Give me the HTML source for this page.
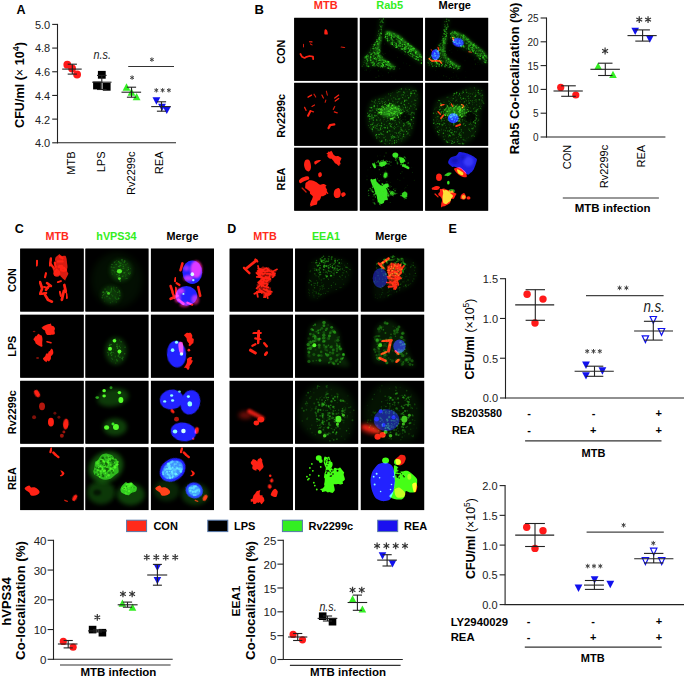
<!DOCTYPE html>
<html><head><meta charset="utf-8"><style>
html,body{margin:0;padding:0;background:#fff;}
svg{display:block;font-family:"Liberation Sans", sans-serif;}
</style></head><body>
<svg width="685" height="678" viewBox="0 0 685 678">
<text x="16.5" y="14.2" font-size="12.5" font-weight="bold" text-anchor="start" fill="#000">A</text>
<line x1="57.5" y1="23.9" x2="57.5" y2="143.3" stroke="#222" stroke-width="1.1"/>
<line x1="57.0" y1="142.8" x2="176" y2="142.8" stroke="#222" stroke-width="1.1"/>
<line x1="52.2" y1="142.8" x2="57.5" y2="142.8" stroke="#222" stroke-width="1.1"/>
<text x="50.2" y="147.2" font-size="11" font-weight="normal" text-anchor="end" fill="#222">4.0</text>
<line x1="52.2" y1="119.12" x2="57.5" y2="119.12" stroke="#222" stroke-width="1.1"/>
<text x="50.2" y="123.52" font-size="11" font-weight="normal" text-anchor="end" fill="#222">4.2</text>
<line x1="52.2" y1="95.44" x2="57.5" y2="95.44" stroke="#222" stroke-width="1.1"/>
<text x="50.2" y="99.84" font-size="11" font-weight="normal" text-anchor="end" fill="#222">4.4</text>
<line x1="52.2" y1="71.76" x2="57.5" y2="71.76" stroke="#222" stroke-width="1.1"/>
<text x="50.2" y="76.16" font-size="11" font-weight="normal" text-anchor="end" fill="#222">4.6</text>
<line x1="52.2" y1="48.08" x2="57.5" y2="48.08" stroke="#222" stroke-width="1.1"/>
<text x="50.2" y="52.48" font-size="11" font-weight="normal" text-anchor="end" fill="#222">4.8</text>
<line x1="52.2" y1="24.4" x2="57.5" y2="24.4" stroke="#222" stroke-width="1.1"/>
<text x="50.2" y="28.8" font-size="11" font-weight="normal" text-anchor="end" fill="#222">5.0</text>
<text transform="translate(24.3 85) rotate(-90)" text-anchor="middle" font-size="12.6" font-weight="bold">CFU/ml (<tspan font-weight="normal">×</tspan> 10<tspan dy="-5.5" font-size="9">4</tspan><tspan dy="5.5">)</tspan></text>
<text transform="translate(74.6 151.5) rotate(-90)" text-anchor="end" font-size="11">MTB</text>
<text transform="translate(104.7 151.5) rotate(-90)" text-anchor="end" font-size="11">LPS</text>
<text transform="translate(134.5 151.5) rotate(-90)" text-anchor="end" font-size="11">Rv2299c</text>
<text transform="translate(163.20000000000002 151.5) rotate(-90)" text-anchor="end" font-size="11">REA</text>
<circle cx="67.3" cy="64.7" r="3.9" fill="#ff1a1a"/>
<circle cx="72.1" cy="68.4" r="3.9" fill="#ff1a1a"/>
<circle cx="77.1" cy="74.5" r="3.9" fill="#ff1a1a"/>
<line x1="62.2" y1="69.1" x2="81.7" y2="69.1" stroke="#222" stroke-width="1.1"/>
<line x1="72.3" y1="64.2" x2="72.3" y2="74.1" stroke="#222" stroke-width="1.1"/>
<line x1="67.7" y1="64.2" x2="76.89999999999999" y2="64.2" stroke="#222" stroke-width="1.1"/>
<line x1="67.7" y1="74.1" x2="76.89999999999999" y2="74.1" stroke="#222" stroke-width="1.1"/>
<rect x="97.89999999999999" y="70.89999999999999" width="7.8" height="7.8" fill="#000"/>
<rect x="93.1" y="81.6" width="7.8" height="7.8" fill="#000"/>
<rect x="102.8" y="82.89999999999999" width="7.8" height="7.8" fill="#000"/>
<line x1="92.2" y1="82.2" x2="111.5" y2="82.2" stroke="#222" stroke-width="1.1"/>
<line x1="101.8" y1="75.4" x2="101.8" y2="89.5" stroke="#222" stroke-width="1.1"/>
<line x1="97.0" y1="75.4" x2="106.6" y2="75.4" stroke="#222" stroke-width="1.1"/>
<line x1="97.0" y1="89.5" x2="106.6" y2="89.5" stroke="#222" stroke-width="1.1"/>
<text x="93.5" y="59.2" font-size="12.7" font-style="italic" fill="#222" textLength="17.4" lengthAdjust="spacingAndGlyphs">n.s.</text>
<polygon points="126.5,83.295 122.6,90.705 130.4,90.705" fill="#33ee22"/>
<polygon points="131.5,88.295 127.6,95.705 135.4,95.705" fill="#33ee22"/>
<polygon points="136.6,92.895 132.7,100.30499999999999 140.5,100.30499999999999" fill="#33ee22"/>
<line x1="121.5" y1="92.2" x2="141.1" y2="92.2" stroke="#222" stroke-width="1.1"/>
<line x1="131.5" y1="87.2" x2="131.5" y2="97.2" stroke="#222" stroke-width="1.1"/>
<line x1="126.9" y1="87.2" x2="136.1" y2="87.2" stroke="#222" stroke-width="1.1"/>
<line x1="126.9" y1="97.2" x2="136.1" y2="97.2" stroke="#222" stroke-width="1.1"/>
<path d="M132.10,75.40L132.10,79.80M130.19,76.50L134.01,78.70M134.01,76.50L130.19,78.70" stroke="#444" stroke-width="1.0" fill="none"/>
<polygon points="156.4,104.705 152.5,97.295 160.3,97.295" fill="#1111ee"/>
<polygon points="162,111.205 158.1,103.795 165.9,103.795" fill="#1111ee"/>
<polygon points="166.8,114.105 162.9,106.69500000000001 170.70000000000002,106.69500000000001" fill="#1111ee"/>
<line x1="151.2" y1="106.6" x2="170.8" y2="106.6" stroke="#222" stroke-width="1.1"/>
<line x1="161.5" y1="101.8" x2="161.5" y2="111.2" stroke="#222" stroke-width="1.1"/>
<line x1="156.9" y1="101.8" x2="166.1" y2="101.8" stroke="#222" stroke-width="1.1"/>
<line x1="156.9" y1="111.2" x2="166.1" y2="111.2" stroke="#222" stroke-width="1.1"/>
<path d="M156.30,88.10L156.30,92.50M154.39,89.20L158.21,91.40M158.21,89.20L154.39,91.40" stroke="#444" stroke-width="1.0" fill="none"/>
<path d="M162.60,88.10L162.60,92.50M160.69,89.20L164.51,91.40M164.51,89.20L160.69,91.40" stroke="#444" stroke-width="1.0" fill="none"/>
<path d="M168.90,88.10L168.90,92.50M166.99,89.20L170.81,91.40M170.81,89.20L166.99,91.40" stroke="#444" stroke-width="1.0" fill="none"/>
<line x1="128.2" y1="66.5" x2="174" y2="66.5" stroke="#333" stroke-width="1.1"/>
<path d="M151.90,57.40L151.90,61.80M149.99,58.50L153.81,60.70M153.81,58.50L149.99,60.70" stroke="#444" stroke-width="1.0" fill="none"/>
<line x1="546.5" y1="17.5" x2="546.5" y2="137.5" stroke="#222" stroke-width="1.1"/>
<line x1="546.0" y1="137.0" x2="665.4" y2="137.0" stroke="#222" stroke-width="1.1"/>
<line x1="540.6" y1="137.0" x2="546.5" y2="137.0" stroke="#222" stroke-width="1.1"/>
<text x="538.6" y="141.0" font-size="10" font-weight="normal" text-anchor="end" fill="#222">0</text>
<line x1="540.6" y1="113.2" x2="546.5" y2="113.2" stroke="#222" stroke-width="1.1"/>
<text x="538.6" y="117.2" font-size="10" font-weight="normal" text-anchor="end" fill="#222">5</text>
<line x1="540.6" y1="89.4" x2="546.5" y2="89.4" stroke="#222" stroke-width="1.1"/>
<text x="538.6" y="93.4" font-size="10" font-weight="normal" text-anchor="end" fill="#222">10</text>
<line x1="540.6" y1="65.6" x2="546.5" y2="65.6" stroke="#222" stroke-width="1.1"/>
<text x="538.6" y="69.6" font-size="10" font-weight="normal" text-anchor="end" fill="#222">15</text>
<line x1="540.6" y1="41.8" x2="546.5" y2="41.8" stroke="#222" stroke-width="1.1"/>
<text x="538.6" y="45.8" font-size="10" font-weight="normal" text-anchor="end" fill="#222">20</text>
<line x1="540.6" y1="18.0" x2="546.5" y2="18.0" stroke="#222" stroke-width="1.1"/>
<text x="538.6" y="22.0" font-size="10" font-weight="normal" text-anchor="end" fill="#222">25</text>
<text transform="translate(519 78.5) rotate(-90)" text-anchor="middle" font-size="13" font-weight="bold">Rab5 Co-localization (%)</text>
<text transform="translate(570.5999999999999 144.8) rotate(-90)" text-anchor="end" font-size="11">CON</text>
<text transform="translate(608.0 144.8) rotate(-90)" text-anchor="end" font-size="11">Rv2299c</text>
<text transform="translate(644.9 144.8) rotate(-90)" text-anchor="end" font-size="11">REA</text>
<line x1="562.8" y1="198" x2="658.9" y2="198" stroke="#333" stroke-width="1.2"/>
<text x="612.65" y="211.9" font-size="11.5" font-weight="bold" text-anchor="middle" fill="#000">MTB infection</text>
<circle cx="560.7" cy="87.4" r="3.6" fill="#ff1a1a"/>
<circle cx="575.8" cy="95" r="3.6" fill="#ff1a1a"/>
<line x1="553.5" y1="91" x2="582.8" y2="91" stroke="#222" stroke-width="1.1"/>
<line x1="568.5" y1="85.8" x2="568.5" y2="96.3" stroke="#222" stroke-width="1.1"/>
<line x1="561.2" y1="85.8" x2="575.8" y2="85.8" stroke="#222" stroke-width="1.1"/>
<line x1="561.2" y1="96.3" x2="575.8" y2="96.3" stroke="#222" stroke-width="1.1"/>
<polygon points="598.1,62.39 594.3000000000001,69.61 601.9,69.61" fill="#33ee22"/>
<polygon points="613,70.79 609.2,78.01 616.8,78.01" fill="#33ee22"/>
<line x1="590.4" y1="69.3" x2="619.9" y2="69.3" stroke="#222" stroke-width="1.1"/>
<line x1="605.3" y1="63.2" x2="605.3" y2="75.5" stroke="#222" stroke-width="1.1"/>
<line x1="598.0999999999999" y1="63.2" x2="612.5" y2="63.2" stroke="#222" stroke-width="1.1"/>
<line x1="598.0999999999999" y1="75.5" x2="612.5" y2="75.5" stroke="#222" stroke-width="1.1"/>
<path d="M605.10,47.60L605.10,54.40M602.16,49.30L608.04,52.70M608.04,49.30L602.16,52.70" stroke="#333" stroke-width="1.2" fill="none"/>
<polygon points="635.2,35.01 631.4000000000001,27.79 639.0,27.79" fill="#1111ee"/>
<polygon points="649.8,42.71 646.0,35.49 653.5999999999999,35.49" fill="#1111ee"/>
<line x1="627.5" y1="35.6" x2="656.7" y2="35.6" stroke="#222" stroke-width="1.1"/>
<line x1="642.6" y1="29.9" x2="642.6" y2="41.1" stroke="#222" stroke-width="1.1"/>
<line x1="635.3000000000001" y1="29.9" x2="649.9" y2="29.9" stroke="#222" stroke-width="1.1"/>
<line x1="635.3000000000001" y1="41.1" x2="649.9" y2="41.1" stroke="#222" stroke-width="1.1"/>
<path d="M639.25,16.20L639.25,23.00M636.31,17.90L642.19,21.30M642.19,17.90L636.31,21.30" stroke="#333" stroke-width="1.2" fill="none"/>
<path d="M648.05,16.20L648.05,23.00M645.11,17.90L650.99,21.30M650.99,17.90L645.11,21.30" stroke="#333" stroke-width="1.2" fill="none"/>
<line x1="53.5" y1="539.8" x2="53.5" y2="659.8" stroke="#222" stroke-width="1.1"/>
<line x1="53.0" y1="659.3" x2="172.7" y2="659.3" stroke="#222" stroke-width="1.1"/>
<line x1="47.6" y1="659.3" x2="53.5" y2="659.3" stroke="#222" stroke-width="1.1"/>
<text x="46.5" y="663.9" font-size="11.5" font-weight="normal" text-anchor="end" fill="#222">0</text>
<line x1="47.6" y1="629.55" x2="53.5" y2="629.55" stroke="#222" stroke-width="1.1"/>
<text x="46.5" y="634.15" font-size="11.5" font-weight="normal" text-anchor="end" fill="#222">10</text>
<line x1="47.6" y1="599.8" x2="53.5" y2="599.8" stroke="#222" stroke-width="1.1"/>
<text x="46.5" y="604.4" font-size="11.5" font-weight="normal" text-anchor="end" fill="#222">20</text>
<line x1="47.6" y1="570.05" x2="53.5" y2="570.05" stroke="#222" stroke-width="1.1"/>
<text x="46.5" y="574.65" font-size="11.5" font-weight="normal" text-anchor="end" fill="#222">30</text>
<line x1="47.6" y1="540.3" x2="53.5" y2="540.3" stroke="#222" stroke-width="1.1"/>
<text x="46.5" y="544.9" font-size="11.5" font-weight="normal" text-anchor="end" fill="#222">40</text>
<text transform="translate(11 601.5) rotate(-90)" text-anchor="middle" font-size="13" font-weight="bold">hVPS34</text>
<text transform="translate(25.3 600.5) rotate(-90)" text-anchor="middle" font-size="13.3" font-weight="bold">Co-localization (%)</text>
<line x1="60" y1="665" x2="170.6" y2="665" stroke="#333" stroke-width="1.2"/>
<text x="118.4" y="676.3" font-size="11.5" font-weight="bold" text-anchor="middle" fill="#000">MTB infection</text>
<circle cx="63.3" cy="641.4" r="3.6" fill="#ff1a1a"/>
<circle cx="73.1" cy="647.2" r="3.6" fill="#ff1a1a"/>
<line x1="57.9" y1="644" x2="77.5" y2="644" stroke="#222" stroke-width="1.1"/>
<line x1="68.2" y1="640.5" x2="68.2" y2="647.9" stroke="#222" stroke-width="1.1"/>
<line x1="63.6" y1="640.5" x2="72.8" y2="640.5" stroke="#222" stroke-width="1.1"/>
<line x1="63.6" y1="647.9" x2="72.8" y2="647.9" stroke="#222" stroke-width="1.1"/>
<rect x="88.8" y="625.8000000000001" width="7.6" height="7.6" fill="#000"/>
<rect x="98.60000000000001" y="628.9000000000001" width="7.6" height="7.6" fill="#000"/>
<line x1="88" y1="630.9" x2="107" y2="630.9" stroke="#222" stroke-width="1.1"/>
<line x1="97.5" y1="629.8" x2="97.5" y2="632" stroke="#222" stroke-width="1.1"/>
<line x1="92.9" y1="629.8" x2="102.1" y2="629.8" stroke="#222" stroke-width="1.1"/>
<line x1="92.9" y1="632" x2="102.1" y2="632" stroke="#222" stroke-width="1.1"/>
<path d="M97.30,614.10L97.30,620.70M94.44,615.75L100.16,619.05M100.16,615.75L94.44,619.05" stroke="#333" stroke-width="1.2" fill="none"/>
<polygon points="122.4,599.49 118.60000000000001,606.71 126.2,606.71" fill="#33ee22"/>
<polygon points="132.5,603.59 128.7,610.8100000000001 136.3,610.8100000000001" fill="#33ee22"/>
<line x1="117.7" y1="604.8" x2="137.6" y2="604.8" stroke="#222" stroke-width="1.1"/>
<line x1="127.5" y1="602.1" x2="127.5" y2="607.2" stroke="#222" stroke-width="1.1"/>
<line x1="122.9" y1="602.1" x2="132.1" y2="602.1" stroke="#222" stroke-width="1.1"/>
<line x1="122.9" y1="607.2" x2="132.1" y2="607.2" stroke="#222" stroke-width="1.1"/>
<path d="M122.95,590.70L122.95,597.30M120.09,592.35L125.81,595.65M125.81,592.35L120.09,595.65" stroke="#333" stroke-width="1.2" fill="none"/>
<path d="M132.15,590.70L132.15,597.30M129.29,592.35L135.01,595.65M135.01,592.35L129.29,595.65" stroke="#333" stroke-width="1.2" fill="none"/>
<polygon points="157.4,571.11 153.6,563.89 161.20000000000002,563.89" fill="#1111ee"/>
<polygon points="157.4,584.3100000000001 153.6,577.09 161.20000000000002,577.09" fill="#1111ee"/>
<line x1="147.2" y1="575" x2="167.2" y2="575" stroke="#222" stroke-width="1.1"/>
<line x1="157.4" y1="564.4" x2="157.4" y2="585.2" stroke="#222" stroke-width="1.1"/>
<line x1="152.9" y1="564.4" x2="161.9" y2="564.4" stroke="#222" stroke-width="1.1"/>
<line x1="152.9" y1="585.2" x2="161.9" y2="585.2" stroke="#222" stroke-width="1.1"/>
<path d="M146.79,554.00L146.79,560.60M143.94,555.65L149.65,558.95M149.65,555.65L143.94,558.95" stroke="#333" stroke-width="1.2" fill="none"/>
<path d="M156.26,554.00L156.26,560.60M153.41,555.65L159.12,558.95M159.12,555.65L153.41,558.95" stroke="#333" stroke-width="1.2" fill="none"/>
<path d="M165.73,554.00L165.73,560.60M162.88,555.65L168.59,558.95M168.59,555.65L162.88,558.95" stroke="#333" stroke-width="1.2" fill="none"/>
<path d="M175.20,554.00L175.20,560.60M172.35,555.65L178.06,558.95M178.06,555.65L172.35,558.95" stroke="#333" stroke-width="1.2" fill="none"/>
<line x1="283.3" y1="539.8" x2="283.3" y2="660.0" stroke="#222" stroke-width="1.1"/>
<line x1="282.8" y1="659.5" x2="402.8" y2="659.5" stroke="#222" stroke-width="1.1"/>
<line x1="277.40000000000003" y1="659.5" x2="283.3" y2="659.5" stroke="#222" stroke-width="1.1"/>
<text x="276.3" y="664.1" font-size="11.5" font-weight="normal" text-anchor="end" fill="#222">0</text>
<line x1="277.40000000000003" y1="635.66" x2="283.3" y2="635.66" stroke="#222" stroke-width="1.1"/>
<text x="276.3" y="640.26" font-size="11.5" font-weight="normal" text-anchor="end" fill="#222">5</text>
<line x1="277.40000000000003" y1="611.82" x2="283.3" y2="611.82" stroke="#222" stroke-width="1.1"/>
<text x="276.3" y="616.42" font-size="11.5" font-weight="normal" text-anchor="end" fill="#222">10</text>
<line x1="277.40000000000003" y1="587.98" x2="283.3" y2="587.98" stroke="#222" stroke-width="1.1"/>
<text x="276.3" y="592.58" font-size="11.5" font-weight="normal" text-anchor="end" fill="#222">15</text>
<line x1="277.40000000000003" y1="564.14" x2="283.3" y2="564.14" stroke="#222" stroke-width="1.1"/>
<text x="276.3" y="568.74" font-size="11.5" font-weight="normal" text-anchor="end" fill="#222">20</text>
<line x1="277.40000000000003" y1="540.3" x2="283.3" y2="540.3" stroke="#222" stroke-width="1.1"/>
<text x="276.3" y="544.9" font-size="11.5" font-weight="normal" text-anchor="end" fill="#222">25</text>
<text transform="translate(239.8 601) rotate(-90)" text-anchor="middle" font-size="11.8" font-weight="bold">EEA1</text>
<text transform="translate(254.6 600.5) rotate(-90)" text-anchor="middle" font-size="13.3" font-weight="bold">Co-localization (%)</text>
<line x1="289.9" y1="665.4" x2="400.6" y2="665.4" stroke="#333" stroke-width="1.2"/>
<text x="348.0" y="676.3" font-size="11.5" font-weight="bold" text-anchor="middle" fill="#000">MTB infection</text>
<circle cx="293.1" cy="634.4" r="3.6" fill="#ff1a1a"/>
<circle cx="302.5" cy="639.8" r="3.6" fill="#ff1a1a"/>
<line x1="288.1" y1="637" x2="307.3" y2="637" stroke="#222" stroke-width="1.1"/>
<line x1="297.7" y1="633.5" x2="297.7" y2="640.5" stroke="#222" stroke-width="1.1"/>
<line x1="293.09999999999997" y1="633.5" x2="302.3" y2="633.5" stroke="#222" stroke-width="1.1"/>
<line x1="293.09999999999997" y1="640.5" x2="302.3" y2="640.5" stroke="#222" stroke-width="1.1"/>
<rect x="318.9" y="612.4000000000001" width="7.6" height="7.6" fill="#000"/>
<rect x="328.7" y="617.9000000000001" width="7.6" height="7.6" fill="#000"/>
<line x1="317.6" y1="618.4" x2="337.3" y2="618.4" stroke="#222" stroke-width="1.1"/>
<line x1="327.5" y1="616" x2="327.5" y2="621" stroke="#222" stroke-width="1.1"/>
<line x1="322.9" y1="616" x2="332.1" y2="616" stroke="#222" stroke-width="1.1"/>
<line x1="322.9" y1="621" x2="332.1" y2="621" stroke="#222" stroke-width="1.1"/>
<text x="319.4" y="610.7" font-size="12.7" font-style="italic" fill="#222" textLength="17.2" lengthAdjust="spacingAndGlyphs">n.s.</text>
<polygon points="352.6,595.1899999999999 348.8,602.41 356.40000000000003,602.41" fill="#33ee22"/>
<polygon points="362.4,605.39 358.59999999999997,612.61 366.2,612.61" fill="#33ee22"/>
<line x1="347.6" y1="602.5" x2="367.2" y2="602.5" stroke="#222" stroke-width="1.1"/>
<line x1="357.4" y1="595.1" x2="357.4" y2="610.3" stroke="#222" stroke-width="1.1"/>
<line x1="352.79999999999995" y1="595.1" x2="362.0" y2="595.1" stroke="#222" stroke-width="1.1"/>
<line x1="352.79999999999995" y1="610.3" x2="362.0" y2="610.3" stroke="#222" stroke-width="1.1"/>
<path d="M352.55,586.70L352.55,593.30M349.69,588.35L355.41,591.65M355.41,588.35L349.69,591.65" stroke="#333" stroke-width="1.2" fill="none"/>
<path d="M361.75,586.70L361.75,593.30M358.89,588.35L364.61,591.65M364.61,588.35L358.89,591.65" stroke="#333" stroke-width="1.2" fill="none"/>
<polygon points="382.5,559.41 378.7,552.1899999999999 386.3,552.1899999999999" fill="#1111ee"/>
<polygon points="392.5,567.41 388.7,560.1899999999999 396.3,560.1899999999999" fill="#1111ee"/>
<line x1="377.2" y1="560.1" x2="396.9" y2="560.1" stroke="#222" stroke-width="1.1"/>
<line x1="387.1" y1="554.7" x2="387.1" y2="566" stroke="#222" stroke-width="1.1"/>
<line x1="382.5" y1="554.7" x2="391.70000000000005" y2="554.7" stroke="#222" stroke-width="1.1"/>
<line x1="382.5" y1="566" x2="391.70000000000005" y2="566" stroke="#222" stroke-width="1.1"/>
<path d="M377.10,542.60L377.10,549.20M374.24,544.25L379.96,547.55M379.96,544.25L374.24,547.55" stroke="#333" stroke-width="1.2" fill="none"/>
<path d="M386.40,542.60L386.40,549.20M383.54,544.25L389.26,547.55M389.26,544.25L383.54,547.55" stroke="#333" stroke-width="1.2" fill="none"/>
<path d="M395.70,542.60L395.70,549.20M392.84,544.25L398.56,547.55M398.56,544.25L392.84,547.55" stroke="#333" stroke-width="1.2" fill="none"/>
<path d="M405.00,542.60L405.00,549.20M402.14,544.25L407.86,547.55M407.86,544.25L402.14,547.55" stroke="#333" stroke-width="1.2" fill="none"/>
<text x="448.6" y="232.7" font-size="12.5" font-weight="bold" text-anchor="start" fill="#000">E</text>
<line x1="505.5" y1="278.2" x2="505.5" y2="398.5" stroke="#222" stroke-width="1.1"/>
<line x1="505.0" y1="398.0" x2="684" y2="398.0" stroke="#222" stroke-width="1.1"/>
<line x1="500.0" y1="398.0" x2="505.5" y2="398.0" stroke="#222" stroke-width="1.1"/>
<text x="498" y="402.4" font-size="11" font-weight="normal" text-anchor="end" fill="#222">0.0</text>
<line x1="500.0" y1="358.23" x2="505.5" y2="358.23" stroke="#222" stroke-width="1.1"/>
<text x="498" y="362.63" font-size="11" font-weight="normal" text-anchor="end" fill="#222">0.5</text>
<line x1="500.0" y1="318.47" x2="505.5" y2="318.47" stroke="#222" stroke-width="1.1"/>
<text x="498" y="322.87" font-size="11" font-weight="normal" text-anchor="end" fill="#222">1.0</text>
<line x1="500.0" y1="278.7" x2="505.5" y2="278.7" stroke="#222" stroke-width="1.1"/>
<text x="498" y="283.1" font-size="11" font-weight="normal" text-anchor="end" fill="#222">1.5</text>
<text transform="translate(473.6 339) rotate(-90)" text-anchor="middle" font-size="12.4" font-weight="bold">CFU/ml <tspan font-weight="normal">(×10<tspan dy="-4.5" font-size="8.5">5</tspan><tspan dy="4.5">)</tspan></tspan></text>
<circle cx="527.1" cy="294.3" r="3.7" fill="#ff1a1a"/>
<circle cx="543" cy="299.1" r="3.7" fill="#ff1a1a"/>
<circle cx="535" cy="323" r="3.7" fill="#ff1a1a"/>
<line x1="515.2" y1="304.9" x2="554.2" y2="304.9" stroke="#222" stroke-width="1.1"/>
<line x1="535.3" y1="289.7" x2="535.3" y2="320.3" stroke="#222" stroke-width="1.1"/>
<line x1="525.5999999999999" y1="289.7" x2="545.0" y2="289.7" stroke="#222" stroke-width="1.1"/>
<line x1="525.5999999999999" y1="320.3" x2="545.0" y2="320.3" stroke="#222" stroke-width="1.1"/>
<polygon points="586,368.905 582.1,361.495 589.9,361.495" fill="#1111ee"/>
<polygon points="586,379.60499999999996 582.1,372.195 589.9,372.195" fill="#1111ee"/>
<polygon points="602.4,374.705 598.5,367.295 606.3,367.295" fill="#1111ee"/>
<line x1="574.6" y1="371.2" x2="613.8" y2="371.2" stroke="#222" stroke-width="1.1"/>
<line x1="594.5" y1="366.2" x2="594.5" y2="376.3" stroke="#222" stroke-width="1.1"/>
<line x1="585.7" y1="366.2" x2="603.3" y2="366.2" stroke="#222" stroke-width="1.1"/>
<line x1="585.7" y1="376.3" x2="603.3" y2="376.3" stroke="#222" stroke-width="1.1"/>
<path d="M587.20,349.00L587.20,353.60M585.21,350.15L589.19,352.45M589.19,350.15L585.21,352.45" stroke="#444" stroke-width="1.0" fill="none"/>
<path d="M593.50,349.00L593.50,353.60M591.51,350.15L595.49,352.45M595.49,350.15L591.51,352.45" stroke="#444" stroke-width="1.0" fill="none"/>
<path d="M599.80,349.00L599.80,353.60M597.81,350.15L601.79,352.45M601.79,350.15L597.81,352.45" stroke="#444" stroke-width="1.0" fill="none"/>
<polygon points="653.3,323.305 650.1,316.49500000000006 656.4999999999999,316.49500000000006" fill="#fff" stroke="#1111ee" stroke-width="1.2"/>
<polygon points="661.5,335.305 658.3000000000001,328.49500000000006 664.6999999999999,328.49500000000006" fill="#fff" stroke="#1111ee" stroke-width="1.2"/>
<polygon points="645.4,342.60499999999996 642.2,335.795 648.5999999999999,335.795" fill="#fff" stroke="#1111ee" stroke-width="1.2"/>
<line x1="634.1" y1="331" x2="673" y2="331" stroke="#222" stroke-width="1.1"/>
<line x1="653.3" y1="321.3" x2="653.3" y2="340.1" stroke="#222" stroke-width="1.1"/>
<line x1="643.9" y1="321.3" x2="662.6999999999999" y2="321.3" stroke="#222" stroke-width="1.1"/>
<line x1="643.9" y1="340.1" x2="662.6999999999999" y2="340.1" stroke="#222" stroke-width="1.1"/>
<text x="643.4" y="311.8" font-size="16" font-style="italic" fill="#222" textLength="21.6" lengthAdjust="spacingAndGlyphs">n.s.</text>
<line x1="586" y1="295.7" x2="663.6" y2="295.7" stroke="#444" stroke-width="1.2"/>
<path d="M619.60,285.60L619.60,290.20M617.61,286.75L621.59,289.05M621.59,286.75L617.61,289.05" stroke="#444" stroke-width="1.0" fill="none"/>
<path d="M626.40,285.60L626.40,290.20M624.41,286.75L628.39,289.05M628.39,286.75L624.41,289.05" stroke="#444" stroke-width="1.0" fill="none"/>
<text x="451" y="416.5" font-size="10.8" font-weight="bold" text-anchor="start" fill="#000">SB203580</text>
<text x="452" y="433.8" font-size="10.8" font-weight="bold" text-anchor="start" fill="#000">REA</text>
<text x="529.2" y="417.4" font-size="11" font-weight="bold" text-anchor="middle" fill="#000">-</text>
<text x="593.7" y="417.4" font-size="11" font-weight="bold" text-anchor="middle" fill="#000">-</text>
<text x="658.8" y="416.9" font-size="11" font-weight="bold" text-anchor="middle" fill="#000">+</text>
<text x="529.2" y="433.6" font-size="11" font-weight="bold" text-anchor="middle" fill="#000">-</text>
<text x="593.2" y="433.6" font-size="11" font-weight="bold" text-anchor="middle" fill="#000">+</text>
<text x="658.8" y="433.6" font-size="11" font-weight="bold" text-anchor="middle" fill="#000">+</text>
<line x1="525.1" y1="440.9" x2="661.5" y2="440.9" stroke="#333" stroke-width="1.2"/>
<text x="593.5" y="456.6" font-size="11" font-weight="bold" text-anchor="middle" fill="#000">MTB</text>
<line x1="505.1" y1="485.1" x2="505.1" y2="605.1" stroke="#222" stroke-width="1.1"/>
<line x1="504.6" y1="604.6" x2="684" y2="604.6" stroke="#222" stroke-width="1.1"/>
<line x1="499.6" y1="604.6" x2="505.1" y2="604.6" stroke="#222" stroke-width="1.1"/>
<text x="497.5" y="609.0" font-size="11" font-weight="normal" text-anchor="end" fill="#222">0.0</text>
<line x1="499.6" y1="574.85" x2="505.1" y2="574.85" stroke="#222" stroke-width="1.1"/>
<text x="497.5" y="579.25" font-size="11" font-weight="normal" text-anchor="end" fill="#222">0.5</text>
<line x1="499.6" y1="545.1" x2="505.1" y2="545.1" stroke="#222" stroke-width="1.1"/>
<text x="497.5" y="549.5" font-size="11" font-weight="normal" text-anchor="end" fill="#222">1.0</text>
<line x1="499.6" y1="515.35" x2="505.1" y2="515.35" stroke="#222" stroke-width="1.1"/>
<text x="497.5" y="519.75" font-size="11" font-weight="normal" text-anchor="end" fill="#222">1.5</text>
<line x1="499.6" y1="485.6" x2="505.1" y2="485.6" stroke="#222" stroke-width="1.1"/>
<text x="497.5" y="490.0" font-size="11" font-weight="normal" text-anchor="end" fill="#222">2.0</text>
<text transform="translate(474.6 538.5) rotate(-90)" text-anchor="middle" font-size="12.4" font-weight="bold">CFU/ml <tspan font-weight="normal">(×10<tspan dy="-4.5" font-size="8.5">5</tspan><tspan dy="4.5">)</tspan></tspan></text>
<circle cx="526.7" cy="527.2" r="3.7" fill="#ff1a1a"/>
<circle cx="543" cy="530.7" r="3.7" fill="#ff1a1a"/>
<circle cx="535" cy="548.4" r="3.7" fill="#ff1a1a"/>
<line x1="515.2" y1="535.1" x2="554.2" y2="535.1" stroke="#222" stroke-width="1.1"/>
<line x1="535" y1="523.5" x2="535" y2="546.5" stroke="#222" stroke-width="1.1"/>
<line x1="525.1" y1="523.5" x2="544.9" y2="523.5" stroke="#222" stroke-width="1.1"/>
<line x1="525.1" y1="546.5" x2="544.9" y2="546.5" stroke="#222" stroke-width="1.1"/>
<polygon points="578.5,592.005 574.6,584.5949999999999 582.4,584.5949999999999" fill="#1111ee"/>
<polygon points="594.6,583.605 590.7,576.1949999999999 598.5,576.1949999999999" fill="#1111ee"/>
<polygon points="610.3,588.205 606.4,580.795 614.1999999999999,580.795" fill="#1111ee"/>
<line x1="584" y1="585.1" x2="603.9" y2="585.1" stroke="#222" stroke-width="1.1"/>
<line x1="594.4" y1="580.5" x2="594.4" y2="589.4" stroke="#222" stroke-width="1.1"/>
<line x1="584.9" y1="580.5" x2="603.9" y2="580.5" stroke="#222" stroke-width="1.1"/>
<line x1="584.9" y1="589.4" x2="603.9" y2="589.4" stroke="#222" stroke-width="1.1"/>
<path d="M587.70,563.80L587.70,568.40M585.71,564.95L589.69,567.25M589.69,564.95L585.71,567.25" stroke="#444" stroke-width="1.0" fill="none"/>
<path d="M594.00,563.80L594.00,568.40M592.01,564.95L595.99,567.25M595.99,564.95L592.01,567.25" stroke="#444" stroke-width="1.0" fill="none"/>
<path d="M600.30,563.80L600.30,568.40M598.31,564.95L602.29,567.25M602.29,564.95L598.31,567.25" stroke="#444" stroke-width="1.0" fill="none"/>
<polygon points="653.7,555.005 650.5000000000001,548.1949999999999 656.9,548.1949999999999" fill="#fff" stroke="#1111ee" stroke-width="1.2"/>
<polygon points="645.4,564.505 642.2,557.6949999999999 648.5999999999999,557.6949999999999" fill="#fff" stroke="#1111ee" stroke-width="1.2"/>
<polygon points="661.7,564.505 658.5000000000001,557.6949999999999 664.9,557.6949999999999" fill="#fff" stroke="#1111ee" stroke-width="1.2"/>
<line x1="634.2" y1="558.7" x2="673.4" y2="558.7" stroke="#222" stroke-width="1.1"/>
<line x1="653.7" y1="553.4" x2="653.7" y2="562.9" stroke="#222" stroke-width="1.1"/>
<line x1="644.0" y1="553.4" x2="663.4000000000001" y2="553.4" stroke="#222" stroke-width="1.1"/>
<line x1="644.0" y1="562.9" x2="663.4000000000001" y2="562.9" stroke="#222" stroke-width="1.1"/>
<path d="M653.30,540.90L653.30,545.50M651.31,542.05L655.29,544.35M655.29,542.05L651.31,544.35" stroke="#444" stroke-width="1.0" fill="none"/>
<line x1="586.6" y1="532.2" x2="663.8" y2="532.2" stroke="#444" stroke-width="1.2"/>
<path d="M623.60,522.90L623.60,527.50M621.61,524.05L625.59,526.35M625.59,524.05L621.61,526.35" stroke="#444" stroke-width="1.0" fill="none"/>
<text x="450.7" y="625.5" font-size="11.3" font-weight="bold" text-anchor="start" fill="#000">LY2940029</text>
<text x="450.7" y="640.5" font-size="11.3" font-weight="bold" text-anchor="start" fill="#000">REA</text>
<text x="528.7" y="624.8" font-size="11" font-weight="bold" text-anchor="middle" fill="#000">-</text>
<text x="593.1" y="624.8" font-size="11" font-weight="bold" text-anchor="middle" fill="#000">-</text>
<text x="658.9" y="624.8" font-size="11" font-weight="bold" text-anchor="middle" fill="#000">+</text>
<text x="528.7" y="640.7" font-size="11" font-weight="bold" text-anchor="middle" fill="#000">-</text>
<text x="593.1" y="640.7" font-size="11" font-weight="bold" text-anchor="middle" fill="#000">+</text>
<text x="658.9" y="640.7" font-size="11" font-weight="bold" text-anchor="middle" fill="#000">+</text>
<line x1="524.8" y1="647.2" x2="661.7" y2="647.2" stroke="#333" stroke-width="1.2"/>
<text x="592.7" y="662" font-size="11" font-weight="bold" text-anchor="middle" fill="#000">MTB</text>
<text x="254.6" y="14.0" font-size="13" font-weight="bold" text-anchor="start" fill="#000">B</text>
<text x="325.7" y="8.9" font-size="11.0" font-weight="bold" text-anchor="middle" fill="#ff2a1a">MTB</text>
<text x="389.65" y="8.9" font-size="11.0" font-weight="bold" text-anchor="middle" fill="#33ee22">Rab5</text>
<text x="454.8" y="8.9" font-size="11.0" font-weight="bold" text-anchor="middle" fill="#000">Merge</text>
<text transform="translate(285.3 51.7) rotate(-90)" text-anchor="middle" font-size="10.8" font-weight="bold">CON</text>
<text transform="translate(285.3 115.9) rotate(-90)" text-anchor="middle" font-size="10.8" font-weight="bold">Rv2299c</text>
<text transform="translate(285.3 179) rotate(-90)" text-anchor="middle" font-size="10.8" font-weight="bold">REA</text>
<rect x="294.2" y="17.8" width="63.3" height="63.0" fill="#000"/>
<rect x="359.8" y="17.8" width="63.2" height="63.0" fill="#000"/>
<rect x="425.2" y="17.8" width="63.0" height="63.0" fill="#000"/>
<rect x="294.2" y="82.8" width="63.3" height="63.0" fill="#000"/>
<rect x="359.8" y="82.8" width="63.2" height="63.0" fill="#000"/>
<rect x="425.2" y="82.8" width="63.0" height="63.0" fill="#000"/>
<rect x="294.2" y="147.7" width="63.3" height="63.0" fill="#000"/>
<rect x="359.8" y="147.7" width="63.2" height="63.0" fill="#000"/>
<rect x="425.2" y="147.7" width="63.0" height="63.0" fill="#000"/>
<text x="14.7" y="232.9" font-size="12.5" font-weight="bold" text-anchor="start" fill="#000">C</text>
<text x="227.2" y="232.9" font-size="12.5" font-weight="bold" text-anchor="start" fill="#000">D</text>
<text x="57.2" y="239.6" font-size="10.8" font-weight="bold" text-anchor="middle" fill="#ff2a1a">MTB</text>
<text x="116.4" y="239.6" font-size="10.8" font-weight="bold" text-anchor="middle" fill="#33ee22">hVPS34</text>
<text x="182.5" y="239.6" font-size="10.8" font-weight="bold" text-anchor="middle" fill="#000">Merge</text>
<text x="265.0" y="239.6" font-size="10.8" font-weight="bold" text-anchor="middle" fill="#ff2a1a">MTB</text>
<text x="326.0" y="239.6" font-size="10.8" font-weight="bold" text-anchor="middle" fill="#33ee22">EEA1</text>
<text x="391.2" y="239.6" font-size="10.8" font-weight="bold" text-anchor="middle" fill="#000">Merge</text>
<text transform="translate(15.6 280.1) rotate(-90)" text-anchor="middle" font-size="10.8" font-weight="bold">CON</text>
<text transform="translate(15.6 346.2) rotate(-90)" text-anchor="middle" font-size="10.8" font-weight="bold">LPS</text>
<text transform="translate(15.6 412.25) rotate(-90)" text-anchor="middle" font-size="10.8" font-weight="bold">Rv2299c</text>
<text transform="translate(15.6 478.7) rotate(-90)" text-anchor="middle" font-size="10.8" font-weight="bold">REA</text>
<rect x="20.2" y="248.6" width="63.5" height="63.0" fill="#000"/>
<rect x="85.4" y="248.6" width="63.1" height="63.0" fill="#000"/>
<rect x="150.9" y="248.6" width="63.1" height="63.0" fill="#000"/>
<rect x="229.6" y="248.6" width="63.4" height="63.0" fill="#000"/>
<rect x="295.1" y="248.6" width="63.1" height="63.0" fill="#000"/>
<rect x="360.8" y="248.6" width="63.4" height="63.0" fill="#000"/>
<rect x="20.2" y="314.7" width="63.5" height="63.0" fill="#000"/>
<rect x="85.4" y="314.7" width="63.1" height="63.0" fill="#000"/>
<rect x="150.9" y="314.7" width="63.1" height="63.0" fill="#000"/>
<rect x="229.6" y="314.7" width="63.4" height="63.0" fill="#000"/>
<rect x="295.1" y="314.7" width="63.1" height="63.0" fill="#000"/>
<rect x="360.8" y="314.7" width="63.4" height="63.0" fill="#000"/>
<rect x="20.2" y="380.8" width="63.5" height="62.9" fill="#000"/>
<rect x="85.4" y="380.8" width="63.1" height="62.9" fill="#000"/>
<rect x="150.9" y="380.8" width="63.1" height="62.9" fill="#000"/>
<rect x="229.6" y="380.8" width="63.4" height="62.9" fill="#000"/>
<rect x="295.1" y="380.8" width="63.1" height="62.9" fill="#000"/>
<rect x="360.8" y="380.8" width="63.4" height="62.9" fill="#000"/>
<rect x="20.2" y="447.3" width="63.5" height="62.8" fill="#000"/>
<rect x="85.4" y="447.3" width="63.1" height="62.8" fill="#000"/>
<rect x="150.9" y="447.3" width="63.1" height="62.8" fill="#000"/>
<rect x="229.6" y="447.3" width="63.4" height="62.8" fill="#000"/>
<rect x="295.1" y="447.3" width="63.1" height="62.8" fill="#000"/>
<rect x="360.8" y="447.3" width="63.4" height="62.8" fill="#000"/>
<g clip-path="url(#c0)" style="isolation:isolate"><rect x="294.2" y="17.8" width="63.3" height="63.0" fill="#000"/><g transform="translate(294.2 17.8) scale(0.9891 0.9844)"><path d="M31.00,12.00 C31.42,11.33 32.50,11.75 33.00,12.50 C33.50,13.25 34.08,15.75 34.00,16.50 C33.92,17.25 33.08,17.00 32.50,17.00 C31.92,17.00 30.75,17.33 30.50,16.50 C30.25,15.67 30.58,12.67 31.00,12.00Z" fill="#ff2212" opacity="1" filter="url(#b03)"/><path d="M15.5,24.3 L18,24.5" fill="none" stroke="#ff2212" stroke-width="1.2" stroke-linecap="round" stroke-linejoin="round" opacity="1" filter="url(#b03)"/><path d="M16.5,26.5 L18,27.5" fill="none" stroke="#ff2212" stroke-width="1.2" stroke-linecap="round" stroke-linejoin="round" opacity="0.8" filter="url(#b03)"/><path d="M9.5,27 L9.4,29.5" fill="none" stroke="#ff2212" stroke-width="1.1" stroke-linecap="round" stroke-linejoin="round" opacity="0.8" filter="url(#b03)"/><path d="M47.5,29.7 L51,30.3" fill="none" stroke="#ff2212" stroke-width="1.2" stroke-linecap="round" stroke-linejoin="round" opacity="0.8" filter="url(#b03)"/><path d="M6.3,36.8 L7.8,39.5 L10.5,40.8 L12.5,39.6 L15.5,38.8 L19,39.5 L19.2,42" fill="none" stroke="#ff2212" stroke-width="1.8" stroke-linecap="round" stroke-linejoin="round" opacity="1" filter="url(#b03)"/></g></g>
<g clip-path="url(#c1)" style="isolation:isolate"><rect x="359.8" y="17.8" width="63.2" height="63.0" fill="#000"/><g transform="translate(359.8 17.8) scale(0.9875 0.9844)"><path d="M20.00,1.00 C20.92,-0.83 24.00,-0.83 24.50,1.00 C25.00,2.83 23.58,8.50 23.00,12.00 C22.42,15.50 21.50,19.00 21.00,22.00 C20.50,25.00 20.00,27.50 20.00,30.00 C20.00,32.50 20.17,35.00 21.00,37.00 C21.83,39.00 23.50,40.67 25.00,42.00 C26.50,43.33 28.17,43.83 30.00,45.00 C31.83,46.17 35.17,47.67 36.00,49.00 C36.83,50.33 36.67,52.67 35.00,53.00 C33.33,53.33 29.17,51.67 26.00,51.00 C22.83,50.33 19.00,49.17 16.00,49.00 C13.00,48.83 10.33,50.17 8.00,50.00 C5.67,49.83 2.83,49.33 2.00,48.00 C1.17,46.67 2.00,44.00 3.00,42.00 C4.00,40.00 6.33,38.00 8.00,36.00 C9.67,34.00 11.50,32.33 13.00,30.00 C14.50,27.67 16.00,25.00 17.00,22.00 C18.00,19.00 18.50,15.50 19.00,12.00 C19.50,8.50 19.08,2.83 20.00,1.00Z" fill="#2cb81e" opacity="0.22" filter="url(#b18)"/><path d="M26.00,13.00 C27.00,12.17 28.67,13.17 31.00,14.00 C33.33,14.83 37.33,16.33 40.00,18.00 C42.67,19.67 44.67,22.00 47.00,24.00 C49.33,26.00 51.83,28.17 54.00,30.00 C56.17,31.83 58.50,33.17 60.00,35.00 C61.50,36.83 62.50,39.00 63.00,41.00 C63.50,43.00 64.00,46.67 63.00,47.00 C62.00,47.33 59.17,44.50 57.00,43.00 C54.83,41.50 52.33,39.67 50.00,38.00 C47.67,36.33 45.33,34.33 43.00,33.00 C40.67,31.67 38.33,31.33 36.00,30.00 C33.67,28.67 30.83,26.83 29.00,25.00 C27.17,23.17 25.50,21.00 25.00,19.00 C24.50,17.00 25.00,13.83 26.00,13.00Z" fill="#2cb81e" opacity="0.26" filter="url(#b18)"/><g fill="#3ae626" filter="url(#b03)"><circle cx="21.7" cy="11.7" r="0.71" opacity="0.74"/><circle cx="19.7" cy="18.0" r="0.42" opacity="0.82"/><circle cx="6.5" cy="40.9" r="0.79" opacity="0.83"/><circle cx="22.9" cy="3.3" r="0.30" opacity="0.29"/><circle cx="14.4" cy="47.7" r="0.46" opacity="0.56"/><circle cx="21.9" cy="44.9" r="0.38" opacity="0.35"/><circle cx="18.9" cy="43.5" r="0.63" opacity="0.55"/><circle cx="21.3" cy="20.5" r="0.60" opacity="0.27"/><circle cx="7.7" cy="43.0" r="0.77" opacity="0.48"/><circle cx="11.3" cy="33.1" r="0.39" opacity="0.28"/><circle cx="24.1" cy="43.7" r="0.69" opacity="0.51"/><circle cx="22.5" cy="4.3" r="0.54" opacity="0.50"/><circle cx="17.6" cy="23.7" r="0.55" opacity="0.49"/><circle cx="26.7" cy="47.7" r="0.65" opacity="0.48"/><circle cx="24.1" cy="48.3" r="0.38" opacity="0.35"/><circle cx="29.5" cy="51.0" r="0.52" opacity="0.76"/><circle cx="26.4" cy="47.2" r="0.32" opacity="0.79"/><circle cx="28.1" cy="51.0" r="0.79" opacity="0.39"/><circle cx="22.2" cy="48.8" r="0.40" opacity="0.43"/><circle cx="17.8" cy="39.7" r="0.65" opacity="0.54"/><circle cx="16.4" cy="35.5" r="0.58" opacity="0.37"/><circle cx="14.4" cy="33.6" r="0.61" opacity="0.34"/><circle cx="22.7" cy="46.5" r="0.74" opacity="0.62"/><circle cx="11.6" cy="37.1" r="0.55" opacity="0.53"/><circle cx="13.6" cy="38.8" r="0.54" opacity="0.49"/><circle cx="18.2" cy="26.0" r="0.64" opacity="0.67"/><circle cx="29.0" cy="51.2" r="0.80" opacity="0.67"/><circle cx="4.2" cy="45.1" r="0.72" opacity="0.21"/><circle cx="28.9" cy="49.7" r="0.41" opacity="0.68"/><circle cx="19.8" cy="43.1" r="0.68" opacity="0.82"/><circle cx="21.2" cy="45.7" r="0.50" opacity="0.59"/><circle cx="22.6" cy="46.0" r="0.80" opacity="0.22"/><circle cx="6.9" cy="46.0" r="0.65" opacity="0.60"/><circle cx="8.0" cy="43.9" r="0.71" opacity="0.42"/><circle cx="7.2" cy="49.5" r="0.39" opacity="0.61"/><circle cx="28.4" cy="46.7" r="0.39" opacity="0.77"/><circle cx="19.5" cy="47.3" r="0.50" opacity="0.26"/><circle cx="24.1" cy="47.4" r="0.47" opacity="0.79"/><circle cx="20.1" cy="1.6" r="0.38" opacity="0.64"/><circle cx="4.5" cy="43.2" r="0.31" opacity="0.74"/><circle cx="13.5" cy="48.8" r="0.66" opacity="0.43"/><circle cx="11.8" cy="43.7" r="0.42" opacity="0.36"/><circle cx="16.2" cy="29.7" r="0.32" opacity="0.20"/><circle cx="18.6" cy="37.9" r="0.48" opacity="0.25"/><circle cx="19.3" cy="38.1" r="0.62" opacity="0.60"/><circle cx="12.2" cy="45.3" r="0.39" opacity="0.61"/><circle cx="17.3" cy="47.8" r="0.71" opacity="0.70"/><circle cx="13.5" cy="35.8" r="0.38" opacity="0.52"/><circle cx="19.7" cy="35.0" r="0.58" opacity="0.82"/><circle cx="20.9" cy="8.8" r="0.62" opacity="0.41"/><circle cx="17.6" cy="36.0" r="0.78" opacity="0.54"/><circle cx="14.9" cy="41.4" r="0.69" opacity="0.79"/><circle cx="35.7" cy="49.4" r="0.52" opacity="0.63"/><circle cx="30.4" cy="48.7" r="0.66" opacity="0.26"/><circle cx="15.6" cy="37.3" r="0.40" opacity="0.82"/><circle cx="15.0" cy="45.9" r="0.60" opacity="0.65"/><circle cx="34.6" cy="52.3" r="0.57" opacity="0.69"/><circle cx="17.5" cy="45.4" r="0.40" opacity="0.21"/><circle cx="13.4" cy="31.6" r="0.38" opacity="0.51"/><circle cx="28.4" cy="46.6" r="0.32" opacity="0.66"/><circle cx="17.6" cy="46.5" r="0.36" opacity="0.75"/><circle cx="17.7" cy="46.6" r="0.34" opacity="0.45"/><circle cx="21.4" cy="47.8" r="0.34" opacity="0.81"/><circle cx="27.6" cy="45.2" r="0.71" opacity="0.46"/><circle cx="27.5" cy="48.3" r="0.60" opacity="0.22"/><circle cx="20.5" cy="33.8" r="0.71" opacity="0.40"/><circle cx="7.5" cy="41.5" r="0.31" opacity="0.57"/><circle cx="12.5" cy="40.9" r="0.31" opacity="0.50"/><circle cx="16.3" cy="36.4" r="0.43" opacity="0.30"/><circle cx="18.1" cy="40.8" r="0.48" opacity="0.56"/><circle cx="20.7" cy="17.7" r="0.40" opacity="0.84"/><circle cx="21.9" cy="38.7" r="0.32" opacity="0.68"/><circle cx="18.7" cy="46.6" r="0.57" opacity="0.80"/><circle cx="10.3" cy="34.7" r="0.38" opacity="0.46"/><circle cx="25.9" cy="44.4" r="0.54" opacity="0.66"/><circle cx="19.8" cy="42.4" r="0.39" opacity="0.67"/><circle cx="22.5" cy="48.8" r="0.69" opacity="0.65"/><circle cx="13.1" cy="45.8" r="0.74" opacity="0.58"/><circle cx="15.6" cy="27.4" r="0.51" opacity="0.54"/><circle cx="11.4" cy="37.4" r="0.68" opacity="0.55"/><circle cx="25.8" cy="49.1" r="0.68" opacity="0.49"/><circle cx="22.9" cy="2.2" r="0.60" opacity="0.47"/><circle cx="25.9" cy="43.8" r="0.75" opacity="0.63"/><circle cx="20.2" cy="39.6" r="0.59" opacity="0.43"/><circle cx="17.8" cy="22.1" r="0.44" opacity="0.30"/><circle cx="20.9" cy="9.8" r="0.30" opacity="0.69"/><circle cx="29.3" cy="45.1" r="0.62" opacity="0.68"/><circle cx="10.4" cy="41.7" r="0.64" opacity="0.57"/><circle cx="11.1" cy="35.9" r="0.32" opacity="0.53"/><circle cx="22.4" cy="3.9" r="0.47" opacity="0.52"/><circle cx="5.1" cy="45.4" r="0.52" opacity="0.32"/><circle cx="19.3" cy="49.0" r="0.60" opacity="0.30"/><circle cx="23.3" cy="42.6" r="0.78" opacity="0.40"/><circle cx="21.6" cy="3.5" r="0.78" opacity="0.29"/><circle cx="24.2" cy="45.5" r="0.54" opacity="0.84"/><circle cx="15.8" cy="30.6" r="0.73" opacity="0.21"/><circle cx="7.6" cy="37.3" r="0.44" opacity="0.32"/><circle cx="19.4" cy="38.0" r="0.49" opacity="0.42"/><circle cx="21.8" cy="46.1" r="0.72" opacity="0.21"/><circle cx="11.2" cy="39.6" r="0.54" opacity="0.67"/><circle cx="8.9" cy="40.2" r="0.31" opacity="0.30"/><circle cx="19.6" cy="32.4" r="0.76" opacity="0.45"/><circle cx="18.9" cy="37.8" r="0.45" opacity="0.78"/><circle cx="19.5" cy="32.7" r="0.61" opacity="0.39"/><circle cx="20.9" cy="1.0" r="0.41" opacity="0.25"/><circle cx="23.7" cy="48.4" r="0.67" opacity="0.83"/><circle cx="11.7" cy="39.8" r="0.66" opacity="0.23"/><circle cx="21.5" cy="46.6" r="0.32" opacity="0.35"/><circle cx="20.2" cy="32.6" r="0.57" opacity="0.77"/><circle cx="14.9" cy="35.2" r="0.57" opacity="0.73"/><circle cx="15.3" cy="48.8" r="0.72" opacity="0.67"/><circle cx="14.9" cy="37.4" r="0.38" opacity="0.83"/><circle cx="8.3" cy="48.9" r="0.72" opacity="0.63"/><circle cx="4.7" cy="40.7" r="0.68" opacity="0.45"/><circle cx="16.7" cy="23.6" r="0.52" opacity="0.37"/><circle cx="27.6" cy="47.6" r="0.58" opacity="0.67"/><circle cx="5.8" cy="43.1" r="0.33" opacity="0.47"/><circle cx="30.7" cy="47.6" r="0.51" opacity="0.38"/><circle cx="22.9" cy="49.9" r="0.44" opacity="0.41"/><circle cx="13.7" cy="45.1" r="0.64" opacity="0.55"/><circle cx="5.6" cy="39.3" r="0.69" opacity="0.55"/><circle cx="25.8" cy="46.4" r="0.33" opacity="0.51"/><circle cx="27.5" cy="46.1" r="0.35" opacity="0.27"/><circle cx="23.8" cy="48.2" r="0.66" opacity="0.79"/><circle cx="17.2" cy="25.3" r="0.57" opacity="0.39"/><circle cx="12.1" cy="45.9" r="0.47" opacity="0.76"/><circle cx="8.3" cy="49.1" r="0.32" opacity="0.74"/><circle cx="25.1" cy="43.7" r="0.50" opacity="0.62"/><circle cx="2.6" cy="44.8" r="0.39" opacity="0.21"/><circle cx="31.4" cy="49.4" r="0.79" opacity="0.58"/><circle cx="28.8" cy="44.9" r="0.69" opacity="0.67"/><circle cx="21.5" cy="3.6" r="0.52" opacity="0.52"/><circle cx="6.8" cy="38.3" r="0.43" opacity="0.84"/><circle cx="9.3" cy="49.1" r="0.61" opacity="0.28"/><circle cx="21.4" cy="43.6" r="0.73" opacity="0.50"/><circle cx="21.3" cy="8.9" r="0.71" opacity="0.72"/><circle cx="11.1" cy="32.6" r="0.40" opacity="0.71"/><circle cx="17.9" cy="17.7" r="0.52" opacity="0.28"/><circle cx="14.4" cy="32.2" r="0.45" opacity="0.44"/><circle cx="11.0" cy="43.2" r="0.71" opacity="0.24"/><circle cx="17.0" cy="22.1" r="0.62" opacity="0.44"/><circle cx="30.7" cy="52.0" r="0.69" opacity="0.57"/><circle cx="19.7" cy="39.8" r="0.65" opacity="0.32"/><circle cx="20.5" cy="10.5" r="0.34" opacity="0.26"/><circle cx="21.4" cy="15.2" r="0.73" opacity="0.50"/><circle cx="22.9" cy="47.5" r="0.47" opacity="0.70"/><circle cx="17.3" cy="23.1" r="0.61" opacity="0.35"/><circle cx="20.9" cy="8.3" r="0.32" opacity="0.65"/><circle cx="7.2" cy="42.3" r="0.76" opacity="0.82"/><circle cx="22.3" cy="49.3" r="0.67" opacity="0.74"/><circle cx="6.1" cy="40.3" r="0.77" opacity="0.51"/><circle cx="16.7" cy="31.7" r="0.47" opacity="0.75"/><circle cx="20.5" cy="4.4" r="0.37" opacity="0.76"/><circle cx="14.9" cy="27.9" r="0.33" opacity="0.52"/><circle cx="4.0" cy="47.4" r="0.42" opacity="0.64"/><circle cx="17.4" cy="24.2" r="0.68" opacity="0.80"/><circle cx="14.5" cy="28.4" r="0.53" opacity="0.68"/><circle cx="18.0" cy="24.2" r="0.73" opacity="0.40"/><circle cx="11.2" cy="44.9" r="0.45" opacity="0.74"/><circle cx="12.5" cy="44.9" r="0.52" opacity="0.85"/><circle cx="13.7" cy="29.0" r="0.58" opacity="0.50"/><circle cx="19.3" cy="16.1" r="0.58" opacity="0.38"/><circle cx="19.7" cy="11.7" r="0.32" opacity="0.57"/><circle cx="21.6" cy="48.6" r="0.66" opacity="0.63"/><circle cx="20.2" cy="43.5" r="0.33" opacity="0.47"/><circle cx="20.2" cy="7.8" r="0.65" opacity="0.31"/><circle cx="7.4" cy="41.4" r="0.37" opacity="0.60"/><circle cx="29.9" cy="48.5" r="0.80" opacity="0.36"/><circle cx="19.7" cy="19.7" r="0.70" opacity="0.65"/><circle cx="19.0" cy="13.5" r="0.60" opacity="0.48"/><circle cx="19.8" cy="24.8" r="0.33" opacity="0.55"/><circle cx="21.8" cy="14.0" r="0.35" opacity="0.71"/><circle cx="14.9" cy="41.4" r="0.54" opacity="0.70"/><circle cx="17.1" cy="43.8" r="0.64" opacity="0.49"/><circle cx="15.6" cy="25.2" r="0.61" opacity="0.63"/><circle cx="19.7" cy="20.5" r="0.68" opacity="0.45"/><circle cx="6.8" cy="47.9" r="0.52" opacity="0.77"/><circle cx="14.1" cy="47.5" r="0.34" opacity="0.80"/><circle cx="23.4" cy="43.0" r="0.51" opacity="0.37"/><circle cx="13.4" cy="31.0" r="0.68" opacity="0.69"/><circle cx="20.8" cy="23.2" r="0.45" opacity="0.68"/><circle cx="19.3" cy="39.0" r="0.55" opacity="0.79"/><circle cx="26.4" cy="44.0" r="0.48" opacity="0.71"/><circle cx="33.9" cy="49.2" r="0.61" opacity="0.31"/><circle cx="23.5" cy="47.9" r="0.47" opacity="0.25"/><circle cx="16.3" cy="30.6" r="0.65" opacity="0.54"/><circle cx="8.3" cy="38.8" r="0.75" opacity="0.82"/><circle cx="11.4" cy="37.3" r="0.54" opacity="0.69"/><circle cx="23.6" cy="49.4" r="0.47" opacity="0.67"/><circle cx="15.7" cy="41.9" r="0.67" opacity="0.77"/><circle cx="24.2" cy="45.3" r="0.60" opacity="0.53"/><circle cx="21.7" cy="16.2" r="0.78" opacity="0.84"/><circle cx="5.6" cy="43.8" r="0.48" opacity="0.43"/><circle cx="14.4" cy="46.9" r="0.43" opacity="0.79"/><circle cx="22.1" cy="10.0" r="0.35" opacity="0.82"/><circle cx="17.2" cy="41.0" r="0.31" opacity="0.38"/><circle cx="22.9" cy="49.9" r="0.56" opacity="0.80"/><circle cx="20.6" cy="41.8" r="0.41" opacity="0.47"/><circle cx="20.9" cy="4.8" r="0.69" opacity="0.33"/><circle cx="21.0" cy="49.9" r="0.59" opacity="0.50"/><circle cx="20.7" cy="43.5" r="0.37" opacity="0.34"/><circle cx="19.7" cy="38.3" r="0.30" opacity="0.25"/><circle cx="14.4" cy="47.2" r="0.54" opacity="0.60"/><circle cx="31.8" cy="50.1" r="0.37" opacity="0.30"/><circle cx="15.9" cy="40.5" r="0.55" opacity="0.82"/><circle cx="20.2" cy="49.2" r="0.39" opacity="0.35"/><circle cx="14.3" cy="38.9" r="0.73" opacity="0.55"/><circle cx="9.3" cy="43.0" r="0.51" opacity="0.31"/><circle cx="17.9" cy="48.6" r="0.55" opacity="0.53"/><circle cx="8.9" cy="49.5" r="0.76" opacity="0.55"/><circle cx="11.1" cy="43.0" r="0.77" opacity="0.80"/><circle cx="19.8" cy="33.1" r="0.48" opacity="0.27"/><circle cx="22.5" cy="8.2" r="0.72" opacity="0.53"/><circle cx="16.1" cy="32.9" r="0.65" opacity="0.29"/><circle cx="18.7" cy="36.1" r="0.76" opacity="0.73"/><circle cx="11.2" cy="38.2" r="0.30" opacity="0.74"/><circle cx="17.0" cy="41.9" r="0.40" opacity="0.67"/><circle cx="20.4" cy="15.3" r="0.33" opacity="0.24"/><circle cx="18.9" cy="20.7" r="0.44" opacity="0.85"/><circle cx="15.3" cy="36.1" r="0.66" opacity="0.83"/><circle cx="21.4" cy="19.4" r="0.65" opacity="0.45"/><circle cx="17.1" cy="41.9" r="0.73" opacity="0.59"/><circle cx="16.9" cy="28.1" r="0.49" opacity="0.20"/><circle cx="18.3" cy="22.4" r="0.43" opacity="0.66"/><circle cx="9.3" cy="34.8" r="0.33" opacity="0.54"/><circle cx="6.2" cy="46.3" r="0.49" opacity="0.59"/><circle cx="23.6" cy="4.9" r="0.55" opacity="0.76"/><circle cx="31.9" cy="50.8" r="0.53" opacity="0.49"/><circle cx="10.2" cy="35.4" r="0.71" opacity="0.35"/><circle cx="12.5" cy="30.9" r="0.52" opacity="0.29"/><circle cx="14.3" cy="30.8" r="0.52" opacity="0.52"/><circle cx="24.5" cy="49.7" r="0.67" opacity="0.39"/><circle cx="7.0" cy="39.3" r="0.74" opacity="0.77"/><circle cx="22.3" cy="9.5" r="0.63" opacity="0.23"/><circle cx="30.5" cy="46.6" r="0.68" opacity="0.49"/><circle cx="13.2" cy="48.3" r="0.78" opacity="0.69"/><circle cx="17.6" cy="38.5" r="0.47" opacity="0.32"/><circle cx="29.2" cy="44.6" r="0.79" opacity="0.81"/><circle cx="20.0" cy="47.7" r="0.68" opacity="0.25"/><circle cx="28.5" cy="48.2" r="0.67" opacity="0.68"/><circle cx="8.2" cy="46.0" r="0.71" opacity="0.24"/><circle cx="13.1" cy="45.0" r="0.58" opacity="0.34"/><circle cx="13.6" cy="41.1" r="0.62" opacity="0.38"/><circle cx="14.5" cy="27.1" r="0.72" opacity="0.71"/><circle cx="14.3" cy="31.2" r="0.78" opacity="0.35"/><circle cx="19.1" cy="49.0" r="0.61" opacity="0.45"/><circle cx="21.4" cy="40.6" r="0.31" opacity="0.67"/><circle cx="7.5" cy="46.9" r="0.77" opacity="0.33"/><circle cx="28.0" cy="44.1" r="0.51" opacity="0.70"/><circle cx="14.5" cy="46.6" r="0.63" opacity="0.73"/><circle cx="18.5" cy="36.5" r="0.42" opacity="0.69"/><circle cx="20.0" cy="17.1" r="0.34" opacity="0.66"/><circle cx="18.3" cy="26.9" r="0.75" opacity="0.34"/><circle cx="10.9" cy="39.5" r="0.57" opacity="0.71"/><circle cx="13.3" cy="42.6" r="0.40" opacity="0.53"/><circle cx="15.4" cy="26.7" r="0.77" opacity="0.35"/><circle cx="21.6" cy="9.7" r="0.77" opacity="0.23"/><circle cx="19.4" cy="41.5" r="0.64" opacity="0.49"/><circle cx="9.3" cy="38.9" r="0.47" opacity="0.25"/><circle cx="8.0" cy="44.0" r="0.48" opacity="0.47"/><circle cx="12.3" cy="36.3" r="0.73" opacity="0.52"/><circle cx="17.9" cy="40.7" r="0.37" opacity="0.33"/><circle cx="23.1" cy="46.9" r="0.68" opacity="0.63"/><circle cx="16.5" cy="37.2" r="0.57" opacity="0.36"/><circle cx="6.3" cy="46.1" r="0.34" opacity="0.23"/><circle cx="32.5" cy="49.1" r="0.48" opacity="0.41"/><circle cx="12.7" cy="38.4" r="0.31" opacity="0.37"/><circle cx="16.5" cy="44.6" r="0.54" opacity="0.33"/><circle cx="28.4" cy="48.2" r="0.35" opacity="0.56"/><circle cx="15.9" cy="30.4" r="0.47" opacity="0.61"/><circle cx="23.9" cy="1.2" r="0.62" opacity="0.80"/><circle cx="29.4" cy="47.5" r="0.79" opacity="0.28"/><circle cx="29.0" cy="44.6" r="0.68" opacity="0.51"/><circle cx="18.1" cy="26.9" r="0.59" opacity="0.38"/><circle cx="35.1" cy="50.9" r="0.51" opacity="0.59"/><circle cx="20.8" cy="45.1" r="0.31" opacity="0.33"/><circle cx="8.3" cy="40.9" r="0.75" opacity="0.37"/><circle cx="20.8" cy="38.5" r="0.42" opacity="0.55"/><circle cx="14.2" cy="40.7" r="0.60" opacity="0.39"/><circle cx="19.3" cy="48.9" r="0.32" opacity="0.74"/><circle cx="27.6" cy="44.2" r="0.64" opacity="0.55"/><circle cx="16.9" cy="23.7" r="0.34" opacity="0.37"/><circle cx="10.7" cy="40.5" r="0.68" opacity="0.56"/><circle cx="18.5" cy="30.2" r="0.67" opacity="0.35"/><circle cx="7.7" cy="37.4" r="0.40" opacity="0.43"/><circle cx="23.4" cy="47.5" r="0.52" opacity="0.78"/><circle cx="24.8" cy="45.5" r="0.57" opacity="0.42"/><circle cx="31.5" cy="51.7" r="0.36" opacity="0.65"/><circle cx="20.8" cy="16.2" r="0.53" opacity="0.57"/><circle cx="19.1" cy="27.5" r="0.43" opacity="0.59"/><circle cx="23.0" cy="4.3" r="0.37" opacity="0.68"/><circle cx="13.8" cy="35.1" r="0.74" opacity="0.42"/><circle cx="7.1" cy="46.3" r="0.43" opacity="0.39"/><circle cx="22.2" cy="13.0" r="0.46" opacity="0.61"/><circle cx="22.5" cy="2.9" r="0.47" opacity="0.51"/><circle cx="17.4" cy="23.8" r="0.60" opacity="0.63"/><circle cx="25.8" cy="47.5" r="0.39" opacity="0.84"/><circle cx="26.5" cy="45.0" r="0.38" opacity="0.35"/><circle cx="23.2" cy="3.7" r="0.38" opacity="0.72"/><circle cx="17.4" cy="34.0" r="0.31" opacity="0.23"/><circle cx="21.1" cy="42.8" r="0.59" opacity="0.41"/><circle cx="16.0" cy="26.2" r="0.31" opacity="0.28"/><circle cx="19.7" cy="21.8" r="0.76" opacity="0.69"/><circle cx="19.3" cy="25.9" r="0.71" opacity="0.24"/><circle cx="19.5" cy="45.7" r="0.79" opacity="0.64"/><circle cx="17.8" cy="34.7" r="0.64" opacity="0.33"/><circle cx="22.8" cy="39.9" r="0.53" opacity="0.78"/><circle cx="8.0" cy="43.0" r="0.68" opacity="0.58"/><circle cx="23.2" cy="4.3" r="0.66" opacity="0.48"/><circle cx="20.2" cy="7.1" r="0.51" opacity="0.26"/><circle cx="20.3" cy="1.7" r="0.39" opacity="0.44"/><circle cx="22.2" cy="2.3" r="0.69" opacity="0.52"/><circle cx="7.7" cy="44.2" r="0.58" opacity="0.32"/><circle cx="7.1" cy="45.2" r="0.48" opacity="0.26"/><circle cx="27.1" cy="47.5" r="0.52" opacity="0.78"/><circle cx="11.3" cy="40.5" r="0.60" opacity="0.58"/><circle cx="20.6" cy="39.9" r="0.38" opacity="0.77"/><circle cx="14.9" cy="27.5" r="0.72" opacity="0.73"/><circle cx="23.3" cy="45.5" r="0.44" opacity="0.60"/><circle cx="17.7" cy="31.5" r="0.79" opacity="0.37"/></g><g fill="#3ae626" filter="url(#b03)"><circle cx="42.2" cy="32.0" r="0.76" opacity="0.55"/><circle cx="44.3" cy="33.0" r="0.39" opacity="0.58"/><circle cx="28.6" cy="23.3" r="0.35" opacity="0.78"/><circle cx="62.3" cy="45.8" r="0.63" opacity="0.65"/><circle cx="32.2" cy="21.2" r="0.32" opacity="0.55"/><circle cx="42.4" cy="22.5" r="0.80" opacity="0.90"/><circle cx="56.9" cy="37.1" r="0.46" opacity="0.40"/><circle cx="61.4" cy="41.8" r="0.30" opacity="0.39"/><circle cx="61.6" cy="38.8" r="0.36" opacity="0.41"/><circle cx="28.8" cy="15.0" r="0.70" opacity="0.37"/><circle cx="46.3" cy="28.2" r="0.40" opacity="0.73"/><circle cx="33.1" cy="22.2" r="0.79" opacity="0.77"/><circle cx="33.0" cy="26.4" r="0.73" opacity="0.67"/><circle cx="33.1" cy="21.8" r="0.69" opacity="0.46"/><circle cx="39.1" cy="28.4" r="0.78" opacity="0.56"/><circle cx="31.9" cy="18.2" r="0.75" opacity="0.78"/><circle cx="34.5" cy="19.5" r="0.67" opacity="0.86"/><circle cx="27.6" cy="20.8" r="0.58" opacity="0.80"/><circle cx="31.7" cy="25.5" r="0.59" opacity="0.34"/><circle cx="51.3" cy="32.9" r="0.37" opacity="0.27"/><circle cx="53.0" cy="36.9" r="0.70" opacity="0.84"/><circle cx="59.2" cy="42.6" r="0.51" opacity="0.76"/><circle cx="48.7" cy="26.0" r="0.59" opacity="0.65"/><circle cx="62.7" cy="42.9" r="0.66" opacity="0.50"/><circle cx="52.9" cy="32.8" r="0.52" opacity="0.79"/><circle cx="43.3" cy="20.8" r="0.65" opacity="0.57"/><circle cx="32.7" cy="18.8" r="0.75" opacity="0.68"/><circle cx="56.8" cy="41.9" r="0.66" opacity="0.87"/><circle cx="35.5" cy="18.8" r="0.53" opacity="0.43"/><circle cx="33.1" cy="27.1" r="0.61" opacity="0.57"/><circle cx="27.8" cy="14.1" r="0.74" opacity="0.28"/><circle cx="51.9" cy="32.4" r="0.45" opacity="0.76"/><circle cx="25.7" cy="17.6" r="0.53" opacity="0.27"/><circle cx="30.4" cy="14.6" r="0.61" opacity="0.54"/><circle cx="48.9" cy="35.3" r="0.70" opacity="0.87"/><circle cx="35.3" cy="24.8" r="0.65" opacity="0.59"/><circle cx="60.4" cy="37.6" r="0.36" opacity="0.54"/><circle cx="58.4" cy="40.1" r="0.77" opacity="0.55"/><circle cx="49.4" cy="37.4" r="0.41" opacity="0.83"/><circle cx="62.3" cy="46.2" r="0.57" opacity="0.76"/><circle cx="30.3" cy="18.1" r="0.56" opacity="0.72"/><circle cx="56.9" cy="36.4" r="0.77" opacity="0.57"/><circle cx="49.3" cy="30.8" r="0.72" opacity="0.61"/><circle cx="36.8" cy="26.0" r="0.72" opacity="0.84"/><circle cx="45.4" cy="30.1" r="0.60" opacity="0.27"/><circle cx="46.4" cy="29.7" r="0.65" opacity="0.29"/><circle cx="45.5" cy="27.1" r="0.78" opacity="0.85"/><circle cx="35.2" cy="29.1" r="0.36" opacity="0.53"/><circle cx="43.1" cy="23.8" r="0.40" opacity="0.65"/><circle cx="32.4" cy="20.7" r="0.64" opacity="0.46"/><circle cx="34.5" cy="19.7" r="0.57" opacity="0.53"/><circle cx="39.3" cy="27.1" r="0.56" opacity="0.35"/><circle cx="49.3" cy="31.0" r="0.73" opacity="0.65"/><circle cx="34.9" cy="16.3" r="0.72" opacity="0.52"/><circle cx="25.7" cy="19.8" r="0.64" opacity="0.84"/><circle cx="32.2" cy="15.4" r="0.35" opacity="0.27"/><circle cx="46.0" cy="30.5" r="0.58" opacity="0.35"/><circle cx="32.0" cy="19.9" r="0.72" opacity="0.89"/><circle cx="37.4" cy="28.9" r="0.56" opacity="0.53"/><circle cx="32.4" cy="18.6" r="0.56" opacity="0.26"/><circle cx="58.9" cy="40.3" r="0.65" opacity="0.81"/><circle cx="48.9" cy="26.8" r="0.60" opacity="0.58"/><circle cx="62.3" cy="40.4" r="0.43" opacity="0.84"/><circle cx="53.3" cy="39.5" r="0.71" opacity="0.51"/><circle cx="59.1" cy="42.9" r="0.65" opacity="0.75"/><circle cx="38.0" cy="28.9" r="0.31" opacity="0.48"/><circle cx="49.3" cy="34.2" r="0.42" opacity="0.86"/><circle cx="50.1" cy="32.4" r="0.57" opacity="0.50"/><circle cx="51.6" cy="38.9" r="0.79" opacity="0.26"/><circle cx="34.8" cy="26.7" r="0.33" opacity="0.38"/><circle cx="45.9" cy="30.3" r="0.78" opacity="0.62"/><circle cx="45.0" cy="33.3" r="0.48" opacity="0.44"/><circle cx="49.9" cy="32.1" r="0.44" opacity="0.72"/><circle cx="62.6" cy="45.1" r="0.34" opacity="0.84"/><circle cx="41.3" cy="29.2" r="0.79" opacity="0.41"/><circle cx="52.5" cy="28.9" r="0.79" opacity="0.78"/><circle cx="48.7" cy="28.5" r="0.40" opacity="0.28"/><circle cx="42.3" cy="21.9" r="0.59" opacity="0.52"/><circle cx="54.6" cy="31.0" r="0.80" opacity="0.87"/><circle cx="54.8" cy="34.2" r="0.48" opacity="0.43"/><circle cx="51.0" cy="32.2" r="0.60" opacity="0.66"/><circle cx="59.8" cy="42.9" r="0.32" opacity="0.29"/><circle cx="35.3" cy="27.5" r="0.61" opacity="0.32"/><circle cx="45.9" cy="34.5" r="0.49" opacity="0.56"/><circle cx="33.0" cy="24.7" r="0.67" opacity="0.80"/><circle cx="27.8" cy="17.1" r="0.70" opacity="0.66"/><circle cx="41.1" cy="21.8" r="0.70" opacity="0.49"/><circle cx="41.3" cy="25.6" r="0.35" opacity="0.82"/><circle cx="28.0" cy="15.8" r="0.58" opacity="0.57"/><circle cx="28.1" cy="23.3" r="0.66" opacity="0.70"/><circle cx="35.8" cy="17.9" r="0.48" opacity="0.72"/><circle cx="52.0" cy="32.4" r="0.76" opacity="0.86"/><circle cx="37.1" cy="26.6" r="0.77" opacity="0.83"/><circle cx="34.4" cy="25.3" r="0.48" opacity="0.49"/><circle cx="40.0" cy="26.2" r="0.40" opacity="0.62"/><circle cx="55.3" cy="31.4" r="0.72" opacity="0.62"/><circle cx="45.7" cy="32.3" r="0.78" opacity="0.67"/><circle cx="28.2" cy="15.8" r="0.67" opacity="0.83"/><circle cx="40.0" cy="24.5" r="0.78" opacity="0.69"/><circle cx="43.8" cy="31.3" r="0.66" opacity="0.71"/><circle cx="56.4" cy="35.7" r="0.73" opacity="0.77"/><circle cx="39.3" cy="18.7" r="0.40" opacity="0.53"/><circle cx="26.4" cy="16.7" r="0.39" opacity="0.39"/><circle cx="32.0" cy="22.6" r="0.39" opacity="0.74"/><circle cx="45.0" cy="30.5" r="0.44" opacity="0.89"/><circle cx="52.1" cy="33.6" r="0.38" opacity="0.35"/><circle cx="37.2" cy="21.8" r="0.73" opacity="0.59"/><circle cx="57.2" cy="41.0" r="0.34" opacity="0.43"/><circle cx="43.2" cy="28.9" r="0.78" opacity="0.63"/><circle cx="45.6" cy="30.9" r="0.38" opacity="0.79"/><circle cx="36.8" cy="23.6" r="0.34" opacity="0.45"/><circle cx="56.5" cy="35.2" r="0.31" opacity="0.50"/><circle cx="46.4" cy="28.6" r="0.31" opacity="0.89"/><circle cx="39.3" cy="31.4" r="0.45" opacity="0.47"/><circle cx="34.7" cy="19.8" r="0.67" opacity="0.46"/><circle cx="30.4" cy="16.2" r="0.64" opacity="0.71"/><circle cx="31.8" cy="26.7" r="0.72" opacity="0.64"/><circle cx="28.4" cy="20.7" r="0.38" opacity="0.33"/><circle cx="54.1" cy="40.9" r="0.49" opacity="0.47"/><circle cx="62.3" cy="39.8" r="0.63" opacity="0.65"/><circle cx="56.4" cy="33.8" r="0.38" opacity="0.75"/><circle cx="38.4" cy="30.0" r="0.37" opacity="0.71"/><circle cx="28.2" cy="21.3" r="0.59" opacity="0.70"/><circle cx="38.7" cy="28.7" r="0.36" opacity="0.88"/><circle cx="45.7" cy="32.1" r="0.58" opacity="0.42"/><circle cx="56.1" cy="33.5" r="0.36" opacity="0.79"/><circle cx="26.2" cy="19.1" r="0.79" opacity="0.86"/><circle cx="50.5" cy="38.1" r="0.49" opacity="0.63"/><circle cx="46.6" cy="24.3" r="0.62" opacity="0.27"/><circle cx="42.9" cy="27.0" r="0.61" opacity="0.70"/><circle cx="53.8" cy="38.6" r="0.54" opacity="0.90"/><circle cx="56.9" cy="42.1" r="0.50" opacity="0.53"/><circle cx="45.0" cy="30.9" r="0.52" opacity="0.84"/><circle cx="52.8" cy="33.3" r="0.68" opacity="0.45"/><circle cx="44.1" cy="26.5" r="0.33" opacity="0.70"/><circle cx="36.6" cy="26.4" r="0.42" opacity="0.29"/><circle cx="34.3" cy="23.2" r="0.46" opacity="0.29"/><circle cx="59.0" cy="40.7" r="0.50" opacity="0.48"/><circle cx="36.7" cy="29.9" r="0.77" opacity="0.89"/><circle cx="26.9" cy="16.6" r="0.66" opacity="0.45"/><circle cx="59.2" cy="42.6" r="0.66" opacity="0.34"/><circle cx="33.5" cy="23.4" r="0.66" opacity="0.38"/><circle cx="31.9" cy="21.0" r="0.63" opacity="0.76"/><circle cx="33.7" cy="23.2" r="0.76" opacity="0.68"/><circle cx="41.7" cy="31.0" r="0.57" opacity="0.28"/><circle cx="28.3" cy="22.7" r="0.68" opacity="0.41"/><circle cx="46.1" cy="34.9" r="0.48" opacity="0.68"/><circle cx="51.0" cy="30.7" r="0.78" opacity="0.36"/><circle cx="54.9" cy="39.9" r="0.42" opacity="0.57"/><circle cx="31.8" cy="18.2" r="0.31" opacity="0.57"/><circle cx="41.5" cy="28.0" r="0.43" opacity="0.77"/><circle cx="46.6" cy="31.5" r="0.70" opacity="0.40"/><circle cx="30.6" cy="23.6" r="0.32" opacity="0.45"/><circle cx="48.6" cy="30.9" r="0.43" opacity="0.63"/><circle cx="31.5" cy="21.7" r="0.38" opacity="0.70"/><circle cx="56.6" cy="39.7" r="0.33" opacity="0.52"/><circle cx="38.8" cy="20.4" r="0.79" opacity="0.28"/><circle cx="26.5" cy="21.2" r="0.75" opacity="0.34"/><circle cx="39.9" cy="23.1" r="0.51" opacity="0.30"/><circle cx="54.0" cy="38.0" r="0.41" opacity="0.41"/><circle cx="38.8" cy="24.5" r="0.79" opacity="0.65"/><circle cx="33.2" cy="24.8" r="0.39" opacity="0.61"/><circle cx="31.2" cy="19.9" r="0.41" opacity="0.55"/><circle cx="36.7" cy="28.2" r="0.80" opacity="0.69"/><circle cx="31.9" cy="21.9" r="0.50" opacity="0.85"/><circle cx="38.7" cy="18.2" r="0.77" opacity="0.48"/><circle cx="54.1" cy="37.6" r="0.75" opacity="0.26"/><circle cx="37.2" cy="26.1" r="0.34" opacity="0.82"/><circle cx="40.0" cy="21.1" r="0.32" opacity="0.35"/><circle cx="36.9" cy="27.4" r="0.57" opacity="0.34"/><circle cx="52.6" cy="35.6" r="0.37" opacity="0.38"/><circle cx="40.4" cy="26.1" r="0.73" opacity="0.40"/><circle cx="36.1" cy="24.7" r="0.41" opacity="0.28"/><circle cx="41.3" cy="26.3" r="0.33" opacity="0.50"/><circle cx="37.5" cy="29.9" r="0.44" opacity="0.35"/><circle cx="40.3" cy="29.2" r="0.38" opacity="0.68"/><circle cx="34.1" cy="16.2" r="0.47" opacity="0.52"/><circle cx="51.7" cy="31.8" r="0.65" opacity="0.26"/><circle cx="39.9" cy="25.4" r="0.33" opacity="0.51"/><circle cx="47.3" cy="28.9" r="0.46" opacity="0.41"/><circle cx="60.8" cy="39.2" r="0.61" opacity="0.65"/><circle cx="40.6" cy="27.1" r="0.44" opacity="0.79"/><circle cx="36.7" cy="25.3" r="0.79" opacity="0.35"/><circle cx="32.3" cy="20.8" r="0.64" opacity="0.40"/><circle cx="40.0" cy="21.1" r="0.55" opacity="0.67"/><circle cx="45.8" cy="34.2" r="0.58" opacity="0.79"/><circle cx="51.4" cy="36.3" r="0.78" opacity="0.79"/><circle cx="43.6" cy="32.2" r="0.48" opacity="0.44"/><circle cx="53.5" cy="31.2" r="0.42" opacity="0.41"/><circle cx="37.3" cy="19.0" r="0.56" opacity="0.33"/><circle cx="27.4" cy="15.3" r="0.35" opacity="0.71"/><circle cx="57.0" cy="41.2" r="0.58" opacity="0.52"/><circle cx="51.9" cy="34.2" r="0.72" opacity="0.77"/><circle cx="49.0" cy="26.5" r="0.77" opacity="0.89"/><circle cx="29.5" cy="14.4" r="0.44" opacity="0.73"/><circle cx="45.6" cy="29.4" r="0.49" opacity="0.45"/><circle cx="55.4" cy="41.5" r="0.44" opacity="0.50"/><circle cx="51.4" cy="31.6" r="0.70" opacity="0.35"/><circle cx="31.7" cy="16.6" r="0.77" opacity="0.41"/><circle cx="38.9" cy="21.8" r="0.33" opacity="0.29"/><circle cx="28.0" cy="19.2" r="0.54" opacity="0.90"/><circle cx="43.4" cy="27.1" r="0.70" opacity="0.51"/><circle cx="50.0" cy="34.2" r="0.44" opacity="0.86"/><circle cx="26.0" cy="18.7" r="0.36" opacity="0.30"/><circle cx="55.1" cy="38.0" r="0.50" opacity="0.77"/><circle cx="56.5" cy="39.1" r="0.79" opacity="0.32"/><circle cx="39.8" cy="25.6" r="0.63" opacity="0.78"/><circle cx="38.5" cy="22.5" r="0.75" opacity="0.46"/><circle cx="53.2" cy="31.6" r="0.64" opacity="0.37"/><circle cx="29.0" cy="17.9" r="0.48" opacity="0.53"/><circle cx="40.3" cy="23.9" r="0.57" opacity="0.87"/><circle cx="33.3" cy="26.9" r="0.65" opacity="0.37"/><circle cx="32.0" cy="25.1" r="0.79" opacity="0.35"/><circle cx="49.1" cy="25.9" r="0.62" opacity="0.39"/><circle cx="57.5" cy="34.4" r="0.55" opacity="0.62"/><circle cx="51.2" cy="28.4" r="0.63" opacity="0.52"/><circle cx="39.6" cy="20.8" r="0.60" opacity="0.62"/><circle cx="48.8" cy="28.2" r="0.60" opacity="0.64"/><circle cx="56.9" cy="35.1" r="0.77" opacity="0.79"/><circle cx="58.1" cy="37.2" r="0.43" opacity="0.77"/><circle cx="42.3" cy="31.2" r="0.73" opacity="0.38"/><circle cx="57.5" cy="39.2" r="0.57" opacity="0.84"/><circle cx="57.9" cy="41.4" r="0.36" opacity="0.37"/><circle cx="58.3" cy="37.7" r="0.40" opacity="0.68"/><circle cx="37.9" cy="23.7" r="0.61" opacity="0.43"/><circle cx="31.9" cy="17.4" r="0.65" opacity="0.55"/><circle cx="29.9" cy="16.9" r="0.77" opacity="0.65"/><circle cx="38.6" cy="19.7" r="0.80" opacity="0.70"/><circle cx="36.8" cy="26.9" r="0.37" opacity="0.66"/><circle cx="40.5" cy="28.5" r="0.55" opacity="0.86"/><circle cx="50.7" cy="28.5" r="0.77" opacity="0.50"/><circle cx="53.2" cy="33.4" r="0.52" opacity="0.29"/><circle cx="40.9" cy="22.6" r="0.52" opacity="0.87"/><circle cx="41.0" cy="24.6" r="0.71" opacity="0.80"/><circle cx="47.4" cy="31.6" r="0.35" opacity="0.83"/><circle cx="42.8" cy="25.3" r="0.53" opacity="0.46"/><circle cx="50.5" cy="33.6" r="0.79" opacity="0.88"/><circle cx="56.5" cy="35.1" r="0.65" opacity="0.90"/><circle cx="33.0" cy="25.6" r="0.37" opacity="0.51"/><circle cx="52.8" cy="39.4" r="0.36" opacity="0.55"/><circle cx="60.9" cy="43.5" r="0.31" opacity="0.48"/><circle cx="45.4" cy="31.1" r="0.36" opacity="0.76"/><circle cx="29.9" cy="16.0" r="0.56" opacity="0.44"/><circle cx="46.2" cy="28.6" r="0.73" opacity="0.32"/><circle cx="52.9" cy="37.2" r="0.38" opacity="0.60"/><circle cx="26.1" cy="16.7" r="0.45" opacity="0.88"/><circle cx="28.0" cy="21.9" r="0.36" opacity="0.85"/><circle cx="37.5" cy="29.6" r="0.63" opacity="0.83"/><circle cx="40.0" cy="23.2" r="0.67" opacity="0.42"/><circle cx="39.0" cy="27.6" r="0.54" opacity="0.48"/><circle cx="41.4" cy="28.3" r="0.32" opacity="0.79"/><circle cx="45.8" cy="26.6" r="0.41" opacity="0.31"/><circle cx="39.1" cy="23.7" r="0.54" opacity="0.40"/><circle cx="53.5" cy="29.6" r="0.30" opacity="0.51"/><circle cx="39.0" cy="23.2" r="0.60" opacity="0.63"/><circle cx="37.0" cy="29.9" r="0.56" opacity="0.74"/><circle cx="27.0" cy="16.2" r="0.43" opacity="0.43"/><circle cx="55.0" cy="34.8" r="0.33" opacity="0.75"/><circle cx="60.5" cy="38.6" r="0.59" opacity="0.25"/><circle cx="42.0" cy="27.9" r="0.36" opacity="0.46"/><circle cx="50.3" cy="31.6" r="0.36" opacity="0.33"/><circle cx="33.0" cy="27.1" r="0.57" opacity="0.80"/><circle cx="41.4" cy="25.8" r="0.64" opacity="0.85"/><circle cx="32.7" cy="24.8" r="0.38" opacity="0.48"/><circle cx="47.5" cy="30.7" r="0.49" opacity="0.62"/><circle cx="47.2" cy="29.3" r="0.79" opacity="0.46"/><circle cx="46.6" cy="31.8" r="0.47" opacity="0.35"/><circle cx="61.1" cy="39.0" r="0.70" opacity="0.31"/><circle cx="54.1" cy="32.8" r="0.75" opacity="0.85"/><circle cx="61.1" cy="37.4" r="0.45" opacity="0.81"/><circle cx="36.1" cy="21.6" r="0.37" opacity="0.57"/><circle cx="35.4" cy="22.7" r="0.44" opacity="0.58"/><circle cx="57.7" cy="42.1" r="0.60" opacity="0.60"/><circle cx="52.9" cy="31.2" r="0.63" opacity="0.85"/><circle cx="33.9" cy="28.4" r="0.49" opacity="0.72"/><circle cx="46.5" cy="24.9" r="0.42" opacity="0.87"/><circle cx="57.5" cy="39.7" r="0.56" opacity="0.30"/><circle cx="45.0" cy="25.0" r="0.55" opacity="0.38"/><circle cx="43.5" cy="32.0" r="0.79" opacity="0.61"/><circle cx="30.1" cy="23.2" r="0.47" opacity="0.71"/></g><path d="M27,15 L32,15.5 L40,19.5 L46,25 L53,30.5 L59,35 L62,40" fill="none" stroke="#3ae626" stroke-width="2.0" stroke-linecap="round" stroke-linejoin="round" opacity="0.55" filter="url(#b10)"/><path d="M21,20 L19,28 L18,36 L21,41 L27,45 L34,50" fill="none" stroke="#3ae626" stroke-width="2.2" stroke-linecap="round" stroke-linejoin="round" opacity="0.5" filter="url(#b10)"/><ellipse cx="36" cy="23" rx="5" ry="2.5" fill="#000" opacity="0.45" transform="rotate(30 36 23)" filter="url(#b10)"/><ellipse cx="21" cy="6" rx="4" ry="7" fill="#000" opacity="0.35" filter="url(#b10)"/><ellipse cx="5" cy="45" rx="4" ry="4" fill="#000" opacity="0.3" filter="url(#b10)"/><g fill="#3ae626" filter="url(#b03)"><circle cx="28.5" cy="51.4" r="0.50" opacity="0.11"/><circle cx="16.4" cy="60.6" r="0.51" opacity="0.21"/><circle cx="33.5" cy="51.7" r="0.34" opacity="0.18"/><circle cx="4.5" cy="53.2" r="0.40" opacity="0.17"/><circle cx="6.8" cy="37.4" r="0.34" opacity="0.15"/><circle cx="37.3" cy="21.8" r="0.51" opacity="0.09"/><circle cx="24.0" cy="37.1" r="0.48" opacity="0.18"/><circle cx="21.4" cy="33.8" r="0.51" opacity="0.23"/><circle cx="21.8" cy="42.7" r="0.54" opacity="0.19"/><circle cx="25.8" cy="43.1" r="0.37" opacity="0.17"/><circle cx="23.3" cy="58.3" r="0.33" opacity="0.20"/><circle cx="10.7" cy="53.8" r="0.31" opacity="0.14"/><circle cx="20.7" cy="50.2" r="0.32" opacity="0.18"/><circle cx="12.5" cy="28.9" r="0.44" opacity="0.29"/><circle cx="21.9" cy="23.4" r="0.52" opacity="0.28"/><circle cx="46.2" cy="32.5" r="0.37" opacity="0.08"/><circle cx="2.4" cy="49.1" r="0.60" opacity="0.30"/><circle cx="19.3" cy="59.2" r="0.55" opacity="0.22"/><circle cx="13.8" cy="43.6" r="0.44" opacity="0.22"/><circle cx="30.9" cy="53.8" r="0.51" opacity="0.13"/><circle cx="17.1" cy="27.3" r="0.50" opacity="0.23"/><circle cx="25.2" cy="26.5" r="0.43" opacity="0.30"/><circle cx="33.6" cy="49.5" r="0.58" opacity="0.29"/><circle cx="45.6" cy="37.1" r="0.48" opacity="0.28"/><circle cx="47.4" cy="46.8" r="0.40" opacity="0.16"/><circle cx="44.2" cy="45.8" r="0.31" opacity="0.24"/><circle cx="32.1" cy="59.3" r="0.41" opacity="0.10"/><circle cx="21.2" cy="30.7" r="0.58" opacity="0.23"/><circle cx="32.5" cy="49.3" r="0.34" opacity="0.20"/><circle cx="42.0" cy="35.6" r="0.37" opacity="0.17"/><circle cx="19.4" cy="53.1" r="0.34" opacity="0.10"/><circle cx="18.7" cy="53.7" r="0.53" opacity="0.23"/><circle cx="56.1" cy="33.9" r="0.31" opacity="0.19"/><circle cx="26.6" cy="22.8" r="0.50" opacity="0.16"/><circle cx="14.3" cy="31.6" r="0.58" opacity="0.08"/><circle cx="21.6" cy="28.8" r="0.36" opacity="0.18"/><circle cx="30.1" cy="53.9" r="0.35" opacity="0.18"/><circle cx="36.4" cy="62.6" r="0.37" opacity="0.18"/><circle cx="13.7" cy="44.3" r="0.53" opacity="0.17"/><circle cx="40.4" cy="51.8" r="0.59" opacity="0.20"/><circle cx="40.8" cy="33.0" r="0.52" opacity="0.15"/><circle cx="30.0" cy="33.7" r="0.39" opacity="0.11"/><circle cx="13.5" cy="44.7" r="0.38" opacity="0.09"/><circle cx="48.2" cy="29.1" r="0.58" opacity="0.21"/><circle cx="53.8" cy="31.3" r="0.34" opacity="0.22"/><circle cx="50.6" cy="48.5" r="0.54" opacity="0.17"/><circle cx="37.1" cy="27.8" r="0.42" opacity="0.16"/><circle cx="23.1" cy="36.0" r="0.54" opacity="0.12"/><circle cx="12.3" cy="27.3" r="0.59" opacity="0.20"/><circle cx="21.5" cy="56.1" r="0.39" opacity="0.11"/><circle cx="9.8" cy="54.9" r="0.39" opacity="0.12"/><circle cx="11.0" cy="30.7" r="0.56" opacity="0.21"/><circle cx="6.1" cy="53.1" r="0.46" opacity="0.18"/><circle cx="31.7" cy="51.1" r="0.54" opacity="0.19"/><circle cx="38.1" cy="40.0" r="0.49" opacity="0.17"/><circle cx="24.9" cy="43.0" r="0.51" opacity="0.14"/><circle cx="55.5" cy="41.5" r="0.56" opacity="0.23"/><circle cx="25.6" cy="36.4" r="0.48" opacity="0.25"/><circle cx="6.8" cy="53.1" r="0.48" opacity="0.29"/><circle cx="28.5" cy="24.4" r="0.53" opacity="0.17"/><circle cx="32.6" cy="31.0" r="0.37" opacity="0.10"/><circle cx="56.0" cy="33.7" r="0.39" opacity="0.28"/><circle cx="36.0" cy="52.1" r="0.30" opacity="0.13"/><circle cx="28.9" cy="55.9" r="0.55" opacity="0.25"/><circle cx="20.4" cy="34.9" r="0.56" opacity="0.30"/><circle cx="29.1" cy="23.7" r="0.49" opacity="0.20"/><circle cx="21.7" cy="25.8" r="0.42" opacity="0.21"/><circle cx="7.6" cy="44.5" r="0.59" opacity="0.24"/><circle cx="15.1" cy="37.1" r="0.33" opacity="0.24"/><circle cx="37.9" cy="22.4" r="0.46" opacity="0.21"/></g></g></g>
<g clip-path="url(#c2)" style="isolation:isolate"><rect x="425.2" y="17.8" width="63.0" height="63.0" fill="#000"/><g transform="translate(425.2 17.8) scale(0.9844 0.9844)"><g style="mix-blend-mode:screen"><path d="M20.00,1.00 C20.92,-0.83 24.00,-0.83 24.50,1.00 C25.00,2.83 23.58,8.50 23.00,12.00 C22.42,15.50 21.50,19.00 21.00,22.00 C20.50,25.00 20.00,27.50 20.00,30.00 C20.00,32.50 20.17,35.00 21.00,37.00 C21.83,39.00 23.50,40.67 25.00,42.00 C26.50,43.33 28.17,43.83 30.00,45.00 C31.83,46.17 35.17,47.67 36.00,49.00 C36.83,50.33 36.67,52.67 35.00,53.00 C33.33,53.33 29.17,51.67 26.00,51.00 C22.83,50.33 19.00,49.17 16.00,49.00 C13.00,48.83 10.33,50.17 8.00,50.00 C5.67,49.83 2.83,49.33 2.00,48.00 C1.17,46.67 2.00,44.00 3.00,42.00 C4.00,40.00 6.33,38.00 8.00,36.00 C9.67,34.00 11.50,32.33 13.00,30.00 C14.50,27.67 16.00,25.00 17.00,22.00 C18.00,19.00 18.50,15.50 19.00,12.00 C19.50,8.50 19.08,2.83 20.00,1.00Z" fill="#2cb81e" opacity="0.187" filter="url(#b18)"/><path d="M26.00,13.00 C27.00,12.17 28.67,13.17 31.00,14.00 C33.33,14.83 37.33,16.33 40.00,18.00 C42.67,19.67 44.67,22.00 47.00,24.00 C49.33,26.00 51.83,28.17 54.00,30.00 C56.17,31.83 58.50,33.17 60.00,35.00 C61.50,36.83 62.50,39.00 63.00,41.00 C63.50,43.00 64.00,46.67 63.00,47.00 C62.00,47.33 59.17,44.50 57.00,43.00 C54.83,41.50 52.33,39.67 50.00,38.00 C47.67,36.33 45.33,34.33 43.00,33.00 C40.67,31.67 38.33,31.33 36.00,30.00 C33.67,28.67 30.83,26.83 29.00,25.00 C27.17,23.17 25.50,21.00 25.00,19.00 C24.50,17.00 25.00,13.83 26.00,13.00Z" fill="#2cb81e" opacity="0.221" filter="url(#b18)"/><g fill="#3ae626" filter="url(#b03)"><circle cx="28.1" cy="48.0" r="0.43" opacity="0.52"/><circle cx="21.5" cy="9.8" r="0.51" opacity="0.72"/><circle cx="16.5" cy="33.6" r="0.70" opacity="0.44"/><circle cx="8.5" cy="37.1" r="0.44" opacity="0.55"/><circle cx="7.6" cy="49.3" r="0.73" opacity="0.55"/><circle cx="26.8" cy="50.5" r="0.57" opacity="0.59"/><circle cx="15.8" cy="45.0" r="0.75" opacity="0.33"/><circle cx="11.4" cy="46.7" r="0.49" opacity="0.71"/><circle cx="15.5" cy="44.5" r="0.53" opacity="0.22"/><circle cx="21.6" cy="12.0" r="0.76" opacity="0.56"/><circle cx="20.0" cy="49.0" r="0.57" opacity="0.70"/><circle cx="12.0" cy="45.0" r="0.35" opacity="0.71"/><circle cx="10.6" cy="42.6" r="0.76" opacity="0.22"/><circle cx="6.8" cy="41.3" r="0.30" opacity="0.55"/><circle cx="15.2" cy="28.9" r="0.65" opacity="0.33"/><circle cx="12.1" cy="40.7" r="0.34" opacity="0.44"/><circle cx="24.4" cy="45.3" r="0.54" opacity="0.37"/><circle cx="19.3" cy="17.0" r="0.54" opacity="0.27"/><circle cx="19.1" cy="22.8" r="0.78" opacity="0.42"/><circle cx="4.3" cy="41.0" r="0.68" opacity="0.52"/><circle cx="26.7" cy="46.2" r="0.40" opacity="0.33"/><circle cx="16.8" cy="25.6" r="0.48" opacity="0.31"/><circle cx="21.4" cy="43.3" r="0.38" opacity="0.36"/><circle cx="3.2" cy="46.0" r="0.74" opacity="0.48"/><circle cx="10.1" cy="39.0" r="0.56" opacity="0.42"/><circle cx="19.2" cy="15.9" r="0.75" opacity="0.59"/><circle cx="20.1" cy="34.0" r="0.75" opacity="0.68"/><circle cx="4.1" cy="46.0" r="0.31" opacity="0.49"/><circle cx="17.0" cy="44.4" r="0.30" opacity="0.59"/><circle cx="11.7" cy="45.1" r="0.53" opacity="0.56"/><circle cx="24.5" cy="43.6" r="0.45" opacity="0.23"/><circle cx="14.0" cy="35.5" r="0.39" opacity="0.33"/><circle cx="32.9" cy="52.3" r="0.62" opacity="0.38"/><circle cx="6.5" cy="46.9" r="0.73" opacity="0.18"/><circle cx="18.2" cy="44.0" r="0.41" opacity="0.71"/><circle cx="17.9" cy="46.3" r="0.36" opacity="0.19"/><circle cx="34.2" cy="51.5" r="0.48" opacity="0.58"/><circle cx="2.7" cy="45.1" r="0.51" opacity="0.42"/><circle cx="29.8" cy="47.3" r="0.51" opacity="0.56"/><circle cx="35.0" cy="49.2" r="0.56" opacity="0.62"/><circle cx="17.3" cy="25.0" r="0.32" opacity="0.19"/><circle cx="31.4" cy="48.4" r="0.68" opacity="0.43"/><circle cx="19.8" cy="12.3" r="0.61" opacity="0.72"/><circle cx="33.4" cy="51.3" r="0.72" opacity="0.57"/><circle cx="22.3" cy="48.8" r="0.46" opacity="0.44"/><circle cx="11.6" cy="45.8" r="0.60" opacity="0.56"/><circle cx="20.0" cy="4.1" r="0.69" opacity="0.30"/><circle cx="19.1" cy="33.8" r="0.35" opacity="0.23"/><circle cx="17.6" cy="27.9" r="0.41" opacity="0.67"/><circle cx="9.4" cy="38.5" r="0.53" opacity="0.53"/><circle cx="34.7" cy="51.5" r="0.31" opacity="0.25"/><circle cx="19.4" cy="26.1" r="0.43" opacity="0.23"/><circle cx="6.6" cy="47.5" r="0.77" opacity="0.38"/><circle cx="10.7" cy="38.6" r="0.79" opacity="0.70"/><circle cx="17.0" cy="22.9" r="0.67" opacity="0.21"/><circle cx="6.7" cy="38.3" r="0.77" opacity="0.23"/><circle cx="10.6" cy="44.3" r="0.58" opacity="0.63"/><circle cx="17.1" cy="22.7" r="0.36" opacity="0.52"/><circle cx="12.7" cy="46.7" r="0.74" opacity="0.64"/><circle cx="28.7" cy="45.9" r="0.51" opacity="0.20"/><circle cx="24.5" cy="41.7" r="0.35" opacity="0.21"/><circle cx="19.3" cy="48.8" r="0.31" opacity="0.53"/><circle cx="15.0" cy="29.9" r="0.40" opacity="0.62"/><circle cx="15.7" cy="26.1" r="0.61" opacity="0.40"/><circle cx="25.3" cy="46.9" r="0.56" opacity="0.46"/><circle cx="20.9" cy="14.3" r="0.69" opacity="0.60"/><circle cx="6.6" cy="46.8" r="0.40" opacity="0.67"/><circle cx="13.1" cy="38.6" r="0.32" opacity="0.35"/><circle cx="27.7" cy="47.6" r="0.74" opacity="0.68"/><circle cx="23.6" cy="41.3" r="0.58" opacity="0.28"/><circle cx="18.2" cy="34.3" r="0.55" opacity="0.37"/><circle cx="21.4" cy="11.7" r="0.79" opacity="0.68"/><circle cx="5.6" cy="45.6" r="0.58" opacity="0.59"/><circle cx="25.8" cy="49.6" r="0.70" opacity="0.60"/><circle cx="21.6" cy="10.2" r="0.48" opacity="0.62"/><circle cx="7.3" cy="46.4" r="0.44" opacity="0.44"/><circle cx="13.3" cy="48.5" r="0.32" opacity="0.63"/><circle cx="25.2" cy="49.6" r="0.43" opacity="0.54"/><circle cx="20.8" cy="47.7" r="0.66" opacity="0.61"/><circle cx="3.9" cy="48.6" r="0.33" opacity="0.70"/><circle cx="12.6" cy="32.7" r="0.50" opacity="0.29"/><circle cx="4.2" cy="46.0" r="0.32" opacity="0.56"/><circle cx="18.5" cy="24.3" r="0.72" opacity="0.71"/><circle cx="20.9" cy="40.1" r="0.61" opacity="0.24"/><circle cx="11.3" cy="49.3" r="0.76" opacity="0.56"/><circle cx="24.4" cy="41.7" r="0.42" opacity="0.24"/><circle cx="14.0" cy="39.9" r="0.33" opacity="0.31"/><circle cx="18.5" cy="31.4" r="0.52" opacity="0.45"/><circle cx="23.1" cy="44.9" r="0.51" opacity="0.54"/><circle cx="14.2" cy="43.0" r="0.34" opacity="0.27"/><circle cx="13.1" cy="34.8" r="0.68" opacity="0.50"/><circle cx="21.8" cy="1.4" r="0.73" opacity="0.57"/><circle cx="12.4" cy="36.5" r="0.47" opacity="0.39"/><circle cx="28.7" cy="46.9" r="0.77" opacity="0.21"/><circle cx="19.0" cy="32.9" r="0.60" opacity="0.27"/><circle cx="22.9" cy="46.3" r="0.76" opacity="0.40"/><circle cx="28.8" cy="48.3" r="0.44" opacity="0.20"/><circle cx="7.8" cy="38.6" r="0.56" opacity="0.30"/><circle cx="9.2" cy="44.3" r="0.43" opacity="0.41"/><circle cx="24.4" cy="1.7" r="0.35" opacity="0.45"/><circle cx="14.2" cy="28.0" r="0.79" opacity="0.58"/><circle cx="13.7" cy="36.4" r="0.63" opacity="0.54"/><circle cx="31.0" cy="50.0" r="0.58" opacity="0.72"/><circle cx="9.1" cy="48.1" r="0.50" opacity="0.45"/><circle cx="14.5" cy="43.1" r="0.69" opacity="0.54"/><circle cx="22.1" cy="14.4" r="0.61" opacity="0.23"/><circle cx="11.7" cy="45.6" r="0.71" opacity="0.45"/><circle cx="5.1" cy="45.8" r="0.36" opacity="0.38"/><circle cx="18.1" cy="33.2" r="0.49" opacity="0.26"/><circle cx="25.4" cy="45.9" r="0.49" opacity="0.43"/><circle cx="24.1" cy="48.2" r="0.50" opacity="0.24"/><circle cx="19.9" cy="37.7" r="0.65" opacity="0.62"/><circle cx="16.8" cy="46.4" r="0.40" opacity="0.49"/><circle cx="11.3" cy="32.1" r="0.48" opacity="0.61"/><circle cx="13.8" cy="33.6" r="0.61" opacity="0.37"/><circle cx="11.9" cy="40.4" r="0.58" opacity="0.35"/><circle cx="19.7" cy="36.2" r="0.61" opacity="0.20"/><circle cx="20.7" cy="16.7" r="0.56" opacity="0.63"/><circle cx="34.2" cy="50.0" r="0.43" opacity="0.24"/><circle cx="16.6" cy="43.6" r="0.52" opacity="0.61"/><circle cx="18.6" cy="24.8" r="0.43" opacity="0.24"/><circle cx="20.6" cy="45.8" r="0.40" opacity="0.59"/><circle cx="27.9" cy="47.5" r="0.77" opacity="0.25"/><circle cx="9.4" cy="35.8" r="0.64" opacity="0.68"/><circle cx="26.1" cy="46.8" r="0.71" opacity="0.63"/><circle cx="8.4" cy="38.9" r="0.30" opacity="0.67"/><circle cx="9.8" cy="37.0" r="0.67" opacity="0.51"/><circle cx="22.8" cy="45.2" r="0.60" opacity="0.24"/><circle cx="17.5" cy="47.3" r="0.67" opacity="0.68"/><circle cx="21.4" cy="43.5" r="0.66" opacity="0.35"/><circle cx="32.0" cy="49.3" r="0.36" opacity="0.62"/><circle cx="18.4" cy="27.3" r="0.53" opacity="0.25"/><circle cx="8.8" cy="41.8" r="0.59" opacity="0.30"/><circle cx="8.4" cy="44.0" r="0.31" opacity="0.61"/><circle cx="21.5" cy="37.6" r="0.54" opacity="0.45"/><circle cx="6.0" cy="44.6" r="0.30" opacity="0.61"/><circle cx="19.8" cy="13.8" r="0.56" opacity="0.44"/><circle cx="18.7" cy="38.2" r="0.52" opacity="0.20"/><circle cx="24.0" cy="44.2" r="0.68" opacity="0.41"/><circle cx="21.6" cy="15.3" r="0.69" opacity="0.30"/><circle cx="20.2" cy="49.8" r="0.76" opacity="0.47"/><circle cx="20.3" cy="19.2" r="0.61" opacity="0.23"/><circle cx="21.8" cy="15.9" r="0.43" opacity="0.30"/><circle cx="20.5" cy="21.5" r="0.73" opacity="0.60"/><circle cx="23.5" cy="42.2" r="0.70" opacity="0.65"/><circle cx="8.2" cy="38.9" r="0.44" opacity="0.40"/><circle cx="11.6" cy="42.0" r="0.63" opacity="0.72"/><circle cx="13.1" cy="38.9" r="0.79" opacity="0.40"/><circle cx="4.4" cy="47.7" r="0.40" opacity="0.50"/><circle cx="16.8" cy="48.9" r="0.50" opacity="0.51"/><circle cx="4.5" cy="42.0" r="0.66" opacity="0.44"/><circle cx="23.4" cy="41.7" r="0.69" opacity="0.24"/><circle cx="7.6" cy="44.5" r="0.51" opacity="0.19"/><circle cx="12.7" cy="40.6" r="0.41" opacity="0.18"/><circle cx="14.6" cy="32.9" r="0.53" opacity="0.41"/><circle cx="11.1" cy="42.1" r="0.62" opacity="0.41"/><circle cx="21.3" cy="16.8" r="0.57" opacity="0.56"/><circle cx="22.9" cy="9.3" r="0.73" opacity="0.61"/><circle cx="21.1" cy="11.1" r="0.35" opacity="0.46"/><circle cx="17.9" cy="27.2" r="0.77" opacity="0.19"/><circle cx="13.1" cy="35.0" r="0.74" opacity="0.23"/><circle cx="28.0" cy="48.3" r="0.54" opacity="0.54"/><circle cx="19.0" cy="12.4" r="0.66" opacity="0.66"/><circle cx="19.4" cy="16.4" r="0.67" opacity="0.44"/><circle cx="12.9" cy="46.2" r="0.57" opacity="0.71"/><circle cx="13.8" cy="41.6" r="0.34" opacity="0.29"/><circle cx="23.8" cy="2.4" r="0.65" opacity="0.45"/><circle cx="22.7" cy="7.4" r="0.70" opacity="0.54"/><circle cx="23.3" cy="8.6" r="0.60" opacity="0.66"/><circle cx="21.1" cy="19.0" r="0.78" opacity="0.60"/><circle cx="19.7" cy="25.4" r="0.64" opacity="0.44"/><circle cx="21.7" cy="43.9" r="0.62" opacity="0.34"/><circle cx="29.1" cy="49.1" r="0.77" opacity="0.27"/><circle cx="9.6" cy="42.3" r="0.52" opacity="0.70"/><circle cx="29.1" cy="51.2" r="0.64" opacity="0.64"/><circle cx="6.5" cy="45.6" r="0.38" opacity="0.38"/><circle cx="11.7" cy="44.5" r="0.65" opacity="0.43"/><circle cx="14.5" cy="49.1" r="0.65" opacity="0.47"/><circle cx="18.1" cy="30.2" r="0.48" opacity="0.42"/><circle cx="21.7" cy="3.6" r="0.68" opacity="0.71"/><circle cx="17.9" cy="32.3" r="0.80" opacity="0.26"/><circle cx="20.6" cy="24.9" r="0.38" opacity="0.42"/><circle cx="7.0" cy="45.8" r="0.72" opacity="0.32"/><circle cx="22.0" cy="6.9" r="0.48" opacity="0.20"/><circle cx="18.8" cy="40.7" r="0.46" opacity="0.65"/><circle cx="18.1" cy="33.6" r="0.66" opacity="0.48"/><circle cx="8.7" cy="41.1" r="0.31" opacity="0.72"/><circle cx="22.0" cy="45.6" r="0.60" opacity="0.38"/><circle cx="3.3" cy="42.6" r="0.75" opacity="0.17"/><circle cx="31.5" cy="49.0" r="0.79" opacity="0.53"/><circle cx="17.8" cy="45.2" r="0.43" opacity="0.17"/><circle cx="11.4" cy="49.2" r="0.52" opacity="0.40"/><circle cx="10.5" cy="43.2" r="0.33" opacity="0.34"/><circle cx="29.1" cy="51.4" r="0.79" opacity="0.30"/><circle cx="12.9" cy="34.0" r="0.75" opacity="0.70"/><circle cx="5.3" cy="40.4" r="0.43" opacity="0.72"/><circle cx="24.3" cy="50.4" r="0.49" opacity="0.56"/><circle cx="18.7" cy="25.6" r="0.66" opacity="0.65"/><circle cx="27.4" cy="46.0" r="0.76" opacity="0.71"/><circle cx="15.8" cy="32.4" r="0.75" opacity="0.61"/><circle cx="22.2" cy="15.9" r="0.56" opacity="0.56"/><circle cx="15.4" cy="36.5" r="0.78" opacity="0.49"/><circle cx="7.0" cy="39.1" r="0.47" opacity="0.35"/><circle cx="5.7" cy="43.4" r="0.69" opacity="0.60"/><circle cx="25.9" cy="44.3" r="0.68" opacity="0.68"/><circle cx="19.2" cy="23.5" r="0.36" opacity="0.39"/><circle cx="21.5" cy="44.0" r="0.56" opacity="0.18"/><circle cx="11.0" cy="47.3" r="0.38" opacity="0.70"/><circle cx="13.0" cy="33.4" r="0.72" opacity="0.68"/><circle cx="6.5" cy="38.6" r="0.49" opacity="0.71"/><circle cx="10.0" cy="45.4" r="0.68" opacity="0.23"/><circle cx="16.8" cy="40.1" r="0.46" opacity="0.72"/><circle cx="9.9" cy="36.1" r="0.48" opacity="0.35"/><circle cx="19.8" cy="13.6" r="0.73" opacity="0.48"/><circle cx="16.8" cy="48.6" r="0.67" opacity="0.72"/><circle cx="22.7" cy="40.9" r="0.62" opacity="0.23"/><circle cx="15.4" cy="26.8" r="0.33" opacity="0.67"/><circle cx="17.3" cy="25.1" r="0.33" opacity="0.30"/><circle cx="18.3" cy="21.3" r="0.71" opacity="0.70"/><circle cx="11.4" cy="34.1" r="0.62" opacity="0.42"/><circle cx="20.9" cy="13.4" r="0.45" opacity="0.69"/><circle cx="21.9" cy="11.1" r="0.63" opacity="0.59"/><circle cx="3.7" cy="43.8" r="0.44" opacity="0.52"/><circle cx="20.0" cy="26.2" r="0.42" opacity="0.34"/><circle cx="16.4" cy="38.2" r="0.30" opacity="0.44"/><circle cx="18.5" cy="29.4" r="0.51" opacity="0.56"/><circle cx="15.2" cy="45.0" r="0.33" opacity="0.51"/><circle cx="10.9" cy="32.8" r="0.79" opacity="0.47"/><circle cx="14.9" cy="26.3" r="0.49" opacity="0.31"/><circle cx="17.8" cy="37.7" r="0.41" opacity="0.65"/><circle cx="17.4" cy="32.3" r="0.53" opacity="0.37"/><circle cx="33.6" cy="49.3" r="0.52" opacity="0.52"/><circle cx="6.8" cy="44.3" r="0.71" opacity="0.31"/><circle cx="15.8" cy="43.2" r="0.64" opacity="0.52"/><circle cx="24.9" cy="47.6" r="0.77" opacity="0.59"/><circle cx="15.0" cy="31.7" r="0.48" opacity="0.72"/><circle cx="24.8" cy="49.7" r="0.53" opacity="0.64"/><circle cx="10.2" cy="45.9" r="0.44" opacity="0.44"/><circle cx="15.5" cy="41.6" r="0.47" opacity="0.62"/><circle cx="5.2" cy="40.0" r="0.69" opacity="0.53"/><circle cx="12.8" cy="47.4" r="0.41" opacity="0.31"/><circle cx="18.2" cy="20.8" r="0.65" opacity="0.36"/><circle cx="14.6" cy="39.4" r="0.72" opacity="0.71"/><circle cx="20.0" cy="30.7" r="0.52" opacity="0.55"/><circle cx="15.9" cy="30.6" r="0.79" opacity="0.53"/><circle cx="14.5" cy="47.0" r="0.58" opacity="0.61"/><circle cx="35.0" cy="51.1" r="0.47" opacity="0.47"/><circle cx="19.2" cy="20.5" r="0.70" opacity="0.31"/><circle cx="21.9" cy="10.2" r="0.66" opacity="0.31"/><circle cx="24.4" cy="41.8" r="0.35" opacity="0.21"/><circle cx="4.4" cy="44.3" r="0.50" opacity="0.32"/><circle cx="18.6" cy="31.8" r="0.48" opacity="0.36"/><circle cx="21.5" cy="48.3" r="0.68" opacity="0.66"/><circle cx="7.2" cy="42.9" r="0.59" opacity="0.41"/><circle cx="17.9" cy="33.8" r="0.34" opacity="0.70"/><circle cx="18.5" cy="23.1" r="0.78" opacity="0.36"/><circle cx="20.2" cy="3.8" r="0.57" opacity="0.24"/><circle cx="26.6" cy="46.3" r="0.34" opacity="0.38"/><circle cx="10.3" cy="36.0" r="0.59" opacity="0.54"/><circle cx="24.2" cy="3.1" r="0.55" opacity="0.64"/><circle cx="24.2" cy="50.4" r="0.31" opacity="0.68"/><circle cx="12.6" cy="39.0" r="0.34" opacity="0.51"/><circle cx="21.2" cy="39.3" r="0.35" opacity="0.18"/><circle cx="6.2" cy="42.9" r="0.31" opacity="0.42"/><circle cx="15.1" cy="32.7" r="0.58" opacity="0.50"/><circle cx="14.2" cy="47.6" r="0.79" opacity="0.65"/><circle cx="7.7" cy="48.2" r="0.36" opacity="0.48"/><circle cx="22.7" cy="6.7" r="0.51" opacity="0.57"/><circle cx="4.6" cy="43.3" r="0.49" opacity="0.44"/><circle cx="23.8" cy="46.0" r="0.31" opacity="0.39"/><circle cx="17.9" cy="44.0" r="0.68" opacity="0.38"/><circle cx="20.5" cy="44.8" r="0.39" opacity="0.59"/><circle cx="33.3" cy="48.9" r="0.40" opacity="0.43"/><circle cx="18.3" cy="34.3" r="0.63" opacity="0.22"/><circle cx="9.3" cy="35.6" r="0.52" opacity="0.46"/><circle cx="20.7" cy="40.8" r="0.54" opacity="0.35"/><circle cx="23.8" cy="41.0" r="0.52" opacity="0.59"/><circle cx="20.4" cy="43.8" r="0.74" opacity="0.17"/><circle cx="14.4" cy="43.9" r="0.58" opacity="0.23"/><circle cx="17.9" cy="24.9" r="0.64" opacity="0.18"/><circle cx="24.3" cy="42.1" r="0.40" opacity="0.67"/><circle cx="14.8" cy="38.2" r="0.56" opacity="0.32"/><circle cx="21.5" cy="42.8" r="0.44" opacity="0.18"/><circle cx="19.9" cy="23.8" r="0.77" opacity="0.30"/><circle cx="30.4" cy="50.8" r="0.49" opacity="0.23"/><circle cx="13.5" cy="40.2" r="0.43" opacity="0.44"/><circle cx="29.2" cy="46.4" r="0.42" opacity="0.45"/><circle cx="20.2" cy="36.1" r="0.65" opacity="0.55"/><circle cx="25.6" cy="49.0" r="0.66" opacity="0.41"/><circle cx="20.7" cy="6.3" r="0.33" opacity="0.45"/><circle cx="19.4" cy="25.4" r="0.39" opacity="0.69"/><circle cx="14.3" cy="29.7" r="0.35" opacity="0.21"/><circle cx="25.7" cy="49.3" r="0.38" opacity="0.23"/><circle cx="26.4" cy="45.7" r="0.71" opacity="0.21"/><circle cx="12.6" cy="40.4" r="0.80" opacity="0.19"/><circle cx="20.0" cy="9.2" r="0.78" opacity="0.53"/><circle cx="20.4" cy="26.1" r="0.53" opacity="0.41"/><circle cx="20.6" cy="10.3" r="0.50" opacity="0.54"/><circle cx="15.6" cy="34.9" r="0.47" opacity="0.72"/><circle cx="13.4" cy="49.3" r="0.34" opacity="0.57"/><circle cx="20.7" cy="8.4" r="0.75" opacity="0.39"/><circle cx="17.9" cy="22.4" r="0.59" opacity="0.47"/><circle cx="25.8" cy="44.8" r="0.79" opacity="0.32"/><circle cx="9.3" cy="38.2" r="0.31" opacity="0.60"/><circle cx="34.1" cy="50.9" r="0.76" opacity="0.28"/><circle cx="19.5" cy="7.1" r="0.53" opacity="0.64"/><circle cx="20.4" cy="38.6" r="0.76" opacity="0.30"/><circle cx="20.1" cy="10.3" r="0.38" opacity="0.66"/><circle cx="17.8" cy="19.0" r="0.59" opacity="0.44"/><circle cx="22.5" cy="49.0" r="0.42" opacity="0.35"/><circle cx="21.5" cy="9.8" r="0.57" opacity="0.40"/><circle cx="22.6" cy="5.5" r="0.53" opacity="0.38"/><circle cx="21.6" cy="18.2" r="0.66" opacity="0.71"/><circle cx="21.1" cy="19.3" r="0.33" opacity="0.71"/><circle cx="11.4" cy="45.5" r="0.64" opacity="0.63"/><circle cx="25.6" cy="45.1" r="0.59" opacity="0.30"/><circle cx="35.7" cy="49.0" r="0.57" opacity="0.46"/><circle cx="34.4" cy="50.9" r="0.34" opacity="0.22"/><circle cx="7.6" cy="43.1" r="0.64" opacity="0.66"/><circle cx="12.6" cy="34.6" r="0.75" opacity="0.31"/></g><g fill="#3ae626" filter="url(#b03)"><circle cx="49.1" cy="29.3" r="0.41" opacity="0.65"/><circle cx="58.3" cy="33.9" r="0.32" opacity="0.39"/><circle cx="42.2" cy="31.8" r="0.47" opacity="0.48"/><circle cx="61.8" cy="43.4" r="0.68" opacity="0.63"/><circle cx="60.1" cy="43.2" r="0.50" opacity="0.41"/><circle cx="42.2" cy="26.1" r="0.80" opacity="0.43"/><circle cx="26.0" cy="16.2" r="0.66" opacity="0.76"/><circle cx="43.8" cy="29.7" r="0.58" opacity="0.63"/><circle cx="46.1" cy="34.2" r="0.39" opacity="0.31"/><circle cx="51.0" cy="36.0" r="0.75" opacity="0.74"/><circle cx="39.3" cy="21.4" r="0.74" opacity="0.30"/><circle cx="34.8" cy="22.9" r="0.51" opacity="0.31"/><circle cx="26.1" cy="20.2" r="0.72" opacity="0.65"/><circle cx="28.6" cy="16.2" r="0.31" opacity="0.46"/><circle cx="45.5" cy="24.0" r="0.55" opacity="0.33"/><circle cx="31.3" cy="19.3" r="0.49" opacity="0.60"/><circle cx="54.4" cy="39.9" r="0.30" opacity="0.47"/><circle cx="39.8" cy="23.5" r="0.75" opacity="0.38"/><circle cx="44.1" cy="31.7" r="0.77" opacity="0.27"/><circle cx="47.8" cy="30.3" r="0.67" opacity="0.75"/><circle cx="45.0" cy="32.1" r="0.33" opacity="0.66"/><circle cx="29.1" cy="15.6" r="0.34" opacity="0.66"/><circle cx="49.5" cy="28.0" r="0.56" opacity="0.43"/><circle cx="40.3" cy="20.7" r="0.32" opacity="0.45"/><circle cx="56.1" cy="37.6" r="0.53" opacity="0.34"/><circle cx="39.6" cy="29.6" r="0.62" opacity="0.74"/><circle cx="58.8" cy="39.5" r="0.61" opacity="0.63"/><circle cx="51.6" cy="36.2" r="0.42" opacity="0.72"/><circle cx="36.9" cy="23.6" r="0.50" opacity="0.29"/><circle cx="35.5" cy="25.9" r="0.77" opacity="0.47"/><circle cx="35.7" cy="18.9" r="0.49" opacity="0.36"/><circle cx="60.5" cy="37.0" r="0.31" opacity="0.49"/><circle cx="28.6" cy="23.5" r="0.53" opacity="0.71"/><circle cx="39.1" cy="17.6" r="0.70" opacity="0.67"/><circle cx="32.1" cy="26.7" r="0.58" opacity="0.34"/><circle cx="55.5" cy="41.7" r="0.76" opacity="0.70"/><circle cx="53.4" cy="38.8" r="0.39" opacity="0.25"/><circle cx="56.0" cy="33.6" r="0.61" opacity="0.47"/><circle cx="35.2" cy="25.0" r="0.45" opacity="0.56"/><circle cx="50.9" cy="35.2" r="0.38" opacity="0.27"/><circle cx="52.7" cy="30.8" r="0.34" opacity="0.67"/><circle cx="52.0" cy="29.8" r="0.38" opacity="0.68"/><circle cx="60.8" cy="44.9" r="0.70" opacity="0.22"/><circle cx="54.5" cy="38.2" r="0.74" opacity="0.41"/><circle cx="30.0" cy="13.9" r="0.51" opacity="0.53"/><circle cx="33.0" cy="16.6" r="0.76" opacity="0.50"/><circle cx="29.7" cy="21.2" r="0.51" opacity="0.57"/><circle cx="54.3" cy="38.5" r="0.63" opacity="0.35"/><circle cx="41.3" cy="25.9" r="0.54" opacity="0.36"/><circle cx="45.4" cy="28.6" r="0.32" opacity="0.67"/><circle cx="53.0" cy="37.8" r="0.80" opacity="0.42"/><circle cx="50.2" cy="32.8" r="0.59" opacity="0.76"/><circle cx="32.5" cy="20.7" r="0.67" opacity="0.66"/><circle cx="44.0" cy="28.7" r="0.49" opacity="0.56"/><circle cx="57.9" cy="38.5" r="0.49" opacity="0.35"/><circle cx="54.7" cy="40.0" r="0.76" opacity="0.32"/><circle cx="33.3" cy="20.0" r="0.55" opacity="0.61"/><circle cx="39.0" cy="19.6" r="0.37" opacity="0.24"/><circle cx="52.5" cy="33.2" r="0.52" opacity="0.49"/><circle cx="49.2" cy="34.6" r="0.48" opacity="0.40"/><circle cx="53.7" cy="34.6" r="0.53" opacity="0.50"/><circle cx="42.3" cy="20.5" r="0.59" opacity="0.53"/><circle cx="37.4" cy="24.2" r="0.41" opacity="0.24"/><circle cx="32.1" cy="18.2" r="0.61" opacity="0.68"/><circle cx="33.4" cy="16.8" r="0.57" opacity="0.28"/><circle cx="28.7" cy="19.9" r="0.59" opacity="0.66"/><circle cx="58.9" cy="39.2" r="0.59" opacity="0.31"/><circle cx="61.7" cy="39.4" r="0.66" opacity="0.51"/><circle cx="31.2" cy="24.6" r="0.63" opacity="0.57"/><circle cx="28.4" cy="24.0" r="0.70" opacity="0.63"/><circle cx="30.7" cy="23.5" r="0.36" opacity="0.58"/><circle cx="41.8" cy="20.9" r="0.49" opacity="0.69"/><circle cx="48.9" cy="29.1" r="0.58" opacity="0.41"/><circle cx="36.6" cy="24.2" r="0.39" opacity="0.72"/><circle cx="41.2" cy="19.8" r="0.32" opacity="0.33"/><circle cx="49.7" cy="28.3" r="0.67" opacity="0.50"/><circle cx="39.3" cy="22.5" r="0.60" opacity="0.67"/><circle cx="51.3" cy="29.3" r="0.46" opacity="0.71"/><circle cx="31.4" cy="26.4" r="0.61" opacity="0.36"/><circle cx="59.0" cy="41.0" r="0.79" opacity="0.49"/><circle cx="51.7" cy="30.5" r="0.78" opacity="0.57"/><circle cx="36.2" cy="17.4" r="0.49" opacity="0.29"/><circle cx="36.2" cy="28.2" r="0.66" opacity="0.44"/><circle cx="29.4" cy="24.9" r="0.65" opacity="0.67"/><circle cx="30.1" cy="24.7" r="0.77" opacity="0.41"/><circle cx="31.3" cy="24.8" r="0.41" opacity="0.23"/><circle cx="46.8" cy="31.8" r="0.72" opacity="0.68"/><circle cx="34.6" cy="20.4" r="0.50" opacity="0.65"/><circle cx="57.5" cy="38.4" r="0.66" opacity="0.35"/><circle cx="37.2" cy="23.3" r="0.52" opacity="0.70"/><circle cx="61.7" cy="44.2" r="0.53" opacity="0.60"/><circle cx="36.8" cy="17.8" r="0.62" opacity="0.56"/><circle cx="46.8" cy="25.4" r="0.60" opacity="0.43"/><circle cx="32.1" cy="23.1" r="0.68" opacity="0.34"/><circle cx="36.9" cy="21.9" r="0.48" opacity="0.51"/><circle cx="26.9" cy="15.7" r="0.40" opacity="0.35"/><circle cx="38.0" cy="22.9" r="0.72" opacity="0.58"/><circle cx="49.4" cy="34.4" r="0.36" opacity="0.37"/><circle cx="44.4" cy="31.8" r="0.79" opacity="0.64"/><circle cx="34.0" cy="27.6" r="0.51" opacity="0.59"/><circle cx="39.3" cy="19.7" r="0.64" opacity="0.76"/><circle cx="39.2" cy="24.6" r="0.51" opacity="0.24"/><circle cx="33.9" cy="19.3" r="0.47" opacity="0.65"/><circle cx="52.4" cy="35.9" r="0.34" opacity="0.74"/><circle cx="57.7" cy="33.4" r="0.38" opacity="0.43"/><circle cx="26.6" cy="18.6" r="0.39" opacity="0.54"/><circle cx="49.5" cy="28.2" r="0.50" opacity="0.74"/><circle cx="31.8" cy="16.9" r="0.47" opacity="0.28"/><circle cx="38.6" cy="30.0" r="0.46" opacity="0.27"/><circle cx="56.0" cy="38.9" r="0.74" opacity="0.66"/><circle cx="42.9" cy="22.2" r="0.70" opacity="0.45"/><circle cx="28.4" cy="22.3" r="0.63" opacity="0.71"/><circle cx="37.5" cy="20.7" r="0.43" opacity="0.64"/><circle cx="48.9" cy="31.0" r="0.78" opacity="0.50"/><circle cx="61.8" cy="45.7" r="0.55" opacity="0.44"/><circle cx="33.6" cy="22.4" r="0.40" opacity="0.31"/><circle cx="47.8" cy="33.3" r="0.67" opacity="0.53"/><circle cx="60.0" cy="36.4" r="0.72" opacity="0.35"/><circle cx="43.4" cy="26.0" r="0.47" opacity="0.42"/><circle cx="46.0" cy="33.0" r="0.46" opacity="0.60"/><circle cx="33.3" cy="18.3" r="0.54" opacity="0.57"/><circle cx="43.2" cy="21.8" r="0.76" opacity="0.29"/><circle cx="49.5" cy="35.4" r="0.41" opacity="0.72"/><circle cx="60.8" cy="42.0" r="0.46" opacity="0.69"/><circle cx="30.0" cy="24.8" r="0.51" opacity="0.74"/><circle cx="36.4" cy="26.1" r="0.40" opacity="0.67"/><circle cx="47.0" cy="26.9" r="0.62" opacity="0.39"/><circle cx="48.0" cy="32.5" r="0.70" opacity="0.30"/><circle cx="50.6" cy="28.4" r="0.56" opacity="0.67"/><circle cx="44.7" cy="27.8" r="0.62" opacity="0.29"/><circle cx="41.2" cy="22.0" r="0.77" opacity="0.37"/><circle cx="55.9" cy="37.5" r="0.55" opacity="0.55"/><circle cx="58.6" cy="40.5" r="0.68" opacity="0.69"/><circle cx="55.3" cy="33.4" r="0.31" opacity="0.58"/><circle cx="27.7" cy="20.0" r="0.65" opacity="0.72"/><circle cx="27.9" cy="13.6" r="0.34" opacity="0.70"/><circle cx="48.7" cy="34.3" r="0.79" opacity="0.65"/><circle cx="28.6" cy="19.0" r="0.48" opacity="0.43"/><circle cx="46.2" cy="28.4" r="0.45" opacity="0.57"/><circle cx="49.2" cy="28.6" r="0.34" opacity="0.57"/><circle cx="52.1" cy="31.1" r="0.35" opacity="0.69"/><circle cx="36.9" cy="29.3" r="0.68" opacity="0.70"/><circle cx="46.0" cy="27.7" r="0.73" opacity="0.61"/><circle cx="38.2" cy="28.1" r="0.35" opacity="0.41"/><circle cx="47.8" cy="28.2" r="0.36" opacity="0.46"/><circle cx="41.5" cy="22.7" r="0.49" opacity="0.37"/><circle cx="43.2" cy="24.0" r="0.54" opacity="0.25"/><circle cx="36.7" cy="27.8" r="0.68" opacity="0.45"/><circle cx="58.2" cy="40.0" r="0.79" opacity="0.34"/><circle cx="38.9" cy="28.5" r="0.76" opacity="0.74"/><circle cx="29.5" cy="19.9" r="0.64" opacity="0.60"/><circle cx="45.1" cy="33.8" r="0.76" opacity="0.28"/><circle cx="48.1" cy="27.9" r="0.48" opacity="0.55"/><circle cx="60.9" cy="45.3" r="0.76" opacity="0.75"/><circle cx="30.0" cy="14.0" r="0.71" opacity="0.35"/><circle cx="44.8" cy="28.9" r="0.79" opacity="0.46"/><circle cx="30.1" cy="19.9" r="0.75" opacity="0.66"/><circle cx="42.0" cy="25.2" r="0.48" opacity="0.34"/><circle cx="31.8" cy="25.6" r="0.59" opacity="0.42"/><circle cx="35.2" cy="24.3" r="0.57" opacity="0.75"/><circle cx="30.5" cy="21.3" r="0.75" opacity="0.37"/><circle cx="50.3" cy="37.5" r="0.30" opacity="0.23"/><circle cx="51.4" cy="28.9" r="0.35" opacity="0.50"/><circle cx="29.2" cy="24.0" r="0.32" opacity="0.50"/><circle cx="42.8" cy="22.7" r="0.41" opacity="0.25"/><circle cx="26.1" cy="17.3" r="0.79" opacity="0.23"/><circle cx="52.2" cy="28.5" r="0.59" opacity="0.38"/><circle cx="62.3" cy="40.5" r="0.50" opacity="0.45"/><circle cx="58.2" cy="34.1" r="0.58" opacity="0.51"/><circle cx="34.5" cy="25.0" r="0.41" opacity="0.26"/><circle cx="44.5" cy="27.4" r="0.70" opacity="0.28"/><circle cx="45.7" cy="28.4" r="0.61" opacity="0.34"/><circle cx="53.6" cy="39.5" r="0.36" opacity="0.55"/><circle cx="30.6" cy="16.4" r="0.56" opacity="0.38"/><circle cx="50.0" cy="30.9" r="0.41" opacity="0.72"/><circle cx="48.1" cy="28.6" r="0.41" opacity="0.69"/><circle cx="59.0" cy="35.7" r="0.47" opacity="0.55"/><circle cx="58.9" cy="38.7" r="0.40" opacity="0.40"/><circle cx="31.0" cy="23.2" r="0.70" opacity="0.28"/><circle cx="59.9" cy="44.3" r="0.69" opacity="0.34"/><circle cx="36.0" cy="28.6" r="0.61" opacity="0.72"/><circle cx="25.8" cy="15.9" r="0.71" opacity="0.22"/><circle cx="34.7" cy="23.4" r="0.74" opacity="0.70"/><circle cx="27.7" cy="21.6" r="0.43" opacity="0.60"/><circle cx="38.5" cy="18.9" r="0.65" opacity="0.71"/><circle cx="31.3" cy="15.1" r="0.50" opacity="0.73"/><circle cx="27.3" cy="17.7" r="0.62" opacity="0.63"/><circle cx="27.8" cy="14.9" r="0.77" opacity="0.27"/><circle cx="32.6" cy="26.3" r="0.70" opacity="0.52"/><circle cx="62.8" cy="40.8" r="0.78" opacity="0.23"/><circle cx="48.8" cy="27.1" r="0.79" opacity="0.75"/><circle cx="30.1" cy="15.1" r="0.58" opacity="0.73"/><circle cx="61.5" cy="45.0" r="0.34" opacity="0.29"/><circle cx="61.3" cy="45.8" r="0.39" opacity="0.31"/><circle cx="29.0" cy="18.4" r="0.59" opacity="0.42"/><circle cx="59.1" cy="39.8" r="0.49" opacity="0.55"/><circle cx="38.6" cy="29.2" r="0.69" opacity="0.72"/><circle cx="32.2" cy="23.7" r="0.33" opacity="0.46"/><circle cx="46.7" cy="34.3" r="0.31" opacity="0.32"/><circle cx="49.2" cy="27.3" r="0.49" opacity="0.70"/><circle cx="56.2" cy="31.9" r="0.35" opacity="0.40"/><circle cx="52.8" cy="36.4" r="0.74" opacity="0.54"/><circle cx="44.7" cy="24.0" r="0.52" opacity="0.52"/><circle cx="51.5" cy="34.5" r="0.73" opacity="0.51"/><circle cx="57.9" cy="37.9" r="0.40" opacity="0.60"/><circle cx="27.3" cy="18.7" r="0.32" opacity="0.72"/><circle cx="31.8" cy="15.9" r="0.53" opacity="0.67"/><circle cx="26.8" cy="18.7" r="0.44" opacity="0.40"/><circle cx="47.8" cy="29.9" r="0.44" opacity="0.31"/><circle cx="45.4" cy="34.6" r="0.73" opacity="0.48"/><circle cx="56.8" cy="32.4" r="0.40" opacity="0.56"/><circle cx="62.8" cy="45.7" r="0.45" opacity="0.48"/><circle cx="39.3" cy="17.8" r="0.57" opacity="0.37"/><circle cx="32.7" cy="19.3" r="0.33" opacity="0.60"/><circle cx="35.9" cy="20.4" r="0.62" opacity="0.76"/><circle cx="33.3" cy="15.4" r="0.49" opacity="0.62"/><circle cx="49.1" cy="27.0" r="0.36" opacity="0.31"/><circle cx="47.8" cy="29.8" r="0.57" opacity="0.62"/><circle cx="38.7" cy="30.1" r="0.42" opacity="0.31"/><circle cx="55.6" cy="41.5" r="0.60" opacity="0.34"/><circle cx="33.8" cy="24.2" r="0.37" opacity="0.27"/><circle cx="44.3" cy="28.4" r="0.75" opacity="0.27"/><circle cx="52.1" cy="33.1" r="0.46" opacity="0.22"/><circle cx="36.1" cy="20.2" r="0.57" opacity="0.24"/><circle cx="45.4" cy="33.3" r="0.42" opacity="0.43"/><circle cx="38.9" cy="22.6" r="0.68" opacity="0.41"/><circle cx="56.8" cy="36.6" r="0.72" opacity="0.51"/><circle cx="27.8" cy="22.0" r="0.78" opacity="0.58"/><circle cx="46.1" cy="25.7" r="0.69" opacity="0.67"/><circle cx="54.6" cy="41.1" r="0.38" opacity="0.40"/><circle cx="34.4" cy="25.6" r="0.74" opacity="0.76"/><circle cx="28.8" cy="17.9" r="0.54" opacity="0.26"/><circle cx="46.9" cy="26.0" r="0.34" opacity="0.68"/><circle cx="60.3" cy="38.3" r="0.76" opacity="0.76"/><circle cx="29.8" cy="19.3" r="0.53" opacity="0.27"/><circle cx="27.9" cy="17.0" r="0.32" opacity="0.53"/><circle cx="54.6" cy="33.4" r="0.60" opacity="0.45"/><circle cx="44.7" cy="27.7" r="0.79" opacity="0.31"/><circle cx="30.8" cy="15.8" r="0.53" opacity="0.23"/><circle cx="40.8" cy="28.6" r="0.32" opacity="0.56"/><circle cx="39.8" cy="18.3" r="0.35" opacity="0.34"/><circle cx="56.0" cy="39.2" r="0.74" opacity="0.43"/><circle cx="30.8" cy="14.5" r="0.65" opacity="0.34"/><circle cx="31.5" cy="22.2" r="0.40" opacity="0.26"/><circle cx="56.0" cy="41.7" r="0.67" opacity="0.46"/><circle cx="38.5" cy="20.4" r="0.63" opacity="0.74"/><circle cx="61.7" cy="38.7" r="0.79" opacity="0.48"/><circle cx="50.0" cy="26.6" r="0.68" opacity="0.51"/><circle cx="37.8" cy="25.5" r="0.57" opacity="0.37"/><circle cx="42.3" cy="22.3" r="0.52" opacity="0.65"/><circle cx="54.6" cy="36.6" r="0.61" opacity="0.48"/><circle cx="38.6" cy="17.5" r="0.66" opacity="0.47"/><circle cx="37.2" cy="24.5" r="0.54" opacity="0.38"/><circle cx="54.2" cy="30.2" r="0.59" opacity="0.66"/><circle cx="35.7" cy="22.6" r="0.55" opacity="0.49"/><circle cx="59.9" cy="42.4" r="0.57" opacity="0.60"/><circle cx="48.2" cy="33.8" r="0.79" opacity="0.38"/><circle cx="36.7" cy="22.5" r="0.36" opacity="0.32"/><circle cx="54.9" cy="37.2" r="0.35" opacity="0.32"/><circle cx="48.8" cy="32.9" r="0.70" opacity="0.64"/><circle cx="38.1" cy="23.0" r="0.49" opacity="0.45"/><circle cx="44.2" cy="21.7" r="0.55" opacity="0.73"/><circle cx="38.3" cy="21.5" r="0.76" opacity="0.60"/><circle cx="59.4" cy="40.3" r="0.59" opacity="0.55"/><circle cx="40.9" cy="19.2" r="0.45" opacity="0.61"/><circle cx="43.8" cy="30.7" r="0.63" opacity="0.73"/><circle cx="29.5" cy="16.2" r="0.68" opacity="0.33"/><circle cx="46.6" cy="30.2" r="0.64" opacity="0.57"/><circle cx="60.5" cy="41.6" r="0.53" opacity="0.62"/><circle cx="45.6" cy="30.4" r="0.60" opacity="0.63"/><circle cx="34.7" cy="15.7" r="0.34" opacity="0.31"/><circle cx="54.7" cy="36.3" r="0.49" opacity="0.31"/><circle cx="56.8" cy="36.5" r="0.49" opacity="0.67"/><circle cx="44.3" cy="24.6" r="0.75" opacity="0.58"/><circle cx="27.1" cy="15.3" r="0.54" opacity="0.64"/><circle cx="41.6" cy="31.0" r="0.37" opacity="0.55"/><circle cx="40.5" cy="25.3" r="0.41" opacity="0.54"/><circle cx="48.0" cy="31.9" r="0.65" opacity="0.60"/><circle cx="52.5" cy="38.8" r="0.48" opacity="0.54"/><circle cx="28.4" cy="24.0" r="0.41" opacity="0.34"/></g><path d="M27,15 L32,15.5 L40,19.5 L46,25 L53,30.5 L59,35 L62,40" fill="none" stroke="#3ae626" stroke-width="2.0" stroke-linecap="round" stroke-linejoin="round" opacity="0.4675" filter="url(#b10)"/><path d="M21,20 L19,28 L18,36 L21,41 L27,45 L34,50" fill="none" stroke="#3ae626" stroke-width="2.2" stroke-linecap="round" stroke-linejoin="round" opacity="0.425" filter="url(#b10)"/><ellipse cx="36" cy="23" rx="5" ry="2.5" fill="#000" opacity="0.45" transform="rotate(30 36 23)" filter="url(#b10)"/><ellipse cx="21" cy="6" rx="4" ry="7" fill="#000" opacity="0.35" filter="url(#b10)"/><ellipse cx="5" cy="45" rx="4" ry="4" fill="#000" opacity="0.3" filter="url(#b10)"/><g fill="#3ae626" filter="url(#b03)"><circle cx="39.1" cy="32.7" r="0.57" opacity="0.11"/><circle cx="52.9" cy="47.4" r="0.39" opacity="0.10"/><circle cx="51.0" cy="47.0" r="0.58" opacity="0.21"/><circle cx="57.7" cy="46.0" r="0.51" opacity="0.18"/><circle cx="18.7" cy="58.9" r="0.59" opacity="0.19"/><circle cx="40.1" cy="23.1" r="0.31" opacity="0.17"/><circle cx="30.4" cy="43.0" r="0.42" opacity="0.19"/><circle cx="55.0" cy="30.4" r="0.41" opacity="0.18"/><circle cx="17.8" cy="47.7" r="0.46" opacity="0.15"/><circle cx="40.4" cy="43.7" r="0.33" opacity="0.25"/><circle cx="21.3" cy="37.9" r="0.42" opacity="0.24"/><circle cx="57.1" cy="42.7" r="0.42" opacity="0.09"/><circle cx="32.8" cy="32.9" r="0.40" opacity="0.13"/><circle cx="32.1" cy="59.8" r="0.49" opacity="0.11"/><circle cx="24.6" cy="61.7" r="0.58" opacity="0.15"/><circle cx="50.8" cy="41.9" r="0.46" opacity="0.18"/><circle cx="28.4" cy="55.6" r="0.49" opacity="0.13"/><circle cx="1.1" cy="42.0" r="0.49" opacity="0.13"/><circle cx="10.3" cy="53.5" r="0.43" opacity="0.12"/><circle cx="13.0" cy="27.3" r="0.56" opacity="0.10"/><circle cx="28.2" cy="24.5" r="0.40" opacity="0.21"/><circle cx="2.3" cy="34.7" r="0.55" opacity="0.07"/><circle cx="12.2" cy="41.4" r="0.41" opacity="0.21"/><circle cx="43.1" cy="39.9" r="0.37" opacity="0.11"/><circle cx="39.9" cy="21.5" r="0.57" opacity="0.19"/><circle cx="3.4" cy="41.9" r="0.48" opacity="0.08"/><circle cx="32.1" cy="20.4" r="0.40" opacity="0.23"/><circle cx="22.8" cy="50.4" r="0.35" opacity="0.22"/><circle cx="53.6" cy="45.1" r="0.41" opacity="0.23"/><circle cx="30.8" cy="23.3" r="0.38" opacity="0.10"/><circle cx="50.3" cy="42.6" r="0.51" opacity="0.22"/><circle cx="45.7" cy="35.2" r="0.50" opacity="0.10"/><circle cx="22.8" cy="26.2" r="0.46" opacity="0.25"/><circle cx="9.2" cy="45.5" r="0.56" opacity="0.18"/><circle cx="31.6" cy="58.1" r="0.31" opacity="0.25"/><circle cx="41.2" cy="60.4" r="0.55" opacity="0.09"/><circle cx="54.6" cy="36.7" r="0.49" opacity="0.21"/><circle cx="39.1" cy="31.3" r="0.38" opacity="0.11"/><circle cx="26.7" cy="31.9" r="0.35" opacity="0.16"/><circle cx="24.9" cy="33.2" r="0.54" opacity="0.13"/><circle cx="57.5" cy="34.5" r="0.31" opacity="0.25"/><circle cx="30.8" cy="25.1" r="0.34" opacity="0.11"/><circle cx="28.8" cy="60.1" r="0.45" opacity="0.08"/><circle cx="20.4" cy="34.8" r="0.57" opacity="0.18"/><circle cx="27.5" cy="49.8" r="0.31" opacity="0.20"/><circle cx="48.5" cy="52.2" r="0.41" opacity="0.12"/><circle cx="9.3" cy="39.2" r="0.53" opacity="0.11"/><circle cx="28.3" cy="50.2" r="0.49" opacity="0.07"/><circle cx="55.2" cy="47.1" r="0.39" opacity="0.11"/><circle cx="20.2" cy="35.9" r="0.47" opacity="0.10"/><circle cx="33.4" cy="61.4" r="0.38" opacity="0.23"/><circle cx="47.0" cy="25.5" r="0.46" opacity="0.20"/><circle cx="34.4" cy="48.1" r="0.37" opacity="0.17"/><circle cx="21.3" cy="59.9" r="0.41" opacity="0.25"/><circle cx="34.8" cy="25.7" r="0.42" opacity="0.09"/><circle cx="36.3" cy="30.5" r="0.53" opacity="0.09"/><circle cx="40.8" cy="54.8" r="0.37" opacity="0.09"/><circle cx="22.4" cy="50.9" r="0.38" opacity="0.07"/><circle cx="26.5" cy="60.5" r="0.35" opacity="0.24"/><circle cx="30.5" cy="21.6" r="0.33" opacity="0.14"/><circle cx="28.6" cy="22.5" r="0.33" opacity="0.16"/><circle cx="15.2" cy="38.7" r="0.44" opacity="0.20"/><circle cx="34.7" cy="25.7" r="0.35" opacity="0.23"/><circle cx="37.6" cy="32.1" r="0.43" opacity="0.20"/><circle cx="13.9" cy="60.2" r="0.42" opacity="0.08"/><circle cx="20.6" cy="45.6" r="0.34" opacity="0.24"/><circle cx="55.6" cy="42.7" r="0.57" opacity="0.20"/><circle cx="32.3" cy="21.5" r="0.59" opacity="0.24"/><circle cx="27.1" cy="35.1" r="0.32" opacity="0.18"/><circle cx="51.3" cy="35.3" r="0.39" opacity="0.18"/></g></g><g style="mix-blend-mode:screen"><ellipse cx="33.5" cy="25" rx="5.8" ry="4.4" fill="#2222ff" opacity="1" transform="rotate(15 33.5 25)" filter="url(#b06)"/><ellipse cx="10.5" cy="37.5" rx="4.3" ry="5.6" fill="#2222ff" opacity="1" filter="url(#b06)"/></g><g style="mix-blend-mode:screen"><path d="M28,20 L29,23" fill="none" stroke="#ff2212" stroke-width="1.4" stroke-linecap="round" stroke-linejoin="round" opacity="1" filter="url(#b03)"/><path d="M4,41.5 L7,44 L11,43.5 L15,44 L16.5,46" fill="none" stroke="#ff2212" stroke-width="1.6" stroke-linecap="round" stroke-linejoin="round" opacity="1" filter="url(#b03)"/><path d="M13,30 L14,33" fill="none" stroke="#ff2212" stroke-width="1.2" stroke-linecap="round" stroke-linejoin="round" opacity="1" filter="url(#b03)"/><path d="M44,34.5 L47,35" fill="none" stroke="#ff2212" stroke-width="1.2" stroke-linecap="round" stroke-linejoin="round" opacity="0.7" filter="url(#b03)"/><path d="M6,32 L7,34" fill="none" stroke="#ff2212" stroke-width="1" stroke-linecap="round" stroke-linejoin="round" opacity="0.7" filter="url(#b03)"/></g></g></g>
<g clip-path="url(#c3)" style="isolation:isolate"><rect x="294.2" y="82.8" width="63.3" height="63.0" fill="#000"/><g transform="translate(294.2 82.8) scale(0.9891 0.9844)"><path d="M14,14.5 L17.5,12.5" fill="none" stroke="#ff2212" stroke-width="1.4" stroke-linecap="round" stroke-linejoin="round" opacity="1" filter="url(#b03)"/><path d="M20,11.5 L21.8,14.5" fill="none" stroke="#ff2212" stroke-width="1.1" stroke-linecap="round" stroke-linejoin="round" opacity="0.8" filter="url(#b03)"/><path d="M28,12.5 L29.5,15.5" fill="none" stroke="#ff2212" stroke-width="1.2" stroke-linecap="round" stroke-linejoin="round" opacity="0.9" filter="url(#b03)"/><path d="M32.5,8.5 L33.5,12.5" fill="none" stroke="#ff2212" stroke-width="1.1" stroke-linecap="round" stroke-linejoin="round" opacity="0.8" filter="url(#b03)"/><path d="M32,17.5 L31.3,19.8" fill="none" stroke="#ff2212" stroke-width="1.1" stroke-linecap="round" stroke-linejoin="round" opacity="0.8" filter="url(#b03)"/><path d="M41,15.5 L45,12.5" fill="none" stroke="#ff2212" stroke-width="1.3" stroke-linecap="round" stroke-linejoin="round" opacity="1" filter="url(#b03)"/><path d="M41.5,18.5 L45,16" fill="none" stroke="#ff2212" stroke-width="1.3" stroke-linecap="round" stroke-linejoin="round" opacity="1" filter="url(#b03)"/><path d="M10.5,25 L12,28" fill="none" stroke="#ff2212" stroke-width="1.3" stroke-linecap="round" stroke-linejoin="round" opacity="0.9" filter="url(#b03)"/><path d="M18,24 L20.5,22.5" fill="none" stroke="#ff2212" stroke-width="1.2" stroke-linecap="round" stroke-linejoin="round" opacity="0.9" filter="url(#b03)"/><path d="M14,33.5 L16.3,28.8" fill="none" stroke="#ff2212" stroke-width="2.1" stroke-linecap="round" stroke-linejoin="round" opacity="1" filter="url(#b03)"/><path d="M16.5,28.5 L19.5,29.5" fill="none" stroke="#ff2212" stroke-width="1.3" stroke-linecap="round" stroke-linejoin="round" opacity="0.9" filter="url(#b03)"/><path d="M39.5,27 L41,24" fill="none" stroke="#ff2212" stroke-width="1.2" stroke-linecap="round" stroke-linejoin="round" opacity="0.8" filter="url(#b03)"/><path d="M40.5,29.5 L43.5,30.5" fill="none" stroke="#ff2212" stroke-width="1.3" stroke-linecap="round" stroke-linejoin="round" opacity="0.9" filter="url(#b03)"/><path d="M34.8,46 L36.3,43 L40.5,42.3" fill="none" stroke="#ff2212" stroke-width="2.4" stroke-linecap="round" stroke-linejoin="round" opacity="1" filter="url(#b03)"/></g></g>
<g clip-path="url(#c4)" style="isolation:isolate"><rect x="359.8" y="82.8" width="63.2" height="63.0" fill="#000"/><g transform="translate(359.8 82.8) scale(0.9875 0.9844)"><path d="M12.00,18.00 C14.33,15.67 18.00,15.67 22.00,14.00 C26.00,12.33 31.67,9.67 36.00,8.00 C40.33,6.33 44.33,4.00 48.00,4.00 C51.67,4.00 56.00,5.33 58.00,8.00 C60.00,10.67 60.33,16.33 60.00,20.00 C59.67,23.67 56.83,26.33 56.00,30.00 C55.17,33.67 56.00,37.83 55.00,42.00 C54.00,46.17 52.50,51.67 50.00,55.00 C47.50,58.33 44.17,60.67 40.00,62.00 C35.83,63.33 29.17,64.17 25.00,63.00 C20.83,61.83 17.83,58.50 15.00,55.00 C12.17,51.50 9.17,46.50 8.00,42.00 C6.83,37.50 7.33,32.00 8.00,28.00 C8.67,24.00 9.67,20.33 12.00,18.00Z" fill="#2cb81e" opacity="0.16" filter="url(#b18)"/><g fill="#3ae626" filter="url(#b03)"><circle cx="36.0" cy="21.1" r="0.31" opacity="0.50"/><circle cx="18.9" cy="19.2" r="0.48" opacity="0.49"/><circle cx="16.3" cy="53.7" r="0.57" opacity="0.65"/><circle cx="42.9" cy="49.0" r="0.55" opacity="0.51"/><circle cx="41.2" cy="56.8" r="0.35" opacity="0.41"/><circle cx="24.1" cy="52.9" r="0.69" opacity="0.27"/><circle cx="12.2" cy="18.4" r="0.44" opacity="0.57"/><circle cx="29.3" cy="48.2" r="0.44" opacity="0.42"/><circle cx="17.7" cy="42.1" r="0.53" opacity="0.62"/><circle cx="33.3" cy="59.0" r="0.41" opacity="0.27"/><circle cx="44.2" cy="43.8" r="0.61" opacity="0.60"/><circle cx="34.6" cy="28.8" r="0.40" opacity="0.24"/><circle cx="27.2" cy="29.5" r="0.63" opacity="0.48"/><circle cx="34.6" cy="26.4" r="0.58" opacity="0.34"/><circle cx="49.5" cy="42.0" r="0.61" opacity="0.34"/><circle cx="34.9" cy="46.6" r="0.73" opacity="0.43"/><circle cx="24.7" cy="44.7" r="0.35" opacity="0.31"/><circle cx="9.7" cy="36.6" r="0.41" opacity="0.35"/><circle cx="49.0" cy="41.5" r="0.32" opacity="0.38"/><circle cx="33.8" cy="54.2" r="0.42" opacity="0.60"/><circle cx="18.1" cy="38.1" r="0.51" opacity="0.20"/><circle cx="30.1" cy="61.4" r="0.47" opacity="0.56"/><circle cx="47.5" cy="49.4" r="0.58" opacity="0.64"/><circle cx="25.8" cy="32.2" r="0.50" opacity="0.18"/><circle cx="33.4" cy="49.0" r="0.56" opacity="0.22"/><circle cx="20.6" cy="32.6" r="0.35" opacity="0.24"/><circle cx="46.4" cy="10.3" r="0.35" opacity="0.21"/><circle cx="43.7" cy="37.4" r="0.64" opacity="0.57"/><circle cx="45.6" cy="34.5" r="0.44" opacity="0.47"/><circle cx="15.8" cy="17.5" r="0.61" opacity="0.47"/><circle cx="15.2" cy="30.1" r="0.57" opacity="0.25"/><circle cx="41.8" cy="12.5" r="0.37" opacity="0.36"/><circle cx="23.0" cy="46.4" r="0.49" opacity="0.29"/><circle cx="50.6" cy="53.2" r="0.65" opacity="0.19"/><circle cx="46.7" cy="31.4" r="0.34" opacity="0.66"/><circle cx="54.8" cy="30.7" r="0.68" opacity="0.46"/><circle cx="15.1" cy="32.4" r="0.64" opacity="0.13"/><circle cx="48.4" cy="24.7" r="0.53" opacity="0.31"/><circle cx="49.0" cy="32.5" r="0.50" opacity="0.16"/><circle cx="45.9" cy="14.2" r="0.57" opacity="0.12"/><circle cx="13.6" cy="41.0" r="0.43" opacity="0.47"/><circle cx="44.0" cy="24.9" r="0.54" opacity="0.35"/><circle cx="35.6" cy="55.2" r="0.59" opacity="0.49"/><circle cx="13.8" cy="40.6" r="0.49" opacity="0.28"/><circle cx="11.6" cy="43.0" r="0.49" opacity="0.19"/><circle cx="37.5" cy="55.7" r="0.72" opacity="0.17"/><circle cx="40.3" cy="40.3" r="0.52" opacity="0.34"/><circle cx="32.3" cy="24.2" r="0.48" opacity="0.22"/><circle cx="44.1" cy="54.4" r="0.74" opacity="0.34"/><circle cx="20.1" cy="19.0" r="0.31" opacity="0.51"/><circle cx="15.5" cy="33.6" r="0.69" opacity="0.53"/><circle cx="40.8" cy="49.2" r="0.57" opacity="0.60"/><circle cx="39.8" cy="17.3" r="0.33" opacity="0.66"/><circle cx="13.9" cy="35.4" r="0.69" opacity="0.61"/><circle cx="47.3" cy="6.8" r="0.31" opacity="0.42"/><circle cx="21.3" cy="51.1" r="0.67" opacity="0.58"/><circle cx="26.0" cy="45.7" r="0.65" opacity="0.25"/><circle cx="44.0" cy="25.8" r="0.63" opacity="0.23"/><circle cx="25.3" cy="45.7" r="0.69" opacity="0.45"/><circle cx="37.7" cy="8.2" r="0.51" opacity="0.24"/><circle cx="23.3" cy="27.5" r="0.52" opacity="0.31"/><circle cx="45.1" cy="11.0" r="0.32" opacity="0.53"/><circle cx="32.7" cy="61.9" r="0.58" opacity="0.45"/><circle cx="37.8" cy="10.0" r="0.59" opacity="0.36"/><circle cx="28.3" cy="35.5" r="0.69" opacity="0.16"/><circle cx="32.7" cy="30.7" r="0.31" opacity="0.30"/><circle cx="16.3" cy="19.6" r="0.44" opacity="0.38"/><circle cx="26.8" cy="43.3" r="0.44" opacity="0.36"/><circle cx="51.7" cy="10.7" r="0.66" opacity="0.49"/><circle cx="49.6" cy="50.2" r="0.50" opacity="0.35"/><circle cx="37.2" cy="42.1" r="0.48" opacity="0.68"/><circle cx="33.3" cy="27.4" r="0.65" opacity="0.41"/><circle cx="29.6" cy="24.9" r="0.63" opacity="0.25"/><circle cx="47.6" cy="22.6" r="0.35" opacity="0.18"/><circle cx="28.2" cy="43.9" r="0.68" opacity="0.13"/><circle cx="55.0" cy="36.5" r="0.33" opacity="0.37"/><circle cx="29.0" cy="11.2" r="0.33" opacity="0.32"/><circle cx="16.7" cy="33.2" r="0.54" opacity="0.50"/><circle cx="30.5" cy="26.8" r="0.51" opacity="0.40"/><circle cx="12.4" cy="47.4" r="0.63" opacity="0.16"/><circle cx="30.7" cy="58.1" r="0.62" opacity="0.31"/><circle cx="51.1" cy="42.9" r="0.73" opacity="0.60"/><circle cx="12.3" cy="33.8" r="0.63" opacity="0.61"/><circle cx="48.6" cy="50.5" r="0.40" opacity="0.38"/><circle cx="26.5" cy="19.6" r="0.35" opacity="0.15"/><circle cx="44.5" cy="20.3" r="0.73" opacity="0.15"/><circle cx="55.1" cy="7.7" r="0.44" opacity="0.13"/><circle cx="30.9" cy="43.6" r="0.69" opacity="0.48"/><circle cx="9.6" cy="32.2" r="0.72" opacity="0.50"/><circle cx="41.9" cy="21.0" r="0.61" opacity="0.55"/><circle cx="41.7" cy="57.0" r="0.39" opacity="0.21"/><circle cx="39.9" cy="50.4" r="0.66" opacity="0.33"/><circle cx="38.0" cy="30.7" r="0.64" opacity="0.20"/><circle cx="28.9" cy="22.4" r="0.72" opacity="0.68"/><circle cx="33.6" cy="45.7" r="0.47" opacity="0.29"/><circle cx="39.4" cy="23.6" r="0.71" opacity="0.54"/><circle cx="27.2" cy="22.9" r="0.34" opacity="0.50"/><circle cx="40.7" cy="53.4" r="0.42" opacity="0.63"/><circle cx="34.6" cy="54.8" r="0.74" opacity="0.59"/><circle cx="49.6" cy="15.0" r="0.58" opacity="0.51"/><circle cx="40.5" cy="51.9" r="0.46" opacity="0.68"/><circle cx="31.5" cy="44.6" r="0.40" opacity="0.67"/><circle cx="40.5" cy="31.8" r="0.57" opacity="0.49"/><circle cx="9.2" cy="33.3" r="0.69" opacity="0.44"/><circle cx="35.6" cy="35.8" r="0.42" opacity="0.56"/><circle cx="26.7" cy="30.6" r="0.43" opacity="0.23"/><circle cx="52.9" cy="30.0" r="0.66" opacity="0.64"/><circle cx="40.8" cy="9.0" r="0.56" opacity="0.19"/><circle cx="18.4" cy="54.9" r="0.39" opacity="0.67"/><circle cx="9.5" cy="39.3" r="0.40" opacity="0.70"/><circle cx="12.8" cy="41.9" r="0.44" opacity="0.35"/><circle cx="50.4" cy="41.1" r="0.65" opacity="0.41"/><circle cx="31.5" cy="49.1" r="0.66" opacity="0.14"/><circle cx="15.2" cy="24.2" r="0.42" opacity="0.18"/><circle cx="12.9" cy="49.0" r="0.72" opacity="0.23"/><circle cx="43.9" cy="12.2" r="0.69" opacity="0.57"/><circle cx="35.1" cy="44.2" r="0.49" opacity="0.57"/><circle cx="44.5" cy="9.5" r="0.60" opacity="0.66"/><circle cx="23.9" cy="49.1" r="0.51" opacity="0.53"/><circle cx="55.4" cy="10.5" r="0.74" opacity="0.52"/><circle cx="10.2" cy="34.4" r="0.68" opacity="0.46"/><circle cx="49.0" cy="40.7" r="0.38" opacity="0.62"/><circle cx="45.9" cy="48.6" r="0.37" opacity="0.32"/><circle cx="41.6" cy="45.7" r="0.72" opacity="0.32"/><circle cx="11.4" cy="26.1" r="0.40" opacity="0.60"/><circle cx="42.4" cy="38.4" r="0.61" opacity="0.24"/><circle cx="49.0" cy="31.9" r="0.73" opacity="0.49"/><circle cx="33.0" cy="10.2" r="0.44" opacity="0.30"/><circle cx="19.7" cy="43.3" r="0.48" opacity="0.65"/><circle cx="46.7" cy="27.3" r="0.42" opacity="0.37"/><circle cx="42.7" cy="48.1" r="0.67" opacity="0.63"/><circle cx="49.6" cy="20.9" r="0.51" opacity="0.45"/><circle cx="42.8" cy="33.6" r="0.33" opacity="0.49"/><circle cx="21.2" cy="15.5" r="0.31" opacity="0.41"/><circle cx="14.1" cy="22.8" r="0.75" opacity="0.12"/><circle cx="39.0" cy="34.6" r="0.73" opacity="0.36"/><circle cx="34.5" cy="15.2" r="0.60" opacity="0.50"/><circle cx="22.2" cy="51.5" r="0.52" opacity="0.35"/><circle cx="33.6" cy="24.4" r="0.54" opacity="0.25"/><circle cx="13.8" cy="37.9" r="0.68" opacity="0.68"/><circle cx="21.7" cy="43.4" r="0.72" opacity="0.57"/><circle cx="24.8" cy="42.4" r="0.69" opacity="0.32"/><circle cx="45.1" cy="10.2" r="0.39" opacity="0.67"/><circle cx="39.6" cy="12.2" r="0.31" opacity="0.25"/><circle cx="34.6" cy="21.1" r="0.61" opacity="0.15"/><circle cx="10.3" cy="31.3" r="0.47" opacity="0.15"/><circle cx="21.3" cy="60.0" r="0.72" opacity="0.43"/><circle cx="18.0" cy="32.5" r="0.57" opacity="0.13"/><circle cx="51.2" cy="22.9" r="0.43" opacity="0.19"/><circle cx="39.8" cy="16.2" r="0.65" opacity="0.46"/><circle cx="40.0" cy="37.9" r="0.33" opacity="0.20"/><circle cx="56.3" cy="21.4" r="0.50" opacity="0.26"/><circle cx="22.7" cy="19.3" r="0.72" opacity="0.34"/><circle cx="29.3" cy="11.4" r="0.52" opacity="0.36"/><circle cx="15.0" cy="45.7" r="0.60" opacity="0.17"/><circle cx="27.3" cy="23.0" r="0.52" opacity="0.64"/><circle cx="45.6" cy="22.6" r="0.62" opacity="0.46"/><circle cx="44.5" cy="27.6" r="0.50" opacity="0.70"/><circle cx="10.7" cy="44.6" r="0.53" opacity="0.21"/><circle cx="40.3" cy="6.6" r="0.41" opacity="0.32"/><circle cx="50.2" cy="47.6" r="0.47" opacity="0.49"/><circle cx="51.1" cy="13.0" r="0.44" opacity="0.29"/><circle cx="28.1" cy="34.5" r="0.38" opacity="0.58"/><circle cx="52.5" cy="31.1" r="0.45" opacity="0.42"/><circle cx="24.7" cy="24.3" r="0.38" opacity="0.18"/><circle cx="53.7" cy="26.5" r="0.38" opacity="0.16"/><circle cx="12.3" cy="35.8" r="0.70" opacity="0.52"/><circle cx="25.0" cy="19.9" r="0.53" opacity="0.40"/><circle cx="13.2" cy="42.5" r="0.33" opacity="0.66"/><circle cx="36.6" cy="16.7" r="0.57" opacity="0.45"/><circle cx="43.4" cy="15.0" r="0.56" opacity="0.54"/><circle cx="12.4" cy="36.0" r="0.37" opacity="0.70"/><circle cx="54.9" cy="10.8" r="0.38" opacity="0.47"/><circle cx="54.2" cy="41.4" r="0.36" opacity="0.56"/><circle cx="13.5" cy="44.3" r="0.65" opacity="0.34"/><circle cx="24.4" cy="35.1" r="0.59" opacity="0.31"/><circle cx="38.2" cy="29.1" r="0.43" opacity="0.50"/><circle cx="13.7" cy="45.1" r="0.71" opacity="0.60"/><circle cx="45.5" cy="8.8" r="0.40" opacity="0.14"/><circle cx="28.2" cy="23.6" r="0.74" opacity="0.13"/><circle cx="18.6" cy="35.6" r="0.42" opacity="0.70"/><circle cx="44.7" cy="49.0" r="0.67" opacity="0.42"/><circle cx="24.0" cy="38.7" r="0.50" opacity="0.22"/><circle cx="50.5" cy="44.7" r="0.30" opacity="0.67"/><circle cx="47.1" cy="40.9" r="0.70" opacity="0.13"/><circle cx="51.4" cy="31.9" r="0.34" opacity="0.43"/><circle cx="26.2" cy="57.8" r="0.74" opacity="0.39"/><circle cx="46.2" cy="6.2" r="0.38" opacity="0.63"/><circle cx="35.7" cy="50.6" r="0.69" opacity="0.30"/><circle cx="39.8" cy="32.8" r="0.40" opacity="0.19"/><circle cx="29.8" cy="44.8" r="0.45" opacity="0.18"/><circle cx="46.1" cy="47.2" r="0.50" opacity="0.38"/><circle cx="27.4" cy="49.3" r="0.37" opacity="0.21"/><circle cx="21.8" cy="19.4" r="0.56" opacity="0.17"/><circle cx="39.2" cy="50.6" r="0.58" opacity="0.30"/><circle cx="14.9" cy="24.1" r="0.69" opacity="0.44"/><circle cx="58.0" cy="12.0" r="0.60" opacity="0.14"/><circle cx="43.2" cy="55.1" r="0.36" opacity="0.60"/><circle cx="51.5" cy="11.6" r="0.55" opacity="0.22"/><circle cx="10.9" cy="28.5" r="0.75" opacity="0.15"/><circle cx="50.3" cy="26.1" r="0.44" opacity="0.46"/><circle cx="27.6" cy="49.4" r="0.47" opacity="0.40"/><circle cx="16.0" cy="45.9" r="0.43" opacity="0.33"/><circle cx="39.2" cy="57.6" r="0.48" opacity="0.33"/><circle cx="44.9" cy="29.1" r="0.66" opacity="0.49"/><circle cx="14.1" cy="24.4" r="0.38" opacity="0.16"/><circle cx="36.9" cy="33.6" r="0.33" opacity="0.13"/><circle cx="26.0" cy="14.4" r="0.49" opacity="0.23"/><circle cx="29.4" cy="42.3" r="0.51" opacity="0.22"/><circle cx="41.8" cy="47.3" r="0.59" opacity="0.58"/><circle cx="42.7" cy="56.9" r="0.62" opacity="0.31"/><circle cx="8.4" cy="34.4" r="0.60" opacity="0.42"/><circle cx="23.2" cy="52.2" r="0.49" opacity="0.61"/><circle cx="14.8" cy="23.5" r="0.62" opacity="0.54"/><circle cx="10.2" cy="34.1" r="0.69" opacity="0.68"/><circle cx="12.1" cy="25.4" r="0.74" opacity="0.46"/><circle cx="22.1" cy="41.0" r="0.58" opacity="0.67"/><circle cx="31.8" cy="55.9" r="0.61" opacity="0.17"/><circle cx="28.5" cy="23.2" r="0.68" opacity="0.40"/><circle cx="8.0" cy="31.0" r="0.45" opacity="0.56"/><circle cx="38.1" cy="32.9" r="0.71" opacity="0.67"/><circle cx="26.1" cy="58.0" r="0.42" opacity="0.63"/><circle cx="39.9" cy="24.1" r="0.70" opacity="0.49"/><circle cx="38.3" cy="13.5" r="0.63" opacity="0.23"/><circle cx="53.2" cy="45.9" r="0.60" opacity="0.13"/><circle cx="8.4" cy="33.7" r="0.62" opacity="0.60"/><circle cx="18.6" cy="26.6" r="0.75" opacity="0.65"/><circle cx="47.3" cy="25.9" r="0.46" opacity="0.13"/><circle cx="51.2" cy="41.5" r="0.65" opacity="0.40"/><circle cx="22.1" cy="25.9" r="0.64" opacity="0.67"/><circle cx="17.1" cy="37.8" r="0.66" opacity="0.61"/><circle cx="38.7" cy="19.1" r="0.67" opacity="0.31"/><circle cx="40.5" cy="22.7" r="0.33" opacity="0.30"/><circle cx="28.3" cy="46.8" r="0.36" opacity="0.32"/><circle cx="27.7" cy="26.1" r="0.32" opacity="0.32"/><circle cx="49.4" cy="40.9" r="0.46" opacity="0.51"/><circle cx="44.8" cy="43.5" r="0.64" opacity="0.37"/><circle cx="36.0" cy="22.5" r="0.32" opacity="0.32"/><circle cx="42.8" cy="19.2" r="0.69" opacity="0.16"/><circle cx="51.6" cy="10.6" r="0.71" opacity="0.35"/><circle cx="41.4" cy="31.2" r="0.70" opacity="0.49"/><circle cx="12.6" cy="46.8" r="0.72" opacity="0.62"/><circle cx="46.5" cy="30.9" r="0.64" opacity="0.23"/><circle cx="37.0" cy="58.9" r="0.60" opacity="0.45"/><circle cx="43.8" cy="30.1" r="0.50" opacity="0.38"/><circle cx="17.7" cy="23.4" r="0.73" opacity="0.28"/><circle cx="28.5" cy="38.0" r="0.48" opacity="0.54"/><circle cx="24.2" cy="35.3" r="0.61" opacity="0.16"/><circle cx="44.3" cy="41.1" r="0.52" opacity="0.32"/><circle cx="30.0" cy="19.9" r="0.56" opacity="0.13"/><circle cx="35.1" cy="41.5" r="0.40" opacity="0.20"/><circle cx="38.3" cy="32.4" r="0.61" opacity="0.22"/><circle cx="52.3" cy="37.6" r="0.73" opacity="0.63"/><circle cx="42.2" cy="28.0" r="0.63" opacity="0.46"/><circle cx="8.0" cy="30.7" r="0.64" opacity="0.29"/><circle cx="27.8" cy="50.3" r="0.69" opacity="0.66"/><circle cx="19.6" cy="41.8" r="0.34" opacity="0.31"/><circle cx="46.3" cy="37.5" r="0.75" opacity="0.32"/><circle cx="17.4" cy="54.4" r="0.39" opacity="0.30"/><circle cx="37.2" cy="51.1" r="0.56" opacity="0.56"/><circle cx="38.0" cy="53.8" r="0.74" opacity="0.23"/><circle cx="17.2" cy="27.9" r="0.74" opacity="0.60"/><circle cx="8.5" cy="29.8" r="0.39" opacity="0.20"/><circle cx="58.2" cy="16.2" r="0.41" opacity="0.25"/><circle cx="20.4" cy="38.1" r="0.47" opacity="0.55"/><circle cx="42.4" cy="35.5" r="0.37" opacity="0.41"/><circle cx="54.8" cy="21.8" r="0.68" opacity="0.23"/><circle cx="44.9" cy="21.9" r="0.63" opacity="0.70"/><circle cx="54.0" cy="8.0" r="0.62" opacity="0.54"/><circle cx="12.0" cy="28.6" r="0.68" opacity="0.28"/><circle cx="19.8" cy="16.4" r="0.52" opacity="0.61"/><circle cx="23.0" cy="43.8" r="0.32" opacity="0.28"/><circle cx="16.9" cy="26.1" r="0.47" opacity="0.52"/><circle cx="16.0" cy="26.5" r="0.38" opacity="0.58"/><circle cx="38.3" cy="60.0" r="0.47" opacity="0.26"/><circle cx="11.9" cy="45.8" r="0.41" opacity="0.40"/><circle cx="35.9" cy="29.6" r="0.74" opacity="0.61"/><circle cx="10.2" cy="36.6" r="0.66" opacity="0.67"/><circle cx="21.7" cy="28.6" r="0.36" opacity="0.52"/><circle cx="24.5" cy="17.6" r="0.31" opacity="0.23"/><circle cx="49.2" cy="47.7" r="0.50" opacity="0.43"/><circle cx="24.1" cy="45.6" r="0.40" opacity="0.45"/><circle cx="34.2" cy="24.7" r="0.67" opacity="0.62"/><circle cx="48.7" cy="39.7" r="0.61" opacity="0.50"/><circle cx="44.5" cy="52.7" r="0.46" opacity="0.67"/><circle cx="27.2" cy="39.4" r="0.69" opacity="0.22"/><circle cx="20.1" cy="59.0" r="0.66" opacity="0.17"/><circle cx="28.1" cy="45.9" r="0.65" opacity="0.70"/><circle cx="38.9" cy="16.6" r="0.68" opacity="0.28"/><circle cx="24.7" cy="30.0" r="0.61" opacity="0.38"/><circle cx="22.3" cy="17.8" r="0.40" opacity="0.38"/><circle cx="56.2" cy="7.3" r="0.35" opacity="0.22"/><circle cx="23.1" cy="21.2" r="0.48" opacity="0.65"/><circle cx="36.6" cy="45.5" r="0.36" opacity="0.45"/><circle cx="19.3" cy="52.5" r="0.75" opacity="0.46"/><circle cx="48.4" cy="42.5" r="0.51" opacity="0.19"/><circle cx="41.9" cy="46.1" r="0.43" opacity="0.38"/><circle cx="46.5" cy="43.2" r="0.33" opacity="0.29"/><circle cx="10.9" cy="31.1" r="0.38" opacity="0.47"/><circle cx="44.1" cy="51.0" r="0.40" opacity="0.27"/><circle cx="51.7" cy="23.4" r="0.45" opacity="0.65"/><circle cx="14.0" cy="24.1" r="0.43" opacity="0.57"/><circle cx="14.7" cy="22.9" r="0.68" opacity="0.39"/><circle cx="39.4" cy="57.6" r="0.45" opacity="0.33"/><circle cx="45.1" cy="39.0" r="0.49" opacity="0.23"/><circle cx="41.0" cy="35.9" r="0.30" opacity="0.41"/><circle cx="33.1" cy="53.3" r="0.60" opacity="0.55"/><circle cx="35.0" cy="39.1" r="0.53" opacity="0.13"/><circle cx="16.9" cy="54.6" r="0.34" opacity="0.22"/><circle cx="39.0" cy="44.2" r="0.57" opacity="0.14"/><circle cx="33.4" cy="55.2" r="0.69" opacity="0.46"/><circle cx="13.1" cy="27.6" r="0.56" opacity="0.53"/><circle cx="17.3" cy="26.8" r="0.41" opacity="0.57"/><circle cx="49.0" cy="51.8" r="0.54" opacity="0.40"/><circle cx="32.1" cy="54.8" r="0.54" opacity="0.49"/><circle cx="36.6" cy="19.6" r="0.49" opacity="0.27"/><circle cx="29.8" cy="21.5" r="0.39" opacity="0.14"/><circle cx="47.3" cy="52.5" r="0.45" opacity="0.28"/><circle cx="15.9" cy="45.6" r="0.42" opacity="0.46"/><circle cx="45.8" cy="17.6" r="0.70" opacity="0.39"/><circle cx="46.6" cy="43.4" r="0.31" opacity="0.15"/><circle cx="46.3" cy="25.8" r="0.53" opacity="0.22"/><circle cx="27.6" cy="44.5" r="0.42" opacity="0.21"/><circle cx="42.0" cy="6.2" r="0.59" opacity="0.65"/><circle cx="30.8" cy="34.2" r="0.35" opacity="0.31"/><circle cx="27.9" cy="43.9" r="0.33" opacity="0.36"/><circle cx="51.9" cy="8.9" r="0.57" opacity="0.34"/><circle cx="15.9" cy="21.2" r="0.34" opacity="0.56"/><circle cx="33.7" cy="32.1" r="0.59" opacity="0.22"/><circle cx="32.1" cy="28.2" r="0.40" opacity="0.56"/><circle cx="39.3" cy="55.0" r="0.51" opacity="0.65"/><circle cx="31.7" cy="25.4" r="0.57" opacity="0.30"/><circle cx="39.7" cy="39.6" r="0.49" opacity="0.42"/><circle cx="47.9" cy="9.0" r="0.55" opacity="0.13"/><circle cx="31.5" cy="30.7" r="0.56" opacity="0.70"/><circle cx="45.0" cy="37.7" r="0.33" opacity="0.39"/><circle cx="12.7" cy="47.5" r="0.70" opacity="0.44"/><circle cx="41.8" cy="30.4" r="0.75" opacity="0.19"/><circle cx="41.5" cy="51.8" r="0.40" opacity="0.55"/><circle cx="30.9" cy="24.8" r="0.43" opacity="0.65"/><circle cx="13.1" cy="40.1" r="0.60" opacity="0.19"/><circle cx="28.9" cy="22.8" r="0.65" opacity="0.52"/><circle cx="37.0" cy="60.3" r="0.51" opacity="0.57"/><circle cx="20.6" cy="38.9" r="0.38" opacity="0.29"/><circle cx="29.8" cy="33.0" r="0.70" opacity="0.69"/><circle cx="22.1" cy="59.5" r="0.51" opacity="0.61"/><circle cx="18.0" cy="24.5" r="0.36" opacity="0.64"/><circle cx="10.3" cy="24.8" r="0.52" opacity="0.51"/><circle cx="21.2" cy="25.8" r="0.36" opacity="0.41"/><circle cx="40.5" cy="40.8" r="0.44" opacity="0.58"/><circle cx="49.9" cy="41.6" r="0.61" opacity="0.56"/><circle cx="22.1" cy="44.2" r="0.57" opacity="0.17"/><circle cx="17.3" cy="43.8" r="0.69" opacity="0.64"/><circle cx="55.0" cy="22.3" r="0.37" opacity="0.41"/><circle cx="27.5" cy="27.6" r="0.38" opacity="0.19"/><circle cx="47.0" cy="31.8" r="0.42" opacity="0.19"/><circle cx="17.7" cy="21.3" r="0.42" opacity="0.37"/><circle cx="31.0" cy="54.1" r="0.68" opacity="0.17"/><circle cx="23.6" cy="16.0" r="0.40" opacity="0.55"/><circle cx="37.9" cy="20.2" r="0.45" opacity="0.70"/><circle cx="29.2" cy="17.5" r="0.63" opacity="0.47"/><circle cx="25.7" cy="45.5" r="0.56" opacity="0.63"/><circle cx="12.6" cy="42.0" r="0.64" opacity="0.55"/><circle cx="45.6" cy="17.9" r="0.60" opacity="0.63"/><circle cx="26.4" cy="62.1" r="0.36" opacity="0.66"/><circle cx="45.0" cy="41.9" r="0.66" opacity="0.62"/><circle cx="8.7" cy="43.3" r="0.51" opacity="0.35"/><circle cx="24.5" cy="16.4" r="0.49" opacity="0.18"/><circle cx="20.5" cy="19.8" r="0.41" opacity="0.18"/><circle cx="35.2" cy="60.1" r="0.61" opacity="0.30"/><circle cx="31.5" cy="11.2" r="0.69" opacity="0.24"/><circle cx="30.3" cy="48.9" r="0.61" opacity="0.70"/><circle cx="46.1" cy="34.5" r="0.73" opacity="0.53"/><circle cx="53.6" cy="43.8" r="0.35" opacity="0.37"/><circle cx="22.2" cy="52.4" r="0.60" opacity="0.40"/><circle cx="16.9" cy="52.6" r="0.60" opacity="0.66"/><circle cx="47.6" cy="18.0" r="0.70" opacity="0.30"/><circle cx="12.2" cy="32.6" r="0.73" opacity="0.52"/><circle cx="14.4" cy="25.5" r="0.38" opacity="0.60"/><circle cx="46.2" cy="13.4" r="0.66" opacity="0.12"/><circle cx="13.5" cy="45.0" r="0.34" opacity="0.35"/><circle cx="17.1" cy="56.0" r="0.75" opacity="0.42"/><circle cx="18.6" cy="48.0" r="0.53" opacity="0.68"/><circle cx="35.1" cy="61.1" r="0.71" opacity="0.64"/><circle cx="48.7" cy="27.2" r="0.72" opacity="0.16"/><circle cx="39.5" cy="9.0" r="0.74" opacity="0.38"/><circle cx="55.6" cy="31.8" r="0.32" opacity="0.65"/><circle cx="39.9" cy="44.2" r="0.48" opacity="0.16"/><circle cx="42.6" cy="12.2" r="0.53" opacity="0.26"/><circle cx="35.4" cy="38.0" r="0.42" opacity="0.58"/><circle cx="50.5" cy="32.5" r="0.43" opacity="0.37"/><circle cx="32.2" cy="16.4" r="0.63" opacity="0.18"/><circle cx="35.9" cy="38.4" r="0.68" opacity="0.35"/><circle cx="13.1" cy="34.7" r="0.49" opacity="0.21"/><circle cx="40.9" cy="15.7" r="0.68" opacity="0.15"/><circle cx="31.9" cy="56.4" r="0.50" opacity="0.23"/><circle cx="55.9" cy="11.9" r="0.31" opacity="0.49"/><circle cx="34.1" cy="19.1" r="0.46" opacity="0.21"/><circle cx="29.0" cy="41.3" r="0.46" opacity="0.17"/><circle cx="32.6" cy="60.0" r="0.32" opacity="0.57"/><circle cx="35.4" cy="55.3" r="0.39" opacity="0.62"/><circle cx="52.6" cy="46.0" r="0.66" opacity="0.34"/><circle cx="52.7" cy="33.4" r="0.42" opacity="0.33"/><circle cx="20.6" cy="36.7" r="0.53" opacity="0.28"/><circle cx="20.8" cy="37.1" r="0.43" opacity="0.36"/><circle cx="56.0" cy="7.6" r="0.63" opacity="0.36"/><circle cx="38.3" cy="44.3" r="0.57" opacity="0.17"/><circle cx="38.2" cy="31.3" r="0.57" opacity="0.13"/><circle cx="19.0" cy="16.6" r="0.68" opacity="0.15"/><circle cx="32.3" cy="56.1" r="0.74" opacity="0.29"/><circle cx="57.0" cy="8.4" r="0.72" opacity="0.36"/><circle cx="10.7" cy="46.6" r="0.56" opacity="0.16"/><circle cx="52.2" cy="24.0" r="0.37" opacity="0.38"/><circle cx="14.6" cy="20.6" r="0.33" opacity="0.32"/><circle cx="41.5" cy="31.0" r="0.47" opacity="0.46"/><circle cx="19.4" cy="30.4" r="0.56" opacity="0.48"/><circle cx="27.6" cy="22.5" r="0.65" opacity="0.48"/><circle cx="48.6" cy="41.5" r="0.48" opacity="0.45"/><circle cx="51.4" cy="13.2" r="0.61" opacity="0.61"/><circle cx="22.4" cy="59.2" r="0.74" opacity="0.23"/><circle cx="22.5" cy="16.3" r="0.34" opacity="0.67"/><circle cx="42.5" cy="13.3" r="0.42" opacity="0.28"/><circle cx="30.4" cy="41.4" r="0.74" opacity="0.60"/><circle cx="48.8" cy="39.2" r="0.74" opacity="0.57"/><circle cx="51.6" cy="23.8" r="0.47" opacity="0.48"/><circle cx="22.1" cy="23.8" r="0.57" opacity="0.51"/><circle cx="23.6" cy="31.6" r="0.54" opacity="0.36"/><circle cx="45.4" cy="18.9" r="0.56" opacity="0.69"/><circle cx="31.9" cy="42.2" r="0.54" opacity="0.58"/><circle cx="52.6" cy="10.6" r="0.64" opacity="0.62"/><circle cx="14.7" cy="19.4" r="0.75" opacity="0.36"/><circle cx="35.0" cy="22.6" r="0.67" opacity="0.46"/><circle cx="27.9" cy="27.7" r="0.44" opacity="0.49"/><circle cx="27.6" cy="34.4" r="0.44" opacity="0.57"/><circle cx="47.6" cy="16.9" r="0.42" opacity="0.37"/><circle cx="22.3" cy="43.9" r="0.44" opacity="0.47"/><circle cx="20.2" cy="52.5" r="0.61" opacity="0.51"/><circle cx="30.9" cy="42.4" r="0.40" opacity="0.16"/><circle cx="49.6" cy="44.9" r="0.39" opacity="0.37"/><circle cx="32.9" cy="31.4" r="0.39" opacity="0.34"/><circle cx="48.4" cy="51.8" r="0.59" opacity="0.48"/><circle cx="44.5" cy="16.1" r="0.44" opacity="0.23"/><circle cx="41.8" cy="20.1" r="0.53" opacity="0.30"/><circle cx="37.0" cy="29.1" r="0.40" opacity="0.70"/><circle cx="22.3" cy="47.2" r="0.59" opacity="0.18"/><circle cx="43.0" cy="27.1" r="0.60" opacity="0.34"/><circle cx="37.5" cy="42.0" r="0.66" opacity="0.21"/><circle cx="47.9" cy="33.4" r="0.35" opacity="0.29"/><circle cx="47.2" cy="30.3" r="0.36" opacity="0.46"/><circle cx="21.3" cy="44.2" r="0.47" opacity="0.20"/><circle cx="31.2" cy="13.1" r="0.50" opacity="0.54"/><circle cx="24.0" cy="19.6" r="0.42" opacity="0.37"/><circle cx="15.1" cy="33.4" r="0.64" opacity="0.45"/><circle cx="29.4" cy="22.7" r="0.45" opacity="0.14"/><circle cx="18.7" cy="17.2" r="0.38" opacity="0.13"/><circle cx="17.6" cy="33.8" r="0.60" opacity="0.27"/><circle cx="24.5" cy="55.8" r="0.74" opacity="0.35"/><circle cx="33.7" cy="19.5" r="0.70" opacity="0.15"/><circle cx="51.9" cy="44.7" r="0.50" opacity="0.52"/><circle cx="53.8" cy="39.0" r="0.35" opacity="0.42"/><circle cx="25.9" cy="54.8" r="0.57" opacity="0.20"/><circle cx="22.3" cy="59.2" r="0.72" opacity="0.42"/><circle cx="12.4" cy="37.6" r="0.40" opacity="0.67"/><circle cx="33.4" cy="18.5" r="0.47" opacity="0.63"/><circle cx="39.3" cy="51.5" r="0.39" opacity="0.51"/><circle cx="11.3" cy="42.5" r="0.58" opacity="0.65"/><circle cx="52.0" cy="31.8" r="0.44" opacity="0.54"/><circle cx="28.6" cy="29.3" r="0.66" opacity="0.36"/><circle cx="15.3" cy="43.7" r="0.68" opacity="0.53"/><circle cx="33.8" cy="56.4" r="0.40" opacity="0.60"/><circle cx="20.9" cy="47.0" r="0.73" opacity="0.69"/><circle cx="28.5" cy="32.2" r="0.43" opacity="0.65"/><circle cx="14.0" cy="45.2" r="0.51" opacity="0.16"/><circle cx="51.6" cy="10.2" r="0.55" opacity="0.18"/><circle cx="20.7" cy="27.8" r="0.74" opacity="0.41"/><circle cx="36.1" cy="32.2" r="0.74" opacity="0.35"/><circle cx="44.2" cy="30.8" r="0.61" opacity="0.37"/><circle cx="48.8" cy="29.5" r="0.49" opacity="0.59"/><circle cx="20.1" cy="55.7" r="0.43" opacity="0.41"/><circle cx="36.5" cy="40.3" r="0.63" opacity="0.16"/><circle cx="49.4" cy="15.4" r="0.71" opacity="0.35"/><circle cx="42.8" cy="23.5" r="0.45" opacity="0.62"/><circle cx="17.7" cy="25.9" r="0.44" opacity="0.42"/><circle cx="46.3" cy="24.8" r="0.71" opacity="0.60"/><circle cx="16.5" cy="52.5" r="0.54" opacity="0.36"/><circle cx="30.9" cy="52.2" r="0.36" opacity="0.57"/><circle cx="47.8" cy="28.2" r="0.71" opacity="0.38"/><circle cx="33.7" cy="45.5" r="0.43" opacity="0.60"/><circle cx="46.6" cy="37.8" r="0.59" opacity="0.37"/><circle cx="15.8" cy="30.2" r="0.60" opacity="0.22"/><circle cx="44.4" cy="52.5" r="0.63" opacity="0.47"/><circle cx="51.9" cy="34.9" r="0.40" opacity="0.36"/><circle cx="52.2" cy="11.3" r="0.65" opacity="0.23"/><circle cx="55.5" cy="17.6" r="0.61" opacity="0.35"/><circle cx="20.3" cy="21.0" r="0.55" opacity="0.65"/><circle cx="26.6" cy="31.8" r="0.68" opacity="0.67"/><circle cx="30.6" cy="58.4" r="0.50" opacity="0.64"/><circle cx="39.8" cy="54.8" r="0.55" opacity="0.15"/><circle cx="32.9" cy="41.5" r="0.41" opacity="0.43"/><circle cx="41.5" cy="51.4" r="0.68" opacity="0.15"/><circle cx="19.1" cy="41.1" r="0.43" opacity="0.37"/><circle cx="40.2" cy="37.5" r="0.41" opacity="0.47"/><circle cx="10.3" cy="28.5" r="0.68" opacity="0.65"/><circle cx="9.7" cy="37.4" r="0.71" opacity="0.22"/><circle cx="20.3" cy="48.5" r="0.56" opacity="0.37"/><circle cx="40.9" cy="48.5" r="0.54" opacity="0.18"/><circle cx="44.4" cy="54.2" r="0.46" opacity="0.61"/><circle cx="13.1" cy="24.8" r="0.35" opacity="0.17"/><circle cx="52.8" cy="30.7" r="0.36" opacity="0.54"/><circle cx="10.1" cy="45.2" r="0.35" opacity="0.62"/><circle cx="42.4" cy="59.1" r="0.50" opacity="0.26"/><circle cx="44.2" cy="41.2" r="0.43" opacity="0.37"/><circle cx="21.4" cy="31.3" r="0.43" opacity="0.61"/><circle cx="28.0" cy="59.0" r="0.46" opacity="0.51"/><circle cx="32.5" cy="54.7" r="0.60" opacity="0.20"/><circle cx="50.2" cy="6.9" r="0.70" opacity="0.40"/><circle cx="33.7" cy="21.7" r="0.71" opacity="0.23"/><circle cx="25.9" cy="18.9" r="0.48" opacity="0.51"/><circle cx="21.2" cy="45.5" r="0.51" opacity="0.53"/><circle cx="56.1" cy="23.2" r="0.56" opacity="0.34"/><circle cx="13.1" cy="19.1" r="0.46" opacity="0.41"/><circle cx="12.3" cy="18.6" r="0.32" opacity="0.68"/><circle cx="16.7" cy="46.5" r="0.68" opacity="0.27"/><circle cx="28.2" cy="49.4" r="0.53" opacity="0.70"/><circle cx="51.4" cy="31.8" r="0.38" opacity="0.46"/><circle cx="58.7" cy="12.5" r="0.38" opacity="0.27"/><circle cx="36.0" cy="15.7" r="0.40" opacity="0.49"/><circle cx="11.4" cy="22.4" r="0.59" opacity="0.17"/><circle cx="31.8" cy="44.7" r="0.75" opacity="0.50"/><circle cx="23.3" cy="34.8" r="0.31" opacity="0.33"/><circle cx="51.8" cy="37.0" r="0.40" opacity="0.49"/><circle cx="35.8" cy="45.5" r="0.47" opacity="0.44"/><circle cx="50.3" cy="25.5" r="0.52" opacity="0.37"/><circle cx="45.6" cy="55.0" r="0.67" opacity="0.18"/><circle cx="56.9" cy="13.4" r="0.45" opacity="0.36"/><circle cx="56.0" cy="26.9" r="0.35" opacity="0.27"/><circle cx="11.5" cy="25.0" r="0.72" opacity="0.61"/><circle cx="27.9" cy="31.4" r="0.75" opacity="0.51"/><circle cx="57.1" cy="26.7" r="0.70" opacity="0.57"/><circle cx="52.7" cy="19.3" r="0.40" opacity="0.50"/><circle cx="14.7" cy="26.4" r="0.62" opacity="0.14"/><circle cx="53.6" cy="22.4" r="0.37" opacity="0.19"/><circle cx="48.6" cy="12.8" r="0.43" opacity="0.49"/><circle cx="26.3" cy="59.2" r="0.71" opacity="0.28"/><circle cx="35.2" cy="58.6" r="0.55" opacity="0.63"/><circle cx="38.8" cy="43.7" r="0.33" opacity="0.23"/><circle cx="45.7" cy="33.5" r="0.30" opacity="0.37"/><circle cx="56.7" cy="17.7" r="0.54" opacity="0.60"/><circle cx="25.3" cy="46.0" r="0.62" opacity="0.13"/><circle cx="32.3" cy="56.2" r="0.50" opacity="0.27"/><circle cx="25.4" cy="61.4" r="0.41" opacity="0.57"/><circle cx="26.9" cy="20.4" r="0.32" opacity="0.47"/><circle cx="9.0" cy="33.3" r="0.52" opacity="0.42"/><circle cx="12.4" cy="35.1" r="0.35" opacity="0.59"/><circle cx="38.4" cy="31.6" r="0.46" opacity="0.70"/><circle cx="39.2" cy="27.7" r="0.49" opacity="0.45"/><circle cx="18.1" cy="46.6" r="0.56" opacity="0.22"/><circle cx="55.4" cy="25.1" r="0.65" opacity="0.13"/><circle cx="47.6" cy="39.7" r="0.68" opacity="0.60"/><circle cx="54.4" cy="35.3" r="0.75" opacity="0.66"/></g><ellipse cx="31" cy="29" rx="11" ry="6" fill="#3ae626" opacity="0.45" transform="rotate(-5 31 29)" filter="url(#b10)"/><g fill="#55ff2a" filter="url(#b03)"><circle cx="32.3" cy="36.5" r="0.76" opacity="0.87"/><circle cx="32.7" cy="36.4" r="0.77" opacity="0.91"/><circle cx="25.1" cy="26.5" r="0.74" opacity="0.70"/><circle cx="37.5" cy="26.5" r="0.88" opacity="0.36"/><circle cx="36.8" cy="26.7" r="0.36" opacity="0.76"/><circle cx="41.6" cy="31.2" r="0.80" opacity="0.93"/><circle cx="30.9" cy="27.3" r="0.56" opacity="0.51"/><circle cx="31.1" cy="36.7" r="0.84" opacity="0.85"/><circle cx="35.4" cy="31.3" r="0.40" opacity="0.58"/><circle cx="40.2" cy="28.5" r="0.72" opacity="0.51"/><circle cx="33.2" cy="22.7" r="0.78" opacity="0.84"/><circle cx="41.2" cy="33.0" r="0.36" opacity="0.63"/><circle cx="37.6" cy="24.6" r="0.59" opacity="0.59"/><circle cx="19.4" cy="27.1" r="0.64" opacity="0.72"/><circle cx="32.0" cy="21.4" r="0.68" opacity="0.52"/><circle cx="32.6" cy="26.1" r="0.60" opacity="0.76"/><circle cx="41.0" cy="33.9" r="0.41" opacity="0.77"/><circle cx="39.1" cy="26.7" r="0.83" opacity="0.45"/><circle cx="29.8" cy="23.3" r="0.80" opacity="0.53"/><circle cx="28.7" cy="29.1" r="0.74" opacity="0.46"/><circle cx="39.1" cy="34.9" r="0.62" opacity="0.83"/><circle cx="43.0" cy="30.6" r="0.78" opacity="0.76"/><circle cx="28.4" cy="23.7" r="0.48" opacity="0.68"/><circle cx="31.1" cy="27.3" r="0.77" opacity="0.44"/><circle cx="29.5" cy="28.5" r="0.69" opacity="0.87"/><circle cx="33.5" cy="26.3" r="0.58" opacity="0.69"/><circle cx="27.6" cy="26.5" r="0.65" opacity="0.38"/><circle cx="21.1" cy="27.1" r="0.77" opacity="0.63"/><circle cx="39.9" cy="28.1" r="0.54" opacity="0.36"/><circle cx="37.4" cy="28.9" r="0.41" opacity="0.70"/><circle cx="20.3" cy="26.1" r="0.51" opacity="0.81"/><circle cx="33.6" cy="22.6" r="0.53" opacity="0.62"/><circle cx="39.6" cy="26.1" r="0.76" opacity="0.39"/><circle cx="23.2" cy="28.0" r="0.40" opacity="0.58"/><circle cx="27.2" cy="25.3" r="0.43" opacity="0.92"/><circle cx="25.2" cy="22.1" r="0.59" opacity="0.39"/><circle cx="30.3" cy="21.6" r="0.62" opacity="0.44"/><circle cx="40.6" cy="30.1" r="0.71" opacity="0.48"/><circle cx="25.7" cy="21.8" r="0.80" opacity="0.52"/><circle cx="32.4" cy="30.6" r="0.62" opacity="0.38"/><circle cx="35.8" cy="25.5" r="0.82" opacity="0.93"/><circle cx="22.4" cy="24.3" r="0.60" opacity="0.43"/><circle cx="30.4" cy="29.1" r="0.51" opacity="0.95"/><circle cx="33.9" cy="29.6" r="0.42" opacity="0.79"/><circle cx="21.5" cy="32.0" r="0.77" opacity="0.72"/><circle cx="42.2" cy="30.0" r="0.55" opacity="0.54"/><circle cx="23.1" cy="23.5" r="0.78" opacity="0.43"/><circle cx="24.6" cy="32.3" r="0.42" opacity="0.82"/><circle cx="18.1" cy="29.0" r="0.44" opacity="0.38"/><circle cx="35.1" cy="30.9" r="0.62" opacity="0.55"/><circle cx="18.7" cy="29.7" r="0.73" opacity="0.50"/><circle cx="31.2" cy="30.2" r="0.57" opacity="0.48"/><circle cx="32.5" cy="26.0" r="0.59" opacity="0.82"/><circle cx="33.6" cy="37.6" r="0.78" opacity="0.71"/><circle cx="31.2" cy="38.4" r="0.39" opacity="0.74"/><circle cx="23.7" cy="24.9" r="0.79" opacity="0.72"/><circle cx="32.4" cy="23.5" r="0.64" opacity="0.85"/><circle cx="35.3" cy="29.2" r="0.77" opacity="0.52"/><circle cx="39.1" cy="30.3" r="0.37" opacity="0.55"/><circle cx="22.1" cy="30.6" r="0.58" opacity="0.87"/><circle cx="18.5" cy="31.5" r="0.73" opacity="0.44"/><circle cx="33.8" cy="35.8" r="0.82" opacity="0.95"/><circle cx="28.4" cy="23.9" r="0.43" opacity="0.58"/><circle cx="33.1" cy="32.9" r="0.71" opacity="0.38"/><circle cx="22.3" cy="27.6" r="0.61" opacity="0.94"/><circle cx="22.8" cy="30.2" r="0.47" opacity="0.42"/><circle cx="29.0" cy="23.6" r="0.82" opacity="0.77"/><circle cx="39.3" cy="35.7" r="0.36" opacity="0.80"/><circle cx="34.5" cy="31.4" r="0.77" opacity="0.80"/><circle cx="22.4" cy="26.4" r="0.39" opacity="0.50"/><circle cx="29.7" cy="31.2" r="0.89" opacity="0.44"/><circle cx="30.4" cy="21.1" r="0.75" opacity="0.71"/><circle cx="35.4" cy="34.9" r="0.66" opacity="0.75"/><circle cx="31.6" cy="25.4" r="0.57" opacity="0.66"/><circle cx="29.7" cy="21.9" r="0.59" opacity="0.46"/><circle cx="28.2" cy="36.5" r="0.41" opacity="0.62"/><circle cx="36.7" cy="36.5" r="0.39" opacity="0.43"/><circle cx="30.2" cy="32.5" r="0.40" opacity="0.88"/><circle cx="32.3" cy="30.7" r="0.86" opacity="0.57"/><circle cx="41.2" cy="26.9" r="0.36" opacity="0.82"/><circle cx="29.5" cy="31.6" r="0.62" opacity="0.43"/><circle cx="42.8" cy="31.9" r="0.86" opacity="0.35"/><circle cx="38.2" cy="33.2" r="0.68" opacity="0.45"/><circle cx="36.2" cy="29.8" r="0.48" opacity="0.50"/><circle cx="19.9" cy="30.2" r="0.88" opacity="0.90"/><circle cx="35.8" cy="24.3" r="0.51" opacity="0.79"/><circle cx="24.6" cy="37.0" r="0.43" opacity="0.53"/><circle cx="25.3" cy="30.4" r="0.60" opacity="0.54"/><circle cx="29.3" cy="25.6" r="0.45" opacity="0.40"/><circle cx="21.5" cy="29.9" r="0.88" opacity="0.91"/></g><ellipse cx="46" cy="35" rx="5" ry="5" fill="#000" opacity="0.7" filter="url(#b06)"/></g></g>
<g clip-path="url(#c5)" style="isolation:isolate"><rect x="425.2" y="82.8" width="63.0" height="63.0" fill="#000"/><g transform="translate(425.2 82.8) scale(0.9844 0.9844)"><g style="mix-blend-mode:screen"><path d="M12.00,18.00 C14.33,15.67 18.00,15.67 22.00,14.00 C26.00,12.33 31.67,9.67 36.00,8.00 C40.33,6.33 44.33,4.00 48.00,4.00 C51.67,4.00 56.00,5.33 58.00,8.00 C60.00,10.67 60.33,16.33 60.00,20.00 C59.67,23.67 56.83,26.33 56.00,30.00 C55.17,33.67 56.00,37.83 55.00,42.00 C54.00,46.17 52.50,51.67 50.00,55.00 C47.50,58.33 44.17,60.67 40.00,62.00 C35.83,63.33 29.17,64.17 25.00,63.00 C20.83,61.83 17.83,58.50 15.00,55.00 C12.17,51.50 9.17,46.50 8.00,42.00 C6.83,37.50 7.33,32.00 8.00,28.00 C8.67,24.00 9.67,20.33 12.00,18.00Z" fill="#2cb81e" opacity="0.136" filter="url(#b18)"/><g fill="#3ae626" filter="url(#b03)"><circle cx="31.8" cy="55.8" r="0.31" opacity="0.24"/><circle cx="14.7" cy="24.6" r="0.70" opacity="0.32"/><circle cx="14.8" cy="41.8" r="0.58" opacity="0.33"/><circle cx="58.0" cy="14.4" r="0.57" opacity="0.16"/><circle cx="58.2" cy="12.5" r="0.53" opacity="0.51"/><circle cx="53.9" cy="9.8" r="0.69" opacity="0.52"/><circle cx="24.4" cy="48.6" r="0.40" opacity="0.18"/><circle cx="16.5" cy="22.2" r="0.67" opacity="0.33"/><circle cx="18.9" cy="29.6" r="0.33" opacity="0.39"/><circle cx="39.7" cy="38.5" r="0.34" opacity="0.40"/><circle cx="32.0" cy="9.9" r="0.74" opacity="0.57"/><circle cx="25.3" cy="58.8" r="0.43" opacity="0.36"/><circle cx="37.8" cy="50.6" r="0.33" opacity="0.12"/><circle cx="15.7" cy="26.7" r="0.66" opacity="0.46"/><circle cx="13.6" cy="47.3" r="0.39" opacity="0.11"/><circle cx="32.9" cy="57.7" r="0.71" opacity="0.32"/><circle cx="49.5" cy="15.4" r="0.37" opacity="0.57"/><circle cx="42.9" cy="14.2" r="0.45" opacity="0.48"/><circle cx="49.8" cy="17.9" r="0.49" opacity="0.31"/><circle cx="32.8" cy="22.3" r="0.41" opacity="0.50"/><circle cx="52.3" cy="22.4" r="0.66" opacity="0.25"/><circle cx="28.5" cy="43.5" r="0.49" opacity="0.36"/><circle cx="40.2" cy="19.1" r="0.51" opacity="0.42"/><circle cx="10.1" cy="25.6" r="0.63" opacity="0.16"/><circle cx="38.6" cy="37.1" r="0.56" opacity="0.12"/><circle cx="46.1" cy="49.1" r="0.45" opacity="0.40"/><circle cx="33.1" cy="44.5" r="0.38" opacity="0.12"/><circle cx="59.2" cy="19.6" r="0.63" opacity="0.22"/><circle cx="39.1" cy="27.0" r="0.55" opacity="0.55"/><circle cx="51.2" cy="32.2" r="0.39" opacity="0.51"/><circle cx="41.6" cy="12.5" r="0.48" opacity="0.13"/><circle cx="8.5" cy="41.2" r="0.70" opacity="0.54"/><circle cx="46.0" cy="11.1" r="0.55" opacity="0.27"/><circle cx="38.2" cy="25.1" r="0.39" opacity="0.40"/><circle cx="40.3" cy="47.6" r="0.35" opacity="0.14"/><circle cx="57.1" cy="21.4" r="0.31" opacity="0.34"/><circle cx="36.0" cy="29.5" r="0.56" opacity="0.14"/><circle cx="16.2" cy="39.2" r="0.32" opacity="0.32"/><circle cx="20.4" cy="48.6" r="0.54" opacity="0.40"/><circle cx="23.5" cy="33.1" r="0.51" opacity="0.33"/><circle cx="39.6" cy="33.3" r="0.64" opacity="0.31"/><circle cx="12.4" cy="45.1" r="0.59" opacity="0.25"/><circle cx="51.6" cy="18.4" r="0.48" opacity="0.44"/><circle cx="18.4" cy="28.7" r="0.44" opacity="0.45"/><circle cx="16.9" cy="29.1" r="0.62" opacity="0.44"/><circle cx="37.8" cy="15.8" r="0.45" opacity="0.48"/><circle cx="57.2" cy="26.7" r="0.35" opacity="0.44"/><circle cx="12.4" cy="19.8" r="0.33" opacity="0.42"/><circle cx="48.0" cy="11.4" r="0.63" opacity="0.26"/><circle cx="30.3" cy="37.1" r="0.53" opacity="0.38"/><circle cx="24.9" cy="32.5" r="0.70" opacity="0.21"/><circle cx="32.7" cy="18.7" r="0.45" opacity="0.20"/><circle cx="49.7" cy="31.4" r="0.32" opacity="0.50"/><circle cx="30.8" cy="14.5" r="0.56" opacity="0.17"/><circle cx="36.3" cy="46.0" r="0.48" opacity="0.25"/><circle cx="28.6" cy="12.7" r="0.60" opacity="0.25"/><circle cx="18.5" cy="54.8" r="0.69" opacity="0.19"/><circle cx="41.5" cy="13.5" r="0.42" opacity="0.30"/><circle cx="50.6" cy="25.3" r="0.45" opacity="0.18"/><circle cx="28.5" cy="42.3" r="0.31" opacity="0.21"/><circle cx="20.9" cy="31.2" r="0.40" opacity="0.45"/><circle cx="49.7" cy="50.7" r="0.32" opacity="0.36"/><circle cx="52.4" cy="33.3" r="0.54" opacity="0.52"/><circle cx="46.2" cy="13.9" r="0.37" opacity="0.54"/><circle cx="23.6" cy="35.5" r="0.60" opacity="0.28"/><circle cx="36.7" cy="53.8" r="0.55" opacity="0.33"/><circle cx="20.7" cy="43.0" r="0.39" opacity="0.52"/><circle cx="47.3" cy="54.1" r="0.56" opacity="0.56"/><circle cx="54.3" cy="42.6" r="0.32" opacity="0.23"/><circle cx="19.4" cy="38.1" r="0.52" opacity="0.49"/><circle cx="36.7" cy="29.5" r="0.40" opacity="0.44"/><circle cx="34.1" cy="36.8" r="0.53" opacity="0.14"/><circle cx="23.3" cy="30.7" r="0.44" opacity="0.16"/><circle cx="11.7" cy="31.0" r="0.48" opacity="0.41"/><circle cx="52.1" cy="29.4" r="0.50" opacity="0.54"/><circle cx="40.2" cy="28.1" r="0.30" opacity="0.58"/><circle cx="32.4" cy="46.5" r="0.66" opacity="0.17"/><circle cx="13.1" cy="41.4" r="0.69" opacity="0.35"/><circle cx="14.9" cy="21.7" r="0.36" opacity="0.19"/><circle cx="29.1" cy="28.6" r="0.49" opacity="0.49"/><circle cx="32.4" cy="30.0" r="0.40" opacity="0.15"/><circle cx="24.7" cy="40.7" r="0.49" opacity="0.35"/><circle cx="51.1" cy="13.5" r="0.62" opacity="0.54"/><circle cx="20.0" cy="32.7" r="0.47" opacity="0.30"/><circle cx="46.4" cy="39.1" r="0.41" opacity="0.17"/><circle cx="40.6" cy="22.8" r="0.60" opacity="0.26"/><circle cx="39.5" cy="32.2" r="0.54" opacity="0.23"/><circle cx="41.1" cy="16.4" r="0.61" opacity="0.29"/><circle cx="18.1" cy="36.1" r="0.46" opacity="0.47"/><circle cx="33.7" cy="54.5" r="0.43" opacity="0.53"/><circle cx="49.6" cy="26.4" r="0.46" opacity="0.43"/><circle cx="44.9" cy="11.7" r="0.48" opacity="0.18"/><circle cx="51.1" cy="44.7" r="0.57" opacity="0.30"/><circle cx="25.8" cy="49.6" r="0.31" opacity="0.18"/><circle cx="29.2" cy="56.9" r="0.35" opacity="0.53"/><circle cx="11.3" cy="36.8" r="0.35" opacity="0.52"/><circle cx="11.2" cy="41.8" r="0.35" opacity="0.51"/><circle cx="50.0" cy="54.5" r="0.57" opacity="0.27"/><circle cx="37.6" cy="10.5" r="0.67" opacity="0.29"/><circle cx="36.3" cy="55.2" r="0.67" opacity="0.39"/><circle cx="15.0" cy="23.8" r="0.37" opacity="0.15"/><circle cx="27.6" cy="48.2" r="0.56" opacity="0.29"/><circle cx="12.6" cy="41.3" r="0.54" opacity="0.50"/><circle cx="44.0" cy="18.4" r="0.65" opacity="0.32"/><circle cx="31.5" cy="42.9" r="0.42" opacity="0.42"/><circle cx="12.3" cy="34.4" r="0.61" opacity="0.37"/><circle cx="39.3" cy="14.5" r="0.32" opacity="0.54"/><circle cx="30.8" cy="35.4" r="0.33" opacity="0.24"/><circle cx="44.3" cy="15.7" r="0.53" opacity="0.55"/><circle cx="41.4" cy="33.7" r="0.54" opacity="0.14"/><circle cx="59.5" cy="20.8" r="0.59" opacity="0.48"/><circle cx="16.2" cy="48.6" r="0.56" opacity="0.13"/><circle cx="57.3" cy="25.7" r="0.35" opacity="0.13"/><circle cx="26.0" cy="25.3" r="0.59" opacity="0.54"/><circle cx="18.9" cy="42.4" r="0.47" opacity="0.31"/><circle cx="14.4" cy="48.4" r="0.68" opacity="0.41"/><circle cx="46.3" cy="39.6" r="0.54" opacity="0.39"/><circle cx="14.6" cy="18.1" r="0.56" opacity="0.59"/><circle cx="28.1" cy="61.4" r="0.57" opacity="0.47"/><circle cx="43.5" cy="45.6" r="0.53" opacity="0.11"/><circle cx="40.9" cy="43.2" r="0.62" opacity="0.52"/><circle cx="34.1" cy="38.9" r="0.48" opacity="0.59"/><circle cx="35.3" cy="28.2" r="0.75" opacity="0.52"/><circle cx="49.2" cy="39.4" r="0.65" opacity="0.48"/><circle cx="38.6" cy="8.2" r="0.31" opacity="0.48"/><circle cx="56.4" cy="11.2" r="0.49" opacity="0.37"/><circle cx="34.8" cy="51.8" r="0.55" opacity="0.46"/><circle cx="44.8" cy="42.3" r="0.68" opacity="0.34"/><circle cx="24.9" cy="27.6" r="0.46" opacity="0.13"/><circle cx="50.3" cy="43.7" r="0.43" opacity="0.28"/><circle cx="51.8" cy="27.9" r="0.66" opacity="0.56"/><circle cx="25.3" cy="53.9" r="0.68" opacity="0.56"/><circle cx="45.6" cy="5.4" r="0.37" opacity="0.42"/><circle cx="28.3" cy="57.3" r="0.35" opacity="0.20"/><circle cx="36.8" cy="55.7" r="0.39" opacity="0.43"/><circle cx="17.0" cy="43.7" r="0.42" opacity="0.57"/><circle cx="16.9" cy="42.2" r="0.64" opacity="0.36"/><circle cx="55.6" cy="20.5" r="0.61" opacity="0.17"/><circle cx="18.8" cy="40.9" r="0.68" opacity="0.37"/><circle cx="34.9" cy="41.2" r="0.64" opacity="0.34"/><circle cx="29.2" cy="41.1" r="0.62" opacity="0.48"/><circle cx="11.9" cy="31.6" r="0.46" opacity="0.44"/><circle cx="42.1" cy="33.7" r="0.54" opacity="0.22"/><circle cx="20.4" cy="32.7" r="0.30" opacity="0.31"/><circle cx="37.8" cy="39.4" r="0.57" opacity="0.16"/><circle cx="36.7" cy="49.2" r="0.64" opacity="0.28"/><circle cx="46.2" cy="38.8" r="0.58" opacity="0.56"/><circle cx="44.9" cy="48.5" r="0.51" opacity="0.47"/><circle cx="32.1" cy="49.3" r="0.31" opacity="0.37"/><circle cx="51.4" cy="7.6" r="0.56" opacity="0.21"/><circle cx="11.4" cy="30.7" r="0.33" opacity="0.43"/><circle cx="34.9" cy="10.5" r="0.42" opacity="0.42"/><circle cx="25.6" cy="53.9" r="0.60" opacity="0.21"/><circle cx="53.6" cy="9.3" r="0.41" opacity="0.51"/><circle cx="43.6" cy="10.9" r="0.31" opacity="0.15"/><circle cx="50.6" cy="38.3" r="0.67" opacity="0.54"/><circle cx="24.5" cy="19.2" r="0.50" opacity="0.39"/><circle cx="13.4" cy="34.5" r="0.69" opacity="0.13"/><circle cx="45.9" cy="41.0" r="0.75" opacity="0.13"/><circle cx="13.6" cy="39.0" r="0.74" opacity="0.13"/><circle cx="50.2" cy="5.7" r="0.50" opacity="0.21"/><circle cx="18.5" cy="25.9" r="0.49" opacity="0.25"/><circle cx="46.4" cy="37.1" r="0.57" opacity="0.24"/><circle cx="8.8" cy="27.8" r="0.34" opacity="0.23"/><circle cx="33.8" cy="56.1" r="0.38" opacity="0.19"/><circle cx="47.0" cy="29.0" r="0.74" opacity="0.22"/><circle cx="34.0" cy="39.3" r="0.45" opacity="0.37"/><circle cx="49.9" cy="20.2" r="0.30" opacity="0.32"/><circle cx="55.8" cy="25.5" r="0.34" opacity="0.38"/><circle cx="28.6" cy="12.7" r="0.60" opacity="0.17"/><circle cx="21.2" cy="22.1" r="0.68" opacity="0.28"/><circle cx="43.7" cy="25.1" r="0.66" opacity="0.37"/><circle cx="50.7" cy="40.6" r="0.42" opacity="0.46"/><circle cx="32.7" cy="49.0" r="0.37" opacity="0.13"/><circle cx="38.3" cy="38.1" r="0.36" opacity="0.30"/><circle cx="42.7" cy="23.4" r="0.62" opacity="0.43"/><circle cx="25.9" cy="20.1" r="0.48" opacity="0.43"/><circle cx="45.2" cy="32.9" r="0.46" opacity="0.21"/><circle cx="17.0" cy="38.4" r="0.64" opacity="0.35"/><circle cx="45.8" cy="29.1" r="0.54" opacity="0.58"/><circle cx="11.7" cy="25.1" r="0.43" opacity="0.17"/><circle cx="24.0" cy="30.9" r="0.58" opacity="0.57"/><circle cx="22.6" cy="52.5" r="0.39" opacity="0.36"/><circle cx="34.1" cy="61.6" r="0.54" opacity="0.47"/><circle cx="15.3" cy="31.5" r="0.50" opacity="0.12"/><circle cx="29.8" cy="11.3" r="0.47" opacity="0.46"/><circle cx="29.7" cy="35.7" r="0.30" opacity="0.59"/><circle cx="41.4" cy="7.9" r="0.63" opacity="0.22"/><circle cx="41.9" cy="21.7" r="0.53" opacity="0.53"/><circle cx="40.4" cy="25.5" r="0.52" opacity="0.25"/><circle cx="10.4" cy="46.0" r="0.33" opacity="0.46"/><circle cx="56.1" cy="26.0" r="0.72" opacity="0.34"/><circle cx="50.6" cy="29.0" r="0.56" opacity="0.45"/><circle cx="22.2" cy="60.3" r="0.56" opacity="0.30"/><circle cx="14.2" cy="41.3" r="0.57" opacity="0.17"/><circle cx="16.9" cy="33.1" r="0.63" opacity="0.17"/><circle cx="34.9" cy="45.3" r="0.60" opacity="0.50"/><circle cx="48.7" cy="45.2" r="0.53" opacity="0.18"/><circle cx="27.4" cy="17.6" r="0.68" opacity="0.22"/><circle cx="22.9" cy="14.6" r="0.59" opacity="0.22"/><circle cx="31.0" cy="11.0" r="0.50" opacity="0.28"/><circle cx="15.5" cy="17.9" r="0.31" opacity="0.17"/><circle cx="35.4" cy="50.5" r="0.65" opacity="0.29"/><circle cx="44.0" cy="27.2" r="0.59" opacity="0.11"/><circle cx="31.8" cy="11.6" r="0.44" opacity="0.29"/><circle cx="50.6" cy="13.8" r="0.63" opacity="0.53"/><circle cx="42.4" cy="35.2" r="0.32" opacity="0.20"/><circle cx="48.3" cy="22.3" r="0.39" opacity="0.48"/><circle cx="39.1" cy="22.4" r="0.35" opacity="0.38"/><circle cx="30.9" cy="30.3" r="0.33" opacity="0.32"/><circle cx="37.9" cy="27.7" r="0.59" opacity="0.26"/><circle cx="35.9" cy="39.7" r="0.71" opacity="0.36"/><circle cx="28.9" cy="11.5" r="0.68" opacity="0.26"/><circle cx="12.9" cy="32.7" r="0.39" opacity="0.13"/><circle cx="38.6" cy="57.5" r="0.63" opacity="0.30"/><circle cx="18.1" cy="29.4" r="0.49" opacity="0.18"/><circle cx="25.9" cy="20.8" r="0.49" opacity="0.15"/><circle cx="36.5" cy="31.6" r="0.66" opacity="0.14"/><circle cx="14.7" cy="38.2" r="0.40" opacity="0.14"/><circle cx="38.7" cy="9.6" r="0.61" opacity="0.51"/><circle cx="22.9" cy="24.7" r="0.75" opacity="0.30"/><circle cx="48.4" cy="46.6" r="0.68" opacity="0.55"/><circle cx="27.4" cy="52.0" r="0.52" opacity="0.12"/><circle cx="44.4" cy="10.9" r="0.48" opacity="0.45"/><circle cx="55.2" cy="33.6" r="0.31" opacity="0.18"/><circle cx="25.2" cy="15.7" r="0.31" opacity="0.40"/><circle cx="17.3" cy="35.4" r="0.58" opacity="0.11"/><circle cx="11.6" cy="38.8" r="0.55" opacity="0.22"/><circle cx="18.6" cy="29.4" r="0.57" opacity="0.42"/><circle cx="24.7" cy="53.6" r="0.73" opacity="0.24"/><circle cx="34.9" cy="11.7" r="0.51" opacity="0.51"/><circle cx="19.6" cy="19.5" r="0.31" opacity="0.28"/><circle cx="31.7" cy="50.0" r="0.53" opacity="0.31"/><circle cx="47.2" cy="46.8" r="0.63" opacity="0.19"/><circle cx="26.0" cy="47.8" r="0.75" opacity="0.36"/><circle cx="29.8" cy="38.2" r="0.58" opacity="0.44"/><circle cx="35.6" cy="19.3" r="0.67" opacity="0.24"/><circle cx="26.9" cy="61.4" r="0.72" opacity="0.50"/><circle cx="51.8" cy="33.3" r="0.31" opacity="0.39"/><circle cx="24.0" cy="18.6" r="0.69" opacity="0.34"/><circle cx="12.8" cy="36.8" r="0.40" opacity="0.51"/><circle cx="22.7" cy="48.9" r="0.69" opacity="0.37"/><circle cx="17.7" cy="42.8" r="0.67" opacity="0.56"/><circle cx="41.8" cy="18.2" r="0.57" opacity="0.46"/><circle cx="31.4" cy="17.8" r="0.54" opacity="0.58"/><circle cx="13.6" cy="17.9" r="0.61" opacity="0.36"/><circle cx="28.5" cy="16.0" r="0.65" opacity="0.50"/><circle cx="26.5" cy="21.1" r="0.31" opacity="0.35"/><circle cx="23.0" cy="28.8" r="0.31" opacity="0.50"/><circle cx="16.3" cy="30.4" r="0.75" opacity="0.57"/><circle cx="23.8" cy="26.9" r="0.45" opacity="0.35"/><circle cx="35.8" cy="28.2" r="0.73" opacity="0.54"/><circle cx="19.0" cy="27.5" r="0.40" opacity="0.24"/><circle cx="33.4" cy="31.7" r="0.48" opacity="0.11"/><circle cx="52.2" cy="19.6" r="0.41" opacity="0.26"/><circle cx="41.0" cy="39.4" r="0.32" opacity="0.35"/><circle cx="24.7" cy="45.6" r="0.67" opacity="0.21"/><circle cx="56.8" cy="13.2" r="0.67" opacity="0.39"/><circle cx="30.4" cy="51.1" r="0.43" opacity="0.22"/><circle cx="16.1" cy="29.2" r="0.59" opacity="0.24"/><circle cx="23.5" cy="24.6" r="0.71" opacity="0.16"/><circle cx="34.3" cy="52.2" r="0.65" opacity="0.41"/><circle cx="53.2" cy="38.9" r="0.55" opacity="0.21"/><circle cx="44.4" cy="16.8" r="0.46" opacity="0.15"/><circle cx="54.2" cy="38.1" r="0.68" opacity="0.30"/><circle cx="54.2" cy="26.2" r="0.37" opacity="0.43"/><circle cx="49.4" cy="53.2" r="0.62" opacity="0.18"/><circle cx="14.8" cy="41.5" r="0.53" opacity="0.45"/><circle cx="18.9" cy="51.0" r="0.40" opacity="0.15"/><circle cx="34.1" cy="59.0" r="0.61" opacity="0.20"/><circle cx="29.2" cy="42.4" r="0.48" opacity="0.59"/><circle cx="43.8" cy="55.2" r="0.46" opacity="0.38"/><circle cx="50.0" cy="25.0" r="0.45" opacity="0.26"/><circle cx="28.9" cy="32.3" r="0.73" opacity="0.52"/><circle cx="28.8" cy="40.8" r="0.62" opacity="0.33"/><circle cx="47.2" cy="44.8" r="0.42" opacity="0.16"/><circle cx="29.8" cy="43.1" r="0.38" opacity="0.26"/><circle cx="16.1" cy="38.9" r="0.36" opacity="0.58"/><circle cx="21.1" cy="19.5" r="0.35" opacity="0.11"/><circle cx="10.8" cy="42.1" r="0.58" opacity="0.26"/><circle cx="35.3" cy="61.8" r="0.54" opacity="0.59"/><circle cx="13.7" cy="33.9" r="0.50" opacity="0.17"/><circle cx="34.2" cy="24.8" r="0.71" opacity="0.59"/><circle cx="44.7" cy="32.2" r="0.60" opacity="0.35"/><circle cx="26.1" cy="41.7" r="0.38" opacity="0.27"/><circle cx="13.1" cy="33.8" r="0.63" opacity="0.13"/><circle cx="36.6" cy="47.7" r="0.62" opacity="0.54"/><circle cx="31.5" cy="55.9" r="0.45" opacity="0.36"/><circle cx="51.6" cy="12.5" r="0.55" opacity="0.56"/><circle cx="9.8" cy="26.7" r="0.46" opacity="0.43"/><circle cx="20.3" cy="24.7" r="0.41" opacity="0.14"/><circle cx="51.2" cy="35.3" r="0.36" opacity="0.24"/><circle cx="19.8" cy="41.1" r="0.56" opacity="0.48"/><circle cx="24.3" cy="33.3" r="0.39" opacity="0.52"/><circle cx="39.6" cy="57.4" r="0.39" opacity="0.41"/><circle cx="31.1" cy="32.3" r="0.30" opacity="0.34"/><circle cx="38.4" cy="32.9" r="0.30" opacity="0.25"/><circle cx="41.9" cy="29.6" r="0.38" opacity="0.47"/><circle cx="8.5" cy="37.5" r="0.59" opacity="0.49"/><circle cx="47.0" cy="37.5" r="0.46" opacity="0.15"/><circle cx="9.0" cy="40.8" r="0.64" opacity="0.44"/><circle cx="51.9" cy="19.1" r="0.35" opacity="0.21"/><circle cx="13.2" cy="30.7" r="0.32" opacity="0.12"/><circle cx="23.0" cy="27.9" r="0.45" opacity="0.21"/><circle cx="54.7" cy="11.3" r="0.69" opacity="0.42"/><circle cx="15.9" cy="21.1" r="0.47" opacity="0.57"/><circle cx="21.1" cy="58.4" r="0.48" opacity="0.12"/><circle cx="17.3" cy="21.1" r="0.58" opacity="0.11"/><circle cx="50.8" cy="11.2" r="0.69" opacity="0.15"/><circle cx="49.6" cy="54.1" r="0.47" opacity="0.54"/><circle cx="36.6" cy="31.5" r="0.62" opacity="0.20"/><circle cx="39.7" cy="43.7" r="0.69" opacity="0.20"/><circle cx="23.7" cy="25.1" r="0.71" opacity="0.25"/><circle cx="21.4" cy="59.1" r="0.61" opacity="0.59"/><circle cx="25.4" cy="46.7" r="0.36" opacity="0.41"/><circle cx="51.7" cy="36.9" r="0.67" opacity="0.50"/><circle cx="29.6" cy="10.9" r="0.71" opacity="0.51"/><circle cx="44.0" cy="13.4" r="0.43" opacity="0.49"/><circle cx="29.8" cy="53.2" r="0.36" opacity="0.28"/><circle cx="41.8" cy="30.8" r="0.63" opacity="0.35"/><circle cx="19.3" cy="57.5" r="0.55" opacity="0.46"/><circle cx="14.9" cy="31.8" r="0.32" opacity="0.55"/><circle cx="25.4" cy="50.3" r="0.41" opacity="0.50"/><circle cx="14.6" cy="50.8" r="0.45" opacity="0.22"/><circle cx="50.7" cy="40.5" r="0.72" opacity="0.41"/><circle cx="18.9" cy="36.0" r="0.58" opacity="0.34"/><circle cx="44.5" cy="20.8" r="0.67" opacity="0.52"/><circle cx="29.3" cy="39.4" r="0.51" opacity="0.32"/><circle cx="51.8" cy="30.9" r="0.46" opacity="0.14"/><circle cx="16.6" cy="37.4" r="0.56" opacity="0.48"/><circle cx="20.8" cy="27.4" r="0.33" opacity="0.44"/><circle cx="23.9" cy="38.4" r="0.73" opacity="0.45"/><circle cx="13.2" cy="50.4" r="0.71" opacity="0.52"/><circle cx="58.0" cy="17.8" r="0.43" opacity="0.14"/><circle cx="22.4" cy="37.6" r="0.68" opacity="0.49"/><circle cx="36.0" cy="15.2" r="0.63" opacity="0.55"/><circle cx="30.1" cy="47.0" r="0.44" opacity="0.47"/><circle cx="30.5" cy="18.9" r="0.34" opacity="0.54"/><circle cx="58.1" cy="18.2" r="0.40" opacity="0.37"/><circle cx="24.1" cy="60.5" r="0.73" opacity="0.27"/><circle cx="40.1" cy="32.3" r="0.49" opacity="0.39"/><circle cx="15.9" cy="21.3" r="0.71" opacity="0.49"/><circle cx="22.0" cy="15.0" r="0.71" opacity="0.13"/><circle cx="26.8" cy="15.1" r="0.52" opacity="0.12"/><circle cx="28.1" cy="53.0" r="0.44" opacity="0.56"/><circle cx="20.8" cy="26.5" r="0.59" opacity="0.45"/><circle cx="35.4" cy="53.2" r="0.74" opacity="0.57"/><circle cx="35.3" cy="43.0" r="0.50" opacity="0.30"/><circle cx="14.6" cy="27.3" r="0.74" opacity="0.57"/><circle cx="45.3" cy="28.2" r="0.43" opacity="0.43"/><circle cx="39.6" cy="19.7" r="0.66" opacity="0.39"/><circle cx="27.2" cy="56.7" r="0.33" opacity="0.12"/><circle cx="45.9" cy="41.0" r="0.34" opacity="0.51"/><circle cx="41.6" cy="33.4" r="0.56" opacity="0.28"/><circle cx="48.4" cy="42.9" r="0.58" opacity="0.16"/><circle cx="49.3" cy="31.2" r="0.48" opacity="0.58"/><circle cx="18.7" cy="38.3" r="0.34" opacity="0.30"/><circle cx="28.9" cy="28.8" r="0.54" opacity="0.32"/><circle cx="33.6" cy="38.7" r="0.62" opacity="0.17"/><circle cx="30.8" cy="35.2" r="0.51" opacity="0.20"/><circle cx="32.9" cy="48.5" r="0.45" opacity="0.12"/><circle cx="24.4" cy="35.8" r="0.65" opacity="0.14"/><circle cx="41.5" cy="34.3" r="0.38" opacity="0.49"/><circle cx="17.8" cy="34.4" r="0.42" opacity="0.46"/><circle cx="24.0" cy="42.0" r="0.69" opacity="0.14"/><circle cx="29.5" cy="59.3" r="0.54" opacity="0.18"/><circle cx="21.0" cy="26.5" r="0.66" opacity="0.47"/><circle cx="24.4" cy="53.2" r="0.67" opacity="0.57"/><circle cx="13.3" cy="44.2" r="0.37" opacity="0.46"/><circle cx="39.9" cy="30.4" r="0.47" opacity="0.37"/><circle cx="34.9" cy="11.1" r="0.63" opacity="0.42"/><circle cx="27.2" cy="50.5" r="0.65" opacity="0.54"/><circle cx="38.3" cy="50.2" r="0.40" opacity="0.31"/><circle cx="54.5" cy="36.8" r="0.57" opacity="0.24"/><circle cx="25.7" cy="23.2" r="0.32" opacity="0.36"/><circle cx="14.9" cy="30.2" r="0.54" opacity="0.14"/><circle cx="35.4" cy="9.4" r="0.30" opacity="0.58"/><circle cx="29.6" cy="60.3" r="0.54" opacity="0.40"/><circle cx="29.2" cy="41.9" r="0.74" opacity="0.31"/><circle cx="39.0" cy="16.0" r="0.74" opacity="0.55"/><circle cx="57.9" cy="19.2" r="0.51" opacity="0.33"/><circle cx="26.8" cy="24.6" r="0.62" opacity="0.31"/><circle cx="51.8" cy="29.2" r="0.71" opacity="0.41"/><circle cx="29.2" cy="52.8" r="0.59" opacity="0.45"/><circle cx="28.9" cy="23.1" r="0.52" opacity="0.49"/><circle cx="48.6" cy="32.1" r="0.63" opacity="0.12"/><circle cx="52.1" cy="36.0" r="0.51" opacity="0.52"/><circle cx="24.7" cy="21.4" r="0.59" opacity="0.36"/><circle cx="35.4" cy="36.3" r="0.31" opacity="0.55"/><circle cx="22.5" cy="60.2" r="0.63" opacity="0.52"/><circle cx="24.0" cy="14.4" r="0.45" opacity="0.14"/><circle cx="47.9" cy="10.7" r="0.35" opacity="0.19"/><circle cx="53.5" cy="27.6" r="0.61" opacity="0.32"/><circle cx="55.2" cy="24.1" r="0.72" opacity="0.32"/><circle cx="27.1" cy="58.8" r="0.75" opacity="0.28"/><circle cx="46.6" cy="42.5" r="0.72" opacity="0.26"/><circle cx="12.9" cy="49.9" r="0.38" opacity="0.34"/><circle cx="31.6" cy="10.7" r="0.60" opacity="0.47"/><circle cx="17.0" cy="36.3" r="0.47" opacity="0.49"/><circle cx="51.0" cy="9.6" r="0.60" opacity="0.15"/><circle cx="32.2" cy="16.8" r="0.62" opacity="0.15"/><circle cx="13.5" cy="29.3" r="0.49" opacity="0.32"/><circle cx="43.6" cy="27.0" r="0.38" opacity="0.30"/><circle cx="22.6" cy="60.3" r="0.70" opacity="0.33"/><circle cx="29.3" cy="60.6" r="0.54" opacity="0.54"/><circle cx="41.4" cy="59.9" r="0.45" opacity="0.17"/><circle cx="38.3" cy="9.0" r="0.54" opacity="0.52"/><circle cx="26.4" cy="50.7" r="0.75" opacity="0.45"/><circle cx="26.1" cy="42.3" r="0.51" opacity="0.23"/><circle cx="15.9" cy="23.0" r="0.70" opacity="0.26"/><circle cx="25.1" cy="43.1" r="0.35" opacity="0.42"/><circle cx="36.2" cy="14.6" r="0.33" opacity="0.14"/><circle cx="46.7" cy="18.8" r="0.44" opacity="0.24"/><circle cx="47.8" cy="17.9" r="0.51" opacity="0.34"/><circle cx="37.6" cy="61.0" r="0.36" opacity="0.56"/><circle cx="45.8" cy="18.0" r="0.60" opacity="0.42"/><circle cx="48.8" cy="45.1" r="0.45" opacity="0.34"/><circle cx="27.7" cy="29.5" r="0.38" opacity="0.24"/><circle cx="23.5" cy="31.8" r="0.73" opacity="0.31"/><circle cx="55.7" cy="23.5" r="0.44" opacity="0.21"/><circle cx="54.9" cy="17.2" r="0.74" opacity="0.54"/><circle cx="48.9" cy="40.2" r="0.56" opacity="0.43"/><circle cx="54.1" cy="37.1" r="0.50" opacity="0.11"/><circle cx="48.2" cy="20.2" r="0.73" opacity="0.17"/><circle cx="54.0" cy="7.8" r="0.64" opacity="0.56"/><circle cx="42.1" cy="9.5" r="0.64" opacity="0.28"/><circle cx="15.7" cy="20.0" r="0.68" opacity="0.12"/><circle cx="49.2" cy="26.4" r="0.51" opacity="0.49"/><circle cx="17.1" cy="35.3" r="0.65" opacity="0.24"/><circle cx="12.5" cy="49.4" r="0.69" opacity="0.57"/><circle cx="30.0" cy="49.7" r="0.70" opacity="0.52"/><circle cx="15.8" cy="35.3" r="0.48" opacity="0.15"/><circle cx="40.7" cy="58.3" r="0.52" opacity="0.14"/><circle cx="51.0" cy="41.4" r="0.71" opacity="0.46"/><circle cx="28.7" cy="29.1" r="0.45" opacity="0.40"/><circle cx="35.6" cy="37.5" r="0.69" opacity="0.27"/><circle cx="41.4" cy="6.9" r="0.67" opacity="0.24"/><circle cx="47.1" cy="11.0" r="0.43" opacity="0.16"/><circle cx="49.5" cy="51.6" r="0.37" opacity="0.24"/><circle cx="38.4" cy="31.4" r="0.33" opacity="0.59"/><circle cx="39.2" cy="57.0" r="0.38" opacity="0.20"/><circle cx="40.7" cy="24.1" r="0.54" opacity="0.29"/><circle cx="47.4" cy="46.5" r="0.68" opacity="0.26"/><circle cx="42.7" cy="28.7" r="0.55" opacity="0.27"/><circle cx="38.0" cy="42.0" r="0.31" opacity="0.26"/><circle cx="27.7" cy="59.7" r="0.53" opacity="0.55"/><circle cx="26.7" cy="37.1" r="0.69" opacity="0.49"/><circle cx="22.6" cy="29.1" r="0.65" opacity="0.45"/><circle cx="10.1" cy="29.8" r="0.43" opacity="0.23"/><circle cx="21.3" cy="26.0" r="0.63" opacity="0.24"/><circle cx="35.7" cy="22.5" r="0.74" opacity="0.13"/><circle cx="44.6" cy="10.1" r="0.60" opacity="0.11"/><circle cx="37.8" cy="61.9" r="0.67" opacity="0.52"/><circle cx="21.8" cy="25.3" r="0.73" opacity="0.43"/><circle cx="39.5" cy="41.0" r="0.51" opacity="0.47"/><circle cx="49.9" cy="4.9" r="0.55" opacity="0.26"/><circle cx="21.6" cy="59.9" r="0.58" opacity="0.21"/><circle cx="21.6" cy="45.9" r="0.63" opacity="0.38"/><circle cx="41.8" cy="39.4" r="0.31" opacity="0.54"/><circle cx="28.8" cy="43.2" r="0.58" opacity="0.15"/><circle cx="48.8" cy="10.2" r="0.45" opacity="0.34"/><circle cx="35.8" cy="13.2" r="0.45" opacity="0.53"/><circle cx="48.3" cy="53.4" r="0.50" opacity="0.43"/><circle cx="58.7" cy="13.2" r="0.32" opacity="0.47"/><circle cx="55.9" cy="22.6" r="0.43" opacity="0.29"/><circle cx="48.1" cy="47.7" r="0.53" opacity="0.11"/><circle cx="11.9" cy="44.8" r="0.32" opacity="0.35"/><circle cx="18.0" cy="27.6" r="0.62" opacity="0.25"/><circle cx="26.7" cy="34.3" r="0.69" opacity="0.31"/><circle cx="28.9" cy="24.5" r="0.51" opacity="0.20"/><circle cx="17.2" cy="25.3" r="0.49" opacity="0.39"/><circle cx="45.6" cy="25.6" r="0.41" opacity="0.56"/><circle cx="38.2" cy="7.4" r="0.37" opacity="0.31"/><circle cx="41.4" cy="58.2" r="0.37" opacity="0.17"/><circle cx="33.9" cy="13.1" r="0.32" opacity="0.58"/><circle cx="18.7" cy="48.0" r="0.57" opacity="0.32"/><circle cx="42.3" cy="56.3" r="0.52" opacity="0.13"/><circle cx="51.2" cy="49.7" r="0.50" opacity="0.53"/><circle cx="38.8" cy="50.8" r="0.64" opacity="0.33"/><circle cx="32.8" cy="59.9" r="0.71" opacity="0.37"/><circle cx="43.5" cy="32.6" r="0.34" opacity="0.19"/><circle cx="8.5" cy="31.0" r="0.74" opacity="0.47"/><circle cx="10.9" cy="35.4" r="0.41" opacity="0.46"/><circle cx="21.5" cy="38.9" r="0.65" opacity="0.13"/><circle cx="36.5" cy="52.0" r="0.53" opacity="0.34"/><circle cx="39.4" cy="58.7" r="0.74" opacity="0.17"/><circle cx="49.7" cy="20.3" r="0.33" opacity="0.30"/><circle cx="54.4" cy="32.7" r="0.32" opacity="0.22"/><circle cx="23.6" cy="54.7" r="0.51" opacity="0.42"/><circle cx="33.1" cy="26.9" r="0.64" opacity="0.38"/><circle cx="44.5" cy="38.0" r="0.45" opacity="0.43"/><circle cx="39.3" cy="55.5" r="0.48" opacity="0.15"/><circle cx="14.5" cy="42.0" r="0.53" opacity="0.50"/><circle cx="26.4" cy="34.0" r="0.52" opacity="0.41"/><circle cx="52.9" cy="26.8" r="0.54" opacity="0.52"/><circle cx="33.3" cy="46.9" r="0.58" opacity="0.43"/><circle cx="39.1" cy="24.8" r="0.60" opacity="0.16"/><circle cx="50.2" cy="33.5" r="0.32" opacity="0.12"/><circle cx="41.8" cy="25.4" r="0.41" opacity="0.51"/><circle cx="57.3" cy="18.2" r="0.48" opacity="0.43"/><circle cx="44.4" cy="47.0" r="0.63" opacity="0.47"/><circle cx="23.8" cy="51.5" r="0.41" opacity="0.15"/><circle cx="42.2" cy="10.0" r="0.57" opacity="0.34"/><circle cx="47.9" cy="30.6" r="0.54" opacity="0.26"/><circle cx="41.3" cy="17.6" r="0.34" opacity="0.22"/><circle cx="31.3" cy="40.0" r="0.39" opacity="0.24"/><circle cx="32.5" cy="22.3" r="0.50" opacity="0.47"/><circle cx="29.4" cy="56.2" r="0.39" opacity="0.37"/><circle cx="16.6" cy="47.0" r="0.44" opacity="0.54"/><circle cx="27.9" cy="52.3" r="0.45" opacity="0.49"/><circle cx="45.1" cy="20.3" r="0.56" opacity="0.43"/><circle cx="58.4" cy="19.7" r="0.30" opacity="0.51"/><circle cx="36.3" cy="14.6" r="0.40" opacity="0.14"/><circle cx="8.9" cy="38.7" r="0.70" opacity="0.15"/><circle cx="57.5" cy="7.9" r="0.55" opacity="0.28"/><circle cx="20.1" cy="29.7" r="0.59" opacity="0.19"/><circle cx="48.6" cy="52.2" r="0.39" opacity="0.24"/><circle cx="35.7" cy="56.9" r="0.39" opacity="0.11"/><circle cx="19.8" cy="47.7" r="0.51" opacity="0.13"/><circle cx="25.6" cy="18.1" r="0.41" opacity="0.17"/><circle cx="39.1" cy="62.0" r="0.71" opacity="0.54"/><circle cx="38.9" cy="41.9" r="0.63" opacity="0.48"/><circle cx="47.7" cy="18.4" r="0.51" opacity="0.28"/><circle cx="50.4" cy="43.7" r="0.58" opacity="0.37"/><circle cx="21.4" cy="28.0" r="0.46" opacity="0.24"/><circle cx="56.8" cy="17.0" r="0.35" opacity="0.49"/><circle cx="51.6" cy="25.5" r="0.54" opacity="0.16"/><circle cx="33.8" cy="55.8" r="0.31" opacity="0.33"/><circle cx="34.2" cy="13.3" r="0.40" opacity="0.51"/><circle cx="16.2" cy="23.5" r="0.66" opacity="0.53"/><circle cx="51.6" cy="17.3" r="0.58" opacity="0.54"/><circle cx="40.9" cy="43.4" r="0.35" opacity="0.26"/><circle cx="26.0" cy="32.1" r="0.72" opacity="0.18"/><circle cx="58.4" cy="15.5" r="0.50" opacity="0.25"/><circle cx="20.3" cy="54.0" r="0.57" opacity="0.26"/><circle cx="24.3" cy="58.1" r="0.54" opacity="0.27"/><circle cx="51.4" cy="35.2" r="0.64" opacity="0.30"/><circle cx="28.7" cy="51.9" r="0.52" opacity="0.53"/><circle cx="38.1" cy="23.4" r="0.35" opacity="0.28"/><circle cx="24.5" cy="48.9" r="0.73" opacity="0.57"/><circle cx="36.1" cy="55.6" r="0.50" opacity="0.23"/><circle cx="44.0" cy="13.4" r="0.53" opacity="0.26"/><circle cx="13.8" cy="52.7" r="0.72" opacity="0.31"/><circle cx="38.7" cy="9.9" r="0.43" opacity="0.33"/><circle cx="57.3" cy="24.0" r="0.30" opacity="0.54"/><circle cx="13.2" cy="18.0" r="0.36" opacity="0.55"/><circle cx="27.1" cy="51.5" r="0.52" opacity="0.23"/><circle cx="31.0" cy="25.1" r="0.31" opacity="0.38"/><circle cx="58.0" cy="16.5" r="0.32" opacity="0.37"/><circle cx="37.1" cy="16.9" r="0.58" opacity="0.33"/><circle cx="33.4" cy="12.8" r="0.43" opacity="0.15"/><circle cx="18.5" cy="51.2" r="0.73" opacity="0.56"/><circle cx="27.6" cy="51.6" r="0.43" opacity="0.12"/><circle cx="35.4" cy="30.2" r="0.67" opacity="0.12"/><circle cx="29.4" cy="11.2" r="0.33" opacity="0.19"/><circle cx="28.7" cy="34.7" r="0.50" opacity="0.40"/><circle cx="13.7" cy="30.5" r="0.47" opacity="0.22"/><circle cx="25.6" cy="19.8" r="0.34" opacity="0.51"/><circle cx="42.1" cy="30.4" r="0.63" opacity="0.29"/><circle cx="18.9" cy="19.7" r="0.69" opacity="0.17"/></g><ellipse cx="31" cy="29" rx="11" ry="6" fill="#3ae626" opacity="0.3825" transform="rotate(-5 31 29)" filter="url(#b10)"/><g fill="#55ff2a" filter="url(#b03)"><circle cx="25.1" cy="29.7" r="0.40" opacity="0.47"/><circle cx="26.1" cy="36.3" r="0.37" opacity="0.62"/><circle cx="37.2" cy="22.5" r="0.82" opacity="0.66"/><circle cx="19.9" cy="27.6" r="0.74" opacity="0.77"/><circle cx="22.5" cy="23.5" r="0.78" opacity="0.79"/><circle cx="37.5" cy="25.2" r="0.56" opacity="0.74"/><circle cx="37.4" cy="34.2" r="0.83" opacity="0.67"/><circle cx="39.1" cy="33.7" r="0.68" opacity="0.33"/><circle cx="27.1" cy="33.3" r="0.36" opacity="0.55"/><circle cx="34.2" cy="24.6" r="0.58" opacity="0.72"/><circle cx="21.7" cy="28.8" r="0.40" opacity="0.49"/><circle cx="40.9" cy="32.9" r="0.37" opacity="0.74"/><circle cx="35.1" cy="30.5" r="0.51" opacity="0.45"/><circle cx="22.8" cy="33.2" r="0.38" opacity="0.78"/><circle cx="20.7" cy="33.2" r="0.67" opacity="0.48"/><circle cx="25.2" cy="28.4" r="0.53" opacity="0.79"/><circle cx="34.8" cy="30.5" r="0.71" opacity="0.55"/><circle cx="20.5" cy="32.9" r="0.78" opacity="0.75"/><circle cx="28.2" cy="32.7" r="0.40" opacity="0.65"/><circle cx="37.6" cy="28.6" r="0.82" opacity="0.50"/><circle cx="39.7" cy="26.9" r="0.57" opacity="0.49"/><circle cx="19.9" cy="32.3" r="0.81" opacity="0.65"/><circle cx="24.1" cy="26.5" r="0.84" opacity="0.41"/><circle cx="42.8" cy="27.2" r="0.64" opacity="0.66"/><circle cx="35.7" cy="32.4" r="0.83" opacity="0.62"/><circle cx="41.8" cy="33.9" r="0.67" opacity="0.33"/><circle cx="34.2" cy="26.6" r="0.71" opacity="0.71"/><circle cx="39.8" cy="26.9" r="0.38" opacity="0.69"/><circle cx="43.9" cy="29.0" r="0.84" opacity="0.59"/><circle cx="28.0" cy="38.6" r="0.38" opacity="0.48"/><circle cx="32.4" cy="27.1" r="0.47" opacity="0.50"/><circle cx="37.3" cy="34.4" r="0.68" opacity="0.69"/><circle cx="28.6" cy="32.1" r="0.40" opacity="0.63"/><circle cx="35.3" cy="33.3" r="0.79" opacity="0.80"/><circle cx="35.0" cy="24.2" r="0.83" opacity="0.64"/><circle cx="32.7" cy="25.8" r="0.67" opacity="0.77"/><circle cx="21.2" cy="31.0" r="0.81" opacity="0.32"/><circle cx="28.7" cy="25.8" r="0.59" opacity="0.62"/><circle cx="31.1" cy="24.1" r="0.83" opacity="0.71"/><circle cx="31.9" cy="23.1" r="0.40" opacity="0.77"/><circle cx="35.1" cy="28.9" r="0.77" opacity="0.73"/><circle cx="41.4" cy="30.2" r="0.58" opacity="0.40"/><circle cx="31.6" cy="33.5" r="0.73" opacity="0.51"/><circle cx="33.4" cy="36.4" r="0.62" opacity="0.66"/><circle cx="27.0" cy="26.5" r="0.54" opacity="0.45"/><circle cx="37.6" cy="32.8" r="0.54" opacity="0.62"/><circle cx="29.0" cy="21.5" r="0.44" opacity="0.35"/><circle cx="35.8" cy="26.8" r="0.89" opacity="0.76"/><circle cx="27.6" cy="36.8" r="0.87" opacity="0.53"/><circle cx="29.5" cy="33.0" r="0.81" opacity="0.66"/><circle cx="18.6" cy="30.8" r="0.70" opacity="0.44"/><circle cx="24.2" cy="28.7" r="0.58" opacity="0.77"/><circle cx="42.2" cy="30.0" r="0.69" opacity="0.48"/><circle cx="29.9" cy="29.8" r="0.81" opacity="0.63"/><circle cx="22.4" cy="29.1" r="0.82" opacity="0.48"/><circle cx="28.3" cy="21.9" r="0.51" opacity="0.41"/><circle cx="35.0" cy="36.5" r="0.83" opacity="0.37"/><circle cx="25.0" cy="34.5" r="0.69" opacity="0.48"/><circle cx="27.7" cy="34.0" r="0.60" opacity="0.42"/><circle cx="29.2" cy="22.8" r="0.59" opacity="0.40"/><circle cx="26.1" cy="34.8" r="0.86" opacity="0.76"/><circle cx="39.7" cy="29.9" r="0.63" opacity="0.31"/><circle cx="35.6" cy="30.1" r="0.54" opacity="0.73"/><circle cx="37.6" cy="37.5" r="0.54" opacity="0.56"/><circle cx="30.7" cy="35.6" r="0.66" opacity="0.41"/><circle cx="40.7" cy="31.0" r="0.45" opacity="0.59"/><circle cx="22.3" cy="33.5" r="0.43" opacity="0.69"/><circle cx="33.8" cy="29.4" r="0.60" opacity="0.79"/><circle cx="25.9" cy="31.7" r="0.59" opacity="0.79"/><circle cx="29.6" cy="31.1" r="0.76" opacity="0.62"/><circle cx="34.5" cy="38.7" r="0.84" opacity="0.71"/><circle cx="35.2" cy="27.9" r="0.86" opacity="0.68"/><circle cx="28.8" cy="27.5" r="0.89" opacity="0.31"/><circle cx="22.9" cy="33.4" r="0.56" opacity="0.68"/><circle cx="39.9" cy="24.4" r="0.63" opacity="0.54"/><circle cx="36.7" cy="34.8" r="0.54" opacity="0.77"/><circle cx="26.4" cy="33.6" r="0.42" opacity="0.44"/><circle cx="21.0" cy="35.4" r="0.62" opacity="0.35"/><circle cx="39.8" cy="31.1" r="0.71" opacity="0.42"/><circle cx="35.7" cy="25.8" r="0.89" opacity="0.33"/><circle cx="19.2" cy="27.1" r="0.42" opacity="0.37"/><circle cx="37.7" cy="31.3" r="0.73" opacity="0.39"/><circle cx="34.7" cy="37.0" r="0.40" opacity="0.39"/><circle cx="29.9" cy="25.5" r="0.82" opacity="0.58"/><circle cx="30.2" cy="27.1" r="0.44" opacity="0.39"/><circle cx="22.3" cy="32.3" r="0.63" opacity="0.55"/><circle cx="32.1" cy="32.0" r="0.90" opacity="0.56"/><circle cx="38.0" cy="24.9" r="0.79" opacity="0.57"/><circle cx="25.4" cy="25.4" r="0.71" opacity="0.48"/><circle cx="32.2" cy="38.7" r="0.56" opacity="0.80"/></g><ellipse cx="46" cy="35" rx="5" ry="5" fill="#000" opacity="0.7" filter="url(#b06)"/></g><g style="mix-blend-mode:screen"><ellipse cx="28.5" cy="36" rx="5.5" ry="5" fill="#2222ff" opacity="1" filter="url(#b06)"/></g><g style="mix-blend-mode:screen"><path d="M16,22.8 L19,22" fill="none" stroke="#ff2212" stroke-width="1.6" stroke-linecap="round" stroke-linejoin="round" opacity="1" filter="url(#b03)"/><path d="M26.5,21.5 L28,24" fill="none" stroke="#ff2212" stroke-width="1.3" stroke-linecap="round" stroke-linejoin="round" opacity="1" filter="url(#b03)"/><path d="M37,22 L39,23" fill="none" stroke="#ff2212" stroke-width="1.2" stroke-linecap="round" stroke-linejoin="round" opacity="1" filter="url(#b03)"/><path d="M13,29.5 L15.5,32" fill="none" stroke="#ff2212" stroke-width="1.4" stroke-linecap="round" stroke-linejoin="round" opacity="1" filter="url(#b03)"/><path d="M16,36 L18.5,33" fill="none" stroke="#ff2212" stroke-width="1.8" stroke-linecap="round" stroke-linejoin="round" opacity="1" filter="url(#b03)"/><path d="M31.5,44 L35.5,42.5" fill="none" stroke="#ff2212" stroke-width="2.0" stroke-linecap="round" stroke-linejoin="round" opacity="1" filter="url(#b03)"/><path d="M37.5,25.5 L39,24" fill="none" stroke="#ff2212" stroke-width="1.2" stroke-linecap="round" stroke-linejoin="round" opacity="1" filter="url(#b03)"/></g></g></g>
<g clip-path="url(#c6)" style="isolation:isolate"><rect x="294.2" y="147.7" width="63.3" height="63.0" fill="#000"/><g transform="translate(294.2 147.7) scale(0.9891 0.9844)"><path d="M34.62,3.84 C34.91,3.69 35.80,4.17 36.14,4.08 C36.49,3.98 37.22,2.83 37.57,3.03 C37.91,3.22 38.94,5.33 39.13,5.72 C39.33,6.10 38.95,5.98 39.25,6.31 C39.55,6.64 41.09,8.27 41.71,8.52 C42.33,8.77 44.03,8.30 44.55,8.42 C45.07,8.54 45.80,9.28 46.17,9.54 C46.54,9.81 47.73,10.15 47.75,10.70 C47.77,11.25 46.44,13.59 46.35,14.26 C46.26,14.93 47.01,16.12 46.97,16.45 C46.92,16.78 46.13,16.82 45.94,17.07 C45.76,17.32 45.81,18.66 45.40,18.57 C44.98,18.48 42.89,16.68 42.38,16.31 C41.86,15.95 41.39,15.85 41.01,15.45 C40.63,15.04 39.52,13.35 39.14,12.87 C38.76,12.39 38.16,11.52 37.77,11.31 C37.37,11.10 36.24,11.40 35.74,11.09 C35.24,10.79 33.70,9.16 33.49,8.68 C33.28,8.21 34.07,7.39 33.94,7.03 C33.81,6.67 32.41,5.79 32.38,5.60 C32.35,5.40 33.42,5.54 33.68,5.34 C33.94,5.13 34.33,3.99 34.62,3.84Z" fill="#ff2212" opacity="1" filter="url(#b03)"/><path d="M11.00,13.00 C11.67,12.00 13.17,11.83 14.00,12.00 C14.83,12.17 15.50,12.67 16.00,14.00 C16.50,15.33 17.17,18.33 17.00,20.00 C16.83,21.67 15.83,23.50 15.00,24.00 C14.17,24.50 12.83,24.00 12.00,23.00 C11.17,22.00 10.17,19.67 10.00,18.00 C9.83,16.33 10.33,14.00 11.00,13.00Z" fill="#ff2212" opacity="1" filter="url(#b03)"/><path d="M20.50,14.00 C21.17,13.25 23.92,12.67 25.00,12.50 C26.08,12.33 27.33,12.42 27.00,13.00 C26.67,13.58 24.00,15.33 23.00,16.00 C22.00,16.67 21.42,17.33 21.00,17.00 C20.58,16.67 19.83,14.75 20.50,14.00Z" fill="#ff2212" opacity="1" filter="url(#b03)"/><path d="M24.50,26.00 C24.92,25.33 26.42,24.67 27.00,25.00 C27.58,25.33 28.17,27.17 28.00,28.00 C27.83,28.83 26.58,29.83 26.00,30.00 C25.42,30.17 24.75,29.67 24.50,29.00 C24.25,28.33 24.08,26.67 24.50,26.00Z" fill="#ff2212" opacity="1" filter="url(#b03)"/><path d="M5.00,33.00 C5.50,32.00 7.50,30.67 9.00,30.00 C10.50,29.33 13.00,28.67 14.00,29.00 C15.00,29.33 15.67,31.17 15.00,32.00 C14.33,32.83 11.50,33.33 10.00,34.00 C8.50,34.67 6.83,36.17 6.00,36.00 C5.17,35.83 4.50,34.00 5.00,33.00Z" fill="#ff2212" opacity="1" filter="url(#b03)"/><path d="M11.54,35.98 C11.77,35.56 12.74,35.02 13.16,34.68 C13.58,34.33 14.51,33.19 15.14,33.02 C15.78,32.85 17.81,33.06 18.57,33.24 C19.32,33.41 21.04,34.19 21.62,34.49 C22.21,34.78 23.03,35.39 23.57,35.75 C24.11,36.11 25.52,37.45 26.27,37.59 C27.02,37.73 29.22,36.82 29.97,36.92 C30.72,37.02 32.50,38.10 32.70,38.43 C32.89,38.77 31.57,39.30 31.65,39.82 C31.73,40.33 33.26,42.42 33.40,42.85 C33.54,43.28 32.71,43.03 32.84,43.50 C32.98,43.98 34.63,46.61 34.55,46.93 C34.47,47.24 32.43,46.10 32.19,46.18 C31.95,46.26 32.84,47.28 32.50,47.63 C32.16,47.99 29.86,49.06 29.27,49.25 C28.69,49.45 27.79,49.06 27.49,49.32 C27.20,49.58 26.95,51.00 26.74,51.46 C26.52,51.93 25.98,52.98 25.62,53.29 C25.26,53.60 24.01,53.59 23.69,54.12 C23.36,54.65 23.34,57.28 22.82,57.82 C22.30,58.36 19.99,58.50 19.20,58.75 C18.41,59.01 16.32,60.02 16.03,60.00 C15.75,59.98 16.77,58.74 16.75,58.59 C16.72,58.43 15.82,59.10 15.83,58.67 C15.83,58.24 16.51,55.72 16.79,54.91 C17.06,54.11 17.94,52.43 18.17,51.77 C18.40,51.11 19.01,49.81 18.77,49.22 C18.52,48.64 16.40,47.26 16.06,46.72 C15.71,46.17 16.11,45.02 15.82,44.54 C15.53,44.06 13.98,42.93 13.58,42.60 C13.17,42.28 12.65,41.94 12.37,41.74 C12.08,41.54 11.23,41.30 11.10,40.89 C10.96,40.48 11.15,38.82 11.21,38.25 C11.26,37.67 11.32,36.39 11.54,35.98Z" fill="#ff2212" opacity="1" filter="url(#b03)"/><path d="M41.00,43.00 C41.83,41.83 44.00,40.67 45.00,41.00 C46.00,41.33 46.83,43.50 47.00,45.00 C47.17,46.50 46.83,49.00 46.00,50.00 C45.17,51.00 43.00,51.33 42.00,51.00 C41.00,50.67 40.17,49.33 40.00,48.00 C39.83,46.67 40.17,44.17 41.00,43.00Z" fill="#ff2212" opacity="1" filter="url(#b03)"/><path d="M48.00,46.00 C48.58,45.58 50.33,45.17 51.00,45.50 C51.67,45.83 52.33,47.25 52.00,48.00 C51.67,48.75 49.75,50.00 49.00,50.00 C48.25,50.00 47.67,48.67 47.50,48.00 C47.33,47.33 47.42,46.42 48.00,46.00Z" fill="#ff2212" opacity="1" filter="url(#b03)"/><path d="M8,41 L10,43 L12,45" fill="none" stroke="#ff2212" stroke-width="1.3" stroke-linecap="round" stroke-linejoin="round" opacity="0.8" filter="url(#b03)"/></g></g>
<g clip-path="url(#c7)" style="isolation:isolate"><rect x="359.8" y="147.7" width="63.2" height="63.0" fill="#000"/><g transform="translate(359.8 147.7) scale(0.9875 0.9844)"><ellipse cx="36" cy="7.5" rx="3" ry="2.6" fill="#3ae626" opacity="1" filter="url(#b03)"/><path d="M39.82,9.92 C40.11,9.26 43.22,9.85 43.94,10.31 C44.67,10.77 46.31,13.22 46.01,13.87 C45.72,14.52 42.17,16.36 41.45,15.90 C40.73,15.44 39.53,10.57 39.82,9.92Z" fill="#3ae626" opacity="1" filter="url(#b03)"/><path d="M44,18 L49,20.5" fill="none" stroke="#3ae626" stroke-width="2.6" stroke-linecap="round" stroke-linejoin="round" opacity="1" filter="url(#b03)"/><path d="M12.50,16.00 C12.58,15.33 14.33,15.83 15.00,16.50 C15.67,17.17 16.58,19.33 16.50,20.00 C16.42,20.67 15.17,21.17 14.50,20.50 C13.83,19.83 12.42,16.67 12.50,16.00Z" fill="#3ae626" opacity="1" filter="url(#b03)"/><path d="M19.35,15.27 C19.67,15.01 21.70,14.36 22.50,14.20 C23.30,14.04 25.72,13.82 26.24,13.91 C26.76,14.00 26.81,14.71 26.93,15.00 C27.06,15.29 27.57,16.03 27.33,16.41 C27.08,16.78 25.44,17.90 24.82,18.24 C24.21,18.59 22.52,19.32 22.07,19.36 C21.61,19.39 21.09,18.54 20.91,18.55 C20.72,18.56 20.62,19.69 20.49,19.45 C20.37,19.20 19.96,16.92 19.83,16.43 C19.69,15.95 19.04,15.54 19.35,15.27Z" fill="#3ae626" opacity="1" filter="url(#b03)"/><g fill="#3ae626" filter="url(#b03)"><circle cx="26.9" cy="16.5" r="0.64" opacity="0.27"/><circle cx="23.9" cy="16.2" r="0.70" opacity="0.48"/><circle cx="26.5" cy="14.9" r="0.58" opacity="0.33"/><circle cx="29.8" cy="13.9" r="0.63" opacity="0.45"/><circle cx="29.1" cy="16.5" r="0.39" opacity="0.38"/><circle cx="31.5" cy="18.2" r="0.44" opacity="0.53"/><circle cx="29.8" cy="16.5" r="0.70" opacity="0.34"/><circle cx="24.2" cy="17.7" r="0.63" opacity="0.45"/><circle cx="25.5" cy="17.7" r="0.41" opacity="0.20"/><circle cx="25.3" cy="18.3" r="0.55" opacity="0.28"/><circle cx="29.2" cy="16.6" r="0.50" opacity="0.31"/><circle cx="25.6" cy="14.8" r="0.52" opacity="0.58"/><circle cx="22.9" cy="15.3" r="0.56" opacity="0.56"/><circle cx="24.9" cy="18.4" r="0.52" opacity="0.23"/><circle cx="25.3" cy="14.9" r="0.36" opacity="0.58"/><circle cx="29.2" cy="16.3" r="0.43" opacity="0.33"/><circle cx="31.6" cy="14.6" r="0.69" opacity="0.50"/><circle cx="30.2" cy="15.4" r="0.39" opacity="0.48"/><circle cx="25.7" cy="16.4" r="0.38" opacity="0.25"/><circle cx="23.4" cy="14.7" r="0.50" opacity="0.46"/></g><ellipse cx="26" cy="28" rx="2" ry="3" fill="#3ae626" opacity="1" transform="rotate(15 26 28)" filter="url(#b03)"/><path d="M11.76,31.46 C12.06,31.43 12.82,32.34 13.33,32.33 C13.84,32.32 15.77,31.33 16.16,31.38 C16.54,31.43 16.45,32.33 16.61,32.77 C16.76,33.21 17.06,34.62 17.46,35.15 C17.87,35.68 19.45,36.89 20.06,37.32 C20.67,37.76 22.18,38.88 22.68,38.88 C23.17,38.88 23.64,37.60 24.31,37.30 C24.98,37.00 27.86,36.23 28.45,36.34 C29.03,36.44 29.23,37.86 29.31,38.24 C29.39,38.62 29.38,39.22 29.12,39.57 C28.86,39.92 27.35,41.02 27.07,41.23 C26.78,41.45 26.58,41.05 26.68,41.43 C26.79,41.81 27.77,43.89 27.95,44.46 C28.14,45.04 28.27,45.71 28.25,46.34 C28.23,46.97 27.73,49.05 27.75,49.83 C27.76,50.60 28.69,52.52 28.38,52.96 C28.07,53.40 25.59,53.26 25.11,53.64 C24.62,54.02 24.68,55.79 24.24,56.22 C23.80,56.64 21.78,57.23 21.36,57.28 C20.95,57.32 21.05,56.89 20.69,56.60 C20.33,56.32 18.63,55.33 18.29,54.84 C17.96,54.34 17.97,53.09 17.81,52.33 C17.66,51.56 17.31,49.23 16.99,48.29 C16.66,47.35 15.28,44.89 15.04,44.27 C14.80,43.65 15.06,43.40 14.92,42.96 C14.78,42.52 14.12,41.04 13.85,40.49 C13.58,39.94 12.88,38.94 12.58,38.26 C12.28,37.58 11.52,35.30 11.31,34.64 C11.10,33.99 10.72,33.00 10.78,32.63 C10.83,32.26 11.46,31.50 11.76,31.46Z" fill="#3ae626" opacity="1" filter="url(#b03)"/><g fill="#3ae626" filter="url(#b03)"><circle cx="13.7" cy="37.2" r="0.67" opacity="0.54"/><circle cx="17.8" cy="31.8" r="0.41" opacity="0.45"/><circle cx="24.2" cy="46.3" r="0.41" opacity="0.49"/><circle cx="28.6" cy="50.5" r="0.47" opacity="0.28"/><circle cx="29.7" cy="47.9" r="0.70" opacity="0.56"/><circle cx="21.0" cy="58.2" r="0.49" opacity="0.48"/><circle cx="29.2" cy="48.3" r="0.73" opacity="0.49"/><circle cx="12.4" cy="39.1" r="0.34" opacity="0.32"/><circle cx="23.8" cy="41.2" r="0.49" opacity="0.30"/><circle cx="24.1" cy="48.1" r="0.39" opacity="0.56"/><circle cx="10.6" cy="41.6" r="0.79" opacity="0.52"/><circle cx="21.6" cy="50.2" r="0.72" opacity="0.59"/><circle cx="14.8" cy="38.5" r="0.41" opacity="0.67"/><circle cx="30.5" cy="39.8" r="0.63" opacity="0.40"/><circle cx="31.6" cy="43.8" r="0.43" opacity="0.32"/><circle cx="21.7" cy="38.4" r="0.59" opacity="0.65"/><circle cx="17.2" cy="37.1" r="0.80" opacity="0.45"/><circle cx="9.1" cy="48.6" r="0.70" opacity="0.41"/><circle cx="25.1" cy="46.0" r="0.43" opacity="0.52"/><circle cx="9.1" cy="43.2" r="0.53" opacity="0.68"/><circle cx="30.5" cy="38.4" r="0.55" opacity="0.29"/><circle cx="14.4" cy="48.9" r="0.60" opacity="0.28"/><circle cx="27.4" cy="46.1" r="0.69" opacity="0.47"/><circle cx="14.6" cy="32.6" r="0.74" opacity="0.67"/><circle cx="8.4" cy="44.6" r="0.33" opacity="0.58"/><circle cx="27.4" cy="34.6" r="0.54" opacity="0.47"/><circle cx="13.4" cy="55.4" r="0.51" opacity="0.31"/><circle cx="21.1" cy="51.4" r="0.40" opacity="0.36"/><circle cx="18.3" cy="45.5" r="0.36" opacity="0.31"/><circle cx="15.5" cy="47.5" r="0.42" opacity="0.31"/><circle cx="12.7" cy="49.7" r="0.41" opacity="0.27"/><circle cx="19.2" cy="53.0" r="0.70" opacity="0.30"/><circle cx="8.7" cy="43.1" r="0.51" opacity="0.43"/><circle cx="26.4" cy="49.9" r="0.79" opacity="0.25"/><circle cx="17.3" cy="40.5" r="0.73" opacity="0.32"/><circle cx="11.3" cy="43.6" r="0.51" opacity="0.34"/><circle cx="18.4" cy="55.1" r="0.58" opacity="0.23"/><circle cx="19.6" cy="37.0" r="0.50" opacity="0.23"/><circle cx="13.4" cy="53.0" r="0.53" opacity="0.41"/><circle cx="21.6" cy="51.1" r="0.38" opacity="0.35"/><circle cx="21.2" cy="51.9" r="0.33" opacity="0.49"/><circle cx="20.1" cy="54.9" r="0.38" opacity="0.68"/><circle cx="22.7" cy="49.9" r="0.42" opacity="0.26"/><circle cx="22.6" cy="48.3" r="0.51" opacity="0.49"/><circle cx="20.6" cy="57.2" r="0.40" opacity="0.56"/><circle cx="12.7" cy="42.1" r="0.64" opacity="0.35"/><circle cx="14.9" cy="52.1" r="0.34" opacity="0.43"/><circle cx="16.3" cy="35.4" r="0.72" opacity="0.55"/><circle cx="28.9" cy="39.4" r="0.63" opacity="0.67"/><circle cx="9.0" cy="46.5" r="0.44" opacity="0.50"/><circle cx="26.1" cy="36.7" r="0.62" opacity="0.33"/><circle cx="19.7" cy="56.3" r="0.72" opacity="0.25"/><circle cx="17.9" cy="38.7" r="0.30" opacity="0.59"/><circle cx="23.8" cy="38.3" r="0.67" opacity="0.48"/><circle cx="18.0" cy="31.3" r="0.34" opacity="0.64"/><circle cx="31.3" cy="46.3" r="0.72" opacity="0.49"/><circle cx="14.6" cy="56.2" r="0.70" opacity="0.63"/><circle cx="13.0" cy="33.9" r="0.69" opacity="0.64"/><circle cx="17.4" cy="48.4" r="0.38" opacity="0.66"/><circle cx="15.3" cy="57.1" r="0.70" opacity="0.63"/></g><ellipse cx="33" cy="46.5" rx="2.5" ry="2.2" fill="#3ae626" opacity="0.7" filter="url(#b06)"/><path d="M43.00,46.00 C43.67,45.33 46.17,44.50 47.00,45.00 C47.83,45.50 48.33,48.00 48.00,49.00 C47.67,50.00 45.83,51.00 45.00,51.00 C44.17,51.00 43.33,49.83 43.00,49.00 C42.67,48.17 42.33,46.67 43.00,46.00Z" fill="#3ae626" opacity="0.9" filter="url(#b03)"/><g fill="#3ae626" filter="url(#b03)"><circle cx="11.8" cy="42.4" r="0.64" opacity="0.32"/><circle cx="19.7" cy="22.3" r="0.59" opacity="0.39"/><circle cx="38.5" cy="32.1" r="0.46" opacity="0.22"/><circle cx="41.4" cy="26.3" r="0.51" opacity="0.29"/><circle cx="36.9" cy="6.1" r="0.39" opacity="0.31"/><circle cx="33.7" cy="47.6" r="0.32" opacity="0.17"/><circle cx="30.1" cy="42.8" r="0.38" opacity="0.33"/><circle cx="25.3" cy="19.9" r="0.63" opacity="0.13"/><circle cx="52.6" cy="20.1" r="0.44" opacity="0.16"/><circle cx="28.3" cy="47.8" r="0.39" opacity="0.27"/><circle cx="26.9" cy="19.7" r="0.35" opacity="0.31"/><circle cx="25.6" cy="28.4" r="0.54" opacity="0.13"/><circle cx="17.2" cy="46.4" r="0.58" opacity="0.19"/><circle cx="18.0" cy="8.4" r="0.47" opacity="0.24"/><circle cx="29.3" cy="29.0" r="0.52" opacity="0.14"/><circle cx="15.7" cy="33.1" r="0.49" opacity="0.15"/><circle cx="45.5" cy="41.8" r="0.44" opacity="0.23"/><circle cx="40.7" cy="33.2" r="0.56" opacity="0.11"/><circle cx="41.1" cy="14.4" r="0.43" opacity="0.26"/><circle cx="53.4" cy="25.1" r="0.56" opacity="0.16"/><circle cx="32.1" cy="39.4" r="0.58" opacity="0.23"/><circle cx="55.2" cy="33.0" r="0.54" opacity="0.18"/><circle cx="29.0" cy="37.4" r="0.46" opacity="0.14"/><circle cx="14.2" cy="49.4" r="0.38" opacity="0.25"/><circle cx="41.0" cy="15.5" r="0.62" opacity="0.24"/><circle cx="26.1" cy="22.9" r="0.41" opacity="0.23"/><circle cx="26.2" cy="24.5" r="0.65" opacity="0.20"/><circle cx="26.6" cy="5.3" r="0.60" opacity="0.32"/><circle cx="38.1" cy="46.6" r="0.41" opacity="0.35"/><circle cx="22.9" cy="48.7" r="0.70" opacity="0.27"/><circle cx="25.9" cy="42.2" r="0.59" opacity="0.25"/><circle cx="8.2" cy="22.5" r="0.57" opacity="0.10"/><circle cx="25.3" cy="51.7" r="0.59" opacity="0.18"/><circle cx="11.1" cy="33.7" r="0.55" opacity="0.19"/><circle cx="30.8" cy="55.6" r="0.56" opacity="0.26"/><circle cx="7.3" cy="28.7" r="0.31" opacity="0.39"/><circle cx="30.9" cy="35.3" r="0.57" opacity="0.11"/><circle cx="46.7" cy="40.3" r="0.33" opacity="0.37"/><circle cx="44.5" cy="17.2" r="0.33" opacity="0.30"/><circle cx="7.3" cy="32.5" r="0.62" opacity="0.22"/><circle cx="21.3" cy="25.7" r="0.35" opacity="0.12"/><circle cx="33.3" cy="46.6" r="0.70" opacity="0.13"/><circle cx="19.8" cy="46.5" r="0.42" opacity="0.33"/><circle cx="36.5" cy="41.9" r="0.64" opacity="0.14"/><circle cx="21.5" cy="42.2" r="0.49" opacity="0.33"/><circle cx="34.7" cy="41.6" r="0.67" opacity="0.13"/><circle cx="48.4" cy="38.2" r="0.48" opacity="0.18"/><circle cx="48.4" cy="16.0" r="0.59" opacity="0.13"/><circle cx="21.0" cy="27.3" r="0.51" opacity="0.40"/><circle cx="36.8" cy="9.6" r="0.62" opacity="0.33"/><circle cx="44.6" cy="30.9" r="0.57" opacity="0.12"/><circle cx="23.5" cy="25.2" r="0.59" opacity="0.12"/><circle cx="14.7" cy="16.5" r="0.38" opacity="0.24"/><circle cx="42.8" cy="24.5" r="0.69" opacity="0.17"/><circle cx="24.8" cy="8.6" r="0.55" opacity="0.28"/><circle cx="37.1" cy="11.4" r="0.64" opacity="0.20"/><circle cx="20.5" cy="7.9" r="0.31" opacity="0.23"/><circle cx="10.9" cy="20.0" r="0.60" opacity="0.33"/><circle cx="27.2" cy="15.7" r="0.55" opacity="0.22"/><circle cx="48.6" cy="18.1" r="0.61" opacity="0.23"/></g><g fill="#3ae626" filter="url(#b03)"><circle cx="41.6" cy="13.4" r="0.78" opacity="0.79"/><circle cx="40.7" cy="8.7" r="0.59" opacity="0.33"/><circle cx="42.9" cy="11.2" r="0.42" opacity="0.38"/><circle cx="43.8" cy="13.9" r="0.62" opacity="0.66"/><circle cx="36.2" cy="12.9" r="0.72" opacity="0.30"/><circle cx="44.8" cy="14.3" r="0.40" opacity="0.58"/><circle cx="43.8" cy="11.2" r="0.58" opacity="0.70"/><circle cx="37.1" cy="12.4" r="0.65" opacity="0.32"/><circle cx="46.7" cy="12.5" r="0.40" opacity="0.45"/><circle cx="43.3" cy="12.4" r="0.86" opacity="0.31"/><circle cx="36.6" cy="13.1" r="0.42" opacity="0.59"/><circle cx="45.1" cy="9.6" r="0.79" opacity="0.42"/><circle cx="45.9" cy="9.8" r="0.51" opacity="0.63"/><circle cx="44.2" cy="15.6" r="0.42" opacity="0.64"/><circle cx="36.2" cy="9.1" r="0.75" opacity="0.37"/><circle cx="43.3" cy="18.9" r="0.68" opacity="0.65"/><circle cx="37.7" cy="14.5" r="0.78" opacity="0.37"/><circle cx="38.5" cy="14.7" r="0.47" opacity="0.65"/><circle cx="44.1" cy="15.5" r="0.59" opacity="0.50"/><circle cx="42.2" cy="10.3" r="0.59" opacity="0.36"/><circle cx="46.2" cy="14.2" r="0.45" opacity="0.53"/><circle cx="39.8" cy="9.9" r="0.67" opacity="0.72"/><circle cx="38.2" cy="16.1" r="0.85" opacity="0.50"/><circle cx="36.2" cy="11.3" r="0.56" opacity="0.57"/><circle cx="44.8" cy="12.4" r="0.61" opacity="0.42"/><circle cx="46.6" cy="10.7" r="0.49" opacity="0.54"/><circle cx="43.3" cy="14.7" r="0.86" opacity="0.79"/><circle cx="45.3" cy="12.5" r="0.75" opacity="0.36"/><circle cx="44.4" cy="14.2" r="0.51" opacity="0.45"/><circle cx="43.9" cy="14.1" r="0.43" opacity="0.54"/><circle cx="42.6" cy="15.8" r="0.46" opacity="0.75"/><circle cx="42.5" cy="17.1" r="0.77" opacity="0.44"/><circle cx="37.0" cy="9.5" r="0.78" opacity="0.42"/><circle cx="49.1" cy="15.6" r="0.71" opacity="0.50"/><circle cx="41.6" cy="17.3" r="0.64" opacity="0.73"/><circle cx="36.3" cy="10.8" r="0.86" opacity="0.34"/><circle cx="38.1" cy="10.3" r="0.66" opacity="0.57"/><circle cx="45.3" cy="17.8" r="0.78" opacity="0.57"/><circle cx="46.1" cy="17.3" r="0.86" opacity="0.70"/><circle cx="39.4" cy="11.7" r="0.41" opacity="0.57"/></g><g fill="#3ae626" filter="url(#b03)"><circle cx="13.7" cy="17.4" r="0.41" opacity="0.56"/><circle cx="24.8" cy="16.3" r="0.70" opacity="0.49"/><circle cx="22.9" cy="17.0" r="0.47" opacity="0.58"/><circle cx="15.5" cy="17.4" r="0.61" opacity="0.68"/><circle cx="22.4" cy="13.8" r="0.66" opacity="0.41"/><circle cx="20.1" cy="18.2" r="0.62" opacity="0.77"/><circle cx="20.5" cy="17.2" r="0.55" opacity="0.80"/><circle cx="18.6" cy="13.9" r="0.70" opacity="0.43"/><circle cx="17.1" cy="14.7" r="0.47" opacity="0.65"/><circle cx="13.7" cy="16.8" r="0.41" opacity="0.38"/><circle cx="24.4" cy="15.1" r="0.86" opacity="0.77"/><circle cx="20.1" cy="16.5" r="0.59" opacity="0.38"/><circle cx="22.2" cy="18.3" r="0.53" opacity="0.60"/><circle cx="18.7" cy="13.1" r="0.60" opacity="0.58"/><circle cx="18.9" cy="14.4" r="0.61" opacity="0.58"/><circle cx="24.7" cy="18.1" r="0.41" opacity="0.32"/><circle cx="23.6" cy="12.9" r="0.75" opacity="0.67"/><circle cx="28.1" cy="16.3" r="0.64" opacity="0.39"/><circle cx="21.8" cy="16.6" r="0.62" opacity="0.65"/><circle cx="16.1" cy="18.1" r="0.89" opacity="0.37"/><circle cx="18.5" cy="18.2" r="0.67" opacity="0.41"/><circle cx="24.0" cy="12.6" r="0.50" opacity="0.56"/><circle cx="20.9" cy="14.2" r="0.84" opacity="0.45"/><circle cx="28.4" cy="13.7" r="0.41" opacity="0.49"/><circle cx="18.3" cy="14.4" r="0.53" opacity="0.66"/><circle cx="26.8" cy="13.5" r="0.77" opacity="0.45"/><circle cx="14.9" cy="15.7" r="0.74" opacity="0.65"/><circle cx="13.6" cy="17.5" r="0.49" opacity="0.70"/><circle cx="24.9" cy="17.7" r="0.82" opacity="0.59"/><circle cx="16.5" cy="19.2" r="0.47" opacity="0.49"/><circle cx="17.2" cy="15.3" r="0.48" opacity="0.48"/><circle cx="28.0" cy="13.9" r="0.60" opacity="0.50"/><circle cx="14.8" cy="16.6" r="0.49" opacity="0.75"/><circle cx="22.1" cy="13.1" r="0.66" opacity="0.45"/><circle cx="20.1" cy="16.1" r="0.84" opacity="0.39"/></g><g fill="#3ae626" filter="url(#b03)"><circle cx="23.1" cy="37.3" r="0.79" opacity="0.77"/><circle cx="17.2" cy="39.5" r="0.93" opacity="0.78"/><circle cx="28.9" cy="42.9" r="0.92" opacity="0.35"/><circle cx="20.7" cy="44.2" r="0.44" opacity="0.58"/><circle cx="17.8" cy="41.6" r="0.46" opacity="0.63"/><circle cx="23.9" cy="50.9" r="0.86" opacity="0.76"/><circle cx="12.1" cy="43.7" r="0.48" opacity="0.66"/><circle cx="13.9" cy="38.8" r="0.55" opacity="0.66"/><circle cx="20.4" cy="53.6" r="0.75" opacity="0.59"/><circle cx="25.4" cy="40.7" r="0.64" opacity="0.44"/><circle cx="23.9" cy="43.8" r="0.77" opacity="0.39"/><circle cx="15.8" cy="50.1" r="0.69" opacity="0.65"/><circle cx="21.5" cy="32.9" r="0.44" opacity="0.40"/><circle cx="20.8" cy="46.4" r="0.83" opacity="0.44"/><circle cx="20.6" cy="50.3" r="0.76" opacity="0.46"/><circle cx="18.7" cy="51.3" r="0.86" opacity="0.54"/><circle cx="22.9" cy="51.7" r="0.43" opacity="0.59"/><circle cx="28.1" cy="41.3" r="0.65" opacity="0.73"/><circle cx="21.0" cy="48.8" r="0.62" opacity="0.33"/><circle cx="21.8" cy="48.0" r="0.83" opacity="0.50"/><circle cx="18.2" cy="38.2" r="0.86" opacity="0.53"/><circle cx="18.0" cy="55.2" r="0.50" opacity="0.36"/><circle cx="16.0" cy="43.0" r="0.41" opacity="0.61"/><circle cx="28.7" cy="47.0" r="0.69" opacity="0.72"/><circle cx="17.5" cy="35.4" r="0.55" opacity="0.74"/><circle cx="24.6" cy="43.4" r="0.58" opacity="0.43"/><circle cx="23.3" cy="50.1" r="0.59" opacity="0.38"/><circle cx="23.2" cy="45.6" r="0.94" opacity="0.40"/><circle cx="14.1" cy="37.7" r="0.53" opacity="0.37"/><circle cx="21.0" cy="44.3" r="0.49" opacity="0.39"/><circle cx="20.1" cy="57.3" r="0.77" opacity="0.75"/><circle cx="18.8" cy="44.0" r="0.95" opacity="0.66"/><circle cx="27.6" cy="53.1" r="0.46" opacity="0.55"/><circle cx="15.0" cy="41.0" r="0.88" opacity="0.39"/><circle cx="19.8" cy="43.9" r="0.76" opacity="0.39"/><circle cx="13.5" cy="45.2" r="0.68" opacity="0.77"/><circle cx="12.7" cy="44.3" r="0.71" opacity="0.80"/><circle cx="18.5" cy="41.1" r="0.60" opacity="0.66"/><circle cx="22.2" cy="54.4" r="0.88" opacity="0.50"/><circle cx="22.4" cy="36.5" r="0.71" opacity="0.44"/><circle cx="20.4" cy="51.7" r="0.62" opacity="0.75"/><circle cx="18.9" cy="36.8" r="0.47" opacity="0.48"/><circle cx="25.5" cy="45.3" r="0.84" opacity="0.36"/><circle cx="29.7" cy="49.4" r="0.49" opacity="0.45"/><circle cx="29.0" cy="42.3" r="0.62" opacity="0.67"/><circle cx="16.3" cy="42.4" r="0.61" opacity="0.50"/><circle cx="13.6" cy="47.9" r="0.49" opacity="0.30"/><circle cx="26.3" cy="50.4" r="0.87" opacity="0.31"/><circle cx="24.4" cy="45.7" r="0.99" opacity="0.65"/><circle cx="19.6" cy="33.6" r="0.91" opacity="0.36"/><circle cx="16.9" cy="39.1" r="0.59" opacity="0.41"/><circle cx="19.6" cy="37.5" r="0.72" opacity="0.35"/><circle cx="26.7" cy="48.3" r="0.47" opacity="0.36"/><circle cx="19.3" cy="49.1" r="0.67" opacity="0.46"/><circle cx="20.4" cy="43.7" r="0.63" opacity="0.51"/><circle cx="15.8" cy="46.2" r="0.79" opacity="0.53"/><circle cx="20.7" cy="53.8" r="0.78" opacity="0.66"/><circle cx="19.9" cy="45.2" r="0.55" opacity="0.76"/><circle cx="13.5" cy="44.6" r="0.68" opacity="0.59"/><circle cx="26.7" cy="44.5" r="0.97" opacity="0.73"/><circle cx="21.6" cy="42.0" r="0.91" opacity="0.71"/><circle cx="17.2" cy="42.8" r="0.50" opacity="0.71"/><circle cx="13.0" cy="40.3" r="0.80" opacity="0.71"/><circle cx="25.5" cy="50.7" r="0.88" opacity="0.59"/><circle cx="28.1" cy="51.9" r="0.43" opacity="0.43"/><circle cx="17.2" cy="41.1" r="0.99" opacity="0.33"/><circle cx="14.5" cy="47.8" r="0.66" opacity="0.75"/><circle cx="25.7" cy="41.9" r="0.64" opacity="0.46"/><circle cx="17.8" cy="43.1" r="0.99" opacity="0.55"/><circle cx="26.9" cy="42.5" r="0.59" opacity="0.43"/><circle cx="16.1" cy="38.6" r="0.91" opacity="0.76"/><circle cx="15.9" cy="46.7" r="0.89" opacity="0.75"/><circle cx="23.2" cy="45.5" r="0.67" opacity="0.46"/><circle cx="23.0" cy="37.0" r="0.86" opacity="0.70"/><circle cx="17.8" cy="47.6" r="0.45" opacity="0.50"/><circle cx="18.0" cy="51.1" r="0.79" opacity="0.56"/><circle cx="14.5" cy="47.6" r="0.61" opacity="0.38"/><circle cx="19.0" cy="52.6" r="0.79" opacity="0.67"/><circle cx="21.6" cy="39.5" r="0.42" opacity="0.44"/><circle cx="28.7" cy="48.9" r="0.99" opacity="0.77"/></g><g fill="#3ae626" filter="url(#b03)"><circle cx="47.8" cy="49.7" r="0.74" opacity="0.31"/><circle cx="47.6" cy="47.0" r="0.80" opacity="0.57"/><circle cx="47.1" cy="49.8" r="0.57" opacity="0.63"/><circle cx="46.1" cy="50.8" r="0.55" opacity="0.32"/><circle cx="47.0" cy="48.5" r="0.88" opacity="0.43"/><circle cx="41.7" cy="48.6" r="0.82" opacity="0.62"/><circle cx="41.8" cy="46.7" r="0.46" opacity="0.50"/><circle cx="47.2" cy="47.6" r="0.67" opacity="0.41"/><circle cx="45.1" cy="51.9" r="0.60" opacity="0.45"/><circle cx="46.5" cy="51.1" r="0.43" opacity="0.62"/><circle cx="45.8" cy="48.8" r="0.66" opacity="0.64"/><circle cx="47.8" cy="46.0" r="0.47" opacity="0.37"/><circle cx="45.4" cy="45.9" r="0.64" opacity="0.56"/><circle cx="44.5" cy="49.0" r="0.66" opacity="0.57"/><circle cx="47.2" cy="47.0" r="0.41" opacity="0.75"/><circle cx="43.9" cy="47.2" r="0.46" opacity="0.59"/><circle cx="45.5" cy="44.4" r="0.61" opacity="0.38"/><circle cx="46.8" cy="51.4" r="0.67" opacity="0.48"/><circle cx="46.9" cy="50.5" r="0.43" opacity="0.54"/><circle cx="46.8" cy="51.3" r="0.48" opacity="0.74"/><circle cx="42.9" cy="48.9" r="0.82" opacity="0.71"/><circle cx="43.5" cy="49.7" r="0.58" opacity="0.42"/><circle cx="47.7" cy="46.0" r="0.57" opacity="0.30"/><circle cx="45.6" cy="50.0" r="0.81" opacity="0.41"/><circle cx="42.1" cy="48.9" r="0.49" opacity="0.37"/></g><g fill="#3ae626" filter="url(#b03)"><circle cx="31.5" cy="46.6" r="0.53" opacity="0.62"/><circle cx="32.7" cy="44.7" r="0.85" opacity="0.62"/><circle cx="35.9" cy="47.3" r="0.49" opacity="0.46"/><circle cx="30.9" cy="48.3" r="0.40" opacity="0.62"/><circle cx="30.3" cy="44.4" r="0.71" opacity="0.57"/><circle cx="33.1" cy="46.4" r="0.69" opacity="0.54"/><circle cx="29.9" cy="44.4" r="0.41" opacity="0.53"/><circle cx="31.4" cy="43.9" r="0.54" opacity="0.68"/><circle cx="35.6" cy="43.6" r="0.72" opacity="0.35"/><circle cx="31.5" cy="46.0" r="0.59" opacity="0.63"/><circle cx="34.2" cy="42.3" r="0.68" opacity="0.34"/><circle cx="30.4" cy="45.1" r="0.56" opacity="0.52"/><circle cx="33.4" cy="48.7" r="0.48" opacity="0.59"/><circle cx="33.1" cy="46.7" r="0.59" opacity="0.48"/><circle cx="35.8" cy="43.8" r="0.68" opacity="0.52"/><circle cx="29.4" cy="45.9" r="0.41" opacity="0.68"/><circle cx="36.5" cy="46.6" r="0.78" opacity="0.59"/><circle cx="32.0" cy="45.4" r="0.65" opacity="0.57"/><circle cx="35.1" cy="46.5" r="0.40" opacity="0.43"/><circle cx="34.0" cy="49.1" r="0.41" opacity="0.59"/></g></g></g>
<g clip-path="url(#c8)" style="isolation:isolate"><rect x="425.2" y="147.7" width="63.0" height="63.0" fill="#000"/><g transform="translate(425.2 147.7) scale(0.9844 0.9844)"><g style="mix-blend-mode:screen"><path d="M23.65,13.24 C23.93,12.53 25.08,10.58 26.02,9.97 C26.95,9.35 30.65,8.65 31.64,8.00 C32.64,7.35 33.66,4.76 34.53,4.40 C35.40,4.04 38.00,4.66 39.11,4.89 C40.22,5.12 42.93,5.95 44.05,6.38 C45.17,6.82 47.74,8.01 48.73,8.63 C49.72,9.25 52.22,10.76 52.52,11.70 C52.82,12.64 51.74,15.46 51.33,16.70 C50.93,17.93 49.64,21.29 49.06,22.30 C48.48,23.30 47.00,24.71 46.38,25.30 C45.76,25.89 44.42,27.30 43.78,27.37 C43.14,27.45 41.76,26.65 40.89,25.96 C40.02,25.28 37.56,22.25 36.33,21.50 C35.09,20.74 31.33,19.72 30.30,19.49 C29.26,19.26 28.25,19.93 27.47,19.52 C26.69,19.12 24.04,16.77 23.60,16.03 C23.15,15.30 23.37,13.95 23.65,13.24Z" fill="#2222ee" opacity="0.95" filter="url(#b06)"/><ellipse cx="44" cy="14" rx="5" ry="5" fill="#4040ff" opacity="0.8" filter="url(#b10)"/><ellipse cx="30" cy="13" rx="4" ry="3" fill="#1010a0" opacity="0.6" filter="url(#b10)"/><ellipse cx="38" cy="10" rx="3" ry="2" fill="#1010a0" opacity="0.5" filter="url(#b10)"/></g><g style="mix-blend-mode:screen"><ellipse cx="14" cy="30" rx="3" ry="3.8" fill="#ff2212" opacity="1" filter="url(#b03)"/><path d="M29.32,21.15 C29.84,20.71 33.76,19.67 34.78,19.75 C35.80,19.83 37.30,21.15 38.07,21.80 C38.84,22.45 40.91,24.37 41.38,25.30 C41.86,26.23 42.51,29.24 42.16,29.76 C41.80,30.28 39.30,30.05 38.32,29.75 C37.35,29.45 34.74,27.94 33.81,27.21 C32.87,26.49 30.83,24.26 30.31,23.56 C29.78,22.85 28.80,21.59 29.32,21.15Z" fill="#ff2212" opacity="1" filter="url(#b03)"/><path d="M6.74,41.00 C7.15,40.56 10.10,39.07 11.08,38.95 C12.05,38.83 14.88,39.55 15.10,39.98 C15.33,40.42 13.90,42.33 13.02,42.64 C12.14,42.96 8.27,42.90 7.53,42.71 C6.80,42.51 6.32,41.44 6.74,41.00Z" fill="#ff2212" opacity="1" filter="url(#b03)"/><path d="M36.43,48.02 C36.85,47.33 38.91,45.76 39.54,46.04 C40.16,46.33 41.77,49.66 41.77,50.45 C41.77,51.24 40.20,52.65 39.52,52.82 C38.84,53.00 36.29,52.51 35.93,51.95 C35.57,51.39 36.01,48.71 36.43,48.02Z" fill="#ff2212" opacity="1" filter="url(#b03)"/><ellipse cx="44" cy="51" rx="2" ry="1.6" fill="#ff2212" opacity="1" filter="url(#b03)"/><path d="M14.90,41.87 C15.04,41.54 15.56,42.10 16.08,42.04 C16.60,41.97 18.72,41.31 19.35,41.34 C19.97,41.38 20.81,42.11 21.45,42.35 C22.08,42.58 24.27,43.16 24.76,43.38 C25.26,43.61 25.36,44.32 25.69,44.29 C26.03,44.27 27.25,43.03 27.63,43.17 C28.02,43.31 28.53,45.08 29.00,45.49 C29.48,45.90 31.51,46.34 31.72,46.70 C31.94,47.05 31.13,47.92 30.82,48.54 C30.51,49.15 29.37,51.56 29.05,51.95 C28.74,52.35 28.46,51.89 28.15,51.93 C27.83,51.96 26.63,51.95 26.35,52.26 C26.07,52.58 25.92,54.13 25.75,54.60 C25.59,55.08 25.36,55.93 24.92,56.34 C24.47,56.75 22.47,57.79 21.93,58.12 C21.38,58.44 20.74,58.94 20.23,59.12 C19.73,59.30 18.09,59.47 17.61,59.65 C17.13,59.82 16.28,60.92 16.12,60.63 C15.96,60.33 16.13,57.86 16.24,57.11 C16.35,56.37 16.97,54.82 17.04,54.23 C17.12,53.64 17.13,52.64 16.91,52.08 C16.68,51.52 15.53,49.87 15.13,49.42 C14.73,48.98 13.69,48.59 13.49,48.26 C13.29,47.93 13.25,46.98 13.41,46.59 C13.58,46.19 14.73,45.42 14.90,44.87 C15.08,44.32 14.76,42.20 14.90,41.87Z" fill="#ff2212" opacity="1" filter="url(#b03)"/><path d="M10,47 L13,50" fill="none" stroke="#ff2212" stroke-width="1.3" stroke-linecap="round" stroke-linejoin="round" opacity="1" filter="url(#b03)"/></g><g style="mix-blend-mode:screen"><path d="M19.87,27.45 C20.30,27.07 22.88,25.50 23.70,25.30 C24.52,25.10 26.91,25.32 26.92,25.74 C26.93,26.15 24.61,28.51 23.80,28.84 C22.99,29.17 20.45,28.75 19.99,28.58 C19.53,28.42 19.44,27.83 19.87,27.45Z" fill="#3ae626" opacity="0.9" filter="url(#b03)"/><path d="M32.30,21.83 C32.54,21.50 35.00,22.90 35.74,23.32 C36.48,23.75 38.34,24.92 38.62,25.48 C38.89,26.03 38.64,28.03 38.06,28.11 C37.48,28.19 34.32,26.86 33.65,26.13 C32.97,25.40 32.05,22.15 32.30,21.83Z" fill="#99ff22" opacity="0.85" filter="url(#b03)"/><ellipse cx="23.5" cy="35.5" rx="1.3" ry="2" fill="#3ae626" opacity="1" filter="url(#b03)"/><path d="M17.63,42.19 C17.82,41.89 19.51,43.38 19.85,43.46 C20.19,43.54 20.26,42.87 20.51,42.85 C20.77,42.84 21.51,42.98 22.07,43.29 C22.63,43.61 24.86,45.12 25.30,45.54 C25.75,45.96 25.59,46.60 25.88,46.89 C26.16,47.19 27.49,47.79 27.76,48.09 C28.02,48.39 28.33,49.03 28.17,49.47 C28.00,49.91 26.61,51.34 26.35,51.85 C26.09,52.36 26.27,53.40 25.96,53.81 C25.64,54.22 24.20,54.95 23.68,55.35 C23.16,55.75 22.09,57.09 21.51,57.22 C20.93,57.34 19.17,56.93 18.73,56.41 C18.29,55.89 17.84,53.51 17.70,52.79 C17.57,52.06 17.52,50.98 17.58,50.19 C17.65,49.40 18.24,46.95 18.25,46.01 C18.25,45.08 17.44,42.49 17.63,42.19Z" fill="#3ae626" opacity="0.95" filter="url(#b03)"/><ellipse cx="39" cy="50" rx="2" ry="2" fill="#3ae626" opacity="0.7" filter="url(#b03)"/><ellipse cx="27" cy="44" rx="3" ry="2" fill="#3ae626" opacity="0.7" filter="url(#b03)"/></g></g></g>
<g clip-path="url(#c9)" style="isolation:isolate"><rect x="20.2" y="248.6" width="63.5" height="63.0" fill="#000"/><g transform="translate(20.2 248.6) scale(0.9922 0.9844)"><path d="M35.92,8.47 C36.38,7.81 38.58,6.26 39.00,5.93 C39.42,5.60 39.14,5.45 39.53,5.62 C39.92,5.80 41.62,7.24 42.32,7.43 C43.03,7.63 45.06,7.01 45.57,7.30 C46.08,7.60 46.52,9.46 46.67,9.98 C46.83,10.51 46.84,11.09 46.94,11.82 C47.03,12.55 47.40,15.39 47.49,16.22 C47.57,17.05 47.71,18.33 47.68,18.96 C47.65,19.58 47.24,21.01 47.22,21.56 C47.20,22.12 47.36,23.25 47.51,23.71 C47.66,24.18 48.74,24.68 48.53,25.56 C48.31,26.43 46.03,30.81 45.68,31.25 C45.33,31.68 45.55,29.15 45.53,29.27 C45.50,29.40 45.95,32.40 45.46,32.34 C44.97,32.28 41.99,29.46 41.34,28.77 C40.69,28.08 40.08,26.70 39.91,26.44 C39.73,26.17 40.02,26.47 39.86,26.49 C39.71,26.52 39.16,26.48 38.59,26.65 C38.02,26.82 35.58,28.05 35.01,27.95 C34.44,27.84 33.84,26.23 33.70,25.76 C33.56,25.29 33.91,24.53 33.79,23.93 C33.67,23.33 32.55,21.00 32.65,20.59 C32.76,20.18 34.24,20.88 34.68,20.40 C35.12,19.92 36.38,17.52 36.43,16.49 C36.47,15.46 35.13,12.52 35.07,11.59 C35.01,10.65 35.47,9.13 35.92,8.47Z" fill="#ff2212" opacity="0.85" filter="url(#b06)"/><ellipse cx="37" cy="25" rx="3.5" ry="3.5" fill="#ff2212" opacity="0.9" filter="url(#b06)"/><path d="M42.1,17.7L38.8,18.5M39.6,17.6L42.6,19.5M41.1,21.8L44.0,22.7M36.8,21.5L35.4,23.6M41.7,18.5L44.0,19.7M40.1,8.2L42.6,9.9M35.0,14.3L35.7,18.4M41.2,17.6L41.2,21.4M42.7,13.0L38.2,13.0M44.3,19.5L45.9,22.0" stroke="#ff2212" stroke-width="2.4" stroke-linecap="round" fill="none" opacity="1" filter="url(#b03)"/><path d="M17,12.5 L16.5,17" fill="none" stroke="#ff2212" stroke-width="2.4" stroke-linecap="round" stroke-linejoin="round" opacity="1" filter="url(#b03)"/><path d="M31,10 L30,17" fill="none" stroke="#ff2212" stroke-width="2.6" stroke-linecap="round" stroke-linejoin="round" opacity="1" filter="url(#b03)"/><path d="M31,16 L34,20" fill="none" stroke="#ff2212" stroke-width="2.4" stroke-linecap="round" stroke-linejoin="round" opacity="1" filter="url(#b03)"/><path d="M26,25 L25,29" fill="none" stroke="#ff2212" stroke-width="2.2" stroke-linecap="round" stroke-linejoin="round" opacity="1" filter="url(#b03)"/><path d="M20,30 L23,30" fill="none" stroke="#ff2212" stroke-width="2.4" stroke-linecap="round" stroke-linejoin="round" opacity="1" filter="url(#b03)"/><path d="M20,34 L22,40" fill="none" stroke="#ff2212" stroke-width="2.8" stroke-linecap="round" stroke-linejoin="round" opacity="1" filter="url(#b03)"/><path d="M22,41 L20,46" fill="none" stroke="#ff2212" stroke-width="2.6" stroke-linecap="round" stroke-linejoin="round" opacity="1" filter="url(#b03)"/><path d="M21,46 L26,45" fill="none" stroke="#ff2212" stroke-width="2.6" stroke-linecap="round" stroke-linejoin="round" opacity="1" filter="url(#b03)"/><path d="M25,47 L28,52" fill="none" stroke="#ff2212" stroke-width="2.8" stroke-linecap="round" stroke-linejoin="round" opacity="1" filter="url(#b03)"/><path d="M28,52 L32,54" fill="none" stroke="#ff2212" stroke-width="2.6" stroke-linecap="round" stroke-linejoin="round" opacity="1" filter="url(#b03)"/><path d="M27,35 L31,38" fill="none" stroke="#ff2212" stroke-width="2.6" stroke-linecap="round" stroke-linejoin="round" opacity="1" filter="url(#b03)"/><path d="M29,38 L26,42" fill="none" stroke="#ff2212" stroke-width="2.6" stroke-linecap="round" stroke-linejoin="round" opacity="1" filter="url(#b03)"/><path d="M44.5,37 L46,44" fill="none" stroke="#ff2212" stroke-width="2.8" stroke-linecap="round" stroke-linejoin="round" opacity="1" filter="url(#b03)"/><path d="M44,43 L42,52" fill="none" stroke="#ff2212" stroke-width="2.8" stroke-linecap="round" stroke-linejoin="round" opacity="1" filter="url(#b03)"/><path d="M46.5,46 L47,50" fill="none" stroke="#ff2212" stroke-width="2.2" stroke-linecap="round" stroke-linejoin="round" opacity="1" filter="url(#b03)"/><path d="M40,44 L41,48" fill="none" stroke="#ff2212" stroke-width="2.2" stroke-linecap="round" stroke-linejoin="round" opacity="1" filter="url(#b03)"/><path d="M38,34 L41,33" fill="none" stroke="#ff2212" stroke-width="2.0" stroke-linecap="round" stroke-linejoin="round" opacity="1" filter="url(#b03)"/><path d="M24,39 L28,40" fill="none" stroke="#ff2212" stroke-width="2.0" stroke-linecap="round" stroke-linejoin="round" opacity="1" filter="url(#b03)"/></g></g>
<g clip-path="url(#c10)" style="isolation:isolate"><rect x="85.4" y="248.6" width="63.1" height="63.0" fill="#000"/><g transform="translate(85.4 248.6) scale(0.9859 0.9844)"><ellipse cx="32" cy="32" rx="26" ry="28" fill="#2cb81e" opacity="0.08" filter="url(#b30)"/><ellipse cx="36" cy="22" rx="11" ry="11" fill="#2cb81e" opacity="0.26" filter="url(#b18)"/><ellipse cx="26" cy="47" rx="10" ry="9" fill="#2cb81e" opacity="0.24" filter="url(#b18)"/><g fill="#3ae626" filter="url(#b03)"><circle cx="35.9" cy="23.2" r="0.80" opacity="0.20"/><circle cx="32.1" cy="26.2" r="0.64" opacity="0.21"/><circle cx="33.9" cy="18.3" r="0.48" opacity="0.29"/><circle cx="44.7" cy="26.2" r="0.72" opacity="0.20"/><circle cx="34.5" cy="14.2" r="0.76" opacity="0.19"/><circle cx="38.6" cy="27.7" r="0.71" opacity="0.15"/><circle cx="40.7" cy="16.7" r="0.60" opacity="0.14"/><circle cx="26.3" cy="19.1" r="0.41" opacity="0.22"/><circle cx="34.3" cy="13.4" r="0.57" opacity="0.12"/><circle cx="29.8" cy="24.7" r="0.71" opacity="0.11"/><circle cx="35.7" cy="20.3" r="0.60" opacity="0.14"/><circle cx="33.7" cy="13.2" r="0.74" opacity="0.29"/><circle cx="38.8" cy="20.0" r="0.88" opacity="0.21"/><circle cx="29.5" cy="19.2" r="0.86" opacity="0.15"/><circle cx="43.7" cy="21.2" r="0.63" opacity="0.36"/><circle cx="40.6" cy="28.7" r="0.49" opacity="0.28"/><circle cx="41.2" cy="16.2" r="0.50" opacity="0.35"/><circle cx="37.5" cy="20.0" r="0.64" opacity="0.18"/><circle cx="30.5" cy="13.3" r="0.60" opacity="0.14"/><circle cx="38.0" cy="13.0" r="0.70" opacity="0.15"/><circle cx="33.2" cy="13.8" r="0.65" opacity="0.12"/><circle cx="31.2" cy="16.1" r="0.63" opacity="0.38"/><circle cx="37.7" cy="28.2" r="0.76" opacity="0.26"/><circle cx="28.0" cy="22.4" r="0.57" opacity="0.38"/><circle cx="29.4" cy="13.9" r="0.72" opacity="0.28"/><circle cx="26.2" cy="18.6" r="0.62" opacity="0.35"/><circle cx="42.1" cy="30.2" r="0.67" opacity="0.38"/><circle cx="35.3" cy="17.4" r="0.47" opacity="0.35"/><circle cx="39.3" cy="24.6" r="0.89" opacity="0.29"/><circle cx="31.8" cy="26.3" r="0.86" opacity="0.15"/><circle cx="45.8" cy="20.2" r="0.46" opacity="0.25"/><circle cx="42.2" cy="21.8" r="0.53" opacity="0.33"/><circle cx="27.2" cy="25.8" r="0.58" opacity="0.28"/><circle cx="36.2" cy="17.2" r="0.50" opacity="0.35"/><circle cx="35.1" cy="17.2" r="0.70" opacity="0.33"/><circle cx="27.0" cy="21.1" r="0.48" opacity="0.33"/><circle cx="37.3" cy="22.4" r="0.67" opacity="0.18"/><circle cx="34.9" cy="14.7" r="0.58" opacity="0.28"/><circle cx="38.4" cy="18.1" r="0.71" opacity="0.34"/><circle cx="36.0" cy="14.8" r="0.81" opacity="0.27"/><circle cx="34.7" cy="24.4" r="0.66" opacity="0.16"/><circle cx="28.1" cy="19.2" r="0.71" opacity="0.22"/><circle cx="37.1" cy="28.7" r="0.44" opacity="0.38"/><circle cx="34.7" cy="18.4" r="0.86" opacity="0.22"/><circle cx="42.6" cy="15.0" r="0.72" opacity="0.13"/><circle cx="33.1" cy="28.5" r="0.85" opacity="0.17"/><circle cx="35.4" cy="33.0" r="0.88" opacity="0.27"/><circle cx="37.1" cy="11.5" r="0.82" opacity="0.38"/><circle cx="37.4" cy="16.1" r="0.46" opacity="0.29"/><circle cx="40.3" cy="24.2" r="0.82" opacity="0.11"/><circle cx="31.8" cy="12.1" r="0.52" opacity="0.16"/><circle cx="42.9" cy="22.6" r="0.50" opacity="0.25"/><circle cx="27.0" cy="16.2" r="0.69" opacity="0.37"/><circle cx="39.4" cy="14.0" r="0.70" opacity="0.32"/><circle cx="45.5" cy="25.0" r="0.53" opacity="0.35"/><circle cx="40.4" cy="30.6" r="0.50" opacity="0.35"/><circle cx="35.6" cy="15.9" r="0.53" opacity="0.13"/><circle cx="38.9" cy="16.5" r="0.53" opacity="0.21"/><circle cx="33.6" cy="18.2" r="0.64" opacity="0.29"/><circle cx="44.0" cy="25.0" r="0.83" opacity="0.36"/><circle cx="26.4" cy="22.5" r="0.50" opacity="0.21"/><circle cx="36.7" cy="22.7" r="0.78" opacity="0.33"/><circle cx="29.8" cy="23.6" r="0.64" opacity="0.23"/><circle cx="41.0" cy="26.7" r="0.75" opacity="0.22"/><circle cx="26.8" cy="23.9" r="0.53" opacity="0.19"/><circle cx="34.8" cy="32.1" r="0.71" opacity="0.18"/><circle cx="39.9" cy="12.6" r="0.88" opacity="0.37"/><circle cx="43.4" cy="19.4" r="0.63" opacity="0.25"/><circle cx="45.3" cy="23.8" r="0.52" opacity="0.37"/><circle cx="34.3" cy="27.1" r="0.87" opacity="0.33"/></g><g fill="#3ae626" filter="url(#b03)"><circle cx="25.3" cy="55.0" r="0.58" opacity="0.25"/><circle cx="18.5" cy="46.5" r="0.66" opacity="0.33"/><circle cx="22.9" cy="48.8" r="0.48" opacity="0.16"/><circle cx="17.6" cy="47.9" r="0.68" opacity="0.29"/><circle cx="34.7" cy="43.1" r="0.57" opacity="0.24"/><circle cx="34.9" cy="43.1" r="0.55" opacity="0.23"/><circle cx="29.8" cy="42.6" r="0.49" opacity="0.32"/><circle cx="27.5" cy="48.6" r="0.41" opacity="0.17"/><circle cx="18.0" cy="44.3" r="0.85" opacity="0.40"/><circle cx="32.9" cy="44.4" r="0.68" opacity="0.37"/><circle cx="22.9" cy="45.0" r="0.76" opacity="0.20"/><circle cx="25.5" cy="44.2" r="0.81" opacity="0.26"/><circle cx="28.8" cy="39.3" r="0.73" opacity="0.17"/><circle cx="26.6" cy="43.9" r="0.73" opacity="0.14"/><circle cx="24.2" cy="50.1" r="0.53" opacity="0.40"/><circle cx="27.4" cy="53.8" r="0.60" opacity="0.12"/><circle cx="21.2" cy="44.5" r="0.52" opacity="0.31"/><circle cx="19.4" cy="53.3" r="0.42" opacity="0.22"/><circle cx="31.6" cy="46.7" r="0.47" opacity="0.11"/><circle cx="21.6" cy="49.0" r="0.55" opacity="0.11"/><circle cx="31.9" cy="51.5" r="0.71" opacity="0.13"/><circle cx="26.2" cy="42.1" r="0.87" opacity="0.20"/><circle cx="26.5" cy="40.3" r="0.83" opacity="0.30"/><circle cx="26.6" cy="46.9" r="0.57" opacity="0.24"/><circle cx="30.3" cy="52.1" r="0.41" opacity="0.14"/><circle cx="30.3" cy="43.9" r="0.47" opacity="0.31"/><circle cx="27.8" cy="48.0" r="0.68" opacity="0.28"/><circle cx="33.8" cy="50.8" r="0.78" opacity="0.33"/><circle cx="30.8" cy="50.7" r="0.78" opacity="0.12"/><circle cx="19.4" cy="50.0" r="0.61" opacity="0.17"/><circle cx="28.9" cy="41.0" r="0.78" opacity="0.20"/><circle cx="34.3" cy="43.3" r="0.88" opacity="0.20"/><circle cx="31.7" cy="39.7" r="0.65" opacity="0.21"/><circle cx="33.2" cy="51.2" r="0.69" opacity="0.13"/><circle cx="26.5" cy="41.8" r="0.45" opacity="0.31"/><circle cx="34.9" cy="47.6" r="0.90" opacity="0.19"/><circle cx="25.4" cy="50.9" r="0.53" opacity="0.22"/><circle cx="22.7" cy="43.8" r="0.67" opacity="0.25"/><circle cx="33.7" cy="41.9" r="0.52" opacity="0.19"/><circle cx="23.0" cy="38.9" r="0.66" opacity="0.13"/><circle cx="28.2" cy="41.0" r="0.48" opacity="0.12"/><circle cx="31.3" cy="54.2" r="0.58" opacity="0.27"/><circle cx="30.3" cy="50.2" r="0.72" opacity="0.11"/><circle cx="21.6" cy="43.5" r="0.78" opacity="0.38"/><circle cx="17.0" cy="49.9" r="0.70" opacity="0.29"/><circle cx="19.8" cy="45.3" r="0.84" opacity="0.20"/><circle cx="20.0" cy="41.2" r="0.80" opacity="0.17"/><circle cx="30.1" cy="49.3" r="0.81" opacity="0.12"/><circle cx="26.0" cy="38.7" r="0.46" opacity="0.16"/><circle cx="29.2" cy="43.4" r="0.45" opacity="0.18"/><circle cx="32.0" cy="51.4" r="0.64" opacity="0.18"/><circle cx="33.7" cy="49.3" r="0.41" opacity="0.33"/><circle cx="34.9" cy="44.9" r="0.85" opacity="0.20"/><circle cx="22.9" cy="45.2" r="0.66" opacity="0.21"/><circle cx="21.9" cy="48.4" r="0.83" opacity="0.31"/></g><ellipse cx="34.5" cy="23" rx="2.6" ry="2.3" fill="#55ff2a" opacity="0.9" filter="url(#b03)"/><ellipse cx="34.5" cy="30.5" rx="1.5" ry="1.5" fill="#55ff2a" opacity="0.8" filter="url(#b03)"/><ellipse cx="23.5" cy="45.5" rx="1.5" ry="1.5" fill="#55ff2a" opacity="0.7" filter="url(#b03)"/></g></g>
<g clip-path="url(#c11)" style="isolation:isolate"><rect x="150.9" y="248.6" width="63.1" height="63.0" fill="#000"/><g transform="translate(150.9 248.6) scale(0.9859 0.9844)"><g style="mix-blend-mode:screen"><ellipse cx="42" cy="24" rx="10" ry="12" fill="#2222ff" opacity="1" filter="url(#b06)"/><ellipse cx="36" cy="48" rx="11" ry="10" fill="#2222ff" opacity="1" filter="url(#b06)"/></g><g style="mix-blend-mode:screen"><ellipse cx="46" cy="21" rx="6" ry="9" fill="#ff2299" opacity="0.85" filter="url(#b10)"/><ellipse cx="38" cy="30" rx="5" ry="3" fill="#ff2299" opacity="0.7" filter="url(#b10)"/><ellipse cx="30" cy="43" rx="4" ry="3" fill="#ff2299" opacity="0.7" filter="url(#b10)"/><ellipse cx="27" cy="50" rx="3" ry="5" fill="#ff2299" opacity="0.7" filter="url(#b10)"/><ellipse cx="45" cy="52" rx="4" ry="5" fill="#ff2299" opacity="0.6" filter="url(#b10)"/><ellipse cx="34" cy="57" rx="5" ry="2.5" fill="#ff2299" opacity="0.6" filter="url(#b10)"/><ellipse cx="36" cy="20" rx="3" ry="3" fill="#ff2299" opacity="0.5" filter="url(#b10)"/></g><g style="mix-blend-mode:screen"><path d="M17,17 L17,21" fill="none" stroke="#ff2212" stroke-width="2.4" stroke-linecap="round" stroke-linejoin="round" opacity="1" filter="url(#b03)"/><path d="M32,15 L30,22" fill="none" stroke="#ff2212" stroke-width="2.6" stroke-linecap="round" stroke-linejoin="round" opacity="1" filter="url(#b03)"/><path d="M25,30 L24.5,33" fill="none" stroke="#ff2212" stroke-width="2.2" stroke-linecap="round" stroke-linejoin="round" opacity="1" filter="url(#b03)"/><path d="M20,34 L23,34" fill="none" stroke="#ff2212" stroke-width="2.4" stroke-linecap="round" stroke-linejoin="round" opacity="1" filter="url(#b03)"/><path d="M20,38 L22,44" fill="none" stroke="#ff2212" stroke-width="2.6" stroke-linecap="round" stroke-linejoin="round" opacity="1" filter="url(#b03)"/><path d="M25,40 L26,46" fill="none" stroke="#ff2212" stroke-width="2.6" stroke-linecap="round" stroke-linejoin="round" opacity="1" filter="url(#b03)"/><path d="M20,51 L27,48" fill="none" stroke="#ff2212" stroke-width="2.8" stroke-linecap="round" stroke-linejoin="round" opacity="1" filter="url(#b03)"/><path d="M28,52 L33,56" fill="none" stroke="#ff2212" stroke-width="2.6" stroke-linecap="round" stroke-linejoin="round" opacity="1" filter="url(#b03)"/><path d="M48,39 L50,48" fill="none" stroke="#ff2212" stroke-width="2.6" stroke-linecap="round" stroke-linejoin="round" opacity="1" filter="url(#b03)"/><path d="M47,47 L47,54" fill="none" stroke="#ff2212" stroke-width="2.6" stroke-linecap="round" stroke-linejoin="round" opacity="1" filter="url(#b03)"/><path d="M37,55 L42,57" fill="none" stroke="#ff2212" stroke-width="2.2" stroke-linecap="round" stroke-linejoin="round" opacity="1" filter="url(#b03)"/><path d="M22,45 L24,50" fill="none" stroke="#ff2212" stroke-width="2.4" stroke-linecap="round" stroke-linejoin="round" opacity="1" filter="url(#b03)"/><path d="M26,35 L29,37" fill="none" stroke="#ff2212" stroke-width="2.2" stroke-linecap="round" stroke-linejoin="round" opacity="1" filter="url(#b03)"/></g><g style="mix-blend-mode:screen"><ellipse cx="42" cy="26" rx="1.8" ry="2" fill="#88ffcc" opacity="1" filter="url(#b03)"/><ellipse cx="43" cy="32" rx="1.2" ry="1.2" fill="#88ffcc" opacity="1" filter="url(#b03)"/><ellipse cx="33" cy="46" rx="1" ry="1" fill="#88ffcc" opacity="1" filter="url(#b03)"/></g></g></g>
<g clip-path="url(#c12)" style="isolation:isolate"><rect x="20.2" y="314.7" width="63.5" height="63.0" fill="#000"/><g transform="translate(20.2 314.7) scale(0.9922 0.9844)"><path d="M22.33,12.38 C22.57,12.17 24.79,10.98 25.27,10.71 C25.75,10.44 25.93,10.22 26.43,10.09 C26.94,9.95 29.08,9.65 29.62,9.52 C30.15,9.40 30.79,8.80 31.01,8.97 C31.23,9.14 31.14,10.62 31.51,10.99 C31.88,11.36 33.75,11.73 34.17,12.14 C34.59,12.54 35.05,14.00 35.09,14.46 C35.12,14.92 34.48,15.56 34.47,16.08 C34.45,16.61 35.08,18.49 35.00,18.98 C34.91,19.46 34.27,20.04 33.75,20.23 C33.23,20.43 31.01,20.54 30.57,20.66 C30.13,20.77 30.07,21.22 30.00,21.23 C29.92,21.24 30.22,20.81 29.90,20.74 C29.59,20.67 27.79,20.85 27.31,20.64 C26.82,20.42 26.03,19.38 25.75,18.86 C25.47,18.33 25.21,16.56 24.91,16.10 C24.61,15.65 23.60,15.32 23.19,14.97 C22.77,14.62 21.37,13.37 21.37,13.07 C21.38,12.78 23.12,12.55 23.23,12.47 C23.34,12.39 22.09,12.59 22.33,12.38Z" fill="#ff2212" opacity="1" filter="url(#b03)"/><path d="M15.92,21.28 C16.21,21.00 15.76,22.24 16.05,22.00 C16.33,21.76 17.87,19.39 18.37,19.24 C18.86,19.09 19.90,20.43 20.30,20.69 C20.70,20.95 21.53,21.00 21.78,21.46 C22.03,21.92 22.37,23.78 22.42,24.64 C22.47,25.50 22.21,28.08 22.20,28.86 C22.20,29.65 22.35,30.97 22.37,31.35 C22.40,31.72 22.55,31.94 22.42,32.10 C22.29,32.25 21.71,32.76 21.26,32.68 C20.82,32.60 19.04,31.62 18.62,31.38 C18.21,31.15 18.02,30.88 17.70,30.67 C17.38,30.45 16.20,29.96 15.88,29.55 C15.55,29.14 15.21,27.64 14.92,27.13 C14.63,26.63 13.56,25.54 13.40,25.22 C13.23,24.91 13.22,24.87 13.52,24.41 C13.81,23.95 15.62,21.56 15.92,21.28Z" fill="#ff2212" opacity="1" filter="url(#b03)"/><path d="M27,27.5 L31,28.5" fill="none" stroke="#ff2212" stroke-width="1.6" stroke-linecap="round" stroke-linejoin="round" opacity="1" filter="url(#b03)"/><path d="M29.85,36.90 C30.15,36.58 31.01,34.91 31.28,34.67 C31.56,34.43 31.98,34.66 32.18,34.85 C32.39,35.03 32.92,35.79 33.06,36.26 C33.20,36.73 33.46,38.35 33.38,38.89 C33.31,39.43 32.71,40.53 32.44,40.91 C32.17,41.29 31.23,41.71 31.05,42.17 C30.87,42.63 31.16,44.22 30.92,44.84 C30.68,45.46 29.46,47.26 29.03,47.47 C28.59,47.68 27.50,46.53 27.22,46.62 C26.93,46.70 26.90,48.16 26.57,48.18 C26.23,48.19 24.74,47.14 24.32,46.74 C23.89,46.34 22.98,45.13 22.94,44.73 C22.91,44.32 23.76,43.52 24.02,43.24 C24.28,42.96 24.90,42.74 25.14,42.32 C25.39,41.91 25.80,40.01 26.13,39.67 C26.46,39.33 27.65,39.70 27.95,39.44 C28.25,39.17 28.46,37.69 28.68,37.39 C28.90,37.10 29.55,37.22 29.85,36.90Z" fill="#ff2212" opacity="1" filter="url(#b03)"/><ellipse cx="17.5" cy="44" rx="1.5" ry="1" fill="#ff2212" opacity="0.5" filter="url(#b03)"/><ellipse cx="14" cy="17" rx="1.4" ry="0.8" fill="#ff2212" opacity="0.5" filter="url(#b03)"/></g></g>
<g clip-path="url(#c13)" style="isolation:isolate"><rect x="85.4" y="314.7" width="63.1" height="63.0" fill="#000"/><g transform="translate(85.4 314.7) scale(0.9859 0.9844)"><ellipse cx="31" cy="37" rx="11" ry="14" fill="#2cb81e" opacity="0.28" filter="url(#b18)"/><g fill="#3ae626" filter="url(#b03)"><circle cx="26.4" cy="40.1" r="0.40" opacity="0.44"/><circle cx="24.8" cy="29.2" r="0.43" opacity="0.17"/><circle cx="27.5" cy="45.2" r="0.78" opacity="0.22"/><circle cx="22.3" cy="33.0" r="0.42" opacity="0.33"/><circle cx="35.3" cy="30.5" r="0.47" opacity="0.19"/><circle cx="37.2" cy="37.3" r="0.55" opacity="0.11"/><circle cx="27.1" cy="34.2" r="0.43" opacity="0.19"/><circle cx="25.7" cy="34.8" r="0.65" opacity="0.30"/><circle cx="40.1" cy="31.7" r="0.45" opacity="0.21"/><circle cx="23.6" cy="39.0" r="0.64" opacity="0.21"/><circle cx="34.2" cy="40.2" r="0.75" opacity="0.40"/><circle cx="30.3" cy="42.2" r="0.65" opacity="0.28"/><circle cx="26.0" cy="30.3" r="0.84" opacity="0.44"/><circle cx="31.0" cy="36.2" r="0.46" opacity="0.31"/><circle cx="23.5" cy="40.3" r="0.54" opacity="0.26"/><circle cx="31.9" cy="32.3" r="0.64" opacity="0.40"/><circle cx="30.8" cy="49.1" r="0.60" opacity="0.26"/><circle cx="34.8" cy="37.0" r="0.74" opacity="0.20"/><circle cx="33.5" cy="41.9" r="0.85" opacity="0.34"/><circle cx="32.4" cy="33.0" r="0.64" opacity="0.20"/><circle cx="34.4" cy="32.0" r="0.77" opacity="0.29"/><circle cx="26.0" cy="46.1" r="0.41" opacity="0.19"/><circle cx="26.3" cy="41.5" r="0.53" opacity="0.44"/><circle cx="30.2" cy="43.4" r="0.53" opacity="0.16"/><circle cx="37.3" cy="44.5" r="0.69" opacity="0.42"/><circle cx="28.3" cy="35.7" r="0.65" opacity="0.14"/><circle cx="29.7" cy="27.8" r="0.84" opacity="0.17"/><circle cx="29.8" cy="24.4" r="0.47" opacity="0.27"/><circle cx="36.2" cy="27.4" r="0.78" opacity="0.33"/><circle cx="30.5" cy="24.1" r="0.43" opacity="0.40"/><circle cx="35.0" cy="43.2" r="0.78" opacity="0.30"/><circle cx="26.5" cy="47.4" r="0.41" opacity="0.19"/><circle cx="39.9" cy="39.6" r="0.72" opacity="0.32"/><circle cx="29.7" cy="45.9" r="0.43" opacity="0.20"/><circle cx="38.1" cy="43.2" r="0.72" opacity="0.34"/><circle cx="25.6" cy="39.6" r="0.69" opacity="0.39"/><circle cx="24.0" cy="31.4" r="0.56" opacity="0.17"/><circle cx="36.9" cy="36.8" r="0.43" opacity="0.41"/><circle cx="31.6" cy="45.4" r="0.77" opacity="0.24"/><circle cx="26.3" cy="38.3" r="0.87" opacity="0.38"/><circle cx="32.2" cy="31.8" r="0.67" opacity="0.29"/><circle cx="37.8" cy="45.8" r="0.85" opacity="0.19"/><circle cx="34.8" cy="25.7" r="0.54" opacity="0.31"/><circle cx="32.0" cy="30.2" r="0.61" opacity="0.36"/><circle cx="35.1" cy="37.7" r="0.50" opacity="0.32"/><circle cx="40.2" cy="33.1" r="0.79" opacity="0.27"/><circle cx="32.6" cy="34.1" r="0.81" opacity="0.37"/><circle cx="28.1" cy="38.5" r="0.54" opacity="0.42"/><circle cx="29.9" cy="39.6" r="0.69" opacity="0.13"/><circle cx="26.7" cy="44.2" r="0.69" opacity="0.19"/><circle cx="22.6" cy="38.3" r="0.62" opacity="0.25"/><circle cx="27.4" cy="40.7" r="0.69" opacity="0.13"/><circle cx="35.4" cy="33.6" r="0.67" opacity="0.32"/><circle cx="24.6" cy="31.1" r="0.83" opacity="0.42"/><circle cx="32.1" cy="29.1" r="0.41" opacity="0.32"/><circle cx="32.2" cy="46.8" r="0.86" opacity="0.29"/><circle cx="34.8" cy="37.4" r="0.62" opacity="0.25"/><circle cx="24.0" cy="35.6" r="0.80" opacity="0.36"/><circle cx="23.3" cy="41.2" r="0.82" opacity="0.15"/><circle cx="22.8" cy="35.1" r="0.68" opacity="0.12"/></g><ellipse cx="29.5" cy="26.5" rx="1.9" ry="1.7" fill="#55ff2a" opacity="1" filter="url(#b03)"/><ellipse cx="25" cy="34.5" rx="2" ry="2" fill="#55ff2a" opacity="1" filter="url(#b03)"/><ellipse cx="34.5" cy="37.5" rx="2" ry="2.2" fill="#55ff2a" opacity="1" filter="url(#b03)"/></g></g>
<g clip-path="url(#c14)" style="isolation:isolate"><rect x="150.9" y="314.7" width="63.1" height="63.0" fill="#000"/><g transform="translate(150.9 314.7) scale(0.9859 0.9844)"><g style="mix-blend-mode:screen"><ellipse cx="26" cy="40" rx="9.8" ry="13.5" fill="#2222ff" opacity="1" transform="rotate(-5 26 40)" filter="url(#b06)"/></g><g style="mix-blend-mode:screen"><path d="M28.00,29.00 C28.50,27.33 31.17,26.83 32.00,28.00 C32.83,29.17 33.00,33.83 33.00,36.00 C33.00,38.17 32.67,40.67 32.00,41.00 C31.33,41.33 29.67,40.00 29.00,38.00 C28.33,36.00 27.50,30.67 28.00,29.00Z" fill="#ff44cc" opacity="0.9" filter="url(#b06)"/></g><g style="mix-blend-mode:screen"><path d="M33.42,20.68 C33.32,20.35 34.02,20.27 34.37,20.00 C34.71,19.72 35.94,18.51 36.39,18.34 C36.83,18.17 37.73,18.51 38.18,18.52 C38.64,18.52 39.86,18.12 40.30,18.41 C40.74,18.71 41.76,20.41 41.95,21.03 C42.13,21.65 41.70,23.30 41.88,23.73 C42.06,24.16 43.34,24.13 43.48,24.73 C43.61,25.34 43.21,28.37 43.03,28.92 C42.86,29.46 42.38,29.04 41.98,29.39 C41.58,29.74 40.05,31.72 39.61,31.91 C39.16,32.10 38.28,31.32 38.17,31.02 C38.06,30.72 38.86,29.83 38.69,29.32 C38.51,28.80 36.96,27.26 36.65,26.61 C36.35,25.96 36.24,24.17 36.08,23.73 C35.92,23.30 35.60,23.21 35.29,22.85 C34.98,22.49 33.53,21.01 33.42,20.68Z" fill="#ff2212" opacity="1" filter="url(#b03)"/><ellipse cx="38.5" cy="36" rx="1.4" ry="1.4" fill="#ff2212" opacity="1" filter="url(#b03)"/><path d="M36.75,44.85 C37.11,44.40 39.10,43.11 39.69,42.93 C40.27,42.74 41.58,42.93 41.74,43.27 C41.91,43.62 41.00,45.52 41.08,45.91 C41.17,46.30 42.48,46.17 42.51,46.61 C42.54,47.05 41.73,49.00 41.35,49.68 C40.97,50.35 39.50,51.87 39.25,52.37 C38.99,52.88 39.36,53.57 39.16,54.02 C38.97,54.48 37.94,56.21 37.59,56.25 C37.24,56.29 36.60,54.63 36.15,54.36 C35.70,54.09 33.94,54.10 33.72,53.94 C33.49,53.77 33.91,53.50 34.21,52.95 C34.51,52.39 35.99,49.91 36.27,49.20 C36.56,48.48 36.61,47.34 36.67,46.83 C36.72,46.32 36.40,45.31 36.75,44.85Z" fill="#ff2212" opacity="1" filter="url(#b03)"/></g><g style="mix-blend-mode:screen"><ellipse cx="26" cy="28" rx="1.6" ry="1.6" fill="#80ffff" opacity="1" filter="url(#b03)"/><ellipse cx="22" cy="36" rx="1.8" ry="1.8" fill="#80ffff" opacity="1" filter="url(#b03)"/><ellipse cx="31" cy="40" rx="1.8" ry="1.8" fill="#80ffff" opacity="1" filter="url(#b03)"/></g></g></g>
<g clip-path="url(#c15)" style="isolation:isolate"><rect x="20.2" y="380.8" width="63.5" height="62.9" fill="#000"/><g transform="translate(20.2 380.8) scale(0.9922 0.9828)"><ellipse cx="17" cy="13" rx="2.5" ry="4" fill="#ff2212" opacity="1" transform="rotate(-30 17 13)" filter="url(#b06)"/><ellipse cx="22" cy="26" rx="3" ry="4" fill="#ff2212" opacity="0.7" filter="url(#b06)"/><ellipse cx="14" cy="37" rx="2" ry="2" fill="#ff2212" opacity="0.5" filter="url(#b06)"/><ellipse cx="31" cy="42" rx="3" ry="4.5" fill="#ff2212" opacity="1" filter="url(#b06)"/><ellipse cx="46" cy="44" rx="2.8" ry="5.5" fill="#ff2212" opacity="1" transform="rotate(5 46 44)" filter="url(#b06)"/><ellipse cx="42" cy="56" rx="2" ry="2" fill="#ff2212" opacity="0.6" filter="url(#b06)"/><ellipse cx="35" cy="33" rx="1.5" ry="1.5" fill="#ff2212" opacity="0.4" filter="url(#b06)"/><ellipse cx="39" cy="37" rx="1.5" ry="1.5" fill="#ff2212" opacity="0.4" filter="url(#b06)"/><ellipse cx="44" cy="52" rx="1.5" ry="1.5" fill="#ff2212" opacity="0.6" filter="url(#b06)"/></g></g>
<g clip-path="url(#c16)" style="isolation:isolate"><rect x="85.4" y="380.8" width="63.1" height="62.9" fill="#000"/><g transform="translate(85.4 380.8) scale(0.9859 0.9828)"><ellipse cx="28" cy="17" rx="16" ry="9" fill="#2cb81e" opacity="0.32" transform="rotate(-10 28 17)" filter="url(#b18)"/><ellipse cx="30" cy="47" rx="12" ry="9" fill="#2cb81e" opacity="0.35" filter="url(#b18)"/><ellipse cx="19" cy="10" rx="1.8" ry="1.6" fill="#55ff2a" opacity="1" filter="url(#b06)"/><ellipse cx="26" cy="7" rx="1.5" ry="1.5" fill="#3ae626" opacity="0.6" filter="url(#b06)"/><ellipse cx="19" cy="15.5" rx="1.8" ry="1.5" fill="#55ff2a" opacity="1" filter="url(#b06)"/><ellipse cx="12" cy="17" rx="1.8" ry="1.4" fill="#3ae626" opacity="0.7" filter="url(#b06)"/><ellipse cx="34.5" cy="12" rx="1.8" ry="1.7" fill="#55ff2a" opacity="1" filter="url(#b06)"/><ellipse cx="36" cy="19.5" rx="2.5" ry="3" fill="#55ff2a" opacity="1" filter="url(#b06)"/><ellipse cx="21.5" cy="47.5" rx="2.6" ry="2.3" fill="#55ff2a" opacity="1" filter="url(#b06)"/><ellipse cx="31" cy="47" rx="3" ry="3" fill="#55ff2a" opacity="1" filter="url(#b06)"/><ellipse cx="28" cy="44" rx="1.5" ry="1.5" fill="#3ae626" opacity="1" filter="url(#b06)"/></g></g>
<g clip-path="url(#c17)" style="isolation:isolate"><rect x="150.9" y="380.8" width="63.1" height="62.9" fill="#000"/><g transform="translate(150.9 380.8) scale(0.9859 0.9828)"><g style="mix-blend-mode:screen"><ellipse cx="21" cy="19" rx="12" ry="10" fill="#2222ff" opacity="1" transform="rotate(-10 21 19)" filter="url(#b06)"/><ellipse cx="40" cy="22" rx="10" ry="12.5" fill="#2222ff" opacity="1" transform="rotate(15 40 22)" filter="url(#b06)"/><ellipse cx="33" cy="52" rx="13" ry="9.5" fill="#2222ff" opacity="1" transform="rotate(10 33 52)" filter="url(#b06)"/></g><g style="mix-blend-mode:screen"><ellipse cx="21" cy="15" rx="1.6" ry="1.2" fill="#80ffff" opacity="1" filter="url(#b03)"/><ellipse cx="22" cy="20" rx="1.6" ry="1.2" fill="#80ffff" opacity="1" filter="url(#b03)"/><ellipse cx="14" cy="21" rx="1.6" ry="1.2" fill="#80ffff" opacity="1" filter="url(#b03)"/><ellipse cx="29" cy="11" rx="1.4" ry="1.2" fill="#80ffff" opacity="0.8" filter="url(#b03)"/><ellipse cx="38" cy="16" rx="1.6" ry="1.4" fill="#80ffff" opacity="1" filter="url(#b03)"/><ellipse cx="39.5" cy="23.5" rx="2.4" ry="2.6" fill="#80ffff" opacity="1" filter="url(#b03)"/><ellipse cx="24.5" cy="51.5" rx="2.3" ry="2" fill="#80ffff" opacity="1" filter="url(#b03)"/><ellipse cx="33" cy="51" rx="2.3" ry="2.3" fill="#ccffff" opacity="1" filter="url(#b03)"/></g><g style="mix-blend-mode:screen"><ellipse cx="22" cy="31" rx="1.5" ry="2.5" fill="#ff2212" opacity="1" transform="rotate(-40 22 31)" filter="url(#b03)"/><ellipse cx="26" cy="39" rx="2.5" ry="2.5" fill="#ff2212" opacity="0.7" filter="url(#b06)"/><ellipse cx="46.5" cy="50.5" rx="2" ry="3.5" fill="#ff2212" opacity="1" transform="rotate(10 46.5 50.5)" filter="url(#b03)"/><ellipse cx="43" cy="59" rx="1.2" ry="1.2" fill="#ff2212" opacity="0.7" filter="url(#b03)"/></g></g></g>
<g clip-path="url(#c18)" style="isolation:isolate"><rect x="20.2" y="447.3" width="63.5" height="62.8" fill="#000"/><g transform="translate(20.2 447.3) scale(0.9922 0.9813)"><path d="M31.5,1.2 L30.5,4.8" fill="none" stroke="#ff2212" stroke-width="2.4" stroke-linecap="round" stroke-linejoin="round" opacity="1" filter="url(#b03)"/><path d="M33.5,5.5 L35.5,7.5" fill="none" stroke="#ff2212" stroke-width="2.6" stroke-linecap="round" stroke-linejoin="round" opacity="1" filter="url(#b03)"/><path d="M36,8 L38.5,10" fill="none" stroke="#ff2212" stroke-width="2.4" stroke-linecap="round" stroke-linejoin="round" opacity="1" filter="url(#b03)"/><path d="M40.50,23.50 C40.75,23.17 42.83,24.42 43.50,25.00 C44.17,25.58 44.75,26.25 44.50,27.00 C44.25,27.75 42.75,29.17 42.00,29.50 C41.25,29.83 40.00,29.42 40.00,29.00 C40.00,28.58 41.92,27.92 42.00,27.00 C42.08,26.08 40.25,23.83 40.50,23.50Z" fill="#ff2212" opacity="1" filter="url(#b03)"/><path d="M5.00,41.00 C5.67,40.33 8.00,39.00 9.00,39.00 C10.00,39.00 10.00,40.67 11.00,41.00 C12.00,41.33 13.67,40.50 15.00,41.00 C16.33,41.50 18.33,43.00 19.00,44.00 C19.67,45.00 19.67,46.17 19.00,47.00 C18.33,47.83 16.33,48.67 15.00,49.00 C13.67,49.33 12.00,49.50 11.00,49.00 C10.00,48.50 10.00,47.00 9.00,46.00 C8.00,45.00 5.67,43.83 5.00,43.00 C4.33,42.17 4.33,41.67 5.00,41.00Z" fill="#ff2212" opacity="1" filter="url(#b03)"/><ellipse cx="55" cy="51.5" rx="2" ry="3.5" fill="#ff2212" opacity="1" transform="rotate(30 55 51.5)" filter="url(#b03)"/><path d="M45,54 L47.5,55" fill="none" stroke="#ff2212" stroke-width="1.4" stroke-linecap="round" stroke-linejoin="round" opacity="0.8" filter="url(#b03)"/></g></g>
<g clip-path="url(#c19)" style="isolation:isolate"><rect x="85.4" y="447.3" width="63.1" height="62.8" fill="#000"/><g transform="translate(85.4 447.3) scale(0.9859 0.9813)"><ellipse cx="16" cy="46" rx="14" ry="12" fill="#2cb81e" opacity="0.3" filter="url(#b18)"/><ellipse cx="46" cy="48" rx="14" ry="11" fill="#2cb81e" opacity="0.35" filter="url(#b18)"/><ellipse cx="21" cy="20" rx="18" ry="15" fill="#2cb81e" opacity="0.45" transform="rotate(-30 21 20)" filter="url(#b18)"/><ellipse cx="12" cy="46" rx="4" ry="3" fill="#000" opacity="0.6" filter="url(#b10)"/><path d="M31.80,12.10 C32.27,12.83 32.84,16.00 33.00,16.87 C33.17,17.73 33.16,18.54 33.23,19.54 C33.30,20.55 34.02,24.43 33.63,25.47 C33.23,26.51 30.80,27.73 29.85,28.49 C28.91,29.24 26.74,31.44 25.56,31.97 C24.39,32.49 20.84,32.94 19.78,32.98 C18.73,33.02 17.43,32.74 16.51,32.30 C15.58,31.87 12.68,29.75 11.85,29.26 C11.01,28.76 9.79,28.63 9.35,28.07 C8.90,27.50 8.03,25.25 8.01,24.42 C7.99,23.60 8.97,22.08 9.19,20.98 C9.40,19.88 9.53,15.83 9.88,14.99 C10.22,14.15 11.42,14.58 12.14,13.77 C12.86,12.96 15.02,8.92 16.03,8.06 C17.04,7.20 19.52,6.39 20.80,6.40 C22.09,6.42 26.09,7.71 27.04,8.19 C27.99,8.68 28.38,10.10 28.93,10.56 C29.49,11.02 31.32,11.36 31.80,12.10Z" fill="#3ae626" opacity="0.7" filter="url(#b06)"/><path d="M52.20,40.87 C52.41,41.61 51.96,44.14 51.31,44.81 C50.65,45.48 47.43,46.13 46.58,46.60 C45.73,47.06 44.65,48.61 44.01,48.82 C43.36,49.03 41.89,48.70 41.02,48.39 C40.15,48.08 37.19,46.78 36.55,46.12 C35.91,45.47 35.43,43.60 35.53,42.77 C35.63,41.93 36.79,39.77 37.41,38.94 C38.03,38.12 40.23,35.97 40.87,35.67 C41.52,35.38 42.24,36.40 42.95,36.42 C43.66,36.45 46.20,35.61 46.96,35.85 C47.73,36.10 48.89,37.91 49.50,38.50 C50.11,39.08 51.99,40.14 52.20,40.87Z" fill="#3ae626" opacity="0.85" filter="url(#b06)"/><g fill="#55ff2a" filter="url(#b06)"><circle cx="29.8" cy="21.1" r="0.82" opacity="0.57"/><circle cx="22.1" cy="15.5" r="1.17" opacity="0.46"/><circle cx="17.5" cy="14.2" r="1.20" opacity="0.82"/><circle cx="21.4" cy="30.2" r="0.66" opacity="0.74"/><circle cx="23.5" cy="24.0" r="1.25" opacity="0.56"/><circle cx="17.0" cy="12.1" r="1.08" opacity="0.64"/><circle cx="23.0" cy="14.7" r="1.34" opacity="0.45"/><circle cx="27.6" cy="23.3" r="1.37" opacity="0.64"/><circle cx="9.6" cy="20.9" r="0.69" opacity="0.76"/><circle cx="13.2" cy="18.2" r="0.61" opacity="0.68"/><circle cx="18.1" cy="13.1" r="0.78" opacity="0.57"/><circle cx="25.0" cy="12.0" r="1.38" opacity="0.42"/><circle cx="15.7" cy="24.8" r="0.77" opacity="0.67"/><circle cx="19.1" cy="14.9" r="0.93" opacity="0.52"/><circle cx="23.9" cy="15.5" r="0.63" opacity="0.78"/><circle cx="13.4" cy="16.1" r="0.62" opacity="0.70"/><circle cx="13.4" cy="27.5" r="0.78" opacity="0.86"/><circle cx="23.0" cy="16.7" r="0.86" opacity="0.49"/><circle cx="29.4" cy="15.4" r="0.73" opacity="0.50"/><circle cx="19.0" cy="14.8" r="0.88" opacity="0.78"/><circle cx="20.3" cy="26.4" r="0.83" opacity="0.83"/><circle cx="25.5" cy="22.4" r="1.00" opacity="0.77"/><circle cx="12.6" cy="14.3" r="1.04" opacity="0.43"/><circle cx="23.1" cy="18.2" r="0.68" opacity="0.54"/><circle cx="26.8" cy="14.7" r="0.61" opacity="0.46"/><circle cx="12.8" cy="23.3" r="1.12" opacity="0.62"/><circle cx="22.5" cy="16.1" r="1.28" opacity="0.74"/><circle cx="25.9" cy="17.8" r="1.22" opacity="0.78"/><circle cx="25.2" cy="13.4" r="0.69" opacity="0.49"/><circle cx="18.8" cy="23.9" r="1.24" opacity="0.51"/><circle cx="28.0" cy="26.8" r="0.86" opacity="0.68"/><circle cx="13.7" cy="13.8" r="0.61" opacity="0.64"/><circle cx="27.1" cy="12.0" r="1.03" opacity="0.76"/><circle cx="19.3" cy="19.1" r="1.32" opacity="0.46"/><circle cx="14.5" cy="30.1" r="0.91" opacity="0.60"/><circle cx="13.4" cy="20.7" r="0.62" opacity="0.79"/><circle cx="32.7" cy="15.0" r="1.17" opacity="0.67"/><circle cx="11.9" cy="15.8" r="0.73" opacity="0.45"/><circle cx="28.1" cy="23.7" r="0.73" opacity="0.49"/><circle cx="22.5" cy="9.5" r="1.10" opacity="0.61"/><circle cx="20.9" cy="19.4" r="0.73" opacity="0.76"/><circle cx="15.2" cy="19.3" r="1.04" opacity="0.89"/><circle cx="20.0" cy="23.8" r="0.94" opacity="0.76"/><circle cx="29.7" cy="20.3" r="0.96" opacity="0.56"/><circle cx="17.1" cy="15.7" r="1.10" opacity="0.89"/><circle cx="25.4" cy="21.1" r="1.07" opacity="0.68"/><circle cx="26.4" cy="21.3" r="1.02" opacity="0.80"/><circle cx="24.3" cy="9.8" r="0.66" opacity="0.62"/><circle cx="18.6" cy="24.4" r="1.10" opacity="0.65"/><circle cx="15.0" cy="24.7" r="1.30" opacity="0.64"/><circle cx="15.5" cy="26.5" r="1.20" opacity="0.42"/><circle cx="32.4" cy="17.4" r="1.20" opacity="0.84"/><circle cx="23.5" cy="28.4" r="1.28" opacity="0.67"/><circle cx="22.1" cy="20.4" r="1.13" opacity="0.61"/><circle cx="29.6" cy="20.4" r="1.26" opacity="0.68"/><circle cx="20.1" cy="19.0" r="1.09" opacity="0.68"/><circle cx="30.0" cy="12.0" r="0.81" opacity="0.62"/><circle cx="13.9" cy="22.8" r="0.90" opacity="0.50"/><circle cx="16.2" cy="13.2" r="1.31" opacity="0.67"/><circle cx="17.8" cy="14.9" r="0.88" opacity="0.81"/><circle cx="22.5" cy="11.3" r="1.39" opacity="0.42"/><circle cx="16.6" cy="22.3" r="1.24" opacity="0.89"/><circle cx="29.9" cy="18.8" r="1.31" opacity="0.50"/><circle cx="23.5" cy="13.6" r="0.99" opacity="0.69"/><circle cx="28.7" cy="11.8" r="1.14" opacity="0.42"/><circle cx="12.0" cy="16.4" r="1.29" opacity="0.46"/><circle cx="30.6" cy="20.4" r="1.08" opacity="0.67"/><circle cx="16.8" cy="20.2" r="1.04" opacity="0.52"/><circle cx="31.3" cy="18.1" r="0.92" opacity="0.69"/><circle cx="16.8" cy="21.1" r="1.20" opacity="0.45"/></g><g fill="#55ff2a" filter="url(#b06)"><circle cx="42.7" cy="38.0" r="1.23" opacity="0.71"/><circle cx="44.3" cy="44.6" r="1.20" opacity="0.74"/><circle cx="39.8" cy="40.8" r="1.07" opacity="0.47"/><circle cx="39.6" cy="41.5" r="1.20" opacity="0.43"/><circle cx="37.8" cy="42.0" r="0.86" opacity="0.59"/><circle cx="44.0" cy="41.9" r="0.87" opacity="0.47"/><circle cx="43.1" cy="39.5" r="1.20" opacity="0.41"/><circle cx="39.2" cy="42.7" r="0.66" opacity="0.54"/><circle cx="43.5" cy="40.2" r="0.83" opacity="0.71"/><circle cx="42.6" cy="40.0" r="1.08" opacity="0.66"/><circle cx="44.9" cy="39.9" r="0.93" opacity="0.71"/><circle cx="40.6" cy="41.3" r="1.14" opacity="0.75"/><circle cx="44.8" cy="38.1" r="1.29" opacity="0.73"/><circle cx="47.2" cy="41.2" r="0.93" opacity="0.47"/><circle cx="46.3" cy="37.3" r="1.29" opacity="0.85"/><circle cx="41.4" cy="43.5" r="0.80" opacity="0.84"/><circle cx="41.2" cy="46.9" r="1.24" opacity="0.49"/><circle cx="41.7" cy="38.1" r="0.87" opacity="0.70"/><circle cx="39.9" cy="42.4" r="0.88" opacity="0.75"/><circle cx="46.6" cy="38.7" r="1.21" opacity="0.42"/></g><g fill="#0a3a06" filter="url(#b06)"><circle cx="21.2" cy="18.8" r="1.10" opacity="0.45"/><circle cx="29.7" cy="11.1" r="1.01" opacity="0.61"/><circle cx="15.5" cy="16.3" r="0.87" opacity="0.35"/><circle cx="10.0" cy="20.4" r="0.87" opacity="0.53"/><circle cx="28.2" cy="15.6" r="0.95" opacity="0.66"/><circle cx="14.1" cy="28.4" r="0.82" opacity="0.48"/><circle cx="17.1" cy="16.1" r="1.38" opacity="0.53"/><circle cx="26.7" cy="9.6" r="0.66" opacity="0.47"/><circle cx="16.0" cy="13.9" r="1.33" opacity="0.67"/><circle cx="26.8" cy="16.9" r="1.48" opacity="0.31"/><circle cx="21.9" cy="10.5" r="1.36" opacity="0.45"/><circle cx="14.3" cy="22.2" r="1.39" opacity="0.31"/><circle cx="19.1" cy="12.1" r="0.62" opacity="0.60"/><circle cx="28.1" cy="26.2" r="1.22" opacity="0.44"/><circle cx="15.5" cy="21.9" r="1.31" opacity="0.49"/><circle cx="21.4" cy="17.1" r="1.34" opacity="0.68"/><circle cx="29.1" cy="17.5" r="0.83" opacity="0.57"/><circle cx="22.1" cy="22.4" r="1.49" opacity="0.69"/><circle cx="26.3" cy="20.5" r="0.75" opacity="0.33"/><circle cx="29.3" cy="13.6" r="1.21" opacity="0.42"/><circle cx="13.6" cy="24.8" r="0.75" opacity="0.33"/><circle cx="17.4" cy="27.5" r="0.79" opacity="0.62"/><circle cx="14.0" cy="25.9" r="1.28" opacity="0.34"/><circle cx="18.0" cy="29.0" r="1.04" opacity="0.47"/><circle cx="21.5" cy="24.2" r="0.72" opacity="0.68"/><circle cx="24.3" cy="25.9" r="1.37" opacity="0.40"/><circle cx="26.1" cy="19.2" r="0.87" opacity="0.37"/><circle cx="26.6" cy="11.9" r="0.75" opacity="0.45"/><circle cx="19.1" cy="18.5" r="0.80" opacity="0.69"/><circle cx="27.6" cy="18.9" r="0.87" opacity="0.64"/><circle cx="27.4" cy="13.4" r="1.39" opacity="0.56"/><circle cx="17.5" cy="10.8" r="1.46" opacity="0.60"/><circle cx="20.1" cy="21.3" r="1.06" opacity="0.50"/><circle cx="10.2" cy="23.7" r="0.92" opacity="0.37"/><circle cx="17.4" cy="17.4" r="0.65" opacity="0.41"/><circle cx="20.8" cy="15.9" r="0.86" opacity="0.56"/><circle cx="24.6" cy="10.1" r="0.71" opacity="0.56"/><circle cx="17.5" cy="11.2" r="0.85" opacity="0.41"/><circle cx="16.9" cy="29.7" r="0.60" opacity="0.31"/><circle cx="12.0" cy="21.2" r="0.89" opacity="0.59"/><circle cx="27.0" cy="24.0" r="1.03" opacity="0.64"/><circle cx="18.2" cy="29.6" r="1.18" opacity="0.46"/><circle cx="26.7" cy="14.2" r="1.37" opacity="0.33"/><circle cx="10.7" cy="27.4" r="0.98" opacity="0.61"/><circle cx="24.8" cy="14.3" r="1.06" opacity="0.39"/></g><g fill="#0a3a06" filter="url(#b03)"><circle cx="39.4" cy="41.9" r="0.60" opacity="0.59"/><circle cx="48.1" cy="45.8" r="0.67" opacity="0.35"/><circle cx="49.4" cy="41.1" r="0.63" opacity="0.33"/><circle cx="41.5" cy="46.4" r="0.45" opacity="0.33"/><circle cx="41.7" cy="40.0" r="0.60" opacity="0.45"/><circle cx="42.1" cy="39.4" r="0.62" opacity="0.47"/><circle cx="46.8" cy="41.2" r="0.55" opacity="0.49"/><circle cx="49.3" cy="44.1" r="0.41" opacity="0.39"/></g></g></g>
<g clip-path="url(#c20)" style="isolation:isolate"><rect x="150.9" y="447.3" width="63.1" height="62.8" fill="#000"/><g transform="translate(150.9 447.3) scale(0.9859 0.9813)"><g style="mix-blend-mode:screen"><ellipse cx="22" cy="23" rx="14" ry="11" fill="#2222ff" opacity="1" transform="rotate(-35 22 23)" filter="url(#b06)"/><ellipse cx="44" cy="44" rx="9" ry="8" fill="#2222ff" opacity="1" transform="rotate(20 44 44)" filter="url(#b06)"/></g><g style="mix-blend-mode:screen"><ellipse cx="16" cy="44" rx="13" ry="11" fill="#2cb81e" opacity="0.2" filter="url(#b18)"/><ellipse cx="45" cy="48" rx="14" ry="11" fill="#2cb81e" opacity="0.25" filter="url(#b18)"/><ellipse cx="22" cy="23" rx="11.5" ry="8.5" fill="#33bb99" opacity="0.7" transform="rotate(-35 22 23)" filter="url(#b06)"/><ellipse cx="44" cy="44" rx="6.5" ry="5.5" fill="#33bb99" opacity="0.75" transform="rotate(20 44 44)" filter="url(#b06)"/><g fill="#55eecc" filter="url(#b06)"><circle cx="21.9" cy="30.8" r="0.67" opacity="0.49"/><circle cx="12.1" cy="26.3" r="0.75" opacity="0.45"/><circle cx="28.9" cy="22.5" r="1.10" opacity="0.75"/><circle cx="16.1" cy="21.8" r="0.73" opacity="0.69"/><circle cx="18.7" cy="24.6" r="0.75" opacity="0.77"/><circle cx="18.0" cy="22.0" r="1.35" opacity="0.60"/><circle cx="18.1" cy="17.1" r="1.33" opacity="0.66"/><circle cx="24.8" cy="24.2" r="1.34" opacity="0.36"/><circle cx="19.1" cy="29.9" r="1.13" opacity="0.61"/><circle cx="25.5" cy="22.4" r="1.05" opacity="0.51"/><circle cx="16.6" cy="18.9" r="0.73" opacity="0.61"/><circle cx="16.5" cy="31.4" r="0.82" opacity="0.64"/><circle cx="20.1" cy="15.5" r="1.38" opacity="0.62"/><circle cx="16.5" cy="24.7" r="0.84" opacity="0.70"/><circle cx="24.9" cy="28.2" r="0.68" opacity="0.33"/><circle cx="21.0" cy="25.0" r="0.97" opacity="0.33"/><circle cx="16.9" cy="27.5" r="1.02" opacity="0.77"/><circle cx="12.1" cy="25.6" r="1.07" opacity="0.52"/><circle cx="22.2" cy="27.7" r="0.64" opacity="0.43"/><circle cx="21.8" cy="14.5" r="1.31" opacity="0.59"/><circle cx="16.2" cy="25.3" r="1.27" opacity="0.62"/><circle cx="30.4" cy="18.3" r="0.77" opacity="0.38"/><circle cx="18.4" cy="17.0" r="0.88" opacity="0.64"/><circle cx="19.0" cy="31.1" r="1.17" opacity="0.56"/><circle cx="26.6" cy="21.6" r="0.83" opacity="0.77"/><circle cx="17.4" cy="16.9" r="1.34" opacity="0.63"/><circle cx="14.3" cy="22.1" r="0.79" opacity="0.51"/><circle cx="25.4" cy="27.2" r="1.31" opacity="0.79"/><circle cx="18.0" cy="19.1" r="1.39" opacity="0.57"/><circle cx="27.2" cy="15.2" r="0.76" opacity="0.44"/><circle cx="20.3" cy="21.8" r="1.29" opacity="0.68"/><circle cx="15.4" cy="19.2" r="0.64" opacity="0.38"/><circle cx="19.5" cy="22.2" r="1.34" opacity="0.73"/><circle cx="30.5" cy="24.7" r="1.27" opacity="0.74"/><circle cx="22.7" cy="26.9" r="1.14" opacity="0.40"/><circle cx="26.9" cy="21.0" r="1.22" opacity="0.55"/><circle cx="29.6" cy="21.2" r="1.22" opacity="0.43"/><circle cx="25.6" cy="19.7" r="0.64" opacity="0.32"/><circle cx="25.6" cy="17.0" r="0.83" opacity="0.60"/><circle cx="19.5" cy="28.6" r="0.77" opacity="0.35"/><circle cx="31.6" cy="21.8" r="1.28" opacity="0.32"/><circle cx="22.0" cy="26.4" r="0.68" opacity="0.69"/><circle cx="22.3" cy="29.6" r="1.13" opacity="0.66"/><circle cx="13.2" cy="24.9" r="0.76" opacity="0.45"/><circle cx="21.7" cy="30.8" r="0.66" opacity="0.77"/><circle cx="20.8" cy="24.8" r="0.82" opacity="0.59"/><circle cx="20.2" cy="26.5" r="0.62" opacity="0.60"/><circle cx="30.0" cy="24.6" r="1.14" opacity="0.53"/><circle cx="14.7" cy="26.9" r="0.67" opacity="0.42"/><circle cx="27.5" cy="21.8" r="1.01" opacity="0.63"/><circle cx="26.0" cy="20.9" r="1.18" opacity="0.41"/><circle cx="14.3" cy="23.3" r="0.83" opacity="0.66"/><circle cx="29.5" cy="22.6" r="0.70" opacity="0.30"/><circle cx="19.7" cy="31.4" r="1.08" opacity="0.75"/><circle cx="21.8" cy="20.5" r="0.81" opacity="0.72"/><circle cx="21.3" cy="27.1" r="1.10" opacity="0.43"/><circle cx="22.1" cy="20.6" r="0.90" opacity="0.60"/><circle cx="26.9" cy="27.8" r="0.68" opacity="0.55"/><circle cx="23.9" cy="22.6" r="1.19" opacity="0.58"/><circle cx="24.7" cy="26.8" r="1.27" opacity="0.60"/><circle cx="19.2" cy="18.7" r="1.24" opacity="0.51"/><circle cx="21.5" cy="30.9" r="0.91" opacity="0.34"/><circle cx="29.1" cy="18.3" r="0.90" opacity="0.38"/><circle cx="30.8" cy="22.8" r="1.19" opacity="0.57"/><circle cx="21.5" cy="25.2" r="1.34" opacity="0.74"/><circle cx="18.3" cy="28.1" r="1.38" opacity="0.52"/><circle cx="26.4" cy="14.7" r="0.92" opacity="0.38"/><circle cx="22.0" cy="29.3" r="0.84" opacity="0.36"/><circle cx="12.5" cy="27.5" r="1.01" opacity="0.76"/><circle cx="24.0" cy="17.3" r="1.01" opacity="0.59"/><circle cx="18.9" cy="20.6" r="1.21" opacity="0.64"/><circle cx="18.8" cy="20.4" r="1.00" opacity="0.62"/><circle cx="23.5" cy="19.0" r="0.73" opacity="0.52"/><circle cx="18.5" cy="21.4" r="1.35" opacity="0.62"/><circle cx="25.4" cy="27.5" r="1.30" opacity="0.55"/><circle cx="20.8" cy="24.3" r="0.64" opacity="0.41"/><circle cx="16.0" cy="22.4" r="1.32" opacity="0.63"/><circle cx="22.3" cy="21.5" r="1.13" opacity="0.46"/><circle cx="25.8" cy="27.4" r="0.62" opacity="0.70"/><circle cx="22.2" cy="23.6" r="1.07" opacity="0.60"/></g><g fill="#55eecc" filter="url(#b06)"><circle cx="40.4" cy="44.0" r="0.99" opacity="0.67"/><circle cx="45.3" cy="44.5" r="1.13" opacity="0.43"/><circle cx="43.6" cy="48.7" r="1.11" opacity="0.60"/><circle cx="39.8" cy="44.0" r="1.08" opacity="0.57"/><circle cx="43.1" cy="41.5" r="0.68" opacity="0.36"/><circle cx="46.8" cy="44.5" r="0.93" opacity="0.31"/><circle cx="46.7" cy="43.8" r="1.10" opacity="0.61"/><circle cx="39.6" cy="44.6" r="1.03" opacity="0.40"/><circle cx="41.2" cy="41.8" r="0.86" opacity="0.45"/><circle cx="43.9" cy="40.1" r="1.25" opacity="0.72"/><circle cx="45.6" cy="39.7" r="0.97" opacity="0.74"/><circle cx="42.7" cy="45.4" r="0.85" opacity="0.63"/><circle cx="42.2" cy="41.2" r="0.60" opacity="0.76"/><circle cx="45.3" cy="48.7" r="1.09" opacity="0.45"/><circle cx="42.5" cy="45.1" r="1.13" opacity="0.46"/><circle cx="41.2" cy="41.1" r="0.95" opacity="0.50"/><circle cx="39.6" cy="41.5" r="0.92" opacity="0.78"/><circle cx="48.0" cy="43.3" r="1.18" opacity="0.36"/><circle cx="48.9" cy="43.1" r="0.84" opacity="0.32"/><circle cx="42.4" cy="46.0" r="0.85" opacity="0.31"/><circle cx="49.2" cy="44.6" r="0.80" opacity="0.75"/><circle cx="42.4" cy="45.3" r="1.14" opacity="0.58"/><circle cx="45.1" cy="45.4" r="1.27" opacity="0.76"/><circle cx="43.5" cy="42.0" r="1.15" opacity="0.56"/><circle cx="41.7" cy="42.1" r="0.77" opacity="0.43"/></g></g><g style="mix-blend-mode:screen"><path d="M31.5,1.2 L30.5,4.8" fill="none" stroke="#ff2212" stroke-width="2.4" stroke-linecap="round" stroke-linejoin="round" opacity="1" filter="url(#b03)"/><path d="M33.5,5.5 L35.5,7.5" fill="none" stroke="#ff2212" stroke-width="2.6" stroke-linecap="round" stroke-linejoin="round" opacity="1" filter="url(#b03)"/><path d="M36,8 L38.5,10" fill="none" stroke="#ff2212" stroke-width="2.4" stroke-linecap="round" stroke-linejoin="round" opacity="1" filter="url(#b03)"/><path d="M40.50,23.50 C40.75,23.17 42.83,24.42 43.50,25.00 C44.17,25.58 44.75,26.25 44.50,27.00 C44.25,27.75 42.75,29.17 42.00,29.50 C41.25,29.83 40.00,29.42 40.00,29.00 C40.00,28.58 41.92,27.92 42.00,27.00 C42.08,26.08 40.25,23.83 40.50,23.50Z" fill="#ff2212" opacity="1" filter="url(#b03)"/><path d="M5.00,41.00 C5.67,40.33 8.00,39.00 9.00,39.00 C10.00,39.00 10.00,40.67 11.00,41.00 C12.00,41.33 13.67,40.50 15.00,41.00 C16.33,41.50 18.33,43.00 19.00,44.00 C19.67,45.00 19.67,46.17 19.00,47.00 C18.33,47.83 16.33,48.67 15.00,49.00 C13.67,49.33 12.00,49.50 11.00,49.00 C10.00,48.50 10.00,47.00 9.00,46.00 C8.00,45.00 5.67,43.83 5.00,43.00 C4.33,42.17 4.33,41.67 5.00,41.00Z" fill="#ff2212" opacity="1" filter="url(#b03)"/><ellipse cx="55" cy="51.5" rx="2" ry="3.5" fill="#ff2212" opacity="1" transform="rotate(30 55 51.5)" filter="url(#b03)"/><path d="M45,54 L47.5,55" fill="none" stroke="#ff2212" stroke-width="1.4" stroke-linecap="round" stroke-linejoin="round" opacity="0.8" filter="url(#b03)"/></g></g></g>
<g clip-path="url(#c21)" style="isolation:isolate"><rect x="229.6" y="248.6" width="63.4" height="63.0" fill="#000"/><g transform="translate(229.6 248.6) scale(0.9906 0.9844)"><path d="M16.5,20.5 L27,12" fill="none" stroke="#ff2212" stroke-width="2.8" stroke-linecap="round" stroke-linejoin="round" opacity="1" filter="url(#b03)"/><path d="M14.5,19.5 L20,25" fill="none" stroke="#ff2212" stroke-width="2.4" stroke-linecap="round" stroke-linejoin="round" opacity="1" filter="url(#b03)"/><path d="M26,11 L28,13" fill="none" stroke="#ff2212" stroke-width="2.2" stroke-linecap="round" stroke-linejoin="round" opacity="1" filter="url(#b03)"/><path d="M29.29,20.58 C29.78,20.17 31.21,19.86 31.71,19.56 C32.21,19.26 33.38,18.21 33.58,18.01 C33.77,17.82 32.96,17.76 33.37,17.92 C33.78,18.07 36.41,19.28 37.06,19.36 C37.72,19.43 38.63,18.57 38.96,18.57 C39.30,18.58 39.56,19.09 39.93,19.39 C40.29,19.70 41.77,20.95 42.11,21.18 C42.44,21.40 42.50,21.05 42.83,21.32 C43.17,21.59 44.41,23.40 44.97,23.50 C45.53,23.60 47.43,22.11 47.64,22.18 C47.84,22.26 46.99,23.68 46.71,24.13 C46.44,24.59 45.80,25.49 45.28,26.10 C44.77,26.72 42.77,29.02 42.30,29.39 C41.84,29.77 41.32,28.91 41.30,29.32 C41.29,29.73 42.37,32.22 42.16,32.89 C41.95,33.57 39.85,34.75 39.49,35.11 C39.14,35.46 39.35,35.58 39.09,35.93 C38.84,36.27 37.19,37.63 37.29,38.06 C37.39,38.49 39.41,39.45 39.96,39.62 C40.50,39.79 41.75,39.33 41.94,39.52 C42.14,39.70 41.64,40.80 41.67,41.20 C41.69,41.60 42.17,42.37 42.15,42.96 C42.13,43.55 41.80,45.61 41.52,46.25 C41.25,46.89 40.21,48.16 39.81,48.43 C39.41,48.69 38.47,48.37 38.11,48.54 C37.76,48.72 37.24,49.96 36.76,49.95 C36.29,49.94 34.44,48.92 34.06,48.45 C33.68,47.99 33.66,46.42 33.49,45.94 C33.33,45.46 32.98,44.48 32.64,44.35 C32.30,44.23 31.16,45.02 30.60,44.83 C30.04,44.63 28.18,43.23 27.84,42.69 C27.50,42.15 27.74,40.92 27.68,40.19 C27.62,39.46 27.26,36.89 27.32,36.41 C27.39,35.93 28.07,36.48 28.23,36.09 C28.40,35.71 28.45,33.70 28.77,33.11 C29.10,32.53 31.05,31.76 31.03,31.06 C31.01,30.37 28.97,27.78 28.63,27.15 C28.28,26.52 28.18,26.13 28.06,25.66 C27.93,25.19 27.42,23.69 27.56,23.10 C27.70,22.50 28.81,20.99 29.29,20.58Z" fill="#ff2212" opacity="0.55" filter="url(#b03)"/><path d="M34.8,20.8L33.5,23.2M36.2,28.7L40.2,29.4M28.7,17.6L29.9,22.4M31.4,21.9L29.3,26.8M40.3,30.0L37.6,30.2M43.0,25.9L45.6,27.2M32.1,42.8L35.7,45.1M40.3,28.0L39.9,30.6M30.1,22.2L28.1,25.4M33.7,34.6L34.2,38.0M32.8,33.4L32.4,38.5M43.3,26.4L40.4,26.6M34.2,41.1L37.7,42.9M30.3,37.6L27.2,40.5M45.9,25.6L43.4,29.1M41.4,30.8L36.7,33.3M34.7,38.5L39.3,39.4M42.8,24.3L44.4,28.5M28.8,20.4L33.6,21.3M29.6,22.8L31.3,27.6M40.6,44.8L36.3,47.5M32.2,28.4L34.4,33.0M29.9,23.3L32.8,26.0M37.3,25.6L41.1,25.7M37.3,35.4L32.8,36.0M38.5,36.2L37.1,38.5M33.4,29.5L37.5,30.9M31.3,21.2L32.6,23.5M27.4,28.8L32.5,29.2M38.4,20.6L40.9,23.2M37.4,19.8L32.5,22.3M35.5,32.6L38.2,33.3M35.8,25.0L33.2,26.5M38.2,20.6L37.9,23.1M30.9,27.9L35.0,30.3M37.3,41.3L38.9,44.1M31.7,32.9L32.9,35.2M27.0,24.6L30.1,27.9M30.9,23.6L33.5,25.4M41.6,45.8L38.1,47.7M38.2,42.8L42.6,44.0M30.2,40.9L32.6,45.2M36.6,47.1L34.6,49.4M32.8,21.3L28.1,22.7M33.0,44.1L28.5,44.4M33.5,34.6L35.8,35.6M37.5,45.3L38.5,50.3M42.5,22.8L44.9,25.2M31.3,35.0L33.9,37.7M35.4,29.6L34.0,34.6M36.0,45.2L36.0,49.3M33.9,23.0L38.8,23.1M32.6,31.0L29.9,34.2M34.6,31.7L33.8,36.5M28.8,34.3L31.2,36.7" stroke="#ff2212" stroke-width="1.7" stroke-linecap="round" fill="none" opacity="1" filter="url(#b03)"/><path d="M25,46 L30,43" fill="none" stroke="#ff2212" stroke-width="1.8" stroke-linecap="round" stroke-linejoin="round" opacity="1" filter="url(#b03)"/><path d="M27.5,44 L28.5,49" fill="none" stroke="#ff2212" stroke-width="1.8" stroke-linecap="round" stroke-linejoin="round" opacity="1" filter="url(#b03)"/><path d="M44,23 L48,21" fill="none" stroke="#ff2212" stroke-width="1.6" stroke-linecap="round" stroke-linejoin="round" opacity="1" filter="url(#b03)"/></g></g>
<g clip-path="url(#c22)" style="isolation:isolate"><rect x="295.1" y="248.6" width="63.1" height="63.0" fill="#000"/><g transform="translate(295.1 248.6) scale(0.9859 0.9844)"><path d="M16.00,14.00 C18.50,11.67 25.17,8.67 30.00,8.00 C34.83,7.33 40.67,8.67 45.00,10.00 C49.33,11.33 54.17,12.67 56.00,16.00 C57.83,19.33 57.33,26.00 56.00,30.00 C54.67,34.00 51.50,37.50 48.00,40.00 C44.50,42.50 39.33,43.00 35.00,45.00 C30.67,47.00 25.50,51.17 22.00,52.00 C18.50,52.83 15.50,52.83 14.00,50.00 C12.50,47.17 12.83,39.67 13.00,35.00 C13.17,30.33 14.50,25.50 15.00,22.00 C15.50,18.50 13.50,16.33 16.00,14.00Z" fill="#2cb81e" opacity="0.08" filter="url(#b18)"/><g fill="#3ae626" filter="url(#b03)"><circle cx="21.8" cy="12.1" r="0.65" opacity="0.23"/><circle cx="40.3" cy="23.6" r="0.55" opacity="0.32"/><circle cx="48.2" cy="19.6" r="0.47" opacity="0.08"/><circle cx="49.4" cy="24.4" r="0.71" opacity="0.10"/><circle cx="46.1" cy="15.9" r="0.66" opacity="0.07"/><circle cx="22.2" cy="12.5" r="0.54" opacity="0.06"/><circle cx="16.6" cy="36.7" r="0.79" opacity="0.34"/><circle cx="47.8" cy="27.1" r="0.70" opacity="0.27"/><circle cx="46.0" cy="29.0" r="0.69" opacity="0.16"/><circle cx="24.8" cy="15.7" r="0.52" opacity="0.19"/><circle cx="26.7" cy="46.5" r="0.59" opacity="0.18"/><circle cx="15.4" cy="23.1" r="0.66" opacity="0.18"/><circle cx="30.3" cy="15.1" r="0.60" opacity="0.28"/><circle cx="37.0" cy="39.1" r="0.41" opacity="0.35"/><circle cx="55.7" cy="21.3" r="0.66" opacity="0.26"/><circle cx="40.2" cy="20.7" r="0.52" opacity="0.16"/><circle cx="26.0" cy="46.4" r="0.66" opacity="0.24"/><circle cx="34.1" cy="40.5" r="0.53" opacity="0.29"/><circle cx="19.7" cy="39.8" r="0.77" opacity="0.30"/><circle cx="43.2" cy="11.6" r="0.49" opacity="0.17"/><circle cx="54.2" cy="26.9" r="0.70" opacity="0.12"/><circle cx="28.7" cy="45.5" r="0.68" opacity="0.11"/><circle cx="29.3" cy="17.2" r="0.53" opacity="0.20"/><circle cx="38.6" cy="25.0" r="0.65" opacity="0.31"/><circle cx="24.0" cy="28.7" r="0.77" opacity="0.25"/><circle cx="34.0" cy="21.8" r="0.61" opacity="0.25"/><circle cx="33.7" cy="19.4" r="0.53" opacity="0.10"/><circle cx="27.6" cy="38.9" r="0.76" opacity="0.16"/><circle cx="28.8" cy="37.0" r="0.73" opacity="0.14"/><circle cx="47.3" cy="15.1" r="0.58" opacity="0.12"/><circle cx="44.1" cy="15.6" r="0.58" opacity="0.10"/><circle cx="22.8" cy="22.9" r="0.57" opacity="0.19"/><circle cx="48.5" cy="15.4" r="0.63" opacity="0.06"/><circle cx="33.5" cy="30.0" r="0.72" opacity="0.15"/><circle cx="24.5" cy="30.0" r="0.57" opacity="0.15"/><circle cx="50.9" cy="29.0" r="0.49" opacity="0.26"/><circle cx="30.3" cy="13.2" r="0.53" opacity="0.22"/><circle cx="36.8" cy="37.4" r="0.69" opacity="0.30"/><circle cx="45.7" cy="39.6" r="0.66" opacity="0.22"/><circle cx="39.9" cy="14.8" r="0.48" opacity="0.32"/><circle cx="29.7" cy="16.9" r="0.62" opacity="0.13"/><circle cx="40.9" cy="16.1" r="0.41" opacity="0.12"/><circle cx="14.5" cy="47.5" r="0.39" opacity="0.23"/><circle cx="43.9" cy="21.7" r="0.39" opacity="0.34"/><circle cx="51.5" cy="18.0" r="0.46" opacity="0.17"/><circle cx="14.1" cy="34.6" r="0.78" opacity="0.25"/><circle cx="47.5" cy="30.9" r="0.35" opacity="0.31"/><circle cx="29.4" cy="18.9" r="0.38" opacity="0.20"/><circle cx="18.4" cy="37.7" r="0.77" opacity="0.09"/><circle cx="32.0" cy="29.0" r="0.67" opacity="0.32"/><circle cx="24.3" cy="46.1" r="0.69" opacity="0.13"/><circle cx="41.6" cy="41.5" r="0.55" opacity="0.24"/><circle cx="14.7" cy="32.0" r="0.71" opacity="0.34"/><circle cx="18.4" cy="46.2" r="0.69" opacity="0.08"/><circle cx="30.7" cy="10.5" r="0.50" opacity="0.35"/><circle cx="37.0" cy="23.8" r="0.78" opacity="0.35"/><circle cx="22.5" cy="37.1" r="0.66" opacity="0.33"/><circle cx="14.4" cy="42.8" r="0.49" opacity="0.19"/><circle cx="28.5" cy="31.1" r="0.52" opacity="0.09"/><circle cx="26.5" cy="31.9" r="0.66" opacity="0.28"/><circle cx="21.4" cy="45.2" r="0.78" opacity="0.26"/><circle cx="34.2" cy="12.1" r="0.52" opacity="0.32"/><circle cx="23.6" cy="45.9" r="0.68" opacity="0.24"/><circle cx="18.8" cy="44.0" r="0.57" opacity="0.07"/><circle cx="26.6" cy="34.9" r="0.50" opacity="0.16"/><circle cx="34.1" cy="10.8" r="0.67" opacity="0.27"/><circle cx="42.9" cy="17.2" r="0.75" opacity="0.24"/><circle cx="47.7" cy="17.8" r="0.50" opacity="0.08"/><circle cx="28.6" cy="21.5" r="0.64" opacity="0.12"/><circle cx="36.9" cy="10.1" r="0.47" opacity="0.22"/><circle cx="22.5" cy="50.7" r="0.46" opacity="0.20"/><circle cx="21.4" cy="43.7" r="0.37" opacity="0.27"/><circle cx="21.6" cy="11.9" r="0.64" opacity="0.22"/><circle cx="48.1" cy="20.7" r="0.68" opacity="0.29"/><circle cx="19.6" cy="20.3" r="0.79" opacity="0.17"/><circle cx="29.6" cy="30.6" r="0.63" opacity="0.24"/><circle cx="24.5" cy="42.8" r="0.48" opacity="0.31"/><circle cx="46.8" cy="39.6" r="0.39" opacity="0.31"/><circle cx="37.4" cy="11.4" r="0.52" opacity="0.10"/><circle cx="25.3" cy="38.6" r="0.66" opacity="0.22"/><circle cx="28.6" cy="36.1" r="0.48" opacity="0.18"/><circle cx="26.0" cy="12.4" r="0.76" opacity="0.33"/><circle cx="45.8" cy="21.7" r="0.43" opacity="0.30"/><circle cx="20.8" cy="27.0" r="0.60" opacity="0.11"/><circle cx="55.7" cy="21.2" r="0.67" opacity="0.10"/><circle cx="15.5" cy="23.7" r="0.37" opacity="0.18"/><circle cx="13.9" cy="41.6" r="0.80" opacity="0.11"/><circle cx="18.6" cy="43.1" r="0.39" opacity="0.18"/><circle cx="47.2" cy="14.6" r="0.48" opacity="0.30"/><circle cx="20.1" cy="43.7" r="0.50" opacity="0.23"/><circle cx="20.4" cy="35.2" r="0.62" opacity="0.33"/><circle cx="33.4" cy="19.3" r="0.73" opacity="0.15"/><circle cx="22.1" cy="27.7" r="0.60" opacity="0.20"/><circle cx="20.0" cy="25.8" r="0.76" opacity="0.23"/><circle cx="14.9" cy="23.6" r="0.52" opacity="0.17"/><circle cx="23.0" cy="23.9" r="0.49" opacity="0.14"/><circle cx="16.9" cy="14.3" r="0.45" opacity="0.27"/><circle cx="39.5" cy="15.9" r="0.52" opacity="0.27"/><circle cx="43.5" cy="31.7" r="0.46" opacity="0.16"/><circle cx="29.4" cy="40.5" r="0.73" opacity="0.15"/><circle cx="25.0" cy="16.7" r="0.56" opacity="0.11"/><circle cx="34.2" cy="19.1" r="0.59" opacity="0.22"/><circle cx="29.1" cy="24.0" r="0.53" opacity="0.31"/><circle cx="42.8" cy="24.2" r="0.59" opacity="0.25"/><circle cx="27.6" cy="41.0" r="0.56" opacity="0.27"/><circle cx="33.8" cy="31.3" r="0.52" opacity="0.32"/><circle cx="41.2" cy="17.8" r="0.75" opacity="0.30"/><circle cx="30.6" cy="12.5" r="0.45" opacity="0.20"/><circle cx="32.1" cy="18.4" r="0.80" opacity="0.11"/><circle cx="36.7" cy="10.4" r="0.45" opacity="0.28"/><circle cx="25.0" cy="40.8" r="0.72" opacity="0.08"/><circle cx="33.4" cy="43.7" r="0.53" opacity="0.23"/><circle cx="24.8" cy="14.4" r="0.60" opacity="0.25"/><circle cx="37.0" cy="27.2" r="0.76" opacity="0.33"/><circle cx="39.3" cy="14.4" r="0.39" opacity="0.22"/><circle cx="22.9" cy="46.4" r="0.37" opacity="0.09"/><circle cx="39.0" cy="34.5" r="0.63" opacity="0.15"/><circle cx="48.5" cy="24.6" r="0.54" opacity="0.31"/><circle cx="24.4" cy="31.2" r="0.48" opacity="0.19"/><circle cx="14.5" cy="45.4" r="0.55" opacity="0.15"/><circle cx="35.2" cy="10.3" r="0.38" opacity="0.17"/><circle cx="31.8" cy="43.1" r="0.65" opacity="0.06"/><circle cx="27.4" cy="20.8" r="0.62" opacity="0.17"/><circle cx="15.4" cy="32.7" r="0.76" opacity="0.29"/><circle cx="35.9" cy="27.0" r="0.37" opacity="0.13"/><circle cx="20.2" cy="43.6" r="0.39" opacity="0.31"/><circle cx="49.2" cy="36.2" r="0.72" opacity="0.11"/><circle cx="42.2" cy="41.5" r="0.45" opacity="0.12"/><circle cx="53.1" cy="24.7" r="0.46" opacity="0.26"/><circle cx="28.9" cy="12.6" r="0.48" opacity="0.25"/><circle cx="40.5" cy="11.4" r="0.58" opacity="0.22"/><circle cx="25.8" cy="11.6" r="0.72" opacity="0.07"/><circle cx="44.4" cy="11.1" r="0.67" opacity="0.23"/><circle cx="50.0" cy="16.7" r="0.41" opacity="0.32"/><circle cx="35.5" cy="25.3" r="0.69" opacity="0.15"/><circle cx="19.2" cy="47.5" r="0.46" opacity="0.27"/><circle cx="53.3" cy="15.4" r="0.44" opacity="0.33"/><circle cx="41.1" cy="36.0" r="0.64" opacity="0.34"/><circle cx="24.2" cy="22.1" r="0.61" opacity="0.16"/><circle cx="35.1" cy="23.6" r="0.48" opacity="0.26"/><circle cx="28.7" cy="30.5" r="0.75" opacity="0.16"/><circle cx="27.3" cy="37.7" r="0.60" opacity="0.31"/><circle cx="24.1" cy="48.6" r="0.71" opacity="0.11"/><circle cx="20.0" cy="25.4" r="0.60" opacity="0.19"/><circle cx="20.6" cy="27.9" r="0.56" opacity="0.08"/><circle cx="51.0" cy="28.2" r="0.52" opacity="0.23"/><circle cx="54.5" cy="20.1" r="0.42" opacity="0.28"/><circle cx="27.4" cy="24.1" r="0.51" opacity="0.09"/><circle cx="31.7" cy="23.5" r="0.47" opacity="0.32"/><circle cx="21.9" cy="44.9" r="0.40" opacity="0.19"/><circle cx="38.4" cy="19.5" r="0.74" opacity="0.35"/><circle cx="30.5" cy="21.9" r="0.67" opacity="0.17"/><circle cx="13.9" cy="44.9" r="0.50" opacity="0.27"/><circle cx="19.7" cy="37.5" r="0.51" opacity="0.24"/><circle cx="51.6" cy="19.0" r="0.77" opacity="0.34"/><circle cx="52.0" cy="23.5" r="0.75" opacity="0.22"/><circle cx="52.0" cy="23.5" r="0.41" opacity="0.27"/><circle cx="21.8" cy="15.8" r="0.73" opacity="0.24"/><circle cx="42.2" cy="27.6" r="0.36" opacity="0.09"/><circle cx="39.8" cy="20.3" r="0.78" opacity="0.32"/><circle cx="22.9" cy="34.3" r="0.71" opacity="0.31"/><circle cx="49.0" cy="24.9" r="0.35" opacity="0.29"/><circle cx="40.0" cy="14.9" r="0.78" opacity="0.27"/><circle cx="28.6" cy="38.3" r="0.66" opacity="0.22"/><circle cx="45.2" cy="28.2" r="0.67" opacity="0.31"/><circle cx="49.7" cy="22.2" r="0.53" opacity="0.32"/><circle cx="18.7" cy="47.9" r="0.40" opacity="0.17"/><circle cx="37.9" cy="28.7" r="0.37" opacity="0.19"/><circle cx="38.6" cy="22.3" r="0.62" opacity="0.27"/><circle cx="52.7" cy="19.1" r="0.77" opacity="0.35"/><circle cx="46.3" cy="20.2" r="0.55" opacity="0.26"/><circle cx="19.2" cy="35.2" r="0.71" opacity="0.20"/><circle cx="19.8" cy="21.9" r="0.78" opacity="0.27"/><circle cx="21.8" cy="32.5" r="0.58" opacity="0.17"/><circle cx="24.8" cy="22.3" r="0.65" opacity="0.11"/><circle cx="45.2" cy="10.9" r="0.44" opacity="0.16"/><circle cx="17.7" cy="44.8" r="0.58" opacity="0.22"/><circle cx="24.3" cy="46.0" r="0.60" opacity="0.20"/><circle cx="22.5" cy="35.3" r="0.61" opacity="0.33"/><circle cx="19.5" cy="18.4" r="0.59" opacity="0.09"/><circle cx="39.2" cy="29.2" r="0.72" opacity="0.07"/><circle cx="25.6" cy="47.4" r="0.58" opacity="0.15"/><circle cx="27.2" cy="34.5" r="0.76" opacity="0.07"/><circle cx="16.3" cy="33.5" r="0.77" opacity="0.17"/><circle cx="48.0" cy="31.3" r="0.47" opacity="0.18"/><circle cx="18.1" cy="20.3" r="0.38" opacity="0.19"/><circle cx="25.6" cy="41.0" r="0.54" opacity="0.32"/><circle cx="15.6" cy="22.2" r="0.78" opacity="0.12"/><circle cx="18.2" cy="42.1" r="0.59" opacity="0.26"/><circle cx="18.2" cy="13.9" r="0.77" opacity="0.08"/><circle cx="23.5" cy="21.0" r="0.73" opacity="0.14"/><circle cx="14.3" cy="42.9" r="0.49" opacity="0.10"/><circle cx="47.1" cy="11.2" r="0.51" opacity="0.24"/><circle cx="30.8" cy="45.4" r="0.62" opacity="0.22"/><circle cx="19.2" cy="49.1" r="0.53" opacity="0.18"/><circle cx="23.7" cy="44.8" r="0.50" opacity="0.22"/><circle cx="45.7" cy="14.5" r="0.42" opacity="0.17"/><circle cx="29.3" cy="14.6" r="0.62" opacity="0.22"/><circle cx="48.5" cy="13.2" r="0.41" opacity="0.12"/><circle cx="23.1" cy="18.0" r="0.65" opacity="0.32"/></g><g fill="#3ae626" filter="url(#b03)"><circle cx="43.7" cy="17.9" r="0.78" opacity="0.34"/><circle cx="23.0" cy="14.2" r="0.59" opacity="0.25"/><circle cx="34.4" cy="8.1" r="0.81" opacity="0.35"/><circle cx="43.6" cy="22.0" r="0.89" opacity="0.46"/><circle cx="27.7" cy="12.6" r="0.61" opacity="0.51"/><circle cx="43.3" cy="12.3" r="0.51" opacity="0.43"/><circle cx="24.9" cy="15.0" r="0.66" opacity="0.53"/><circle cx="37.9" cy="19.3" r="0.82" opacity="0.46"/><circle cx="35.9" cy="18.3" r="0.65" opacity="0.58"/><circle cx="38.2" cy="19.0" r="0.57" opacity="0.45"/><circle cx="21.4" cy="14.1" r="0.64" opacity="0.58"/><circle cx="31.0" cy="13.7" r="0.76" opacity="0.31"/><circle cx="37.4" cy="18.7" r="0.50" opacity="0.60"/><circle cx="34.2" cy="17.4" r="0.66" opacity="0.58"/><circle cx="42.7" cy="20.3" r="0.96" opacity="0.32"/><circle cx="27.4" cy="8.9" r="0.72" opacity="0.52"/><circle cx="32.6" cy="17.7" r="0.82" opacity="0.27"/><circle cx="31.3" cy="23.9" r="0.89" opacity="0.26"/><circle cx="32.2" cy="17.6" r="0.71" opacity="0.27"/><circle cx="37.7" cy="17.4" r="0.70" opacity="0.48"/><circle cx="31.2" cy="17.5" r="0.70" opacity="0.51"/><circle cx="28.9" cy="14.0" r="0.52" opacity="0.44"/><circle cx="33.6" cy="10.3" r="0.78" opacity="0.27"/><circle cx="36.9" cy="10.8" r="0.84" opacity="0.30"/><circle cx="37.1" cy="8.9" r="0.99" opacity="0.31"/><circle cx="37.4" cy="14.9" r="0.62" opacity="0.25"/><circle cx="26.8" cy="13.2" r="0.87" opacity="0.59"/><circle cx="31.7" cy="12.7" r="0.88" opacity="0.35"/><circle cx="29.0" cy="21.5" r="0.68" opacity="0.59"/><circle cx="29.2" cy="18.3" r="0.62" opacity="0.55"/><circle cx="39.5" cy="26.6" r="0.89" opacity="0.23"/><circle cx="22.6" cy="17.3" r="0.80" opacity="0.50"/><circle cx="42.2" cy="24.2" r="0.79" opacity="0.54"/><circle cx="35.6" cy="16.2" r="0.75" opacity="0.45"/><circle cx="29.8" cy="14.0" r="0.80" opacity="0.21"/><circle cx="21.2" cy="20.4" r="0.51" opacity="0.44"/><circle cx="40.5" cy="19.6" r="0.96" opacity="0.38"/><circle cx="25.8" cy="17.2" r="0.54" opacity="0.46"/><circle cx="26.7" cy="10.5" r="0.53" opacity="0.25"/><circle cx="30.1" cy="10.4" r="0.94" opacity="0.40"/><circle cx="29.3" cy="12.0" r="0.72" opacity="0.51"/><circle cx="40.2" cy="12.8" r="0.71" opacity="0.25"/><circle cx="20.9" cy="14.6" r="0.91" opacity="0.20"/><circle cx="29.3" cy="18.0" r="0.82" opacity="0.52"/><circle cx="27.5" cy="13.9" r="0.52" opacity="0.44"/><circle cx="29.8" cy="19.0" r="0.57" opacity="0.21"/><circle cx="39.4" cy="21.2" r="0.73" opacity="0.25"/><circle cx="26.1" cy="26.0" r="0.53" opacity="0.51"/><circle cx="39.0" cy="15.9" r="0.79" opacity="0.31"/><circle cx="27.1" cy="12.1" r="0.94" opacity="0.53"/><circle cx="42.4" cy="21.7" r="0.69" opacity="0.31"/><circle cx="24.3" cy="16.9" r="0.65" opacity="0.21"/><circle cx="37.9" cy="8.3" r="0.60" opacity="0.20"/><circle cx="26.8" cy="13.1" r="0.54" opacity="0.47"/><circle cx="44.8" cy="14.6" r="0.90" opacity="0.58"/><circle cx="29.6" cy="17.0" r="0.85" opacity="0.57"/><circle cx="45.3" cy="21.3" r="0.64" opacity="0.57"/><circle cx="32.4" cy="28.0" r="0.95" opacity="0.59"/><circle cx="25.1" cy="19.4" r="0.77" opacity="0.43"/><circle cx="35.5" cy="23.2" r="0.64" opacity="0.38"/><circle cx="25.5" cy="23.9" r="0.64" opacity="0.60"/><circle cx="45.2" cy="18.2" r="0.86" opacity="0.21"/><circle cx="32.8" cy="24.7" r="0.61" opacity="0.39"/><circle cx="40.6" cy="21.7" r="0.59" opacity="0.51"/><circle cx="28.8" cy="7.8" r="0.76" opacity="0.41"/><circle cx="25.1" cy="24.2" r="0.96" opacity="0.32"/><circle cx="23.8" cy="16.9" r="0.86" opacity="0.55"/><circle cx="43.0" cy="12.4" r="0.55" opacity="0.43"/><circle cx="29.4" cy="19.0" r="0.81" opacity="0.57"/><circle cx="31.1" cy="27.3" r="0.89" opacity="0.31"/><circle cx="28.8" cy="11.8" r="0.93" opacity="0.23"/><circle cx="31.5" cy="17.8" r="0.85" opacity="0.59"/><circle cx="33.4" cy="13.0" r="0.82" opacity="0.58"/><circle cx="40.5" cy="10.2" r="0.52" opacity="0.38"/><circle cx="39.8" cy="25.0" r="0.72" opacity="0.23"/><circle cx="31.6" cy="28.6" r="0.77" opacity="0.27"/><circle cx="24.4" cy="21.5" r="0.93" opacity="0.29"/><circle cx="25.7" cy="10.5" r="0.81" opacity="0.55"/><circle cx="37.2" cy="8.2" r="0.52" opacity="0.39"/><circle cx="23.8" cy="24.7" r="0.52" opacity="0.39"/><circle cx="21.8" cy="21.7" r="0.96" opacity="0.48"/><circle cx="25.1" cy="26.5" r="0.72" opacity="0.58"/><circle cx="33.9" cy="22.7" r="0.93" opacity="0.35"/><circle cx="31.4" cy="13.1" r="0.64" opacity="0.28"/><circle cx="36.5" cy="27.8" r="0.72" opacity="0.59"/><circle cx="41.0" cy="14.2" r="0.62" opacity="0.44"/><circle cx="25.4" cy="19.9" r="0.97" opacity="0.26"/><circle cx="34.1" cy="19.7" r="0.97" opacity="0.40"/><circle cx="36.1" cy="27.4" r="0.92" opacity="0.50"/><circle cx="40.7" cy="12.4" r="0.95" opacity="0.54"/></g></g></g>
<g clip-path="url(#c23)" style="isolation:isolate"><rect x="360.8" y="248.6" width="63.4" height="63.0" fill="#000"/><g transform="translate(360.8 248.6) scale(0.9906 0.9844)"><g style="mix-blend-mode:screen"><path d="M16.00,14.00 C18.50,11.67 25.17,8.67 30.00,8.00 C34.83,7.33 40.67,8.67 45.00,10.00 C49.33,11.33 54.17,12.67 56.00,16.00 C57.83,19.33 57.33,26.00 56.00,30.00 C54.67,34.00 51.50,37.50 48.00,40.00 C44.50,42.50 39.33,43.00 35.00,45.00 C30.67,47.00 25.50,51.17 22.00,52.00 C18.50,52.83 15.50,52.83 14.00,50.00 C12.50,47.17 12.83,39.67 13.00,35.00 C13.17,30.33 14.50,25.50 15.00,22.00 C15.50,18.50 13.50,16.33 16.00,14.00Z" fill="#2cb81e" opacity="0.07200000000000001" filter="url(#b18)"/><g fill="#3ae626" filter="url(#b03)"><circle cx="16.6" cy="15.6" r="0.66" opacity="0.10"/><circle cx="44.9" cy="28.5" r="0.72" opacity="0.12"/><circle cx="38.9" cy="24.3" r="0.57" opacity="0.31"/><circle cx="22.3" cy="41.2" r="0.69" opacity="0.08"/><circle cx="55.7" cy="27.7" r="0.59" opacity="0.13"/><circle cx="28.0" cy="40.3" r="0.70" opacity="0.28"/><circle cx="42.7" cy="27.0" r="0.50" opacity="0.15"/><circle cx="29.1" cy="47.0" r="0.72" opacity="0.11"/><circle cx="29.8" cy="16.1" r="0.44" opacity="0.30"/><circle cx="31.7" cy="35.9" r="0.72" opacity="0.19"/><circle cx="39.0" cy="32.8" r="0.75" opacity="0.23"/><circle cx="27.7" cy="47.6" r="0.72" opacity="0.30"/><circle cx="41.7" cy="27.6" r="0.51" opacity="0.22"/><circle cx="20.7" cy="40.1" r="0.67" opacity="0.28"/><circle cx="22.4" cy="33.6" r="0.60" opacity="0.21"/><circle cx="30.6" cy="8.4" r="0.77" opacity="0.29"/><circle cx="19.8" cy="48.2" r="0.62" opacity="0.06"/><circle cx="40.3" cy="21.2" r="0.52" opacity="0.08"/><circle cx="48.8" cy="36.5" r="0.45" opacity="0.20"/><circle cx="22.0" cy="38.1" r="0.71" opacity="0.29"/><circle cx="24.5" cy="46.1" r="0.43" opacity="0.09"/><circle cx="30.7" cy="15.8" r="0.39" opacity="0.16"/><circle cx="50.4" cy="35.7" r="0.57" opacity="0.19"/><circle cx="22.0" cy="18.2" r="0.47" opacity="0.25"/><circle cx="41.1" cy="10.3" r="0.60" opacity="0.30"/><circle cx="16.1" cy="15.1" r="0.79" opacity="0.19"/><circle cx="24.3" cy="21.6" r="0.45" opacity="0.25"/><circle cx="17.4" cy="27.5" r="0.70" opacity="0.24"/><circle cx="26.5" cy="14.9" r="0.72" opacity="0.27"/><circle cx="40.5" cy="34.2" r="0.40" opacity="0.14"/><circle cx="25.0" cy="30.1" r="0.48" opacity="0.21"/><circle cx="19.1" cy="16.4" r="0.66" opacity="0.20"/><circle cx="37.7" cy="40.5" r="0.67" opacity="0.11"/><circle cx="21.0" cy="46.6" r="0.68" opacity="0.16"/><circle cx="43.2" cy="38.8" r="0.39" opacity="0.17"/><circle cx="42.3" cy="22.6" r="0.74" opacity="0.20"/><circle cx="51.6" cy="16.6" r="0.78" opacity="0.12"/><circle cx="22.0" cy="31.1" r="0.65" opacity="0.13"/><circle cx="46.4" cy="28.0" r="0.76" opacity="0.14"/><circle cx="33.8" cy="44.2" r="0.74" opacity="0.07"/><circle cx="26.8" cy="14.5" r="0.62" opacity="0.27"/><circle cx="22.3" cy="42.1" r="0.42" opacity="0.31"/><circle cx="17.4" cy="14.0" r="0.72" opacity="0.16"/><circle cx="16.0" cy="19.8" r="0.75" opacity="0.28"/><circle cx="27.0" cy="9.4" r="0.66" opacity="0.09"/><circle cx="43.8" cy="30.6" r="0.75" opacity="0.07"/><circle cx="39.2" cy="23.7" r="0.60" opacity="0.12"/><circle cx="53.7" cy="30.8" r="0.64" opacity="0.18"/><circle cx="16.6" cy="50.4" r="0.47" opacity="0.22"/><circle cx="21.2" cy="23.0" r="0.75" opacity="0.28"/><circle cx="32.7" cy="28.4" r="0.51" opacity="0.23"/><circle cx="30.6" cy="14.1" r="0.65" opacity="0.15"/><circle cx="39.5" cy="39.8" r="0.79" opacity="0.08"/><circle cx="14.6" cy="31.8" r="0.47" opacity="0.21"/><circle cx="46.1" cy="33.2" r="0.47" opacity="0.16"/><circle cx="22.5" cy="45.2" r="0.52" opacity="0.11"/><circle cx="52.5" cy="32.9" r="0.60" opacity="0.31"/><circle cx="27.4" cy="30.5" r="0.48" opacity="0.25"/><circle cx="24.5" cy="21.0" r="0.43" opacity="0.29"/><circle cx="29.4" cy="46.4" r="0.59" opacity="0.10"/><circle cx="41.8" cy="29.4" r="0.72" opacity="0.23"/><circle cx="53.0" cy="17.1" r="0.77" opacity="0.27"/><circle cx="29.7" cy="27.8" r="0.59" opacity="0.08"/><circle cx="45.2" cy="37.4" r="0.42" opacity="0.27"/><circle cx="23.6" cy="49.1" r="0.55" opacity="0.11"/><circle cx="36.9" cy="9.9" r="0.73" opacity="0.22"/><circle cx="36.3" cy="39.3" r="0.70" opacity="0.05"/><circle cx="36.2" cy="43.9" r="0.73" opacity="0.19"/><circle cx="55.1" cy="25.2" r="0.68" opacity="0.26"/><circle cx="42.7" cy="10.9" r="0.78" opacity="0.26"/><circle cx="45.0" cy="26.5" r="0.38" opacity="0.29"/><circle cx="53.7" cy="27.6" r="0.56" opacity="0.20"/><circle cx="44.1" cy="20.6" r="0.37" opacity="0.23"/><circle cx="19.7" cy="49.4" r="0.78" opacity="0.08"/><circle cx="39.1" cy="42.1" r="0.75" opacity="0.13"/><circle cx="39.9" cy="36.1" r="0.36" opacity="0.16"/><circle cx="30.0" cy="10.0" r="0.37" opacity="0.13"/><circle cx="18.2" cy="33.7" r="0.54" opacity="0.10"/><circle cx="16.0" cy="16.8" r="0.66" opacity="0.06"/><circle cx="29.7" cy="20.2" r="0.38" opacity="0.14"/><circle cx="44.5" cy="25.1" r="0.79" opacity="0.09"/><circle cx="54.4" cy="18.3" r="0.37" opacity="0.13"/><circle cx="33.5" cy="19.0" r="0.39" opacity="0.24"/><circle cx="33.5" cy="42.6" r="0.62" opacity="0.07"/><circle cx="16.3" cy="23.4" r="0.69" opacity="0.14"/><circle cx="36.4" cy="36.8" r="0.49" opacity="0.31"/><circle cx="41.6" cy="27.3" r="0.39" opacity="0.13"/><circle cx="54.6" cy="19.4" r="0.60" opacity="0.21"/><circle cx="22.9" cy="26.8" r="0.52" opacity="0.23"/><circle cx="41.7" cy="20.9" r="0.75" opacity="0.14"/><circle cx="26.2" cy="45.1" r="0.44" opacity="0.07"/><circle cx="14.3" cy="35.1" r="0.66" opacity="0.14"/><circle cx="54.8" cy="18.6" r="0.71" opacity="0.11"/><circle cx="42.6" cy="21.7" r="0.60" opacity="0.27"/><circle cx="43.5" cy="38.2" r="0.63" opacity="0.15"/><circle cx="23.2" cy="27.1" r="0.61" opacity="0.22"/><circle cx="27.4" cy="18.0" r="0.58" opacity="0.12"/><circle cx="18.8" cy="29.8" r="0.40" opacity="0.21"/><circle cx="25.6" cy="20.1" r="0.64" opacity="0.06"/><circle cx="49.2" cy="28.9" r="0.72" opacity="0.06"/><circle cx="31.2" cy="32.0" r="0.62" opacity="0.20"/><circle cx="18.6" cy="38.1" r="0.59" opacity="0.10"/><circle cx="32.1" cy="11.1" r="0.54" opacity="0.17"/><circle cx="44.4" cy="21.7" r="0.43" opacity="0.08"/><circle cx="37.5" cy="17.2" r="0.52" opacity="0.20"/><circle cx="36.6" cy="15.0" r="0.55" opacity="0.15"/><circle cx="40.2" cy="36.2" r="0.70" opacity="0.27"/><circle cx="48.8" cy="25.1" r="0.43" opacity="0.22"/><circle cx="30.6" cy="46.8" r="0.71" opacity="0.07"/><circle cx="13.6" cy="33.8" r="0.73" opacity="0.29"/><circle cx="39.4" cy="10.2" r="0.46" opacity="0.23"/><circle cx="32.5" cy="32.4" r="0.55" opacity="0.09"/><circle cx="44.1" cy="33.9" r="0.65" opacity="0.08"/><circle cx="14.9" cy="32.0" r="0.73" opacity="0.13"/><circle cx="39.2" cy="39.8" r="0.79" opacity="0.29"/><circle cx="38.7" cy="23.3" r="0.69" opacity="0.14"/><circle cx="34.9" cy="17.0" r="0.69" opacity="0.18"/><circle cx="17.7" cy="38.6" r="0.54" opacity="0.09"/><circle cx="22.5" cy="25.5" r="0.71" opacity="0.15"/><circle cx="27.1" cy="49.0" r="0.79" opacity="0.08"/><circle cx="53.0" cy="30.8" r="0.39" opacity="0.27"/><circle cx="39.8" cy="28.6" r="0.40" opacity="0.27"/><circle cx="18.7" cy="30.8" r="0.50" opacity="0.28"/><circle cx="14.6" cy="47.1" r="0.38" opacity="0.29"/><circle cx="40.1" cy="41.1" r="0.35" opacity="0.11"/><circle cx="38.7" cy="21.5" r="0.69" opacity="0.17"/><circle cx="25.2" cy="26.3" r="0.77" opacity="0.15"/><circle cx="15.4" cy="34.2" r="0.66" opacity="0.11"/><circle cx="41.2" cy="30.9" r="0.70" opacity="0.23"/><circle cx="17.3" cy="15.3" r="0.58" opacity="0.21"/><circle cx="18.7" cy="46.5" r="0.37" opacity="0.14"/><circle cx="54.3" cy="21.9" r="0.44" opacity="0.30"/><circle cx="47.7" cy="32.0" r="0.74" opacity="0.28"/><circle cx="16.6" cy="33.5" r="0.76" opacity="0.09"/><circle cx="27.4" cy="44.3" r="0.58" opacity="0.20"/><circle cx="39.2" cy="37.0" r="0.35" opacity="0.27"/><circle cx="20.6" cy="44.8" r="0.35" opacity="0.10"/><circle cx="34.8" cy="25.2" r="0.56" opacity="0.31"/><circle cx="34.5" cy="17.0" r="0.52" opacity="0.06"/><circle cx="49.4" cy="26.1" r="0.71" opacity="0.14"/><circle cx="17.4" cy="24.7" r="0.77" opacity="0.11"/><circle cx="36.0" cy="36.4" r="0.54" opacity="0.13"/><circle cx="35.2" cy="15.1" r="0.65" opacity="0.29"/><circle cx="13.7" cy="38.9" r="0.45" opacity="0.14"/><circle cx="50.0" cy="19.1" r="0.53" opacity="0.20"/><circle cx="45.7" cy="38.7" r="0.63" opacity="0.29"/><circle cx="30.4" cy="26.0" r="0.56" opacity="0.26"/><circle cx="28.5" cy="43.0" r="0.53" opacity="0.29"/><circle cx="14.6" cy="29.9" r="0.62" opacity="0.17"/><circle cx="50.6" cy="18.5" r="0.78" opacity="0.21"/><circle cx="27.0" cy="36.3" r="0.75" opacity="0.22"/><circle cx="36.6" cy="30.6" r="0.63" opacity="0.09"/><circle cx="22.8" cy="18.8" r="0.75" opacity="0.30"/><circle cx="19.6" cy="39.3" r="0.54" opacity="0.25"/><circle cx="39.7" cy="22.0" r="0.80" opacity="0.08"/><circle cx="36.2" cy="9.4" r="0.67" opacity="0.07"/><circle cx="39.8" cy="12.6" r="0.65" opacity="0.14"/><circle cx="37.5" cy="31.0" r="0.55" opacity="0.08"/><circle cx="41.1" cy="35.8" r="0.49" opacity="0.14"/><circle cx="41.4" cy="14.0" r="0.69" opacity="0.19"/><circle cx="42.6" cy="33.8" r="0.56" opacity="0.30"/><circle cx="31.2" cy="30.8" r="0.53" opacity="0.23"/><circle cx="52.9" cy="14.4" r="0.54" opacity="0.30"/><circle cx="19.5" cy="17.2" r="0.52" opacity="0.12"/><circle cx="28.1" cy="21.1" r="0.62" opacity="0.22"/><circle cx="31.2" cy="42.5" r="0.48" opacity="0.13"/><circle cx="14.7" cy="29.4" r="0.38" opacity="0.15"/><circle cx="45.1" cy="37.2" r="0.67" opacity="0.23"/><circle cx="43.7" cy="32.7" r="0.52" opacity="0.11"/><circle cx="31.8" cy="36.8" r="0.44" opacity="0.30"/><circle cx="47.9" cy="37.1" r="0.67" opacity="0.27"/><circle cx="45.7" cy="37.0" r="0.78" opacity="0.19"/><circle cx="28.3" cy="25.8" r="0.51" opacity="0.10"/><circle cx="21.8" cy="44.7" r="0.68" opacity="0.16"/><circle cx="44.7" cy="18.5" r="0.58" opacity="0.25"/><circle cx="38.7" cy="19.6" r="0.62" opacity="0.07"/><circle cx="30.9" cy="30.1" r="0.78" opacity="0.18"/><circle cx="24.6" cy="27.8" r="0.74" opacity="0.17"/><circle cx="34.7" cy="12.2" r="0.69" opacity="0.09"/><circle cx="41.2" cy="21.4" r="0.79" opacity="0.29"/><circle cx="25.9" cy="36.6" r="0.39" opacity="0.24"/><circle cx="21.6" cy="16.7" r="0.65" opacity="0.09"/><circle cx="46.1" cy="21.7" r="0.48" opacity="0.13"/><circle cx="34.8" cy="33.5" r="0.60" opacity="0.27"/><circle cx="37.5" cy="26.5" r="0.79" opacity="0.12"/><circle cx="37.8" cy="13.1" r="0.43" opacity="0.21"/><circle cx="43.8" cy="18.6" r="0.67" opacity="0.23"/><circle cx="14.5" cy="49.5" r="0.39" opacity="0.26"/><circle cx="28.9" cy="31.8" r="0.55" opacity="0.14"/><circle cx="16.1" cy="15.8" r="0.77" opacity="0.30"/><circle cx="30.2" cy="11.5" r="0.74" opacity="0.14"/><circle cx="30.4" cy="25.7" r="0.63" opacity="0.12"/><circle cx="34.7" cy="10.2" r="0.50" opacity="0.24"/><circle cx="43.7" cy="14.8" r="0.66" opacity="0.20"/><circle cx="47.2" cy="16.8" r="0.55" opacity="0.11"/><circle cx="28.2" cy="32.8" r="0.43" opacity="0.19"/><circle cx="26.0" cy="25.8" r="0.77" opacity="0.31"/><circle cx="40.6" cy="10.6" r="0.72" opacity="0.22"/><circle cx="36.9" cy="32.5" r="0.64" opacity="0.25"/><circle cx="28.0" cy="35.4" r="0.52" opacity="0.19"/></g><g fill="#3ae626" filter="url(#b03)"><circle cx="34.2" cy="8.2" r="0.64" opacity="0.34"/><circle cx="20.4" cy="18.0" r="0.98" opacity="0.33"/><circle cx="31.8" cy="25.7" r="0.84" opacity="0.20"/><circle cx="32.1" cy="21.7" r="0.58" opacity="0.23"/><circle cx="37.4" cy="12.8" r="0.85" opacity="0.28"/><circle cx="22.0" cy="14.7" r="0.89" opacity="0.31"/><circle cx="34.2" cy="25.1" r="0.64" opacity="0.49"/><circle cx="21.1" cy="16.7" r="0.62" opacity="0.24"/><circle cx="40.3" cy="17.2" r="0.97" opacity="0.50"/><circle cx="34.5" cy="23.9" r="0.55" opacity="0.44"/><circle cx="37.0" cy="22.3" r="0.56" opacity="0.47"/><circle cx="20.9" cy="20.3" r="0.81" opacity="0.52"/><circle cx="24.4" cy="10.7" r="0.84" opacity="0.35"/><circle cx="37.2" cy="10.5" r="0.97" opacity="0.31"/><circle cx="30.8" cy="18.3" r="0.96" opacity="0.48"/><circle cx="36.2" cy="13.3" r="0.81" opacity="0.50"/><circle cx="32.1" cy="8.9" r="0.89" opacity="0.54"/><circle cx="28.4" cy="10.0" r="0.82" opacity="0.36"/><circle cx="42.0" cy="10.1" r="0.82" opacity="0.39"/><circle cx="23.4" cy="17.9" r="0.61" opacity="0.19"/><circle cx="30.2" cy="14.8" r="0.50" opacity="0.47"/><circle cx="42.8" cy="24.2" r="0.89" opacity="0.34"/><circle cx="40.8" cy="20.9" r="0.63" opacity="0.29"/><circle cx="34.3" cy="16.4" r="0.82" opacity="0.34"/><circle cx="36.0" cy="25.5" r="0.89" opacity="0.46"/><circle cx="34.2" cy="18.5" r="0.65" opacity="0.48"/><circle cx="40.3" cy="24.5" r="0.73" opacity="0.28"/><circle cx="39.3" cy="11.6" r="0.94" opacity="0.26"/><circle cx="45.5" cy="19.6" r="0.69" opacity="0.25"/><circle cx="44.2" cy="20.1" r="0.95" opacity="0.23"/><circle cx="43.2" cy="14.6" r="0.62" opacity="0.53"/><circle cx="27.6" cy="22.3" r="0.79" opacity="0.32"/><circle cx="34.6" cy="14.3" r="0.76" opacity="0.52"/><circle cx="37.1" cy="20.7" r="0.57" opacity="0.48"/><circle cx="22.8" cy="16.4" r="0.77" opacity="0.46"/><circle cx="36.6" cy="18.0" r="0.70" opacity="0.47"/><circle cx="32.8" cy="7.7" r="0.95" opacity="0.35"/><circle cx="42.5" cy="22.9" r="0.98" opacity="0.46"/><circle cx="40.8" cy="9.9" r="0.86" opacity="0.23"/><circle cx="42.0" cy="14.4" r="0.54" opacity="0.46"/><circle cx="45.5" cy="15.6" r="0.57" opacity="0.35"/><circle cx="28.8" cy="11.6" r="0.98" opacity="0.48"/><circle cx="38.6" cy="11.0" r="0.62" opacity="0.19"/><circle cx="31.7" cy="25.3" r="0.68" opacity="0.40"/><circle cx="41.1" cy="15.0" r="0.83" opacity="0.40"/><circle cx="35.0" cy="27.1" r="0.67" opacity="0.37"/><circle cx="37.7" cy="11.6" r="0.99" opacity="0.27"/><circle cx="20.9" cy="19.6" r="0.76" opacity="0.19"/><circle cx="28.3" cy="19.2" r="0.55" opacity="0.47"/><circle cx="30.3" cy="20.4" r="0.69" opacity="0.48"/><circle cx="44.9" cy="16.1" r="0.98" opacity="0.54"/><circle cx="33.0" cy="20.2" r="0.96" opacity="0.50"/><circle cx="22.2" cy="14.1" r="0.79" opacity="0.40"/><circle cx="24.7" cy="25.9" r="0.78" opacity="0.46"/><circle cx="42.7" cy="12.8" r="0.99" opacity="0.34"/><circle cx="30.3" cy="26.9" r="0.88" opacity="0.38"/><circle cx="26.1" cy="13.6" r="0.80" opacity="0.51"/><circle cx="39.0" cy="26.2" r="0.97" opacity="0.19"/><circle cx="30.6" cy="11.6" r="0.92" opacity="0.41"/><circle cx="43.3" cy="14.5" r="0.68" opacity="0.42"/><circle cx="23.7" cy="19.5" r="0.80" opacity="0.31"/><circle cx="44.0" cy="21.1" r="0.65" opacity="0.37"/><circle cx="38.1" cy="27.2" r="0.73" opacity="0.44"/><circle cx="32.4" cy="11.6" r="0.73" opacity="0.53"/><circle cx="38.0" cy="23.3" r="0.59" opacity="0.37"/><circle cx="32.5" cy="7.4" r="0.72" opacity="0.24"/><circle cx="22.5" cy="17.2" r="0.76" opacity="0.29"/><circle cx="22.4" cy="14.0" r="0.89" opacity="0.44"/><circle cx="43.1" cy="21.6" r="0.69" opacity="0.29"/><circle cx="41.4" cy="11.6" r="0.77" opacity="0.47"/><circle cx="27.6" cy="24.0" r="0.59" opacity="0.45"/><circle cx="28.8" cy="22.2" r="0.68" opacity="0.34"/><circle cx="34.2" cy="20.8" r="0.91" opacity="0.28"/><circle cx="28.6" cy="27.5" r="0.98" opacity="0.49"/><circle cx="27.6" cy="12.1" r="0.72" opacity="0.42"/><circle cx="23.3" cy="11.0" r="0.81" opacity="0.53"/><circle cx="25.1" cy="11.6" r="0.95" opacity="0.25"/><circle cx="33.6" cy="10.6" r="0.66" opacity="0.42"/><circle cx="24.3" cy="20.7" r="0.81" opacity="0.43"/><circle cx="38.0" cy="10.7" r="0.52" opacity="0.32"/><circle cx="36.9" cy="25.9" r="0.83" opacity="0.28"/><circle cx="34.4" cy="16.7" r="0.66" opacity="0.37"/><circle cx="44.1" cy="15.4" r="0.96" opacity="0.54"/><circle cx="25.7" cy="12.3" r="0.73" opacity="0.40"/><circle cx="31.6" cy="22.4" r="0.87" opacity="0.43"/><circle cx="26.1" cy="13.1" r="0.96" opacity="0.54"/><circle cx="21.3" cy="14.3" r="0.59" opacity="0.34"/><circle cx="42.2" cy="22.0" r="0.82" opacity="0.21"/><circle cx="21.6" cy="20.3" r="0.71" opacity="0.25"/><circle cx="21.7" cy="19.7" r="0.55" opacity="0.29"/></g></g><g style="mix-blend-mode:screen"><ellipse cx="19.5" cy="30" rx="7.5" ry="10" fill="#1c1ca0" opacity="0.8" filter="url(#b06)"/></g><g style="mix-blend-mode:screen"><path d="M20,16 L28,10" fill="none" stroke="#ff2212" stroke-width="2.6" stroke-linecap="round" stroke-linejoin="round" opacity="1" filter="url(#b03)"/><path d="M18,15 L23,20" fill="none" stroke="#ff2212" stroke-width="2.2" stroke-linecap="round" stroke-linejoin="round" opacity="1" filter="url(#b03)"/><path d="M26.34,18.11 C26.62,17.80 28.06,16.93 28.60,16.49 C29.15,16.06 30.12,14.59 31.00,14.39 C31.89,14.20 35.34,14.63 36.20,14.80 C37.05,14.98 37.79,15.59 38.34,15.90 C38.89,16.22 40.31,17.03 40.89,17.49 C41.46,17.94 43.13,19.40 43.26,19.79 C43.39,20.19 42.30,20.44 42.01,20.86 C41.73,21.29 40.99,22.73 40.85,23.44 C40.70,24.15 40.91,26.54 40.78,26.96 C40.65,27.39 39.93,26.52 39.71,27.07 C39.49,27.62 39.13,30.95 38.92,31.68 C38.71,32.40 37.98,32.86 37.95,33.29 C37.93,33.72 38.63,34.90 38.71,35.39 C38.78,35.87 38.81,37.05 38.61,37.46 C38.41,37.86 37.30,38.54 36.99,38.86 C36.69,39.18 36.53,40.24 35.96,40.20 C35.40,40.15 32.60,38.60 32.14,38.45 C31.69,38.31 32.52,38.84 32.07,38.97 C31.62,39.10 28.83,39.62 28.27,39.57 C27.70,39.52 27.11,39.08 27.19,38.55 C27.27,38.01 28.74,35.53 28.91,34.99 C29.09,34.44 28.81,34.36 28.66,33.91 C28.51,33.46 27.81,31.77 27.62,31.13 C27.43,30.50 26.99,28.99 27.03,28.46 C27.08,27.93 27.89,27.22 27.99,26.58 C28.08,25.94 28.02,23.87 27.82,23.01 C27.62,22.14 26.45,19.73 26.27,19.16 C26.10,18.59 26.07,18.42 26.34,18.11Z" fill="#ff2212" opacity="0.55" filter="url(#b03)"/><path d="M32.6,23.3L37.2,25.4M34.6,30.2L38.2,30.6M39.9,25.2L38.0,27.4M31.1,15.1L31.0,20.4M36.2,32.1L37.9,36.6M29.9,20.3L27.5,24.3M33.1,16.0L35.2,18.4M29.7,33.7L33.9,36.8M31.6,27.2L35.3,27.4M37.8,15.5L36.5,20.5M27.0,28.4L29.8,28.6M35.0,36.2L35.9,39.8M38.2,15.9L37.5,18.8M35.5,16.7L39.1,20.8M29.2,30.0L32.8,30.5M39.5,28.9L37.4,30.7M33.4,34.7L32.4,38.5M34.1,38.4L33.5,40.9M40.3,21.7L40.9,24.8M32.4,22.5L36.7,23.7M26.3,34.4L31.2,34.8M40.3,19.8L37.8,22.6M35.4,23.6L32.2,25.1M39.8,18.5L36.9,20.1M32.1,38.6L27.8,38.8M31.5,22.2L29.6,27.3M33.3,17.1L32.7,19.9M29.3,27.8L27.7,30.0M36.0,31.4L33.3,33.8M43.6,17.4L40.6,21.1M36.5,18.1L35.4,20.6M38.8,20.5L41.8,20.6M34.2,27.6L35.3,30.4M35.5,36.0L34.9,41.3M37.2,28.1L34.6,28.8M36.6,26.7L39.3,30.4M40.4,16.0L38.1,19.1M33.2,30.6L37.5,31.3M31.5,35.3L35.2,38.6M40.6,30.1L38.2,31.1M38.1,28.8L36.2,31.9M28.7,18.3L27.7,21.2M27.9,21.8L28.3,25.9M30.0,34.5L35.4,34.6M27.0,22.1L30.6,25.3" stroke="#ff2212" stroke-width="1.7" stroke-linecap="round" fill="none" opacity="1" filter="url(#b03)"/></g></g></g>
<g clip-path="url(#c24)" style="isolation:isolate"><rect x="229.6" y="314.7" width="63.4" height="63.0" fill="#000"/><g transform="translate(229.6 314.7) scale(0.9906 0.9844)"><path d="M24.5,19 L31,18.5" fill="none" stroke="#ff2212" stroke-width="3" stroke-linecap="round" stroke-linejoin="round" opacity="1" filter="url(#b03)"/><path d="M29.5,17 L28.5,28.5" fill="none" stroke="#ff2212" stroke-width="3.2" stroke-linecap="round" stroke-linejoin="round" opacity="1" filter="url(#b03)"/><path d="M26,24 L31,25" fill="none" stroke="#ff2212" stroke-width="2.4" stroke-linecap="round" stroke-linejoin="round" opacity="1" filter="url(#b03)"/><path d="M23,31.5 L26,30" fill="none" stroke="#ff2212" stroke-width="2.4" stroke-linecap="round" stroke-linejoin="round" opacity="1" filter="url(#b03)"/><path d="M21,36 L26,39" fill="none" stroke="#ff2212" stroke-width="3" stroke-linecap="round" stroke-linejoin="round" opacity="1" filter="url(#b03)"/><path d="M35,29 L37.5,32" fill="none" stroke="#ff2212" stroke-width="2.6" stroke-linecap="round" stroke-linejoin="round" opacity="1" filter="url(#b03)"/><path d="M36,40.5 L37.5,38.5" fill="none" stroke="#ff2212" stroke-width="2.8" stroke-linecap="round" stroke-linejoin="round" opacity="1" filter="url(#b03)"/></g></g>
<g clip-path="url(#c25)" style="isolation:isolate"><rect x="295.1" y="314.7" width="63.1" height="63.0" fill="#000"/><g transform="translate(295.1 314.7) scale(0.9859 0.9844)"><path d="M16.00,12.00 C18.33,9.33 24.67,6.33 28.00,6.00 C31.33,5.67 33.33,8.00 36.00,10.00 C38.67,12.00 42.33,14.67 44.00,18.00 C45.67,21.33 45.00,26.00 46.00,30.00 C47.00,34.00 48.50,38.33 50.00,42.00 C51.50,45.67 55.83,50.33 55.00,52.00 C54.17,53.67 48.17,52.33 45.00,52.00 C41.83,51.67 39.33,50.33 36.00,50.00 C32.67,49.67 28.67,50.33 25.00,50.00 C21.33,49.67 16.17,50.50 14.00,48.00 C11.83,45.50 12.00,39.33 12.00,35.00 C12.00,30.67 13.33,25.83 14.00,22.00 C14.67,18.17 13.67,14.67 16.00,12.00Z" fill="#2cb81e" opacity="0.2" filter="url(#b18)"/><g fill="#3ae626" filter="url(#b06)"><circle cx="18.3" cy="26.9" r="1.55" opacity="0.38"/><circle cx="43.5" cy="25.9" r="1.58" opacity="0.31"/><circle cx="15.4" cy="27.0" r="0.75" opacity="0.47"/><circle cx="25.3" cy="41.3" r="0.92" opacity="0.17"/><circle cx="20.1" cy="22.0" r="1.39" opacity="0.49"/><circle cx="35.9" cy="47.5" r="1.60" opacity="0.16"/><circle cx="45.3" cy="32.0" r="0.91" opacity="0.44"/><circle cx="31.3" cy="35.3" r="1.69" opacity="0.15"/><circle cx="38.2" cy="39.0" r="1.55" opacity="0.30"/><circle cx="24.5" cy="33.2" r="1.28" opacity="0.24"/><circle cx="32.8" cy="41.0" r="1.60" opacity="0.46"/><circle cx="40.0" cy="17.6" r="1.63" opacity="0.46"/><circle cx="42.7" cy="41.3" r="1.26" opacity="0.30"/><circle cx="37.1" cy="12.8" r="1.44" opacity="0.44"/><circle cx="19.1" cy="40.7" r="1.48" opacity="0.15"/><circle cx="14.2" cy="33.4" r="0.94" opacity="0.22"/><circle cx="38.7" cy="35.9" r="1.52" opacity="0.33"/><circle cx="16.9" cy="14.9" r="1.28" opacity="0.39"/><circle cx="21.0" cy="23.9" r="1.73" opacity="0.26"/><circle cx="42.7" cy="34.5" r="1.43" opacity="0.29"/><circle cx="35.4" cy="38.2" r="0.88" opacity="0.42"/><circle cx="20.5" cy="17.4" r="0.80" opacity="0.16"/><circle cx="29.3" cy="30.9" r="1.22" opacity="0.24"/><circle cx="31.5" cy="14.9" r="1.34" opacity="0.20"/><circle cx="18.2" cy="15.6" r="1.15" opacity="0.47"/><circle cx="29.2" cy="18.0" r="1.48" opacity="0.18"/><circle cx="23.7" cy="18.5" r="1.03" opacity="0.47"/><circle cx="15.4" cy="19.7" r="1.41" opacity="0.35"/><circle cx="48.7" cy="43.8" r="1.09" opacity="0.37"/><circle cx="31.1" cy="39.5" r="0.90" opacity="0.49"/><circle cx="13.0" cy="34.4" r="1.09" opacity="0.42"/><circle cx="18.2" cy="47.0" r="0.70" opacity="0.39"/><circle cx="42.2" cy="29.3" r="0.89" opacity="0.25"/><circle cx="31.2" cy="15.8" r="0.88" opacity="0.44"/><circle cx="35.6" cy="18.5" r="1.39" opacity="0.35"/><circle cx="17.9" cy="32.9" r="1.34" opacity="0.14"/><circle cx="24.9" cy="45.7" r="1.34" opacity="0.19"/><circle cx="28.9" cy="27.1" r="1.48" opacity="0.44"/><circle cx="18.6" cy="10.9" r="0.80" opacity="0.35"/><circle cx="16.1" cy="32.1" r="1.76" opacity="0.16"/><circle cx="44.6" cy="32.9" r="0.89" opacity="0.48"/><circle cx="43.7" cy="23.5" r="1.68" opacity="0.14"/><circle cx="47.8" cy="44.8" r="0.83" opacity="0.47"/><circle cx="45.7" cy="48.1" r="1.01" opacity="0.40"/><circle cx="33.8" cy="31.2" r="0.84" opacity="0.35"/><circle cx="14.2" cy="28.0" r="1.26" opacity="0.18"/><circle cx="14.0" cy="47.5" r="1.64" opacity="0.34"/><circle cx="13.3" cy="30.2" r="1.76" opacity="0.41"/><circle cx="36.9" cy="16.7" r="1.79" opacity="0.10"/><circle cx="21.6" cy="46.5" r="0.83" opacity="0.22"/><circle cx="25.2" cy="46.6" r="1.47" opacity="0.47"/><circle cx="20.3" cy="10.1" r="1.08" opacity="0.41"/><circle cx="38.6" cy="49.0" r="1.48" opacity="0.13"/><circle cx="25.5" cy="15.4" r="0.99" opacity="0.37"/><circle cx="31.1" cy="40.8" r="0.72" opacity="0.46"/><circle cx="19.0" cy="40.2" r="1.63" opacity="0.12"/><circle cx="30.3" cy="23.5" r="0.91" opacity="0.17"/><circle cx="23.4" cy="16.0" r="1.02" opacity="0.46"/><circle cx="27.2" cy="13.8" r="1.38" opacity="0.25"/><circle cx="45.3" cy="29.8" r="1.14" opacity="0.11"/><circle cx="37.0" cy="32.5" r="1.49" opacity="0.22"/><circle cx="29.1" cy="20.9" r="1.71" opacity="0.40"/><circle cx="26.6" cy="41.6" r="1.38" opacity="0.20"/><circle cx="33.5" cy="10.5" r="0.93" opacity="0.13"/><circle cx="15.5" cy="34.3" r="1.61" opacity="0.43"/><circle cx="26.4" cy="37.8" r="1.36" opacity="0.29"/><circle cx="41.6" cy="47.0" r="1.47" opacity="0.30"/><circle cx="49.0" cy="40.3" r="1.11" opacity="0.49"/><circle cx="29.3" cy="7.8" r="1.76" opacity="0.48"/><circle cx="35.0" cy="40.5" r="1.47" opacity="0.14"/><circle cx="46.2" cy="34.9" r="1.76" opacity="0.29"/><circle cx="23.9" cy="41.4" r="1.31" opacity="0.45"/><circle cx="13.8" cy="37.5" r="1.70" opacity="0.17"/><circle cx="15.9" cy="28.6" r="1.42" opacity="0.35"/><circle cx="34.8" cy="21.6" r="1.48" opacity="0.50"/><circle cx="33.8" cy="24.2" r="1.77" opacity="0.17"/><circle cx="36.2" cy="44.6" r="1.57" opacity="0.40"/><circle cx="41.3" cy="26.7" r="1.76" opacity="0.10"/><circle cx="30.2" cy="26.7" r="1.49" opacity="0.21"/><circle cx="20.5" cy="26.6" r="1.40" opacity="0.31"/><circle cx="20.8" cy="35.5" r="1.13" opacity="0.11"/><circle cx="29.2" cy="11.1" r="1.40" opacity="0.46"/><circle cx="43.5" cy="50.0" r="0.86" opacity="0.43"/><circle cx="32.4" cy="14.0" r="1.04" opacity="0.31"/><circle cx="28.7" cy="23.9" r="1.48" opacity="0.37"/><circle cx="17.0" cy="32.2" r="1.56" opacity="0.11"/><circle cx="30.4" cy="23.6" r="0.72" opacity="0.13"/><circle cx="40.8" cy="18.3" r="1.27" opacity="0.17"/><circle cx="38.5" cy="49.0" r="1.53" opacity="0.25"/><circle cx="24.0" cy="25.4" r="1.78" opacity="0.25"/><circle cx="24.5" cy="31.0" r="1.40" opacity="0.40"/><circle cx="42.5" cy="36.9" r="1.15" opacity="0.28"/><circle cx="44.7" cy="22.5" r="0.71" opacity="0.26"/><circle cx="34.4" cy="24.4" r="0.93" opacity="0.16"/><circle cx="14.1" cy="38.5" r="1.28" opacity="0.43"/><circle cx="49.1" cy="40.6" r="1.57" opacity="0.46"/><circle cx="47.0" cy="45.1" r="1.52" opacity="0.33"/><circle cx="34.3" cy="48.8" r="1.02" opacity="0.36"/><circle cx="18.7" cy="20.3" r="1.19" opacity="0.30"/><circle cx="22.0" cy="17.1" r="0.86" opacity="0.29"/><circle cx="18.1" cy="22.2" r="0.89" opacity="0.35"/><circle cx="38.7" cy="16.6" r="1.80" opacity="0.21"/><circle cx="36.1" cy="33.1" r="1.34" opacity="0.24"/><circle cx="46.0" cy="34.6" r="1.32" opacity="0.29"/><circle cx="24.2" cy="24.8" r="1.51" opacity="0.38"/><circle cx="30.3" cy="32.7" r="1.66" opacity="0.15"/><circle cx="17.1" cy="27.5" r="0.92" opacity="0.12"/><circle cx="42.6" cy="31.3" r="1.20" opacity="0.36"/><circle cx="25.1" cy="24.2" r="1.07" opacity="0.36"/><circle cx="31.7" cy="32.6" r="1.30" opacity="0.33"/><circle cx="14.0" cy="41.9" r="1.70" opacity="0.13"/><circle cx="43.9" cy="32.3" r="1.51" opacity="0.11"/><circle cx="13.5" cy="31.1" r="1.31" opacity="0.14"/><circle cx="43.1" cy="45.4" r="1.02" opacity="0.34"/><circle cx="13.0" cy="40.5" r="0.90" opacity="0.12"/><circle cx="39.7" cy="50.1" r="1.29" opacity="0.32"/><circle cx="44.7" cy="40.2" r="1.25" opacity="0.12"/><circle cx="32.6" cy="36.7" r="0.98" opacity="0.19"/><circle cx="13.7" cy="24.3" r="1.32" opacity="0.14"/><circle cx="20.0" cy="23.9" r="0.70" opacity="0.42"/></g><ellipse cx="19.5" cy="31" rx="2" ry="2" fill="#55ff2a" opacity="1.0" filter="url(#b03)"/></g></g>
<g clip-path="url(#c26)" style="isolation:isolate"><rect x="360.8" y="314.7" width="63.4" height="63.0" fill="#000"/><g transform="translate(360.8 314.7) scale(0.9906 0.9844)"><g style="mix-blend-mode:screen"><path d="M16.00,12.00 C18.33,9.33 24.67,6.33 28.00,6.00 C31.33,5.67 33.33,8.00 36.00,10.00 C38.67,12.00 42.33,14.67 44.00,18.00 C45.67,21.33 45.00,26.00 46.00,30.00 C47.00,34.00 48.50,38.33 50.00,42.00 C51.50,45.67 55.83,50.33 55.00,52.00 C54.17,53.67 48.17,52.33 45.00,52.00 C41.83,51.67 39.33,50.33 36.00,50.00 C32.67,49.67 28.67,50.33 25.00,50.00 C21.33,49.67 16.17,50.50 14.00,48.00 C11.83,45.50 12.00,39.33 12.00,35.00 C12.00,30.67 13.33,25.83 14.00,22.00 C14.67,18.17 13.67,14.67 16.00,12.00Z" fill="#2cb81e" opacity="0.15000000000000002" filter="url(#b18)"/><g fill="#3ae626" filter="url(#b06)"><circle cx="37.0" cy="15.0" r="1.76" opacity="0.35"/><circle cx="32.1" cy="36.5" r="0.94" opacity="0.14"/><circle cx="24.4" cy="37.9" r="0.93" opacity="0.37"/><circle cx="15.8" cy="41.4" r="1.10" opacity="0.22"/><circle cx="26.0" cy="35.3" r="1.14" opacity="0.14"/><circle cx="30.5" cy="20.0" r="0.82" opacity="0.32"/><circle cx="41.2" cy="36.6" r="1.67" opacity="0.19"/><circle cx="28.3" cy="25.5" r="1.15" opacity="0.28"/><circle cx="35.0" cy="21.9" r="0.72" opacity="0.29"/><circle cx="18.5" cy="37.5" r="1.50" opacity="0.18"/><circle cx="40.1" cy="27.9" r="1.25" opacity="0.34"/><circle cx="25.4" cy="46.0" r="1.46" opacity="0.28"/><circle cx="42.3" cy="41.6" r="1.59" opacity="0.31"/><circle cx="18.0" cy="14.2" r="1.57" opacity="0.30"/><circle cx="26.5" cy="9.1" r="1.30" opacity="0.28"/><circle cx="27.1" cy="8.6" r="1.01" opacity="0.32"/><circle cx="22.8" cy="15.4" r="0.82" opacity="0.37"/><circle cx="16.1" cy="36.1" r="1.68" opacity="0.08"/><circle cx="39.2" cy="45.4" r="1.20" opacity="0.25"/><circle cx="23.7" cy="36.4" r="1.31" opacity="0.24"/><circle cx="26.4" cy="49.1" r="1.02" opacity="0.28"/><circle cx="17.2" cy="21.8" r="1.11" opacity="0.21"/><circle cx="40.6" cy="37.1" r="1.46" opacity="0.18"/><circle cx="40.5" cy="31.3" r="0.84" opacity="0.24"/><circle cx="25.7" cy="37.1" r="1.51" opacity="0.15"/><circle cx="30.7" cy="26.9" r="1.03" opacity="0.09"/><circle cx="43.8" cy="26.2" r="1.43" opacity="0.16"/><circle cx="42.5" cy="49.7" r="1.55" opacity="0.21"/><circle cx="14.5" cy="24.9" r="1.20" opacity="0.16"/><circle cx="38.5" cy="12.6" r="1.52" opacity="0.33"/><circle cx="14.6" cy="37.8" r="0.99" opacity="0.27"/><circle cx="41.7" cy="50.9" r="1.58" opacity="0.18"/><circle cx="42.7" cy="25.2" r="0.99" opacity="0.15"/><circle cx="21.3" cy="42.6" r="0.81" opacity="0.14"/><circle cx="20.3" cy="13.3" r="1.50" opacity="0.25"/><circle cx="40.6" cy="47.4" r="1.19" opacity="0.09"/><circle cx="20.1" cy="29.8" r="1.49" opacity="0.35"/><circle cx="34.0" cy="16.4" r="1.35" opacity="0.36"/><circle cx="26.3" cy="48.8" r="1.69" opacity="0.25"/><circle cx="32.7" cy="11.9" r="0.82" opacity="0.09"/><circle cx="38.3" cy="38.8" r="1.79" opacity="0.26"/><circle cx="24.4" cy="30.4" r="1.78" opacity="0.16"/><circle cx="22.1" cy="39.3" r="1.13" opacity="0.24"/><circle cx="18.5" cy="45.3" r="1.71" opacity="0.30"/><circle cx="20.6" cy="13.0" r="0.88" opacity="0.21"/><circle cx="51.8" cy="46.7" r="1.53" opacity="0.30"/><circle cx="20.2" cy="41.8" r="0.95" opacity="0.23"/><circle cx="17.5" cy="33.3" r="1.43" opacity="0.27"/><circle cx="41.3" cy="23.0" r="1.57" opacity="0.36"/><circle cx="40.4" cy="23.1" r="1.64" opacity="0.09"/><circle cx="47.9" cy="48.2" r="0.90" opacity="0.28"/><circle cx="46.2" cy="39.4" r="1.00" opacity="0.37"/><circle cx="43.3" cy="37.5" r="1.01" opacity="0.19"/><circle cx="44.6" cy="29.8" r="1.24" opacity="0.35"/><circle cx="30.1" cy="45.5" r="0.75" opacity="0.23"/><circle cx="41.9" cy="19.2" r="1.39" opacity="0.26"/><circle cx="22.4" cy="12.3" r="1.19" opacity="0.09"/><circle cx="16.4" cy="41.0" r="0.81" opacity="0.24"/><circle cx="47.0" cy="44.2" r="0.88" opacity="0.10"/><circle cx="45.7" cy="45.9" r="1.64" opacity="0.29"/><circle cx="43.8" cy="41.1" r="1.70" opacity="0.09"/><circle cx="43.9" cy="32.9" r="0.71" opacity="0.15"/><circle cx="42.8" cy="30.3" r="1.32" opacity="0.16"/><circle cx="36.4" cy="46.4" r="1.78" opacity="0.24"/><circle cx="18.0" cy="31.7" r="1.61" opacity="0.11"/><circle cx="18.3" cy="29.0" r="1.04" opacity="0.12"/><circle cx="18.8" cy="25.5" r="1.57" opacity="0.13"/><circle cx="22.8" cy="36.8" r="0.71" opacity="0.17"/><circle cx="18.6" cy="16.6" r="1.68" opacity="0.12"/><circle cx="43.0" cy="47.9" r="0.97" opacity="0.33"/><circle cx="25.8" cy="41.5" r="1.34" opacity="0.18"/><circle cx="25.7" cy="32.4" r="1.02" opacity="0.16"/><circle cx="52.3" cy="50.9" r="0.87" opacity="0.35"/><circle cx="16.7" cy="26.0" r="1.68" opacity="0.34"/><circle cx="22.8" cy="26.5" r="1.72" opacity="0.14"/><circle cx="16.5" cy="25.1" r="1.45" opacity="0.34"/><circle cx="19.5" cy="11.9" r="1.36" opacity="0.20"/><circle cx="38.4" cy="37.6" r="0.93" opacity="0.34"/><circle cx="49.0" cy="43.8" r="1.56" opacity="0.13"/><circle cx="14.3" cy="22.8" r="1.49" opacity="0.14"/><circle cx="49.4" cy="45.4" r="1.47" opacity="0.22"/><circle cx="18.5" cy="43.2" r="0.89" opacity="0.22"/><circle cx="44.6" cy="35.2" r="0.96" opacity="0.34"/><circle cx="25.8" cy="25.3" r="1.18" opacity="0.29"/><circle cx="13.7" cy="35.4" r="1.24" opacity="0.32"/><circle cx="27.7" cy="32.3" r="1.76" opacity="0.09"/><circle cx="24.9" cy="18.6" r="0.94" opacity="0.33"/><circle cx="34.2" cy="19.1" r="1.56" opacity="0.25"/><circle cx="19.9" cy="25.1" r="1.04" opacity="0.16"/><circle cx="36.5" cy="40.4" r="1.16" opacity="0.23"/><circle cx="28.0" cy="44.0" r="0.96" opacity="0.17"/><circle cx="35.2" cy="13.0" r="0.72" opacity="0.14"/><circle cx="42.2" cy="30.3" r="1.02" opacity="0.25"/><circle cx="15.5" cy="21.8" r="0.81" opacity="0.32"/><circle cx="28.5" cy="38.9" r="1.07" opacity="0.20"/><circle cx="36.7" cy="17.9" r="1.30" opacity="0.31"/><circle cx="16.7" cy="30.0" r="0.88" opacity="0.23"/><circle cx="24.1" cy="40.5" r="1.60" opacity="0.36"/><circle cx="31.9" cy="46.9" r="1.65" opacity="0.18"/><circle cx="18.8" cy="40.6" r="1.46" opacity="0.26"/><circle cx="42.6" cy="18.8" r="1.62" opacity="0.29"/><circle cx="40.5" cy="39.2" r="1.72" opacity="0.34"/><circle cx="20.8" cy="14.9" r="0.79" opacity="0.19"/><circle cx="30.2" cy="23.5" r="1.60" opacity="0.26"/><circle cx="46.6" cy="45.7" r="1.54" opacity="0.23"/><circle cx="29.6" cy="30.7" r="1.21" opacity="0.28"/><circle cx="22.9" cy="32.0" r="1.20" opacity="0.11"/><circle cx="16.5" cy="26.7" r="1.73" opacity="0.29"/><circle cx="43.2" cy="33.8" r="0.71" opacity="0.17"/><circle cx="26.3" cy="28.2" r="0.84" opacity="0.26"/><circle cx="38.3" cy="35.5" r="1.24" opacity="0.24"/><circle cx="16.9" cy="44.0" r="1.66" opacity="0.33"/><circle cx="24.6" cy="8.3" r="1.56" opacity="0.33"/><circle cx="46.4" cy="44.9" r="0.83" opacity="0.10"/><circle cx="49.7" cy="50.6" r="1.49" opacity="0.26"/><circle cx="29.0" cy="45.5" r="1.01" opacity="0.09"/><circle cx="42.8" cy="35.9" r="0.82" opacity="0.21"/><circle cx="23.7" cy="43.1" r="1.55" opacity="0.17"/><circle cx="18.6" cy="21.8" r="1.18" opacity="0.26"/><circle cx="18.4" cy="34.8" r="1.17" opacity="0.30"/></g><ellipse cx="19.5" cy="31" rx="2" ry="2" fill="#55ff2a" opacity="0.75" filter="url(#b03)"/></g><g style="mix-blend-mode:screen"><ellipse cx="39" cy="32" rx="6.2" ry="6.8" fill="#2a2ad0" opacity="0.85" filter="url(#b06)"/></g><g style="mix-blend-mode:screen"><path d="M22,27 L31,26" fill="none" stroke="#ff2212" stroke-width="2.8" stroke-linecap="round" stroke-linejoin="round" opacity="1" filter="url(#b03)"/><path d="M30,27 L28,37" fill="none" stroke="#ff2212" stroke-width="3" stroke-linecap="round" stroke-linejoin="round" opacity="1" filter="url(#b03)"/><path d="M21,40 L26,38" fill="none" stroke="#ff2212" stroke-width="2.2" stroke-linecap="round" stroke-linejoin="round" opacity="1" filter="url(#b03)"/><path d="M19,44 L25,47" fill="none" stroke="#ff2212" stroke-width="2.6" stroke-linecap="round" stroke-linejoin="round" opacity="1" filter="url(#b03)"/><path d="M35,37 L38,40" fill="none" stroke="#ff2212" stroke-width="2.2" stroke-linecap="round" stroke-linejoin="round" opacity="1" filter="url(#b03)"/><path d="M36,48 L38,46" fill="none" stroke="#ff2212" stroke-width="2.6" stroke-linecap="round" stroke-linejoin="round" opacity="1" filter="url(#b03)"/></g></g></g>
<g clip-path="url(#c27)" style="isolation:isolate"><rect x="229.6" y="380.8" width="63.4" height="62.9" fill="#000"/><g transform="translate(229.6 380.8) scale(0.9906 0.9828)"><ellipse cx="16" cy="35" rx="7" ry="4" fill="#ff2212" opacity="0.4" filter="url(#b18)"/><path d="M20,31 L33,38" fill="none" stroke="#ff2212" stroke-width="4.5" stroke-linecap="round" stroke-linejoin="round" opacity="0.85" filter="url(#b10)"/><ellipse cx="31.5" cy="39.5" rx="3.5" ry="3" fill="#ff2212" opacity="1" filter="url(#b06)"/><ellipse cx="27" cy="43" rx="2.8" ry="2.5" fill="#ff2212" opacity="1" filter="url(#b06)"/></g></g>
<g clip-path="url(#c28)" style="isolation:isolate"><rect x="295.1" y="380.8" width="63.1" height="62.9" fill="#000"/><g transform="translate(295.1 380.8) scale(0.9859 0.9828)"><path d="M20.00,5.00 C25.00,3.17 34.17,2.50 40.00,4.00 C45.83,5.50 51.67,9.67 55.00,14.00 C58.33,18.33 59.50,24.33 60.00,30.00 C60.50,35.67 59.33,43.00 58.00,48.00 C56.67,53.00 55.83,57.67 52.00,60.00 C48.17,62.33 40.33,62.33 35.00,62.00 C29.67,61.67 24.83,60.83 20.00,58.00 C15.17,55.17 8.67,49.67 6.00,45.00 C3.33,40.33 3.33,35.00 4.00,30.00 C4.67,25.00 7.33,19.17 10.00,15.00 C12.67,10.83 15.00,6.83 20.00,5.00Z" fill="#2cb81e" opacity="0.12" filter="url(#b30)"/><g fill="#3ae626" filter="url(#b06)"><circle cx="56.3" cy="26.5" r="0.89" opacity="0.13"/><circle cx="31.0" cy="19.9" r="0.73" opacity="0.08"/><circle cx="27.3" cy="22.3" r="0.42" opacity="0.30"/><circle cx="39.4" cy="34.7" r="0.66" opacity="0.23"/><circle cx="41.0" cy="20.1" r="0.62" opacity="0.21"/><circle cx="47.5" cy="30.6" r="0.95" opacity="0.34"/><circle cx="53.5" cy="15.3" r="0.65" opacity="0.13"/><circle cx="29.3" cy="53.5" r="0.70" opacity="0.16"/><circle cx="13.2" cy="12.1" r="0.89" opacity="0.34"/><circle cx="19.0" cy="12.2" r="0.68" opacity="0.12"/><circle cx="31.3" cy="30.2" r="0.78" opacity="0.21"/><circle cx="32.1" cy="6.6" r="0.97" opacity="0.18"/><circle cx="52.7" cy="22.8" r="0.45" opacity="0.35"/><circle cx="31.6" cy="13.8" r="0.98" opacity="0.33"/><circle cx="37.9" cy="36.2" r="0.82" opacity="0.15"/><circle cx="17.3" cy="38.0" r="0.44" opacity="0.07"/><circle cx="10.7" cy="23.3" r="0.91" opacity="0.25"/><circle cx="22.9" cy="30.6" r="0.67" opacity="0.22"/><circle cx="44.4" cy="40.8" r="0.55" opacity="0.14"/><circle cx="49.4" cy="40.3" r="0.84" opacity="0.14"/><circle cx="15.5" cy="26.7" r="0.51" opacity="0.11"/><circle cx="43.6" cy="45.0" r="0.50" opacity="0.20"/><circle cx="37.7" cy="58.6" r="0.77" opacity="0.10"/><circle cx="47.2" cy="56.4" r="0.53" opacity="0.21"/><circle cx="17.1" cy="28.6" r="0.86" opacity="0.12"/><circle cx="32.2" cy="40.5" r="0.92" opacity="0.34"/><circle cx="54.6" cy="27.3" r="0.61" opacity="0.32"/><circle cx="52.2" cy="50.9" r="0.77" opacity="0.34"/><circle cx="11.4" cy="14.8" r="0.86" opacity="0.14"/><circle cx="39.4" cy="37.7" r="0.77" opacity="0.14"/><circle cx="58.0" cy="36.6" r="0.40" opacity="0.15"/><circle cx="33.1" cy="54.3" r="0.77" opacity="0.33"/><circle cx="22.4" cy="7.2" r="0.67" opacity="0.33"/><circle cx="34.3" cy="53.3" r="0.90" opacity="0.32"/><circle cx="32.0" cy="5.4" r="0.74" opacity="0.09"/><circle cx="25.1" cy="17.6" r="0.62" opacity="0.20"/><circle cx="42.4" cy="59.4" r="0.91" opacity="0.30"/><circle cx="12.8" cy="37.6" r="0.63" opacity="0.19"/><circle cx="8.8" cy="30.5" r="0.98" opacity="0.31"/><circle cx="51.2" cy="27.4" r="0.61" opacity="0.20"/><circle cx="22.0" cy="18.9" r="0.94" opacity="0.23"/><circle cx="29.7" cy="34.7" r="0.44" opacity="0.09"/><circle cx="20.4" cy="54.8" r="0.52" opacity="0.21"/><circle cx="54.4" cy="48.3" r="0.64" opacity="0.15"/><circle cx="19.4" cy="23.1" r="0.99" opacity="0.23"/><circle cx="28.6" cy="58.3" r="0.64" opacity="0.13"/><circle cx="32.8" cy="10.6" r="0.96" opacity="0.06"/><circle cx="25.0" cy="5.8" r="0.53" opacity="0.31"/><circle cx="12.6" cy="49.0" r="0.80" opacity="0.07"/><circle cx="50.5" cy="59.3" r="0.64" opacity="0.17"/><circle cx="25.3" cy="44.1" r="0.78" opacity="0.11"/><circle cx="31.6" cy="11.6" r="0.81" opacity="0.15"/><circle cx="38.8" cy="30.3" r="0.85" opacity="0.07"/><circle cx="30.1" cy="24.8" r="0.45" opacity="0.23"/><circle cx="58.2" cy="40.1" r="0.97" opacity="0.24"/><circle cx="35.3" cy="61.0" r="0.88" opacity="0.26"/><circle cx="11.5" cy="29.4" r="0.85" opacity="0.22"/><circle cx="36.7" cy="8.9" r="0.72" opacity="0.09"/><circle cx="27.0" cy="15.9" r="0.68" opacity="0.08"/><circle cx="39.2" cy="60.1" r="0.88" opacity="0.31"/><circle cx="41.8" cy="59.5" r="0.65" opacity="0.09"/><circle cx="15.6" cy="10.7" r="0.50" opacity="0.28"/><circle cx="25.0" cy="23.3" r="0.47" opacity="0.28"/><circle cx="18.3" cy="55.6" r="0.46" opacity="0.06"/><circle cx="50.1" cy="32.2" r="0.91" opacity="0.26"/><circle cx="43.5" cy="19.1" r="0.79" opacity="0.09"/><circle cx="55.0" cy="53.7" r="0.78" opacity="0.09"/><circle cx="16.1" cy="30.5" r="0.48" opacity="0.34"/><circle cx="55.8" cy="32.0" r="0.54" opacity="0.21"/><circle cx="59.5" cy="30.0" r="0.85" opacity="0.19"/><circle cx="11.5" cy="21.5" r="0.66" opacity="0.26"/><circle cx="25.7" cy="16.9" r="0.45" opacity="0.33"/><circle cx="51.2" cy="28.8" r="0.85" opacity="0.18"/><circle cx="19.0" cy="8.4" r="0.78" opacity="0.06"/><circle cx="55.8" cy="26.9" r="0.81" opacity="0.11"/><circle cx="15.5" cy="48.7" r="0.73" opacity="0.22"/><circle cx="24.2" cy="39.6" r="0.99" opacity="0.34"/><circle cx="53.0" cy="35.7" r="0.66" opacity="0.31"/><circle cx="50.2" cy="26.3" r="0.71" opacity="0.06"/><circle cx="39.4" cy="33.5" r="0.48" opacity="0.33"/><circle cx="44.0" cy="32.9" r="0.90" opacity="0.22"/><circle cx="32.5" cy="5.0" r="0.82" opacity="0.20"/><circle cx="33.5" cy="37.7" r="0.84" opacity="0.26"/><circle cx="37.5" cy="31.7" r="0.55" opacity="0.10"/><circle cx="25.4" cy="32.1" r="0.40" opacity="0.26"/><circle cx="52.8" cy="37.5" r="0.82" opacity="0.09"/><circle cx="23.0" cy="5.4" r="0.99" opacity="0.33"/><circle cx="29.4" cy="17.3" r="0.77" opacity="0.28"/><circle cx="15.0" cy="17.6" r="0.88" opacity="0.26"/><circle cx="12.4" cy="22.9" r="0.89" opacity="0.23"/><circle cx="28.6" cy="57.8" r="0.43" opacity="0.24"/><circle cx="48.9" cy="27.2" r="0.42" opacity="0.19"/><circle cx="49.9" cy="28.8" r="0.44" opacity="0.14"/><circle cx="30.5" cy="46.7" r="0.46" opacity="0.23"/><circle cx="21.4" cy="33.6" r="0.97" opacity="0.30"/><circle cx="33.5" cy="32.7" r="0.97" opacity="0.28"/><circle cx="7.3" cy="40.8" r="0.94" opacity="0.11"/><circle cx="31.5" cy="5.5" r="0.85" opacity="0.13"/><circle cx="37.8" cy="33.8" r="0.90" opacity="0.17"/><circle cx="7.1" cy="28.0" r="0.96" opacity="0.20"/><circle cx="11.9" cy="25.3" r="0.53" opacity="0.20"/><circle cx="45.5" cy="48.9" r="0.61" opacity="0.30"/><circle cx="38.9" cy="31.4" r="0.78" opacity="0.12"/><circle cx="50.6" cy="21.3" r="0.88" opacity="0.13"/><circle cx="27.2" cy="33.3" r="0.75" opacity="0.19"/><circle cx="17.2" cy="52.8" r="0.82" opacity="0.12"/><circle cx="17.0" cy="45.0" r="0.66" opacity="0.19"/><circle cx="16.1" cy="16.3" r="0.51" opacity="0.34"/><circle cx="12.1" cy="38.8" r="0.78" opacity="0.31"/><circle cx="45.0" cy="36.7" r="0.94" opacity="0.26"/></g><g fill="#3ae626" filter="url(#b06)"><circle cx="24.6" cy="19.2" r="0.78" opacity="0.17"/><circle cx="31.9" cy="17.2" r="0.87" opacity="0.35"/><circle cx="29.3" cy="47.7" r="0.52" opacity="0.54"/><circle cx="33.1" cy="19.2" r="0.77" opacity="0.29"/><circle cx="42.1" cy="38.1" r="0.95" opacity="0.51"/><circle cx="35.3" cy="36.2" r="1.16" opacity="0.50"/><circle cx="28.6" cy="30.0" r="0.68" opacity="0.24"/><circle cx="38.5" cy="52.3" r="0.99" opacity="0.52"/><circle cx="28.4" cy="23.4" r="1.09" opacity="0.55"/><circle cx="42.5" cy="45.3" r="1.02" opacity="0.44"/><circle cx="33.6" cy="47.9" r="0.95" opacity="0.51"/><circle cx="36.2" cy="29.1" r="0.58" opacity="0.23"/><circle cx="41.5" cy="47.9" r="0.74" opacity="0.38"/><circle cx="33.8" cy="47.3" r="1.14" opacity="0.42"/><circle cx="34.4" cy="42.7" r="0.90" opacity="0.41"/><circle cx="28.4" cy="24.4" r="0.83" opacity="0.47"/><circle cx="28.4" cy="34.7" r="1.20" opacity="0.21"/><circle cx="29.6" cy="41.6" r="0.84" opacity="0.34"/><circle cx="41.0" cy="41.0" r="1.19" opacity="0.30"/><circle cx="37.2" cy="15.1" r="0.78" opacity="0.13"/><circle cx="38.9" cy="18.5" r="1.03" opacity="0.19"/><circle cx="20.9" cy="28.3" r="1.06" opacity="0.28"/><circle cx="22.9" cy="45.2" r="0.60" opacity="0.43"/><circle cx="37.6" cy="38.0" r="1.14" opacity="0.35"/><circle cx="31.6" cy="25.1" r="0.93" opacity="0.43"/><circle cx="35.1" cy="38.9" r="1.01" opacity="0.33"/><circle cx="38.9" cy="30.5" r="1.09" opacity="0.22"/><circle cx="35.9" cy="45.1" r="0.90" opacity="0.24"/><circle cx="41.4" cy="54.0" r="1.17" opacity="0.27"/><circle cx="22.8" cy="39.4" r="0.55" opacity="0.41"/><circle cx="43.5" cy="46.4" r="1.05" opacity="0.51"/><circle cx="50.8" cy="30.2" r="0.76" opacity="0.16"/><circle cx="27.3" cy="19.6" r="0.96" opacity="0.24"/><circle cx="40.5" cy="41.7" r="0.85" opacity="0.43"/><circle cx="40.9" cy="30.2" r="0.51" opacity="0.35"/><circle cx="28.4" cy="37.0" r="1.11" opacity="0.15"/><circle cx="27.5" cy="22.2" r="0.92" opacity="0.15"/><circle cx="25.4" cy="35.6" r="0.85" opacity="0.38"/><circle cx="28.9" cy="24.6" r="1.11" opacity="0.30"/><circle cx="27.1" cy="23.8" r="1.10" opacity="0.34"/><circle cx="34.6" cy="45.5" r="0.52" opacity="0.43"/><circle cx="30.9" cy="15.4" r="1.00" opacity="0.18"/><circle cx="20.7" cy="32.2" r="0.94" opacity="0.32"/><circle cx="42.8" cy="22.1" r="0.64" opacity="0.13"/><circle cx="27.9" cy="40.5" r="0.86" opacity="0.41"/><circle cx="46.5" cy="20.8" r="0.81" opacity="0.43"/><circle cx="44.1" cy="40.3" r="0.88" opacity="0.39"/><circle cx="28.6" cy="49.7" r="0.92" opacity="0.32"/><circle cx="38.8" cy="26.5" r="1.19" opacity="0.53"/><circle cx="34.2" cy="25.9" r="1.17" opacity="0.23"/><circle cx="43.8" cy="15.8" r="0.93" opacity="0.11"/><circle cx="23.2" cy="31.4" r="1.14" opacity="0.34"/><circle cx="38.6" cy="18.0" r="1.00" opacity="0.47"/><circle cx="28.2" cy="41.9" r="1.05" opacity="0.20"/><circle cx="25.7" cy="29.8" r="1.01" opacity="0.47"/><circle cx="41.4" cy="36.9" r="0.94" opacity="0.39"/><circle cx="22.2" cy="38.8" r="0.94" opacity="0.54"/><circle cx="32.5" cy="47.8" r="0.80" opacity="0.21"/><circle cx="49.0" cy="30.7" r="0.57" opacity="0.21"/><circle cx="48.3" cy="30.9" r="1.16" opacity="0.36"/><circle cx="30.3" cy="22.8" r="0.64" opacity="0.34"/><circle cx="34.9" cy="36.4" r="0.52" opacity="0.20"/><circle cx="35.0" cy="32.9" r="1.03" opacity="0.42"/><circle cx="31.6" cy="26.5" r="0.62" opacity="0.12"/><circle cx="47.7" cy="33.3" r="0.92" opacity="0.44"/><circle cx="33.0" cy="39.3" r="0.71" opacity="0.11"/><circle cx="22.6" cy="41.0" r="0.72" opacity="0.19"/><circle cx="23.6" cy="29.4" r="1.08" opacity="0.51"/><circle cx="28.3" cy="33.5" r="0.71" opacity="0.50"/><circle cx="48.2" cy="40.0" r="0.64" opacity="0.29"/><circle cx="30.8" cy="20.0" r="0.57" opacity="0.54"/><circle cx="34.2" cy="26.6" r="0.63" opacity="0.53"/><circle cx="41.8" cy="38.1" r="0.88" opacity="0.14"/><circle cx="30.7" cy="53.2" r="1.05" opacity="0.11"/><circle cx="25.3" cy="47.8" r="0.76" opacity="0.52"/><circle cx="42.5" cy="38.3" r="0.91" opacity="0.37"/><circle cx="33.8" cy="54.8" r="0.54" opacity="0.50"/><circle cx="40.4" cy="16.2" r="0.93" opacity="0.42"/><circle cx="47.0" cy="39.7" r="0.76" opacity="0.15"/><circle cx="27.7" cy="34.4" r="1.20" opacity="0.19"/><circle cx="48.1" cy="28.5" r="0.80" opacity="0.41"/><circle cx="32.8" cy="30.0" r="0.54" opacity="0.36"/><circle cx="42.6" cy="13.3" r="1.06" opacity="0.14"/><circle cx="46.0" cy="19.7" r="0.82" opacity="0.19"/><circle cx="42.7" cy="44.9" r="0.70" opacity="0.12"/><circle cx="27.1" cy="26.0" r="0.78" opacity="0.27"/><circle cx="38.6" cy="33.6" r="1.08" opacity="0.39"/><circle cx="48.2" cy="28.9" r="0.66" opacity="0.19"/><circle cx="27.7" cy="42.7" r="1.17" opacity="0.54"/><circle cx="43.8" cy="13.9" r="1.07" opacity="0.11"/><circle cx="36.6" cy="48.6" r="0.69" opacity="0.22"/><circle cx="39.1" cy="41.2" r="0.82" opacity="0.15"/><circle cx="43.0" cy="17.3" r="0.82" opacity="0.32"/><circle cx="25.1" cy="45.3" r="0.70" opacity="0.41"/><circle cx="39.9" cy="49.8" r="0.70" opacity="0.40"/><circle cx="26.2" cy="44.1" r="0.54" opacity="0.31"/><circle cx="30.4" cy="44.2" r="0.59" opacity="0.22"/><circle cx="42.1" cy="52.1" r="0.76" opacity="0.43"/><circle cx="29.9" cy="21.7" r="0.77" opacity="0.41"/><circle cx="37.3" cy="48.5" r="0.57" opacity="0.19"/><circle cx="50.3" cy="37.0" r="1.18" opacity="0.13"/><circle cx="42.0" cy="52.6" r="0.85" opacity="0.54"/><circle cx="38.3" cy="49.8" r="0.51" opacity="0.21"/><circle cx="33.6" cy="17.1" r="0.78" opacity="0.50"/><circle cx="24.5" cy="24.7" r="1.11" opacity="0.48"/><circle cx="34.4" cy="44.2" r="1.10" opacity="0.33"/><circle cx="43.3" cy="39.9" r="1.13" opacity="0.19"/><circle cx="27.9" cy="37.5" r="0.61" opacity="0.41"/><circle cx="30.3" cy="53.4" r="0.61" opacity="0.19"/><circle cx="36.9" cy="21.0" r="1.17" opacity="0.47"/><circle cx="48.7" cy="20.4" r="1.09" opacity="0.51"/><circle cx="24.7" cy="40.3" r="1.12" opacity="0.16"/><circle cx="35.4" cy="27.7" r="0.94" opacity="0.22"/><circle cx="34.0" cy="26.0" r="0.76" opacity="0.42"/><circle cx="21.6" cy="35.7" r="0.74" opacity="0.49"/><circle cx="39.0" cy="37.7" r="0.68" opacity="0.46"/><circle cx="21.8" cy="41.4" r="0.89" opacity="0.12"/><circle cx="35.8" cy="53.8" r="0.93" opacity="0.16"/><circle cx="39.6" cy="28.1" r="0.70" opacity="0.21"/><circle cx="39.6" cy="50.8" r="0.53" opacity="0.21"/><circle cx="29.3" cy="38.8" r="0.65" opacity="0.24"/><circle cx="21.5" cy="26.4" r="1.07" opacity="0.18"/><circle cx="23.8" cy="48.1" r="0.61" opacity="0.23"/><circle cx="27.7" cy="25.2" r="1.17" opacity="0.39"/><circle cx="44.2" cy="29.8" r="0.67" opacity="0.42"/><circle cx="42.0" cy="33.7" r="1.10" opacity="0.27"/><circle cx="29.6" cy="51.1" r="0.79" opacity="0.10"/><circle cx="42.8" cy="14.5" r="0.54" opacity="0.19"/><circle cx="34.2" cy="39.1" r="0.53" opacity="0.52"/><circle cx="33.7" cy="25.4" r="1.12" opacity="0.18"/><circle cx="23.7" cy="22.2" r="0.95" opacity="0.32"/><circle cx="40.2" cy="20.1" r="0.80" opacity="0.45"/><circle cx="32.3" cy="54.7" r="1.16" opacity="0.37"/><circle cx="33.4" cy="35.0" r="1.12" opacity="0.33"/><circle cx="41.9" cy="40.4" r="1.03" opacity="0.45"/><circle cx="37.8" cy="32.6" r="0.98" opacity="0.22"/><circle cx="50.0" cy="20.6" r="0.61" opacity="0.21"/><circle cx="42.9" cy="15.9" r="0.68" opacity="0.44"/><circle cx="26.5" cy="46.8" r="0.74" opacity="0.26"/><circle cx="36.2" cy="24.8" r="0.78" opacity="0.54"/><circle cx="49.2" cy="42.4" r="1.05" opacity="0.12"/><circle cx="48.2" cy="18.9" r="0.83" opacity="0.10"/><circle cx="29.7" cy="24.0" r="0.72" opacity="0.46"/><circle cx="27.8" cy="35.9" r="0.98" opacity="0.53"/><circle cx="23.3" cy="21.5" r="0.61" opacity="0.35"/><circle cx="33.0" cy="13.2" r="1.10" opacity="0.33"/><circle cx="49.7" cy="29.8" r="0.65" opacity="0.46"/><circle cx="39.9" cy="39.3" r="0.77" opacity="0.50"/><circle cx="28.6" cy="44.3" r="0.78" opacity="0.49"/><circle cx="46.4" cy="19.9" r="1.20" opacity="0.32"/></g><ellipse cx="44" cy="39" rx="3" ry="3.5" fill="#55ff2a" opacity="0.9" filter="url(#b06)"/><ellipse cx="25" cy="52" rx="2" ry="2" fill="#55ff2a" opacity="0.8" filter="url(#b06)"/><ellipse cx="30" cy="56" rx="1.8" ry="1.8" fill="#55ff2a" opacity="0.8" filter="url(#b06)"/><ellipse cx="43" cy="44" rx="1.6" ry="1.6" fill="#55ff2a" opacity="0.8" filter="url(#b06)"/><ellipse cx="49" cy="35" rx="1.5" ry="1.5" fill="#55ff2a" opacity="0.7" filter="url(#b06)"/></g></g>
<g clip-path="url(#c29)" style="isolation:isolate"><rect x="360.8" y="380.8" width="63.4" height="62.9" fill="#000"/><g transform="translate(360.8 380.8) scale(0.9906 0.9828)"><g style="mix-blend-mode:screen"><path d="M20.00,5.00 C25.00,3.17 34.17,2.50 40.00,4.00 C45.83,5.50 51.67,9.67 55.00,14.00 C58.33,18.33 59.50,24.33 60.00,30.00 C60.50,35.67 59.33,43.00 58.00,48.00 C56.67,53.00 55.83,57.67 52.00,60.00 C48.17,62.33 40.33,62.33 35.00,62.00 C29.67,61.67 24.83,60.83 20.00,58.00 C15.17,55.17 8.67,49.67 6.00,45.00 C3.33,40.33 3.33,35.00 4.00,30.00 C4.67,25.00 7.33,19.17 10.00,15.00 C12.67,10.83 15.00,6.83 20.00,5.00Z" fill="#2cb81e" opacity="0.102" filter="url(#b30)"/><g fill="#3ae626" filter="url(#b06)"><circle cx="50.3" cy="16.3" r="0.97" opacity="0.17"/><circle cx="26.3" cy="39.8" r="0.50" opacity="0.10"/><circle cx="27.6" cy="17.3" r="0.80" opacity="0.15"/><circle cx="25.5" cy="20.1" r="0.53" opacity="0.23"/><circle cx="54.5" cy="24.3" r="0.88" opacity="0.13"/><circle cx="46.6" cy="17.8" r="0.74" opacity="0.15"/><circle cx="52.8" cy="48.2" r="0.46" opacity="0.08"/><circle cx="29.8" cy="16.5" r="0.54" opacity="0.29"/><circle cx="42.8" cy="46.9" r="0.69" opacity="0.17"/><circle cx="42.2" cy="45.7" r="0.49" opacity="0.24"/><circle cx="46.8" cy="30.4" r="0.75" opacity="0.29"/><circle cx="24.6" cy="15.8" r="0.81" opacity="0.27"/><circle cx="12.7" cy="48.3" r="0.63" opacity="0.22"/><circle cx="30.7" cy="59.1" r="0.75" opacity="0.29"/><circle cx="56.5" cy="48.0" r="0.49" opacity="0.19"/><circle cx="19.2" cy="6.7" r="0.43" opacity="0.14"/><circle cx="36.8" cy="54.6" r="0.62" opacity="0.23"/><circle cx="37.2" cy="48.2" r="0.69" opacity="0.29"/><circle cx="26.4" cy="16.3" r="0.47" opacity="0.11"/><circle cx="47.1" cy="31.2" r="0.43" opacity="0.10"/><circle cx="56.4" cy="28.0" r="0.87" opacity="0.08"/><circle cx="6.6" cy="24.9" r="0.61" opacity="0.10"/><circle cx="39.9" cy="37.5" r="0.74" opacity="0.13"/><circle cx="27.0" cy="19.6" r="0.73" opacity="0.15"/><circle cx="40.4" cy="59.9" r="0.59" opacity="0.20"/><circle cx="33.8" cy="38.4" r="0.74" opacity="0.08"/><circle cx="14.8" cy="32.1" r="0.95" opacity="0.22"/><circle cx="54.5" cy="23.7" r="0.73" opacity="0.20"/><circle cx="17.1" cy="9.4" r="0.60" opacity="0.07"/><circle cx="52.2" cy="39.6" r="0.85" opacity="0.19"/><circle cx="31.0" cy="55.5" r="0.61" opacity="0.12"/><circle cx="20.2" cy="8.3" r="0.41" opacity="0.12"/><circle cx="39.5" cy="15.4" r="0.69" opacity="0.12"/><circle cx="46.1" cy="17.9" r="0.67" opacity="0.24"/><circle cx="44.3" cy="56.0" r="0.41" opacity="0.17"/><circle cx="17.9" cy="50.7" r="0.71" opacity="0.24"/><circle cx="48.6" cy="54.0" r="0.93" opacity="0.15"/><circle cx="41.8" cy="57.2" r="0.88" opacity="0.16"/><circle cx="50.4" cy="49.3" r="0.67" opacity="0.16"/><circle cx="28.5" cy="58.4" r="0.54" opacity="0.29"/><circle cx="11.7" cy="18.8" r="0.84" opacity="0.23"/><circle cx="21.1" cy="21.4" r="0.74" opacity="0.24"/><circle cx="25.5" cy="31.2" r="0.66" opacity="0.26"/><circle cx="54.6" cy="40.5" r="0.55" opacity="0.16"/><circle cx="27.4" cy="40.3" r="0.59" opacity="0.20"/><circle cx="33.4" cy="35.5" r="0.98" opacity="0.15"/><circle cx="54.0" cy="42.5" r="0.53" opacity="0.06"/><circle cx="29.2" cy="8.0" r="0.44" opacity="0.21"/><circle cx="12.6" cy="32.0" r="0.91" opacity="0.17"/><circle cx="25.5" cy="33.5" r="0.95" opacity="0.10"/><circle cx="43.9" cy="17.6" r="0.77" opacity="0.06"/><circle cx="43.9" cy="17.7" r="0.84" opacity="0.13"/><circle cx="51.6" cy="56.0" r="0.85" opacity="0.10"/><circle cx="7.5" cy="30.5" r="0.56" opacity="0.06"/><circle cx="44.7" cy="52.1" r="0.91" opacity="0.28"/><circle cx="36.2" cy="33.6" r="0.99" opacity="0.15"/><circle cx="46.8" cy="20.7" r="0.96" opacity="0.20"/><circle cx="38.6" cy="33.6" r="0.50" opacity="0.10"/><circle cx="8.3" cy="39.4" r="0.53" opacity="0.06"/><circle cx="37.2" cy="42.7" r="0.45" opacity="0.11"/><circle cx="53.8" cy="44.4" r="0.87" opacity="0.11"/><circle cx="6.7" cy="42.2" r="0.74" opacity="0.20"/><circle cx="7.3" cy="40.1" r="0.90" opacity="0.17"/><circle cx="32.9" cy="13.5" r="0.63" opacity="0.10"/><circle cx="19.6" cy="11.1" r="0.75" opacity="0.10"/><circle cx="49.7" cy="16.1" r="0.60" opacity="0.12"/><circle cx="37.4" cy="39.7" r="0.97" opacity="0.08"/><circle cx="48.8" cy="21.6" r="0.93" opacity="0.29"/><circle cx="26.6" cy="52.9" r="0.64" opacity="0.08"/><circle cx="27.5" cy="40.3" r="0.71" opacity="0.17"/><circle cx="10.0" cy="40.1" r="0.83" opacity="0.20"/><circle cx="16.7" cy="45.4" r="0.87" opacity="0.13"/><circle cx="21.0" cy="28.9" r="0.75" opacity="0.29"/><circle cx="19.8" cy="38.1" r="0.96" opacity="0.21"/><circle cx="51.0" cy="14.5" r="0.55" opacity="0.13"/><circle cx="9.8" cy="45.6" r="0.78" opacity="0.22"/><circle cx="43.3" cy="44.0" r="0.42" opacity="0.18"/><circle cx="34.5" cy="17.4" r="0.55" opacity="0.26"/><circle cx="53.1" cy="55.4" r="0.64" opacity="0.15"/><circle cx="49.3" cy="40.0" r="0.66" opacity="0.14"/><circle cx="38.7" cy="30.5" r="0.56" opacity="0.30"/><circle cx="34.2" cy="24.3" r="0.82" opacity="0.10"/><circle cx="16.8" cy="31.9" r="0.42" opacity="0.15"/><circle cx="8.6" cy="47.2" r="0.75" opacity="0.26"/><circle cx="37.1" cy="39.0" r="0.59" opacity="0.06"/><circle cx="46.3" cy="10.0" r="0.80" opacity="0.24"/><circle cx="19.7" cy="9.5" r="0.86" opacity="0.06"/><circle cx="35.3" cy="6.1" r="0.92" opacity="0.12"/><circle cx="35.8" cy="42.3" r="0.75" opacity="0.22"/><circle cx="11.0" cy="34.9" r="0.86" opacity="0.08"/><circle cx="21.3" cy="5.0" r="0.87" opacity="0.09"/><circle cx="28.7" cy="23.3" r="0.44" opacity="0.28"/><circle cx="39.7" cy="6.6" r="0.58" opacity="0.14"/><circle cx="23.5" cy="56.9" r="0.93" opacity="0.21"/><circle cx="35.0" cy="40.6" r="0.95" opacity="0.14"/><circle cx="26.1" cy="45.6" r="0.64" opacity="0.14"/><circle cx="43.4" cy="38.2" r="0.48" opacity="0.13"/><circle cx="13.9" cy="33.0" r="0.93" opacity="0.20"/><circle cx="35.8" cy="7.3" r="0.61" opacity="0.27"/><circle cx="40.0" cy="53.5" r="0.52" opacity="0.06"/><circle cx="24.4" cy="29.4" r="0.59" opacity="0.26"/><circle cx="39.1" cy="41.5" r="0.43" opacity="0.30"/><circle cx="32.2" cy="24.1" r="0.83" opacity="0.28"/><circle cx="19.4" cy="37.2" r="0.79" opacity="0.12"/><circle cx="13.6" cy="13.6" r="0.52" opacity="0.29"/><circle cx="43.7" cy="25.0" r="0.99" opacity="0.13"/><circle cx="47.8" cy="35.7" r="0.45" opacity="0.27"/><circle cx="24.8" cy="40.5" r="0.40" opacity="0.13"/><circle cx="52.7" cy="56.6" r="0.85" opacity="0.20"/><circle cx="35.4" cy="9.8" r="0.74" opacity="0.25"/></g><g fill="#3ae626" filter="url(#b06)"><circle cx="45.3" cy="20.0" r="0.57" opacity="0.22"/><circle cx="47.8" cy="25.4" r="1.12" opacity="0.32"/><circle cx="36.3" cy="38.8" r="0.90" opacity="0.28"/><circle cx="49.8" cy="42.2" r="0.86" opacity="0.09"/><circle cx="30.6" cy="45.2" r="0.55" opacity="0.41"/><circle cx="42.3" cy="50.6" r="1.04" opacity="0.26"/><circle cx="29.9" cy="47.0" r="0.65" opacity="0.15"/><circle cx="48.4" cy="24.2" r="0.56" opacity="0.42"/><circle cx="36.7" cy="45.9" r="1.11" opacity="0.33"/><circle cx="51.9" cy="34.8" r="0.64" opacity="0.37"/><circle cx="39.4" cy="54.1" r="0.59" opacity="0.37"/><circle cx="32.2" cy="44.8" r="0.57" opacity="0.29"/><circle cx="33.6" cy="40.9" r="0.94" opacity="0.20"/><circle cx="29.5" cy="26.7" r="0.63" opacity="0.23"/><circle cx="44.8" cy="14.3" r="0.51" opacity="0.19"/><circle cx="34.4" cy="18.6" r="0.54" opacity="0.09"/><circle cx="47.9" cy="40.2" r="0.52" opacity="0.13"/><circle cx="22.2" cy="43.5" r="0.80" opacity="0.11"/><circle cx="35.7" cy="55.0" r="0.89" opacity="0.46"/><circle cx="30.9" cy="40.5" r="0.91" opacity="0.32"/><circle cx="52.1" cy="28.0" r="0.58" opacity="0.29"/><circle cx="36.9" cy="29.3" r="1.12" opacity="0.09"/><circle cx="44.0" cy="42.4" r="0.77" opacity="0.32"/><circle cx="20.6" cy="38.0" r="0.52" opacity="0.37"/><circle cx="26.8" cy="32.4" r="0.95" opacity="0.10"/><circle cx="19.6" cy="41.2" r="0.60" opacity="0.44"/><circle cx="40.8" cy="39.1" r="0.87" opacity="0.28"/><circle cx="48.0" cy="17.1" r="1.18" opacity="0.46"/><circle cx="41.5" cy="46.7" r="0.95" opacity="0.37"/><circle cx="21.6" cy="44.6" r="0.88" opacity="0.37"/><circle cx="42.2" cy="27.5" r="0.93" opacity="0.18"/><circle cx="22.7" cy="42.0" r="0.89" opacity="0.13"/><circle cx="38.0" cy="22.1" r="0.89" opacity="0.36"/><circle cx="40.6" cy="33.8" r="0.77" opacity="0.28"/><circle cx="44.6" cy="30.4" r="0.57" opacity="0.11"/><circle cx="46.9" cy="46.6" r="0.76" opacity="0.26"/><circle cx="30.4" cy="17.3" r="1.05" opacity="0.41"/><circle cx="36.1" cy="28.1" r="1.20" opacity="0.40"/><circle cx="28.8" cy="36.6" r="1.15" opacity="0.30"/><circle cx="28.1" cy="53.9" r="1.01" opacity="0.16"/><circle cx="29.0" cy="19.6" r="0.58" opacity="0.27"/><circle cx="32.8" cy="32.6" r="0.56" opacity="0.13"/><circle cx="32.8" cy="29.2" r="0.75" opacity="0.19"/><circle cx="26.5" cy="39.4" r="1.14" opacity="0.39"/><circle cx="41.9" cy="43.7" r="0.68" opacity="0.15"/><circle cx="42.8" cy="32.2" r="0.79" opacity="0.46"/><circle cx="47.3" cy="24.3" r="1.05" opacity="0.41"/><circle cx="29.9" cy="52.4" r="0.85" opacity="0.31"/><circle cx="35.7" cy="50.0" r="0.63" opacity="0.46"/><circle cx="42.5" cy="49.9" r="0.79" opacity="0.43"/><circle cx="48.0" cy="37.5" r="1.13" opacity="0.44"/><circle cx="28.9" cy="31.4" r="0.88" opacity="0.32"/><circle cx="28.3" cy="46.1" r="1.03" opacity="0.32"/><circle cx="41.7" cy="14.7" r="0.62" opacity="0.35"/><circle cx="33.6" cy="31.2" r="1.14" opacity="0.15"/><circle cx="47.6" cy="21.1" r="0.89" opacity="0.33"/><circle cx="44.1" cy="25.1" r="0.52" opacity="0.17"/><circle cx="27.6" cy="43.8" r="1.10" opacity="0.39"/><circle cx="49.4" cy="36.5" r="0.95" opacity="0.09"/><circle cx="37.1" cy="39.9" r="0.87" opacity="0.15"/><circle cx="37.7" cy="23.6" r="0.57" opacity="0.19"/><circle cx="30.5" cy="52.5" r="0.84" opacity="0.15"/><circle cx="25.3" cy="26.1" r="0.82" opacity="0.28"/><circle cx="50.1" cy="43.0" r="1.08" opacity="0.35"/><circle cx="30.1" cy="45.1" r="0.52" opacity="0.09"/><circle cx="33.7" cy="44.7" r="0.65" opacity="0.14"/><circle cx="29.1" cy="49.1" r="1.00" opacity="0.41"/><circle cx="24.9" cy="48.3" r="0.95" opacity="0.43"/><circle cx="36.5" cy="12.7" r="1.15" opacity="0.40"/><circle cx="28.5" cy="15.9" r="0.66" opacity="0.38"/><circle cx="23.5" cy="25.3" r="0.70" opacity="0.09"/><circle cx="42.0" cy="33.4" r="0.90" opacity="0.40"/><circle cx="49.1" cy="43.3" r="0.91" opacity="0.44"/><circle cx="20.8" cy="26.6" r="0.64" opacity="0.24"/><circle cx="22.0" cy="32.6" r="0.70" opacity="0.42"/><circle cx="26.7" cy="41.1" r="0.71" opacity="0.32"/><circle cx="33.4" cy="32.9" r="0.83" opacity="0.39"/><circle cx="26.1" cy="45.8" r="1.15" opacity="0.25"/><circle cx="47.5" cy="37.4" r="0.81" opacity="0.12"/><circle cx="43.4" cy="34.1" r="0.68" opacity="0.45"/><circle cx="27.1" cy="47.4" r="0.75" opacity="0.39"/><circle cx="43.1" cy="16.9" r="1.06" opacity="0.41"/><circle cx="45.3" cy="15.5" r="0.67" opacity="0.25"/><circle cx="29.7" cy="25.7" r="1.16" opacity="0.12"/><circle cx="46.3" cy="18.8" r="0.83" opacity="0.15"/><circle cx="23.1" cy="29.6" r="0.96" opacity="0.25"/><circle cx="27.1" cy="22.8" r="0.67" opacity="0.33"/><circle cx="33.4" cy="50.4" r="0.58" opacity="0.14"/><circle cx="26.2" cy="45.6" r="0.72" opacity="0.27"/><circle cx="34.0" cy="22.2" r="1.14" opacity="0.32"/><circle cx="38.0" cy="51.3" r="0.84" opacity="0.17"/><circle cx="44.0" cy="50.5" r="1.08" opacity="0.26"/><circle cx="29.6" cy="17.7" r="1.14" opacity="0.37"/><circle cx="28.4" cy="37.5" r="0.85" opacity="0.19"/><circle cx="42.3" cy="53.3" r="0.68" opacity="0.23"/><circle cx="34.3" cy="24.8" r="0.86" opacity="0.15"/><circle cx="43.9" cy="25.1" r="0.88" opacity="0.10"/><circle cx="49.0" cy="19.2" r="0.59" opacity="0.44"/><circle cx="32.2" cy="19.5" r="1.18" opacity="0.40"/><circle cx="41.4" cy="33.4" r="1.01" opacity="0.12"/><circle cx="45.7" cy="18.8" r="0.77" opacity="0.29"/><circle cx="50.2" cy="25.6" r="0.87" opacity="0.12"/><circle cx="49.5" cy="24.1" r="0.74" opacity="0.41"/><circle cx="44.1" cy="20.1" r="0.53" opacity="0.13"/><circle cx="35.3" cy="13.2" r="1.03" opacity="0.42"/><circle cx="31.2" cy="43.5" r="0.58" opacity="0.38"/><circle cx="34.3" cy="43.5" r="0.63" opacity="0.29"/><circle cx="37.6" cy="18.0" r="1.15" opacity="0.37"/><circle cx="29.3" cy="23.3" r="0.76" opacity="0.41"/><circle cx="21.4" cy="39.9" r="0.78" opacity="0.39"/><circle cx="27.7" cy="48.0" r="1.02" opacity="0.41"/><circle cx="45.1" cy="24.2" r="0.90" opacity="0.25"/><circle cx="46.0" cy="24.1" r="0.66" opacity="0.25"/><circle cx="33.1" cy="47.0" r="0.66" opacity="0.27"/><circle cx="31.2" cy="29.9" r="0.69" opacity="0.34"/><circle cx="31.4" cy="47.1" r="0.76" opacity="0.46"/><circle cx="42.9" cy="27.6" r="0.98" opacity="0.42"/><circle cx="51.8" cy="27.4" r="0.80" opacity="0.10"/><circle cx="28.9" cy="28.3" r="0.94" opacity="0.16"/><circle cx="38.0" cy="55.3" r="0.98" opacity="0.42"/><circle cx="24.5" cy="45.2" r="0.76" opacity="0.14"/><circle cx="47.9" cy="21.9" r="0.98" opacity="0.27"/><circle cx="42.9" cy="47.5" r="0.77" opacity="0.40"/><circle cx="21.6" cy="46.1" r="0.67" opacity="0.41"/><circle cx="38.4" cy="43.8" r="0.79" opacity="0.46"/><circle cx="41.2" cy="26.0" r="0.92" opacity="0.40"/><circle cx="33.8" cy="50.0" r="0.95" opacity="0.27"/><circle cx="48.1" cy="23.0" r="0.74" opacity="0.34"/><circle cx="25.4" cy="30.2" r="0.62" opacity="0.09"/><circle cx="35.6" cy="19.1" r="0.74" opacity="0.11"/><circle cx="21.5" cy="46.0" r="0.63" opacity="0.10"/><circle cx="40.8" cy="41.1" r="1.16" opacity="0.10"/><circle cx="35.9" cy="53.4" r="1.05" opacity="0.39"/><circle cx="44.1" cy="14.6" r="0.77" opacity="0.44"/><circle cx="42.3" cy="17.1" r="0.50" opacity="0.38"/><circle cx="43.5" cy="35.1" r="0.62" opacity="0.26"/><circle cx="51.1" cy="27.2" r="0.87" opacity="0.10"/><circle cx="25.0" cy="32.3" r="0.79" opacity="0.27"/><circle cx="28.6" cy="33.3" r="0.86" opacity="0.24"/><circle cx="44.7" cy="30.8" r="1.13" opacity="0.41"/><circle cx="45.7" cy="47.3" r="0.81" opacity="0.28"/><circle cx="32.4" cy="40.4" r="0.64" opacity="0.39"/><circle cx="50.5" cy="27.8" r="1.00" opacity="0.10"/><circle cx="25.6" cy="47.6" r="0.68" opacity="0.17"/><circle cx="42.7" cy="16.7" r="0.70" opacity="0.42"/><circle cx="24.5" cy="46.1" r="0.69" opacity="0.28"/><circle cx="35.4" cy="54.4" r="0.81" opacity="0.31"/><circle cx="52.5" cy="35.5" r="1.16" opacity="0.19"/><circle cx="40.3" cy="39.1" r="0.68" opacity="0.34"/><circle cx="42.2" cy="40.1" r="0.61" opacity="0.31"/></g><ellipse cx="44" cy="39" rx="3" ry="3.5" fill="#55ff2a" opacity="0.765" filter="url(#b06)"/><ellipse cx="25" cy="52" rx="2" ry="2" fill="#55ff2a" opacity="0.68" filter="url(#b06)"/><ellipse cx="30" cy="56" rx="1.8" ry="1.8" fill="#55ff2a" opacity="0.68" filter="url(#b06)"/><ellipse cx="43" cy="44" rx="1.6" ry="1.6" fill="#55ff2a" opacity="0.68" filter="url(#b06)"/><ellipse cx="49" cy="35" rx="1.5" ry="1.5" fill="#55ff2a" opacity="0.595" filter="url(#b06)"/></g><g style="mix-blend-mode:screen"><ellipse cx="26" cy="40" rx="13" ry="11" fill="#14148c" opacity="1" filter="url(#b06)"/><ellipse cx="20" cy="31" rx="2" ry="2" fill="#2222ff" opacity="1" filter="url(#b03)"/><ellipse cx="16" cy="39" rx="2.4" ry="2.4" fill="#2222ff" opacity="1" filter="url(#b03)"/><ellipse cx="33" cy="37" rx="2" ry="2" fill="#2222ff" opacity="1" filter="url(#b03)"/><ellipse cx="23" cy="45" rx="2" ry="2" fill="#2222ff" opacity="1" filter="url(#b03)"/></g><g style="mix-blend-mode:screen"><ellipse cx="9" cy="49" rx="10" ry="4.5" fill="#ff2212" opacity="0.75" transform="rotate(15 9 49)" filter="url(#b18)"/><path d="M4,47 L18,52" fill="none" stroke="#ff2212" stroke-width="4" stroke-linecap="round" stroke-linejoin="round" opacity="0.6" filter="url(#b10)"/><ellipse cx="17" cy="57" rx="3.2" ry="3" fill="#ff2212" opacity="1" filter="url(#b06)"/><ellipse cx="22" cy="55" rx="3.2" ry="3" fill="#ff2212" opacity="1" filter="url(#b06)"/></g></g></g>
<g clip-path="url(#c30)" style="isolation:isolate"><rect x="229.6" y="447.3" width="63.4" height="62.8" fill="#000"/><g transform="translate(229.6 447.3) scale(0.9906 0.9813)"><path d="M21.54,15.00 C21.65,14.75 22.16,14.42 22.39,14.08 C22.62,13.74 23.06,12.24 23.52,12.09 C23.97,11.95 25.76,12.54 26.27,12.82 C26.77,13.09 27.63,14.37 27.84,14.42 C28.05,14.47 27.93,13.54 28.09,13.23 C28.24,12.92 28.83,12.03 29.15,11.75 C29.48,11.47 30.58,10.96 30.89,10.83 C31.21,10.70 31.84,10.67 31.87,10.63 C31.90,10.60 31.02,10.34 31.15,10.56 C31.28,10.79 32.75,12.08 32.96,12.57 C33.17,13.05 32.83,14.13 32.92,14.71 C33.01,15.29 33.60,16.90 33.76,17.51 C33.92,18.13 34.42,19.39 34.27,19.97 C34.11,20.55 32.78,22.04 32.45,22.47 C32.11,22.89 31.68,23.34 31.39,23.61 C31.10,23.87 30.12,24.73 29.95,24.73 C29.77,24.73 30.03,23.84 29.88,23.58 C29.72,23.33 28.90,22.71 28.59,22.57 C28.27,22.44 27.37,22.26 27.17,22.41 C26.97,22.57 27.29,23.94 26.88,23.94 C26.46,23.93 24.10,22.79 23.63,22.38 C23.16,21.98 22.88,20.88 22.85,20.46 C22.81,20.04 23.34,19.08 23.33,18.80 C23.31,18.52 22.95,18.39 22.73,18.09 C22.50,17.79 21.56,16.60 21.42,16.24 C21.28,15.88 21.43,15.26 21.54,15.00Z" fill="#ff2212" opacity="1" filter="url(#b03)"/><ellipse cx="41" cy="29" rx="1.3" ry="1.3" fill="#ff2212" opacity="1" filter="url(#b03)"/><ellipse cx="42.5" cy="34" rx="1.6" ry="2.2" fill="#ff2212" opacity="1" transform="rotate(10 42.5 34)" filter="url(#b03)"/><ellipse cx="40.5" cy="40" rx="1.8" ry="2.3" fill="#ff2212" opacity="1" transform="rotate(-10 40.5 40)" filter="url(#b03)"/><path d="M43.16,44.55 C43.68,43.80 45.30,42.24 45.94,42.30 C46.57,42.35 48.45,44.09 48.61,45.03 C48.77,45.96 47.81,49.70 47.33,50.32 C46.85,50.94 45.18,50.54 44.50,50.35 C43.83,50.16 41.69,49.37 41.54,48.70 C41.38,48.02 42.65,45.29 43.16,44.55Z" fill="#ff2212" opacity="1" filter="url(#b03)"/><path d="M27.83,44.27 C28.10,44.05 28.25,44.53 28.61,44.47 C28.97,44.41 30.71,43.56 30.92,43.76 C31.13,43.96 30.41,45.56 30.39,46.15 C30.38,46.75 30.43,48.50 30.76,48.82 C31.10,49.15 32.98,48.81 33.26,48.95 C33.53,49.08 32.96,49.66 33.11,49.98 C33.27,50.30 34.37,51.22 34.60,51.70 C34.83,52.17 35.05,53.64 35.08,54.03 C35.11,54.42 35.19,54.58 34.86,55.05 C34.53,55.51 32.79,57.88 32.28,58.00 C31.78,58.12 30.92,56.20 30.52,56.06 C30.12,55.92 29.20,56.80 28.88,56.80 C28.55,56.79 28.03,55.95 27.75,56.03 C27.48,56.10 26.96,57.25 26.53,57.46 C26.10,57.66 24.40,58.04 24.04,57.78 C23.68,57.53 23.77,55.54 23.47,55.27 C23.17,55.00 21.73,55.74 21.49,55.46 C21.24,55.18 21.26,53.18 21.40,52.89 C21.54,52.60 22.42,53.16 22.66,52.97 C22.90,52.78 23.32,51.67 23.48,51.26 C23.64,50.86 23.80,49.89 24.03,49.47 C24.26,49.05 25.21,48.04 25.47,47.68 C25.73,47.32 26.01,46.75 26.29,46.35 C26.56,45.96 27.56,44.50 27.83,44.27Z" fill="#ff2212" opacity="1" filter="url(#b03)"/></g></g>
<g clip-path="url(#c31)" style="isolation:isolate"><rect x="295.1" y="447.3" width="63.1" height="62.8" fill="#000"/><g transform="translate(295.1 447.3) scale(0.9859 0.9813)"><ellipse cx="24" cy="11" rx="3" ry="2.8" fill="#44ff12" opacity="1" filter="url(#b03)"/><ellipse cx="26" cy="14" rx="2" ry="2" fill="#44ff12" opacity="1" filter="url(#b03)"/><path d="M30.22,9.38 C30.64,9.25 32.34,10.29 32.83,10.29 C33.32,10.29 34.10,9.13 34.42,9.38 C34.74,9.63 35.34,11.83 35.57,12.41 C35.81,13.00 36.18,14.03 36.44,14.39 C36.69,14.74 37.57,15.01 37.76,15.42 C37.95,15.83 38.16,17.29 38.06,17.92 C37.95,18.54 37.18,20.41 36.86,20.79 C36.54,21.18 35.08,21.17 35.35,21.23 C35.62,21.30 38.60,21.40 39.20,21.34 C39.81,21.29 40.04,20.68 40.52,20.73 C40.99,20.77 42.70,21.75 43.28,21.73 C43.87,21.71 45.03,20.39 45.54,20.55 C46.04,20.70 47.15,22.49 47.64,23.08 C48.12,23.66 49.54,24.96 49.73,25.54 C49.92,26.12 49.17,27.18 49.27,28.03 C49.36,28.87 50.66,31.98 50.54,32.78 C50.42,33.58 48.48,34.36 48.25,34.88 C48.02,35.40 48.90,36.88 48.59,37.24 C48.27,37.60 46.04,37.94 45.55,37.97 C45.06,38.01 44.76,37.56 44.37,37.51 C43.98,37.46 42.82,37.52 42.23,37.55 C41.63,37.58 39.56,37.41 39.27,37.74 C38.98,38.06 39.62,39.66 39.73,40.33 C39.85,41.01 40.29,42.96 40.23,43.54 C40.18,44.11 39.52,44.92 39.24,45.26 C38.95,45.60 38.32,46.44 37.79,46.46 C37.26,46.49 35.23,45.53 34.69,45.48 C34.15,45.44 33.65,46.15 33.20,46.07 C32.74,46.00 31.44,44.90 30.78,44.85 C30.12,44.80 27.93,45.74 27.51,45.67 C27.09,45.61 27.41,44.64 27.16,44.31 C26.91,43.98 25.24,43.14 25.35,42.84 C25.47,42.54 27.64,42.13 28.16,41.74 C28.67,41.35 29.64,39.95 29.79,39.52 C29.93,39.08 29.41,38.45 29.43,37.98 C29.44,37.51 29.83,36.17 29.91,35.46 C29.99,34.75 30.16,32.44 30.10,31.89 C30.03,31.34 29.38,31.40 29.36,30.77 C29.33,30.15 29.73,27.26 29.89,26.51 C30.05,25.76 30.60,24.99 30.74,24.34 C30.87,23.69 31.15,21.65 31.07,20.96 C30.98,20.28 30.22,19.06 30.00,18.46 C29.77,17.86 29.24,16.29 29.14,15.80 C29.05,15.30 29.17,14.73 29.18,14.22 C29.19,13.70 29.14,11.94 29.26,11.38 C29.38,10.81 29.80,9.51 30.22,9.38Z" fill="#44ff12" opacity="1" filter="url(#b03)"/><ellipse cx="43" cy="24" rx="1" ry="1" fill="#000" opacity="1" filter="url(#b03)"/><ellipse cx="33" cy="24" rx="1.5" ry="1.2" fill="#000" opacity="0.8" filter="url(#b03)"/><g fill="#000" filter="url(#b03)"><circle cx="30.8" cy="15.8" r="0.58" opacity="0.96"/><circle cx="35.0" cy="25.0" r="0.46" opacity="0.80"/><circle cx="38.4" cy="21.4" r="0.97" opacity="0.95"/><circle cx="33.7" cy="12.0" r="0.85" opacity="0.65"/><circle cx="38.4" cy="27.1" r="0.97" opacity="0.68"/><circle cx="30.8" cy="14.2" r="0.99" opacity="0.64"/><circle cx="31.6" cy="12.4" r="0.43" opacity="0.62"/><circle cx="33.5" cy="14.9" r="0.59" opacity="0.97"/><circle cx="31.7" cy="26.7" r="0.84" opacity="0.83"/><circle cx="35.8" cy="25.9" r="0.75" opacity="0.69"/><circle cx="33.3" cy="16.4" r="0.64" opacity="0.99"/><circle cx="34.3" cy="13.3" r="0.69" opacity="0.93"/><circle cx="34.5" cy="24.6" r="0.45" opacity="0.62"/><circle cx="36.6" cy="12.9" r="0.58" opacity="0.75"/><circle cx="31.9" cy="12.7" r="0.40" opacity="0.98"/><circle cx="36.9" cy="29.1" r="0.70" opacity="0.98"/><circle cx="38.6" cy="23.1" r="0.72" opacity="0.80"/><circle cx="32.3" cy="18.8" r="0.83" opacity="0.68"/><circle cx="38.5" cy="21.2" r="0.76" opacity="0.93"/><circle cx="36.5" cy="14.5" r="0.55" opacity="0.60"/><circle cx="35.9" cy="29.4" r="0.87" opacity="0.73"/><circle cx="34.6" cy="13.5" r="0.59" opacity="0.67"/><circle cx="33.7" cy="13.5" r="0.83" opacity="0.99"/><circle cx="32.1" cy="26.0" r="0.75" opacity="0.79"/><circle cx="39.1" cy="18.8" r="0.89" opacity="0.61"/><circle cx="37.2" cy="24.1" r="0.86" opacity="0.75"/></g><ellipse cx="15" cy="21" rx="0.9" ry="0.9" fill="#44ff12" opacity="1" filter="url(#b03)"/><ellipse cx="18" cy="24" rx="0.9" ry="0.9" fill="#44ff12" opacity="1" filter="url(#b03)"/><ellipse cx="14" cy="32" rx="0.9" ry="0.9" fill="#44ff12" opacity="1" filter="url(#b03)"/><ellipse cx="20" cy="39" rx="0.9" ry="0.9" fill="#44ff12" opacity="1" filter="url(#b03)"/><ellipse cx="22" cy="43" rx="0.9" ry="0.9" fill="#44ff12" opacity="1" filter="url(#b03)"/><ellipse cx="15" cy="28" rx="0.9" ry="0.9" fill="#44ff12" opacity="1" filter="url(#b03)"/><ellipse cx="13" cy="33" rx="0.9" ry="0.9" fill="#44ff12" opacity="1" filter="url(#b03)"/><ellipse cx="17" cy="17" rx="0.9" ry="0.9" fill="#44ff12" opacity="1" filter="url(#b03)"/><ellipse cx="19" cy="36" rx="0.9" ry="0.9" fill="#44ff12" opacity="1" filter="url(#b03)"/><ellipse cx="24" cy="29" rx="0.9" ry="0.9" fill="#44ff12" opacity="1" filter="url(#b03)"/><ellipse cx="26" cy="20" rx="0.9" ry="0.9" fill="#44ff12" opacity="1" filter="url(#b03)"/><ellipse cx="12" cy="30" rx="0.9" ry="0.9" fill="#44ff12" opacity="1" filter="url(#b03)"/></g></g>
<g clip-path="url(#c32)" style="isolation:isolate"><rect x="360.8" y="447.3" width="63.4" height="62.8" fill="#000"/><g transform="translate(360.8 447.3) scale(0.9906 0.9813)"><g style="mix-blend-mode:screen"><path d="M17.99,17.06 C19.68,16.05 24.70,15.57 26.31,15.82 C27.92,16.07 30.93,18.02 31.82,19.19 C32.72,20.36 33.68,23.92 33.99,25.86 C34.29,27.80 34.56,33.46 34.41,35.83 C34.25,38.19 33.25,44.11 32.67,46.13 C32.08,48.16 30.62,52.17 29.39,53.19 C28.16,54.20 23.82,55.02 22.13,54.84 C20.45,54.66 16.21,52.93 14.93,51.64 C13.66,50.36 11.83,45.92 11.23,43.80 C10.63,41.68 9.72,35.73 9.79,33.48 C9.86,31.23 10.88,26.39 11.84,24.48 C12.80,22.56 16.31,18.07 17.99,17.06Z" fill="#2222ff" opacity="1" filter="url(#b03)"/></g><g style="mix-blend-mode:screen"><ellipse cx="25" cy="13.5" rx="3.5" ry="3" fill="#44ff12" opacity="1" filter="url(#b03)"/><ellipse cx="37" cy="15" rx="3.5" ry="3" fill="#44ff12" opacity="1" filter="url(#b03)"/><path d="M33.68,18.48 C34.18,17.80 37.02,19.86 37.75,20.58 C38.48,21.30 38.89,24.24 39.94,24.64 C41.00,25.04 45.31,23.65 46.77,24.01 C48.23,24.37 51.29,26.75 52.46,27.74 C53.63,28.73 56.32,31.05 56.78,32.47 C57.24,33.90 56.60,38.44 56.40,39.96 C56.19,41.47 55.81,44.72 55.03,45.44 C54.25,46.16 50.87,46.25 49.75,46.14 C48.63,46.04 46.09,44.08 45.46,44.54 C44.82,45.00 44.83,49.06 44.33,50.07 C43.82,51.08 42.34,52.88 41.10,53.19 C39.86,53.49 35.14,53.07 33.70,52.69 C32.26,52.31 28.86,50.87 28.75,49.94 C28.63,49.01 32.14,45.87 32.71,44.69 C33.29,43.52 33.48,41.17 33.66,39.88 C33.85,38.59 34.33,35.22 34.30,33.65 C34.28,32.07 33.55,28.14 33.48,26.37 C33.40,24.60 33.19,19.15 33.68,18.48Z" fill="#44ff12" opacity="1" filter="url(#b03)"/><g fill="#000" filter="url(#b03)"><circle cx="39.0" cy="24.2" r="1.05" opacity="0.85"/><circle cx="35.8" cy="29.2" r="0.55" opacity="0.76"/><circle cx="35.7" cy="27.9" r="1.01" opacity="0.88"/><circle cx="37.0" cy="30.3" r="1.02" opacity="0.80"/><circle cx="37.5" cy="28.4" r="1.08" opacity="0.97"/><circle cx="42.9" cy="28.9" r="0.64" opacity="0.88"/><circle cx="38.9" cy="28.0" r="0.79" opacity="0.76"/><circle cx="38.1" cy="24.6" r="1.08" opacity="0.74"/><circle cx="38.5" cy="25.8" r="0.72" opacity="0.81"/><circle cx="38.1" cy="21.8" r="1.09" opacity="0.92"/><circle cx="41.1" cy="26.9" r="0.62" opacity="0.77"/><circle cx="43.7" cy="30.1" r="0.77" opacity="0.92"/><circle cx="38.3" cy="25.4" r="0.70" opacity="0.86"/><circle cx="37.7" cy="22.3" r="1.02" opacity="0.83"/><circle cx="42.2" cy="22.4" r="0.68" opacity="0.85"/><circle cx="36.6" cy="25.4" r="0.68" opacity="0.93"/><circle cx="39.6" cy="23.8" r="0.85" opacity="0.84"/><circle cx="37.0" cy="29.6" r="0.85" opacity="0.70"/><circle cx="39.9" cy="25.4" r="0.55" opacity="0.99"/><circle cx="39.3" cy="25.8" r="0.59" opacity="0.90"/><circle cx="39.3" cy="23.0" r="1.00" opacity="0.88"/><circle cx="38.8" cy="31.2" r="0.75" opacity="0.72"/></g></g><g style="mix-blend-mode:screen"><path d="M34.97,12.18 C35.19,11.28 37.24,10.11 37.87,9.59 C38.49,9.06 39.57,7.82 40.32,7.68 C41.07,7.55 43.69,7.97 44.29,8.43 C44.88,8.88 45.52,10.67 45.42,11.58 C45.33,12.49 44.14,15.41 43.45,16.21 C42.76,17.02 40.39,18.38 39.51,18.51 C38.63,18.63 36.45,18.05 35.92,17.31 C35.39,16.57 34.74,13.08 34.97,12.18Z" fill="#ff2212" opacity="0.95" filter="url(#b03)"/><path d="M51.90,37.75 C52.12,36.63 54.81,35.66 55.41,35.93 C56.01,36.20 56.99,38.98 57.03,40.06 C57.08,41.14 56.22,44.53 55.81,45.17 C55.39,45.80 53.94,46.35 53.48,45.49 C53.02,44.62 51.67,38.86 51.90,37.75Z" fill="#ff2212" opacity="1" filter="url(#b03)"/><path d="M34.14,42.87 C34.60,42.02 37.52,40.79 38.49,40.89 C39.47,40.99 41.74,42.95 42.51,43.72 C43.29,44.49 45.08,46.64 45.12,47.49 C45.16,48.34 43.81,50.55 42.85,50.99 C41.90,51.43 37.90,51.59 36.94,51.26 C35.97,50.92 34.89,49.12 34.57,48.14 C34.24,47.16 33.68,43.71 34.14,42.87Z" fill="#ff2212" opacity="0.7" filter="url(#b03)"/><ellipse cx="49" cy="30" rx="2" ry="3" fill="#ff2212" opacity="0.5" filter="url(#b06)"/></g><g style="mix-blend-mode:screen"><ellipse cx="13" cy="30" rx="0.9" ry="0.9" fill="#80ffff" opacity="1" filter="url(#b03)"/><ellipse cx="16" cy="27" rx="1" ry="1" fill="#80ffff" opacity="1" filter="url(#b03)"/><ellipse cx="19" cy="31" rx="0.8" ry="0.8" fill="#80ffff" opacity="1" filter="url(#b03)"/><ellipse cx="14" cy="38" rx="1" ry="1" fill="#80ffff" opacity="1" filter="url(#b03)"/><ellipse cx="20" cy="45" rx="0.8" ry="0.8" fill="#80ffff" opacity="1" filter="url(#b03)"/><ellipse cx="31" cy="38" rx="0.8" ry="0.8" fill="#80ffff" opacity="1" filter="url(#b03)"/><ellipse cx="30" cy="43" rx="0.8" ry="0.8" fill="#80ffff" opacity="1" filter="url(#b03)"/><ellipse cx="33" cy="30" rx="0.8" ry="0.8" fill="#80ffff" opacity="1" filter="url(#b03)"/></g></g></g>
<defs><clipPath id="c0"><rect x="294.2" y="17.8" width="63.3" height="63.0"/></clipPath><clipPath id="c1"><rect x="359.8" y="17.8" width="63.2" height="63.0"/></clipPath><clipPath id="c2"><rect x="425.2" y="17.8" width="63.0" height="63.0"/></clipPath><clipPath id="c3"><rect x="294.2" y="82.8" width="63.3" height="63.0"/></clipPath><clipPath id="c4"><rect x="359.8" y="82.8" width="63.2" height="63.0"/></clipPath><clipPath id="c5"><rect x="425.2" y="82.8" width="63.0" height="63.0"/></clipPath><clipPath id="c6"><rect x="294.2" y="147.7" width="63.3" height="63.0"/></clipPath><clipPath id="c7"><rect x="359.8" y="147.7" width="63.2" height="63.0"/></clipPath><clipPath id="c8"><rect x="425.2" y="147.7" width="63.0" height="63.0"/></clipPath><clipPath id="c9"><rect x="20.2" y="248.6" width="63.5" height="63.0"/></clipPath><clipPath id="c10"><rect x="85.4" y="248.6" width="63.1" height="63.0"/></clipPath><clipPath id="c11"><rect x="150.9" y="248.6" width="63.1" height="63.0"/></clipPath><clipPath id="c12"><rect x="20.2" y="314.7" width="63.5" height="63.0"/></clipPath><clipPath id="c13"><rect x="85.4" y="314.7" width="63.1" height="63.0"/></clipPath><clipPath id="c14"><rect x="150.9" y="314.7" width="63.1" height="63.0"/></clipPath><clipPath id="c15"><rect x="20.2" y="380.8" width="63.5" height="62.9"/></clipPath><clipPath id="c16"><rect x="85.4" y="380.8" width="63.1" height="62.9"/></clipPath><clipPath id="c17"><rect x="150.9" y="380.8" width="63.1" height="62.9"/></clipPath><clipPath id="c18"><rect x="20.2" y="447.3" width="63.5" height="62.8"/></clipPath><clipPath id="c19"><rect x="85.4" y="447.3" width="63.1" height="62.8"/></clipPath><clipPath id="c20"><rect x="150.9" y="447.3" width="63.1" height="62.8"/></clipPath><clipPath id="c21"><rect x="229.6" y="248.6" width="63.4" height="63.0"/></clipPath><clipPath id="c22"><rect x="295.1" y="248.6" width="63.1" height="63.0"/></clipPath><clipPath id="c23"><rect x="360.8" y="248.6" width="63.4" height="63.0"/></clipPath><clipPath id="c24"><rect x="229.6" y="314.7" width="63.4" height="63.0"/></clipPath><clipPath id="c25"><rect x="295.1" y="314.7" width="63.1" height="63.0"/></clipPath><clipPath id="c26"><rect x="360.8" y="314.7" width="63.4" height="63.0"/></clipPath><clipPath id="c27"><rect x="229.6" y="380.8" width="63.4" height="62.9"/></clipPath><clipPath id="c28"><rect x="295.1" y="380.8" width="63.1" height="62.9"/></clipPath><clipPath id="c29"><rect x="360.8" y="380.8" width="63.4" height="62.9"/></clipPath><clipPath id="c30"><rect x="229.6" y="447.3" width="63.4" height="62.8"/></clipPath><clipPath id="c31"><rect x="295.1" y="447.3" width="63.1" height="62.8"/></clipPath><clipPath id="c32"><rect x="360.8" y="447.3" width="63.4" height="62.8"/></clipPath></defs>
<defs>
<filter id="b03" x="-50%" y="-50%" width="200%" height="200%"><feGaussianBlur stdDeviation="0.35"/></filter>
<filter id="b06" x="-50%" y="-50%" width="200%" height="200%"><feGaussianBlur stdDeviation="0.7"/></filter>
<filter id="b10" x="-50%" y="-50%" width="200%" height="200%"><feGaussianBlur stdDeviation="1.1"/></filter>
<filter id="b18" x="-50%" y="-50%" width="200%" height="200%"><feGaussianBlur stdDeviation="2"/></filter>
<filter id="b30" x="-50%" y="-50%" width="200%" height="200%"><feGaussianBlur stdDeviation="3.5"/></filter>
</defs>
<rect x="126.6" y="520.2" width="20" height="11.4" fill="#ff2a1a" stroke="#5577aa" stroke-width="1"/>
<text x="153.4" y="530.4" font-size="11" font-weight="bold" text-anchor="start" fill="#000">CON</text>
<rect x="207.8" y="520.2" width="20" height="11.4" fill="#000" stroke="#5577aa" stroke-width="1"/>
<text x="234.0" y="530.4" font-size="11" font-weight="bold" text-anchor="start" fill="#000">LPS</text>
<rect x="282.4" y="520.2" width="20" height="11.4" fill="#33ee22" stroke="#5577aa" stroke-width="1"/>
<text x="308.5" y="530.4" font-size="11" font-weight="bold" text-anchor="start" fill="#000">Rv2299c</text>
<rect x="377.7" y="520.2" width="20" height="11.4" fill="#1a10f0" stroke="#5577aa" stroke-width="1"/>
<text x="404.0" y="530.4" font-size="11" font-weight="bold" text-anchor="start" fill="#000">REA</text>
</svg></body></html>
